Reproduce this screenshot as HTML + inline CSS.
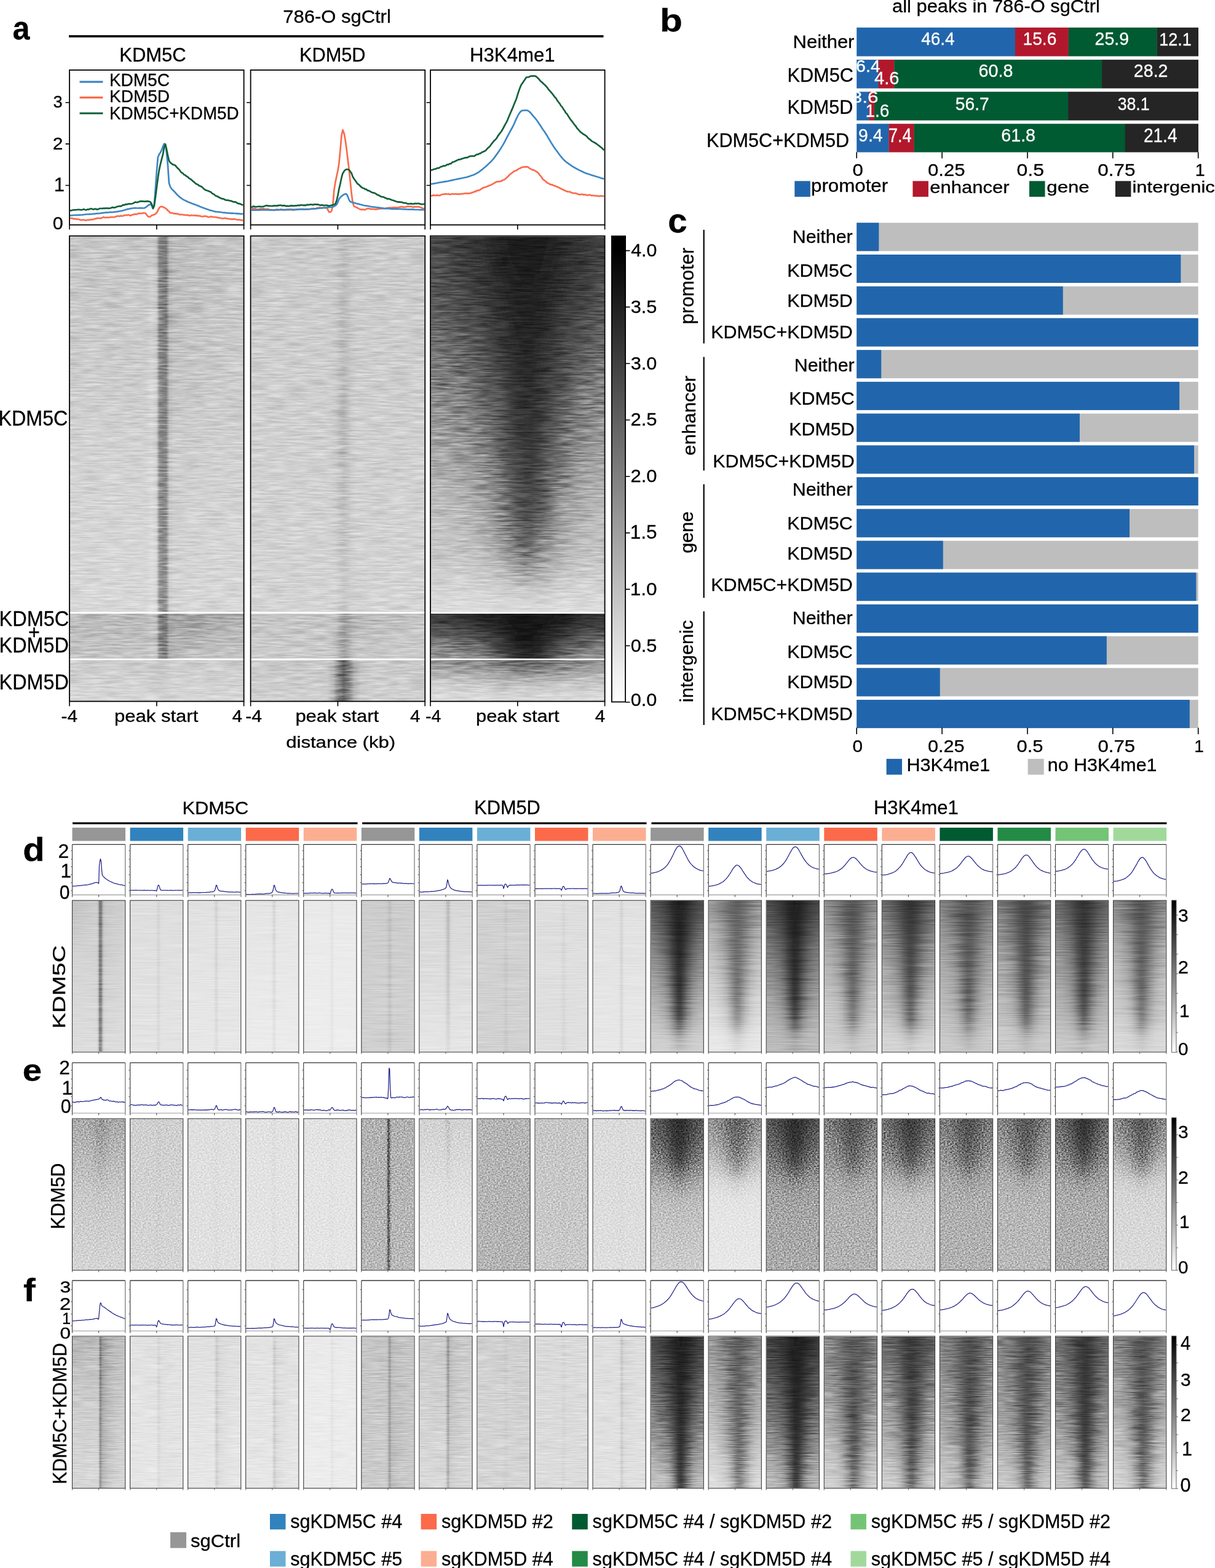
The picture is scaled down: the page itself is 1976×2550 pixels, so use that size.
<!DOCTYPE html>
<html><head><meta charset="utf-8"><style>
html,body{margin:0;padding:0;background:#fff;}
body{width:1976px;height:2550px;position:relative;overflow:hidden;font-family:"Liberation Sans",Arial,sans-serif;}
.hm{position:absolute;overflow:hidden;}
.hi{position:absolute;left:0;width:100%;}
.hi i{display:block;}
svg{position:absolute;left:0;top:0;}
text{stroke:#000;stroke-width:.3px}
</style></head><body>
<svg width="0" height="0" style="position:absolute"><defs>
<filter id="vb1" x="0" y="-5%" width="100%" height="110%"><feGaussianBlur stdDeviation="0 7"/></filter>
<filter id="vb2" x="0" y="-5%" width="100%" height="110%"><feGaussianBlur stdDeviation="0 6"/></filter>
</defs></svg>
<div class="hm" style="left:114.0px;top:384.7px;width:281.6px;height:610.4px;"><div class="hi" style="top:-12px;filter:url(#vb1);"><i style="height:12px;background:linear-gradient(90deg,#c6c6c6,#c6c6c6 12.5%,#c6c6c6 25.0%,#c6c6c6 37.5%,#c6c6c6 43.8%,#cdcdcd 47.2%,#c4c4c4 49.8%,#898989 51.6%,#808080 53.5%,#787878 55.4%,#aeaeae 57.2%,#b9b9b9 59.8%,#bcbcbc 64.8%,#bebebe 68.8%,#c2c2c2 81.2%,#c4c4c4 91.2%,#c4c4c4)"></i><i style="height:15.26px;background:linear-gradient(90deg,#c6c6c6,#c6c6c6 12.5%,#c6c6c6 25.0%,#c6c6c6 37.5%,#c6c6c6 43.8%,#cdcdcd 47.2%,#c4c4c4 49.8%,#898989 51.6%,#808080 53.5%,#787878 55.4%,#afafaf 57.2%,#b9b9b9 59.8%,#bcbcbc 64.8%,#bebebe 68.8%,#c2c2c2 81.2%,#c4c4c4 91.2%,#c5c5c5)"></i><i style="height:15.26px;background:linear-gradient(90deg,#c7c7c7,#c7c7c7 12.5%,#c7c7c7 25.0%,#c7c7c7 37.5%,#c7c7c7 43.8%,#cecece 47.2%,#c5c5c5 49.8%,#898989 51.6%,#808080 53.5%,#797979 55.4%,#b0b0b0 57.2%,#bababa 59.8%,#bdbdbd 64.8%,#bfbfbf 68.8%,#c3c3c3 81.2%,#c4c4c4 91.2%,#c5c5c5)"></i><i style="height:15.26px;background:linear-gradient(90deg,#c7c7c7,#c7c7c7 12.5%,#c7c7c7 25.0%,#c7c7c7 37.5%,#c7c7c7 43.8%,#cecece 47.2%,#c5c5c5 49.8%,#898989 51.6%,#808080 53.5%,#7a7a7a 55.4%,#b0b0b0 57.2%,#bbbbbb 59.8%,#bebebe 64.8%,#c0c0c0 68.8%,#c3c3c3 81.2%,#c5c5c5 91.2%,#c6c6c6)"></i><i style="height:15.26px;background:linear-gradient(90deg,#c7c7c7,#c7c7c7 12.5%,#c7c7c7 25.0%,#c7c7c7 37.5%,#c7c7c7 43.8%,#cecece 47.2%,#c6c6c6 49.8%,#898989 51.6%,#808080 53.5%,#7a7a7a 55.4%,#b1b1b1 57.2%,#bcbcbc 59.8%,#bebebe 64.8%,#c0c0c0 68.8%,#c4c4c4 81.2%,#c5c5c5 91.2%,#c6c6c6)"></i><i style="height:15.26px;background:linear-gradient(90deg,#c8c8c8,#c8c8c8 12.5%,#c8c8c8 25.0%,#c8c8c8 37.5%,#c8c8c8 43.8%,#cfcfcf 47.2%,#c6c6c6 49.8%,#8a8a8a 51.6%,#818181 53.5%,#7b7b7b 55.4%,#b2b2b2 57.2%,#bcbcbc 59.8%,#bfbfbf 64.8%,#c1c1c1 68.8%,#c4c4c4 81.2%,#c6c6c6 91.2%,#c7c7c7)"></i><i style="height:15.26px;background:linear-gradient(90deg,#c8c8c8,#c8c8c8 12.5%,#c8c8c8 25.0%,#c8c8c8 37.5%,#c8c8c8 43.8%,#cfcfcf 47.2%,#c7c7c7 49.8%,#8a8a8a 51.6%,#818181 53.5%,#7b7b7b 55.4%,#b3b3b3 57.2%,#bdbdbd 59.8%,#c0c0c0 64.8%,#c1c1c1 68.8%,#c5c5c5 81.2%,#c6c6c6 91.2%,#c7c7c7)"></i><i style="height:15.26px;background:linear-gradient(90deg,#c9c9c9,#c9c9c9 12.5%,#c9c9c9 25.0%,#c9c9c9 37.5%,#c9c9c9 43.8%,#d0d0d0 47.2%,#c7c7c7 49.8%,#8a8a8a 51.6%,#818181 53.5%,#7c7c7c 55.4%,#b4b4b4 57.2%,#bebebe 59.8%,#c0c0c0 64.8%,#c2c2c2 68.8%,#c5c5c5 81.2%,#c7c7c7 91.2%,#c7c7c7)"></i><i style="height:15.26px;background:linear-gradient(90deg,#c9c9c9,#c9c9c9 12.5%,#c9c9c9 25.0%,#c9c9c9 37.5%,#c9c9c9 43.8%,#d0d0d0 47.2%,#c8c8c8 49.8%,#8a8a8a 51.6%,#818181 53.5%,#7c7c7c 55.4%,#b4b4b4 57.2%,#bebebe 59.8%,#c1c1c1 64.8%,#c2c2c2 68.8%,#c6c6c6 81.2%,#c7c7c7 91.2%,#c8c8c8)"></i><i style="height:15.26px;background:linear-gradient(90deg,#cacaca,#cacaca 12.5%,#cacaca 25.0%,#cacaca 37.5%,#cacaca 43.8%,#d1d1d1 47.2%,#c8c8c8 49.8%,#8a8a8a 51.6%,#818181 53.5%,#7d7d7d 55.4%,#b5b5b5 57.2%,#bfbfbf 59.8%,#c2c2c2 64.8%,#c3c3c3 68.8%,#c6c6c6 81.2%,#c8c8c8 91.2%,#c8c8c8)"></i><i style="height:15.26px;background:linear-gradient(90deg,#cacaca,#cacaca 12.5%,#cacaca 25.0%,#cacaca 37.5%,#cacaca 43.8%,#d1d1d1 47.2%,#c8c8c8 49.8%,#8a8a8a 51.6%,#818181 53.5%,#7d7d7d 55.4%,#b6b6b6 57.2%,#c0c0c0 59.8%,#c2c2c2 64.8%,#c4c4c4 68.8%,#c7c7c7 81.2%,#c8c8c8 91.2%,#c9c9c9)"></i><i style="height:15.26px;background:linear-gradient(90deg,#cacaca,#cacaca 12.5%,#cacaca 25.0%,#cacaca 37.5%,#cacaca 43.8%,#d1d1d1 47.2%,#c9c9c9 49.8%,#8b8b8b 51.6%,#818181 53.5%,#7e7e7e 55.4%,#b7b7b7 57.2%,#c0c0c0 59.8%,#c3c3c3 64.8%,#c4c4c4 68.8%,#c7c7c7 81.2%,#c9c9c9 91.2%,#c9c9c9)"></i><i style="height:15.26px;background:linear-gradient(90deg,#cbcbcb,#cbcbcb 12.5%,#cbcbcb 25.0%,#cbcbcb 37.5%,#cbcbcb 43.8%,#d2d2d2 47.2%,#c9c9c9 49.8%,#8b8b8b 51.6%,#818181 53.5%,#7f7f7f 55.4%,#b7b7b7 57.2%,#c1c1c1 59.8%,#c3c3c3 64.8%,#c5c5c5 68.8%,#c8c8c8 81.2%,#c9c9c9 91.2%,#cacaca)"></i><i style="height:15.26px;background:linear-gradient(90deg,#cbcbcb,#cbcbcb 12.5%,#cbcbcb 25.0%,#cbcbcb 37.5%,#cbcbcb 43.8%,#d2d2d2 47.2%,#cacaca 49.8%,#8b8b8b 51.6%,#828282 53.5%,#7f7f7f 55.4%,#b8b8b8 57.2%,#c2c2c2 59.8%,#c4c4c4 64.8%,#c6c6c6 68.8%,#c8c8c8 81.2%,#cacaca 91.2%,#cacaca)"></i><i style="height:15.26px;background:linear-gradient(90deg,#cccccc,#cccccc 12.5%,#cccccc 25.0%,#cccccc 37.5%,#cccccc 43.8%,#d3d3d3 47.2%,#cbcbcb 49.8%,#8b8b8b 51.6%,#828282 53.5%,#808080 55.4%,#b9b9b9 57.2%,#c3c3c3 59.8%,#c5c5c5 64.8%,#c6c6c6 68.8%,#c9c9c9 81.2%,#cacaca 91.2%,#cbcbcb)"></i><i style="height:15.26px;background:linear-gradient(90deg,#cccccc,#cccccc 12.5%,#cccccc 25.0%,#cccccc 37.5%,#cccccc 43.8%,#d3d3d3 47.2%,#cbcbcb 49.8%,#8c8c8c 51.6%,#828282 53.5%,#818181 55.4%,#bababa 57.2%,#c4c4c4 59.8%,#c6c6c6 64.8%,#c7c7c7 68.8%,#cacaca 81.2%,#cbcbcb 91.2%,#cbcbcb)"></i><i style="height:15.26px;background:linear-gradient(90deg,#cdcdcd,#cdcdcd 12.5%,#cdcdcd 25.0%,#cdcdcd 37.5%,#cdcdcd 43.8%,#d4d4d4 47.2%,#cccccc 49.8%,#8c8c8c 51.6%,#828282 53.5%,#818181 55.4%,#bbbbbb 57.2%,#c5c5c5 59.8%,#c7c7c7 64.8%,#c8c8c8 68.8%,#cacaca 81.2%,#cbcbcb 91.2%,#cccccc)"></i><i style="height:15.26px;background:linear-gradient(90deg,#cecece,#cecece 12.5%,#cecece 25.0%,#cecece 37.5%,#cecece 43.8%,#d5d5d5 47.2%,#cccccc 49.8%,#8d8d8d 51.6%,#838383 53.5%,#828282 55.4%,#bcbcbc 57.2%,#c5c5c5 59.8%,#c7c7c7 64.8%,#c9c9c9 68.8%,#cbcbcb 81.2%,#cccccc 91.2%,#cdcdcd)"></i><i style="height:15.26px;background:linear-gradient(90deg,#cecece,#cecece 12.5%,#cecece 25.0%,#cecece 37.5%,#cecece 43.8%,#d5d5d5 47.2%,#cdcdcd 49.8%,#8d8d8d 51.6%,#838383 53.5%,#838383 55.4%,#bdbdbd 57.2%,#c6c6c6 59.8%,#c8c8c8 64.8%,#c9c9c9 68.8%,#cccccc 81.2%,#cdcdcd 91.2%,#cdcdcd)"></i><i style="height:15.26px;background:linear-gradient(90deg,#cfcfcf,#cfcfcf 12.5%,#cfcfcf 25.0%,#cfcfcf 37.5%,#cfcfcf 43.8%,#d6d6d6 47.2%,#cecece 49.8%,#8d8d8d 51.6%,#838383 53.5%,#838383 55.4%,#bebebe 57.2%,#c7c7c7 59.8%,#c9c9c9 64.8%,#cacaca 68.8%,#cccccc 81.2%,#cdcdcd 91.2%,#cecece)"></i><i style="height:15.26px;background:linear-gradient(90deg,#cfcfcf,#cfcfcf 12.5%,#cfcfcf 25.0%,#cfcfcf 37.5%,#cfcfcf 43.8%,#d6d6d6 47.2%,#cecece 49.8%,#8e8e8e 51.6%,#848484 53.5%,#848484 55.4%,#bfbfbf 57.2%,#c8c8c8 59.8%,#cacaca 64.8%,#cbcbcb 68.8%,#cdcdcd 81.2%,#cecece 91.2%,#cfcfcf)"></i><i style="height:15.26px;background:linear-gradient(90deg,#d0d0d0,#d0d0d0 12.5%,#d0d0d0 25.0%,#d0d0d0 37.5%,#d0d0d0 43.8%,#d7d7d7 47.2%,#cfcfcf 49.8%,#8e8e8e 51.6%,#848484 53.5%,#858585 55.4%,#c0c0c0 57.2%,#c9c9c9 59.8%,#cbcbcb 64.8%,#cccccc 68.8%,#cecece 81.2%,#cfcfcf 91.2%,#cfcfcf)"></i><i style="height:15.26px;background:linear-gradient(90deg,#d1d1d1,#d1d1d1 12.5%,#d1d1d1 25.0%,#d1d1d1 37.5%,#d1d1d1 43.8%,#d8d8d8 47.2%,#d0d0d0 49.8%,#8f8f8f 51.6%,#858585 53.5%,#868686 55.4%,#c1c1c1 57.2%,#cacaca 59.8%,#cbcbcb 64.8%,#cccccc 68.8%,#cecece 81.2%,#cfcfcf 91.2%,#d0d0d0)"></i><i style="height:15.26px;background:linear-gradient(90deg,#d1d1d1,#d1d1d1 12.5%,#d1d1d1 25.0%,#d1d1d1 37.5%,#d1d1d1 43.8%,#d8d8d8 47.2%,#d0d0d0 49.8%,#909090 51.6%,#858585 53.5%,#878787 55.4%,#c2c2c2 57.2%,#cacaca 59.8%,#cccccc 64.8%,#cdcdcd 68.8%,#cfcfcf 81.2%,#d0d0d0 91.2%,#d0d0d0)"></i><i style="height:15.26px;background:linear-gradient(90deg,#d2d2d2,#d2d2d2 12.5%,#d2d2d2 25.0%,#d2d2d2 37.5%,#d2d2d2 43.8%,#d9d9d9 47.2%,#d1d1d1 49.8%,#909090 51.6%,#868686 53.5%,#888888 55.4%,#c3c3c3 57.2%,#cbcbcb 59.8%,#cdcdcd 64.8%,#cecece 68.8%,#d0d0d0 81.2%,#d1d1d1 91.2%,#d1d1d1)"></i><i style="height:15.26px;background:linear-gradient(90deg,#d2d2d2,#d2d2d2 12.5%,#d2d2d2 25.0%,#d2d2d2 37.5%,#d2d2d2 43.8%,#d9d9d9 47.2%,#d2d2d2 49.8%,#919191 51.6%,#878787 53.5%,#898989 55.4%,#c3c3c3 57.2%,#cccccc 59.8%,#cdcdcd 64.8%,#cecece 68.8%,#d0d0d0 81.2%,#d1d1d1 91.2%,#d1d1d1)"></i><i style="height:15.26px;background:linear-gradient(90deg,#d3d3d3,#d3d3d3 12.5%,#d3d3d3 25.0%,#d3d3d3 37.5%,#d3d3d3 43.8%,#dadada 47.2%,#d2d2d2 49.8%,#919191 51.6%,#878787 53.5%,#8a8a8a 55.4%,#c4c4c4 57.2%,#cdcdcd 59.8%,#cecece 64.8%,#cfcfcf 68.8%,#d1d1d1 81.2%,#d1d1d1 91.2%,#d2d2d2)"></i><i style="height:15.26px;background:linear-gradient(90deg,#d3d3d3,#d3d3d3 12.5%,#d3d3d3 25.0%,#d3d3d3 37.5%,#d3d3d3 43.8%,#dadada 47.2%,#d2d2d2 49.8%,#929292 51.6%,#888888 53.5%,#8a8a8a 55.4%,#c5c5c5 57.2%,#cdcdcd 59.8%,#cfcfcf 64.8%,#cfcfcf 68.8%,#d1d1d1 81.2%,#d2d2d2 91.2%,#d2d2d2)"></i><i style="height:15.26px;background:linear-gradient(90deg,#d3d3d3,#d3d3d3 12.5%,#d3d3d3 25.0%,#d3d3d3 37.5%,#d3d3d3 43.8%,#dadada 47.2%,#d3d3d3 49.8%,#929292 51.6%,#888888 53.5%,#8b8b8b 55.4%,#c6c6c6 57.2%,#cecece 59.8%,#cfcfcf 64.8%,#d0d0d0 68.8%,#d2d2d2 81.2%,#d2d2d2 91.2%,#d3d3d3)"></i><i style="height:15.26px;background:linear-gradient(90deg,#d4d4d4,#d4d4d4 12.5%,#d4d4d4 25.0%,#d4d4d4 37.5%,#d4d4d4 43.8%,#dbdbdb 47.2%,#d3d3d3 49.8%,#939393 51.6%,#898989 53.5%,#8c8c8c 55.4%,#c6c6c6 57.2%,#cecece 59.8%,#d0d0d0 64.8%,#d0d0d0 68.8%,#d2d2d2 81.2%,#d3d3d3 91.2%,#d3d3d3)"></i><i style="height:15.26px;background:linear-gradient(90deg,#d4d4d4,#d4d4d4 12.5%,#d4d4d4 25.0%,#d4d4d4 37.5%,#d4d4d4 43.8%,#dbdbdb 47.2%,#d4d4d4 49.8%,#939393 51.6%,#898989 53.5%,#8d8d8d 55.4%,#c7c7c7 57.2%,#cfcfcf 59.8%,#d0d0d0 64.8%,#d1d1d1 68.8%,#d2d2d2 81.2%,#d3d3d3 91.2%,#d3d3d3)"></i><i style="height:15.26px;background:linear-gradient(90deg,#d4d4d4,#d4d4d4 12.5%,#d4d4d4 25.0%,#d4d4d4 37.5%,#d4d4d4 43.8%,#dbdbdb 47.2%,#d4d4d4 49.8%,#949494 51.6%,#898989 53.5%,#8e8e8e 55.4%,#c8c8c8 57.2%,#d0d0d0 59.8%,#d1d1d1 64.8%,#d1d1d1 68.8%,#d3d3d3 81.2%,#d4d4d4 91.2%,#d4d4d4)"></i><i style="height:15.26px;background:linear-gradient(90deg,#d5d5d5,#d5d5d5 12.5%,#d5d5d5 25.0%,#d5d5d5 37.5%,#d5d5d5 43.8%,#dcdcdc 47.2%,#d5d5d5 49.8%,#949494 51.6%,#8a8a8a 53.5%,#8e8e8e 55.4%,#c8c8c8 57.2%,#d0d0d0 59.8%,#d1d1d1 64.8%,#d2d2d2 68.8%,#d3d3d3 81.2%,#d4d4d4 91.2%,#d4d4d4)"></i><i style="height:15.26px;background:linear-gradient(90deg,#d5d5d5,#d5d5d5 12.5%,#d5d5d5 25.0%,#d5d5d5 37.5%,#d5d5d5 43.8%,#dcdcdc 47.2%,#d5d5d5 49.8%,#959595 51.6%,#8a8a8a 53.5%,#8f8f8f 55.4%,#c9c9c9 57.2%,#d1d1d1 59.8%,#d2d2d2 64.8%,#d2d2d2 68.8%,#d4d4d4 81.2%,#d4d4d4 91.2%,#d5d5d5)"></i><i style="height:15.26px;background:linear-gradient(90deg,#d6d6d6,#d6d6d6 12.5%,#d6d6d6 25.0%,#d6d6d6 37.5%,#d6d6d6 43.8%,#dddddd 47.2%,#d6d6d6 49.8%,#959595 51.6%,#8b8b8b 53.5%,#909090 55.4%,#cacaca 57.2%,#d1d1d1 59.8%,#d2d2d2 64.8%,#d3d3d3 68.8%,#d4d4d4 81.2%,#d5d5d5 91.2%,#d5d5d5)"></i><i style="height:15.26px;background:linear-gradient(90deg,#d6d6d6,#d6d6d6 12.5%,#d6d6d6 25.0%,#d6d6d6 37.5%,#d6d6d6 43.8%,#dddddd 47.2%,#d6d6d6 49.8%,#969696 51.6%,#8b8b8b 53.5%,#919191 55.4%,#cacaca 57.2%,#d2d2d2 59.8%,#d3d3d3 64.8%,#d3d3d3 68.8%,#d5d5d5 81.2%,#d5d5d5 91.2%,#d5d5d5)"></i><i style="height:15.26px;background:linear-gradient(90deg,#d6d6d6,#d6d6d6 12.5%,#d6d6d6 25.0%,#d6d6d6 37.5%,#d6d6d6 43.8%,#dddddd 47.2%,#d7d7d7 49.8%,#969696 51.6%,#8c8c8c 53.5%,#919191 55.4%,#cbcbcb 57.2%,#d2d2d2 59.8%,#d3d3d3 64.8%,#d4d4d4 68.8%,#d5d5d5 81.2%,#d6d6d6 91.2%,#d6d6d6)"></i><i style="height:15.26px;background:linear-gradient(90deg,#d7d7d7,#d7d7d7 12.5%,#d7d7d7 25.0%,#d7d7d7 37.5%,#d7d7d7 43.8%,#dedede 47.2%,#d7d7d7 49.8%,#979797 51.6%,#8c8c8c 53.5%,#929292 55.4%,#cccccc 57.2%,#d3d3d3 59.8%,#d4d4d4 64.8%,#d4d4d4 68.8%,#d6d6d6 81.2%,#d6d6d6 91.2%,#d6d6d6)"></i><i style="height:15.26px;background:linear-gradient(90deg,#d7d7d7,#d7d7d7 12.5%,#d7d7d7 25.0%,#d7d7d7 37.5%,#d7d7d7 43.8%,#dedede 47.2%,#d7d7d7 49.8%,#979797 51.6%,#8d8d8d 53.5%,#939393 55.4%,#cdcdcd 57.2%,#d4d4d4 59.8%,#d4d4d4 64.8%,#d5d5d5 68.8%,#d6d6d6 81.2%,#d6d6d6 91.2%,#d7d7d7)"></i><i style="height:15.26px;background:linear-gradient(90deg,#d7d7d7,#d7d7d7 12.5%,#d7d7d7 25.0%,#d7d7d7 37.5%,#d7d7d7 43.8%,#dedede 47.2%,#d8d8d8 49.8%,#989898 51.6%,#8d8d8d 53.5%,#949494 55.4%,#cdcdcd 57.2%,#d4d4d4 59.8%,#d5d5d5 64.8%,#d5d5d5 68.8%,#d6d6d6 81.2%,#d7d7d7 91.2%,#d7d7d7)"></i><i style="height:15.26px;background:linear-gradient(90deg,#d8d8d8,#d8d8d8 12.5%,#d8d8d8 25.0%,#d8d8d8 37.5%,#d8d8d8 43.8%,#dfdfdf 47.2%,#d8d8d8 49.8%,#989898 51.6%,#8e8e8e 53.5%,#949494 55.4%,#cecece 57.2%,#d5d5d5 59.8%,#d6d6d6 64.8%,#d6d6d6 68.8%,#d7d7d7 81.2%,#d7d7d7 91.2%,#d7d7d7)"></i><i style="height:12px;background:linear-gradient(90deg,#d8d8d8,#d8d8d8 12.5%,#d8d8d8 25.0%,#d8d8d8 37.5%,#d8d8d8 43.8%,#dfdfdf 47.2%,#d9d9d9 49.8%,#999999 51.6%,#8e8e8e 53.5%,#959595 55.4%,#cecece 57.2%,#d5d5d5 59.8%,#d6d6d6 64.8%,#d6d6d6 68.8%,#d7d7d7 81.2%,#d7d7d7 91.2%,#d8d8d8)"></i></div></div>
<div class="hm" style="left:114.0px;top:997.5px;width:281.6px;height:73.5px;"><div class="hi" style="top:-12px;filter:url(#vb1);"><i style="height:12px;background:linear-gradient(90deg,#b9b9b9,#b9b9b9 12.5%,#b9b9b9 25.0%,#b9b9b9 37.5%,#b9b9b9 43.8%,#c0c0c0 47.2%,#b8b8b8 49.8%,#818181 51.6%,#767676 53.5%,#777777 55.4%,#9e9e9e 57.2%,#a1a1a1 59.8%,#9f9f9f 64.8%,#9f9f9f 68.8%,#a0a0a0 81.2%,#a3a3a3 91.2%,#a9a9a9)"></i><i style="height:9.19px;background:linear-gradient(90deg,#bababa,#bababa 12.5%,#bababa 25.0%,#bababa 37.5%,#bababa 43.8%,#c1c1c1 47.2%,#b9b9b9 49.8%,#828282 51.6%,#777777 53.5%,#787878 55.4%,#9f9f9f 57.2%,#a2a2a2 59.8%,#a1a1a1 64.8%,#a1a1a1 68.8%,#a2a2a2 81.2%,#a6a6a6 91.2%,#adadad)"></i><i style="height:9.19px;background:linear-gradient(90deg,#bbbbbb,#bbbbbb 12.5%,#bbbbbb 25.0%,#bbbbbb 37.5%,#bbbbbb 43.8%,#c2c2c2 47.2%,#bababa 49.8%,#838383 51.6%,#787878 53.5%,#797979 55.4%,#a2a2a2 57.2%,#a5a5a5 59.8%,#a4a4a4 64.8%,#a4a4a4 68.8%,#a6a6a6 81.2%,#acacac 91.2%,#b4b4b4)"></i><i style="height:9.19px;background:linear-gradient(90deg,#bdbdbd,#bdbdbd 12.5%,#bdbdbd 25.0%,#bdbdbd 37.5%,#bdbdbd 43.8%,#c4c4c4 47.2%,#bcbcbc 49.8%,#848484 51.6%,#797979 53.5%,#7b7b7b 55.4%,#a5a5a5 57.2%,#a8a8a8 59.8%,#a7a7a7 64.8%,#a7a7a7 68.8%,#ababab 81.2%,#b3b3b3 91.2%,#b9b9b9)"></i><i style="height:9.19px;background:linear-gradient(90deg,#bebebe,#bebebe 12.5%,#bebebe 25.0%,#bebebe 37.5%,#bebebe 43.8%,#c5c5c5 47.2%,#bebebe 49.8%,#868686 51.6%,#7a7a7a 53.5%,#7d7d7d 55.4%,#a8a8a8 57.2%,#ababab 59.8%,#aaaaaa 64.8%,#ababab 68.8%,#b2b2b2 81.2%,#b9b9b9 91.2%,#bdbdbd)"></i><i style="height:9.19px;background:linear-gradient(90deg,#c0c0c0,#c0c0c0 12.5%,#c0c0c0 25.0%,#c0c0c0 37.5%,#c0c0c0 43.8%,#c7c7c7 47.2%,#c0c0c0 49.8%,#878787 51.6%,#7c7c7c 53.5%,#7f7f7f 55.4%,#ababab 57.2%,#aeaeae 59.8%,#aeaeae 64.8%,#b0b0b0 68.8%,#b8b8b8 81.2%,#bdbdbd 91.2%,#bfbfbf)"></i><i style="height:9.19px;background:linear-gradient(90deg,#c1c1c1,#c1c1c1 12.5%,#c1c1c1 25.0%,#c1c1c1 37.5%,#c1c1c1 43.8%,#c8c8c8 47.2%,#c2c2c2 49.8%,#888888 51.6%,#7d7d7d 53.5%,#818181 55.4%,#aeaeae 57.2%,#b2b2b2 59.8%,#b3b3b3 64.8%,#b5b5b5 68.8%,#bdbdbd 81.2%,#c0c0c0 91.2%,#c1c1c1)"></i><i style="height:9.19px;background:linear-gradient(90deg,#c3c3c3,#c3c3c3 12.5%,#c3c3c3 25.0%,#c3c3c3 37.5%,#c3c3c3 43.8%,#cacaca 47.2%,#c3c3c3 49.8%,#8a8a8a 51.6%,#7f7f7f 53.5%,#848484 55.4%,#b2b2b2 57.2%,#b7b7b7 59.8%,#b8b8b8 64.8%,#bbbbbb 68.8%,#c1c1c1 81.2%,#c2c2c2 91.2%,#c3c3c3)"></i><i style="height:9.19px;background:linear-gradient(90deg,#c4c4c4,#c4c4c4 12.5%,#c4c4c4 25.0%,#c4c4c4 37.5%,#c4c4c4 43.8%,#cbcbcb 47.2%,#c5c5c5 49.8%,#8b8b8b 51.6%,#808080 53.5%,#868686 55.4%,#b6b6b6 57.2%,#bcbcbc 59.8%,#bebebe 64.8%,#c0c0c0 68.8%,#c4c4c4 81.2%,#c4c4c4 91.2%,#c4c4c4)"></i><i style="height:12px;background:linear-gradient(90deg,#c5c5c5,#c5c5c5 12.5%,#c5c5c5 25.0%,#c5c5c5 37.5%,#c5c5c5 43.8%,#cccccc 47.2%,#c6c6c6 49.8%,#8c8c8c 51.6%,#818181 53.5%,#888888 55.4%,#b9b9b9 57.2%,#bebebe 59.8%,#c0c0c0 64.8%,#c2c2c2 68.8%,#c5c5c5 81.2%,#c5c5c5 91.2%,#c5c5c5)"></i></div></div>
<div class="hm" style="left:114.0px;top:1073.4px;width:281.6px;height:66.2px;"><div class="hi" style="top:-12px;filter:url(#vb1);"><i style="height:12px;background:linear-gradient(90deg,#cbcbcb,#cbcbcb 12.5%,#cbcbcb 25.0%,#cbcbcb 37.5%,#cbcbcb 43.8%,#cbcbcb 46.0%,#c9c9c9 49.0%,#c5c5c5 51.2%,#c3c3c3 53.5%,#c5c5c5 55.8%,#c9c9c9 58.0%,#cbcbcb 61.0%,#cbcbcb 66.0%,#cbcbcb 68.8%,#cbcbcb 81.2%,#cbcbcb 91.2%,#cbcbcb)"></i><i style="height:8.27px;background:linear-gradient(90deg,#cccccc,#cccccc 12.5%,#cccccc 25.0%,#cccccc 37.5%,#cccccc 43.8%,#cccccc 46.0%,#cacaca 49.0%,#c6c6c6 51.2%,#c4c4c4 53.5%,#c6c6c6 55.8%,#cacaca 58.0%,#cccccc 61.0%,#cccccc 66.0%,#cccccc 68.8%,#cccccc 81.2%,#cccccc 91.2%,#cccccc)"></i><i style="height:8.27px;background:linear-gradient(90deg,#cdcdcd,#cdcdcd 12.5%,#cdcdcd 25.0%,#cdcdcd 37.5%,#cdcdcd 43.8%,#cdcdcd 46.0%,#cbcbcb 49.0%,#c8c8c8 51.2%,#c6c6c6 53.5%,#c8c8c8 55.8%,#cbcbcb 58.0%,#cdcdcd 61.0%,#cdcdcd 66.0%,#cdcdcd 68.8%,#cdcdcd 81.2%,#cdcdcd 91.2%,#cdcdcd)"></i><i style="height:8.27px;background:linear-gradient(90deg,#cfcfcf,#cfcfcf 12.5%,#cfcfcf 25.0%,#cfcfcf 37.5%,#cfcfcf 43.8%,#cfcfcf 46.0%,#cdcdcd 49.0%,#cacaca 51.2%,#c8c8c8 53.5%,#cacaca 55.8%,#cdcdcd 58.0%,#cfcfcf 61.0%,#cfcfcf 66.0%,#cfcfcf 68.8%,#cfcfcf 81.2%,#cfcfcf 91.2%,#cfcfcf)"></i><i style="height:8.27px;background:linear-gradient(90deg,#d0d0d0,#d0d0d0 12.5%,#d0d0d0 25.0%,#d0d0d0 37.5%,#d0d0d0 43.8%,#d0d0d0 46.0%,#cfcfcf 49.0%,#cccccc 51.2%,#cacaca 53.5%,#cccccc 55.8%,#cfcfcf 58.0%,#d0d0d0 61.0%,#d0d0d0 66.0%,#d0d0d0 68.8%,#d0d0d0 81.2%,#d0d0d0 91.2%,#d0d0d0)"></i><i style="height:8.27px;background:linear-gradient(90deg,#d2d2d2,#d2d2d2 12.5%,#d2d2d2 25.0%,#d2d2d2 37.5%,#d2d2d2 43.8%,#d2d2d2 46.0%,#d0d0d0 49.0%,#cdcdcd 51.2%,#cbcbcb 53.5%,#cdcdcd 55.8%,#d0d0d0 58.0%,#d2d2d2 61.0%,#d2d2d2 66.0%,#d2d2d2 68.8%,#d2d2d2 81.2%,#d2d2d2 91.2%,#d2d2d2)"></i><i style="height:8.27px;background:linear-gradient(90deg,#d3d3d3,#d3d3d3 12.5%,#d3d3d3 25.0%,#d3d3d3 37.5%,#d3d3d3 43.8%,#d3d3d3 46.0%,#d2d2d2 49.0%,#cfcfcf 51.2%,#cdcdcd 53.5%,#cfcfcf 55.8%,#d2d2d2 58.0%,#d3d3d3 61.0%,#d3d3d3 66.0%,#d3d3d3 68.8%,#d3d3d3 81.2%,#d3d3d3 91.2%,#d3d3d3)"></i><i style="height:8.27px;background:linear-gradient(90deg,#d5d5d5,#d5d5d5 12.5%,#d5d5d5 25.0%,#d5d5d5 37.5%,#d5d5d5 43.8%,#d5d5d5 46.0%,#d3d3d3 49.0%,#d1d1d1 51.2%,#cfcfcf 53.5%,#d1d1d1 55.8%,#d3d3d3 58.0%,#d5d5d5 61.0%,#d5d5d5 66.0%,#d5d5d5 68.8%,#d5d5d5 81.2%,#d5d5d5 91.2%,#d5d5d5)"></i><i style="height:8.27px;background:linear-gradient(90deg,#d6d6d6,#d6d6d6 12.5%,#d6d6d6 25.0%,#d6d6d6 37.5%,#d6d6d6 43.8%,#d6d6d6 46.0%,#d5d5d5 49.0%,#d3d3d3 51.2%,#d1d1d1 53.5%,#d3d3d3 55.8%,#d5d5d5 58.0%,#d6d6d6 61.0%,#d6d6d6 66.0%,#d6d6d6 68.8%,#d6d6d6 81.2%,#d6d6d6 91.2%,#d6d6d6)"></i><i style="height:12px;background:linear-gradient(90deg,#d7d7d7,#d7d7d7 12.5%,#d7d7d7 25.0%,#d7d7d7 37.5%,#d7d7d7 43.8%,#d7d7d7 46.0%,#d6d6d6 49.0%,#d4d4d4 51.2%,#d2d2d2 53.5%,#d4d4d4 55.8%,#d6d6d6 58.0%,#d7d7d7 61.0%,#d7d7d7 66.0%,#d7d7d7 68.8%,#d7d7d7 81.2%,#d7d7d7 91.2%,#d7d7d7)"></i></div></div>
<div class="hm" style="left:408.6px;top:384.7px;width:281.6px;height:610.4px;"><div class="hi" style="top:-12px;filter:url(#vb1);"><i style="height:12px;background:linear-gradient(90deg,#cbcbcb,#cbcbcb 12.5%,#cbcbcb 25.0%,#cbcbcb 37.5%,#cbcbcb 43.8%,#cbcbcb 45.9%,#c7c7c7 48.9%,#c0c0c0 51.1%,#bbbbbb 53.4%,#c0c0c0 55.6%,#c7c7c7 57.9%,#cbcbcb 60.9%,#cbcbcb 65.9%,#cbcbcb 68.8%,#cbcbcb 81.2%,#cbcbcb 91.2%,#cbcbcb)"></i><i style="height:15.26px;background:linear-gradient(90deg,#cbcbcb,#cbcbcb 12.5%,#cbcbcb 25.0%,#cbcbcb 37.5%,#cbcbcb 43.8%,#cbcbcb 45.9%,#c7c7c7 48.9%,#c0c0c0 51.1%,#bbbbbb 53.4%,#c0c0c0 55.6%,#c7c7c7 57.9%,#cbcbcb 60.9%,#cbcbcb 65.9%,#cbcbcb 68.8%,#cbcbcb 81.2%,#cbcbcb 91.2%,#cbcbcb)"></i><i style="height:15.26px;background:linear-gradient(90deg,#cbcbcb,#cbcbcb 12.5%,#cbcbcb 25.0%,#cbcbcb 37.5%,#cbcbcb 43.8%,#cbcbcb 45.9%,#c7c7c7 48.9%,#c0c0c0 51.1%,#bbbbbb 53.4%,#c0c0c0 55.6%,#c7c7c7 57.9%,#cbcbcb 60.9%,#cbcbcb 65.9%,#cbcbcb 68.8%,#cbcbcb 81.2%,#cbcbcb 91.2%,#cbcbcb)"></i><i style="height:15.26px;background:linear-gradient(90deg,#cccccc,#cccccc 12.5%,#cccccc 25.0%,#cbcbcb 37.5%,#cbcbcb 43.8%,#cbcbcb 45.9%,#c8c8c8 48.9%,#c0c0c0 51.1%,#bbbbbb 53.4%,#c0c0c0 55.6%,#c8c8c8 57.9%,#cbcbcb 60.9%,#cbcbcb 65.9%,#cbcbcb 68.8%,#cccccc 81.2%,#cccccc 91.2%,#cccccc)"></i><i style="height:15.26px;background:linear-gradient(90deg,#cccccc,#cccccc 12.5%,#cccccc 25.0%,#cccccc 37.5%,#cccccc 43.8%,#cbcbcb 45.9%,#c8c8c8 48.9%,#c0c0c0 51.1%,#bbbbbb 53.4%,#c0c0c0 55.6%,#c8c8c8 57.9%,#cbcbcb 60.9%,#cccccc 65.9%,#cccccc 68.8%,#cccccc 81.2%,#cccccc 91.2%,#cccccc)"></i><i style="height:15.26px;background:linear-gradient(90deg,#cccccc,#cccccc 12.5%,#cccccc 25.0%,#cccccc 37.5%,#cccccc 43.8%,#cccccc 45.9%,#c8c8c8 48.9%,#c0c0c0 51.1%,#bbbbbb 53.4%,#c0c0c0 55.6%,#c8c8c8 57.9%,#cccccc 60.9%,#cccccc 65.9%,#cccccc 68.8%,#cccccc 81.2%,#cccccc 91.2%,#cccccc)"></i><i style="height:15.26px;background:linear-gradient(90deg,#cccccc,#cccccc 12.5%,#cccccc 25.0%,#cccccc 37.5%,#cccccc 43.8%,#cccccc 45.9%,#c8c8c8 48.9%,#c0c0c0 51.1%,#bababa 53.4%,#c0c0c0 55.6%,#c8c8c8 57.9%,#cccccc 60.9%,#cccccc 65.9%,#cccccc 68.8%,#cccccc 81.2%,#cccccc 91.2%,#cccccc)"></i><i style="height:15.26px;background:linear-gradient(90deg,#cccccc,#cccccc 12.5%,#cccccc 25.0%,#cccccc 37.5%,#cccccc 43.8%,#cccccc 45.9%,#c8c8c8 48.9%,#c0c0c0 51.1%,#bababa 53.4%,#c0c0c0 55.6%,#c8c8c8 57.9%,#cccccc 60.9%,#cccccc 65.9%,#cccccc 68.8%,#cccccc 81.2%,#cccccc 91.2%,#cccccc)"></i><i style="height:15.26px;background:linear-gradient(90deg,#cccccc,#cccccc 12.5%,#cccccc 25.0%,#cccccc 37.5%,#cccccc 43.8%,#cccccc 45.9%,#c8c8c8 48.9%,#c0c0c0 51.1%,#bababa 53.4%,#c0c0c0 55.6%,#c8c8c8 57.9%,#cccccc 60.9%,#cccccc 65.9%,#cccccc 68.8%,#cccccc 81.2%,#cccccc 91.2%,#cccccc)"></i><i style="height:15.26px;background:linear-gradient(90deg,#cdcdcd,#cdcdcd 12.5%,#cdcdcd 25.0%,#cdcdcd 37.5%,#cdcdcd 43.8%,#cccccc 45.9%,#c8c8c8 48.9%,#c0c0c0 51.1%,#bababa 53.4%,#c0c0c0 55.6%,#c8c8c8 57.9%,#cccccc 60.9%,#cdcdcd 65.9%,#cdcdcd 68.8%,#cdcdcd 81.2%,#cdcdcd 91.2%,#cdcdcd)"></i><i style="height:15.26px;background:linear-gradient(90deg,#cdcdcd,#cdcdcd 12.5%,#cdcdcd 25.0%,#cdcdcd 37.5%,#cdcdcd 43.8%,#cdcdcd 45.9%,#c8c8c8 48.9%,#c0c0c0 51.1%,#bababa 53.4%,#c0c0c0 55.6%,#c8c8c8 57.9%,#cdcdcd 60.9%,#cdcdcd 65.9%,#cdcdcd 68.8%,#cdcdcd 81.2%,#cdcdcd 91.2%,#cdcdcd)"></i><i style="height:15.26px;background:linear-gradient(90deg,#cdcdcd,#cdcdcd 12.5%,#cdcdcd 25.0%,#cdcdcd 37.5%,#cdcdcd 43.8%,#cdcdcd 45.9%,#c9c9c9 48.9%,#c0c0c0 51.1%,#bababa 53.4%,#c0c0c0 55.6%,#c9c9c9 57.9%,#cdcdcd 60.9%,#cdcdcd 65.9%,#cdcdcd 68.8%,#cdcdcd 81.2%,#cdcdcd 91.2%,#cdcdcd)"></i><i style="height:15.26px;background:linear-gradient(90deg,#cdcdcd,#cdcdcd 12.5%,#cdcdcd 25.0%,#cdcdcd 37.5%,#cdcdcd 43.8%,#cdcdcd 45.9%,#c9c9c9 48.9%,#c0c0c0 51.1%,#bababa 53.4%,#c0c0c0 55.6%,#c9c9c9 57.9%,#cdcdcd 60.9%,#cdcdcd 65.9%,#cdcdcd 68.8%,#cdcdcd 81.2%,#cdcdcd 91.2%,#cdcdcd)"></i><i style="height:15.26px;background:linear-gradient(90deg,#cecece,#cecece 12.5%,#cecece 25.0%,#cdcdcd 37.5%,#cdcdcd 43.8%,#cdcdcd 45.9%,#c9c9c9 48.9%,#c0c0c0 51.1%,#bababa 53.4%,#c0c0c0 55.6%,#c9c9c9 57.9%,#cdcdcd 60.9%,#cdcdcd 65.9%,#cdcdcd 68.8%,#cecece 81.2%,#cecece 91.2%,#cecece)"></i><i style="height:15.26px;background:linear-gradient(90deg,#cecece,#cecece 12.5%,#cecece 25.0%,#cecece 37.5%,#cecece 43.8%,#cdcdcd 45.9%,#c9c9c9 48.9%,#c0c0c0 51.1%,#bababa 53.4%,#c0c0c0 55.6%,#c9c9c9 57.9%,#cdcdcd 60.9%,#cecece 65.9%,#cecece 68.8%,#cecece 81.2%,#cecece 91.2%,#cecece)"></i><i style="height:15.26px;background:linear-gradient(90deg,#cecece,#cecece 12.5%,#cecece 25.0%,#cecece 37.5%,#cecece 43.8%,#cecece 45.9%,#c9c9c9 48.9%,#c0c0c0 51.1%,#bababa 53.4%,#c0c0c0 55.6%,#c9c9c9 57.9%,#cecece 60.9%,#cecece 65.9%,#cecece 68.8%,#cecece 81.2%,#cecece 91.2%,#cecece)"></i><i style="height:15.26px;background:linear-gradient(90deg,#cecece,#cecece 12.5%,#cecece 25.0%,#cecece 37.5%,#cecece 43.8%,#cecece 45.9%,#c9c9c9 48.9%,#c0c0c0 51.1%,#b9b9b9 53.4%,#c0c0c0 55.6%,#c9c9c9 57.9%,#cecece 60.9%,#cecece 65.9%,#cecece 68.8%,#cecece 81.2%,#cecece 91.2%,#cecece)"></i><i style="height:15.26px;background:linear-gradient(90deg,#cecece,#cecece 12.5%,#cecece 25.0%,#cecece 37.5%,#cecece 43.8%,#cecece 45.9%,#c9c9c9 48.9%,#c0c0c0 51.1%,#b9b9b9 53.4%,#c0c0c0 55.6%,#c9c9c9 57.9%,#cecece 60.9%,#cecece 65.9%,#cecece 68.8%,#cecece 81.2%,#cecece 91.2%,#cecece)"></i><i style="height:15.26px;background:linear-gradient(90deg,#cecece,#cecece 12.5%,#cecece 25.0%,#cecece 37.5%,#cecece 43.8%,#cecece 45.9%,#c9c9c9 48.9%,#c0c0c0 51.1%,#b9b9b9 53.4%,#c0c0c0 55.6%,#c9c9c9 57.9%,#cecece 60.9%,#cecece 65.9%,#cecece 68.8%,#cecece 81.2%,#cecece 91.2%,#cecece)"></i><i style="height:15.26px;background:linear-gradient(90deg,#cfcfcf,#cfcfcf 12.5%,#cfcfcf 25.0%,#cfcfcf 37.5%,#cfcfcf 43.8%,#cecece 45.9%,#cacaca 48.9%,#c0c0c0 51.1%,#b9b9b9 53.4%,#c0c0c0 55.6%,#cacaca 57.9%,#cecece 60.9%,#cfcfcf 65.9%,#cfcfcf 68.8%,#cfcfcf 81.2%,#cfcfcf 91.2%,#cfcfcf)"></i><i style="height:15.26px;background:linear-gradient(90deg,#cfcfcf,#cfcfcf 12.5%,#cfcfcf 25.0%,#cfcfcf 37.5%,#cfcfcf 43.8%,#cecece 45.9%,#cacaca 48.9%,#c0c0c0 51.1%,#b9b9b9 53.4%,#c0c0c0 55.6%,#cacaca 57.9%,#cecece 60.9%,#cfcfcf 65.9%,#cfcfcf 68.8%,#cfcfcf 81.2%,#cfcfcf 91.2%,#cfcfcf)"></i><i style="height:15.26px;background:linear-gradient(90deg,#cfcfcf,#cfcfcf 12.5%,#cfcfcf 25.0%,#cfcfcf 37.5%,#cfcfcf 43.8%,#cfcfcf 45.9%,#cacaca 48.9%,#c0c0c0 51.1%,#b9b9b9 53.4%,#c0c0c0 55.6%,#cacaca 57.9%,#cfcfcf 60.9%,#cfcfcf 65.9%,#cfcfcf 68.8%,#cfcfcf 81.2%,#cfcfcf 91.2%,#cfcfcf)"></i><i style="height:15.26px;background:linear-gradient(90deg,#cfcfcf,#cfcfcf 12.5%,#cfcfcf 25.0%,#cfcfcf 37.5%,#cfcfcf 43.8%,#cfcfcf 45.9%,#cacaca 48.9%,#c1c1c1 51.1%,#bababa 53.4%,#c1c1c1 55.6%,#cacaca 57.9%,#cfcfcf 60.9%,#cfcfcf 65.9%,#cfcfcf 68.8%,#cfcfcf 81.2%,#cfcfcf 91.2%,#cfcfcf)"></i><i style="height:15.26px;background:linear-gradient(90deg,#d0d0d0,#d0d0d0 12.5%,#d0d0d0 25.0%,#d0d0d0 37.5%,#d0d0d0 43.8%,#cfcfcf 45.9%,#cbcbcb 48.9%,#c1c1c1 51.1%,#bbbbbb 53.4%,#c1c1c1 55.6%,#cbcbcb 57.9%,#cfcfcf 60.9%,#d0d0d0 65.9%,#d0d0d0 68.8%,#d0d0d0 81.2%,#d0d0d0 91.2%,#d0d0d0)"></i><i style="height:15.26px;background:linear-gradient(90deg,#d0d0d0,#d0d0d0 12.5%,#d0d0d0 25.0%,#d0d0d0 37.5%,#d0d0d0 43.8%,#d0d0d0 45.9%,#cbcbcb 48.9%,#c2c2c2 51.1%,#bcbcbc 53.4%,#c2c2c2 55.6%,#cbcbcb 57.9%,#d0d0d0 60.9%,#d0d0d0 65.9%,#d0d0d0 68.8%,#d0d0d0 81.2%,#d0d0d0 91.2%,#d0d0d0)"></i><i style="height:15.26px;background:linear-gradient(90deg,#d0d0d0,#d0d0d0 12.5%,#d0d0d0 25.0%,#d0d0d0 37.5%,#d0d0d0 43.8%,#d0d0d0 45.9%,#cbcbcb 48.9%,#c2c2c2 51.1%,#bcbcbc 53.4%,#c2c2c2 55.6%,#cbcbcb 57.9%,#d0d0d0 60.9%,#d0d0d0 65.9%,#d0d0d0 68.8%,#d0d0d0 81.2%,#d0d0d0 91.2%,#d0d0d0)"></i><i style="height:15.26px;background:linear-gradient(90deg,#d0d0d0,#d0d0d0 12.5%,#d0d0d0 25.0%,#d0d0d0 37.5%,#d0d0d0 43.8%,#d0d0d0 45.9%,#cccccc 48.9%,#c3c3c3 51.1%,#bdbdbd 53.4%,#c3c3c3 55.6%,#cccccc 57.9%,#d0d0d0 60.9%,#d0d0d0 65.9%,#d0d0d0 68.8%,#d0d0d0 81.2%,#d0d0d0 91.2%,#d0d0d0)"></i><i style="height:15.26px;background:linear-gradient(90deg,#d1d1d1,#d1d1d1 12.5%,#d1d1d1 25.0%,#d1d1d1 37.5%,#d1d1d1 43.8%,#d0d0d0 45.9%,#cccccc 48.9%,#c4c4c4 51.1%,#bebebe 53.4%,#c4c4c4 55.6%,#cccccc 57.9%,#d0d0d0 60.9%,#d1d1d1 65.9%,#d1d1d1 68.8%,#d1d1d1 81.2%,#d1d1d1 91.2%,#d1d1d1)"></i><i style="height:15.26px;background:linear-gradient(90deg,#d1d1d1,#d1d1d1 12.5%,#d1d1d1 25.0%,#d1d1d1 37.5%,#d1d1d1 43.8%,#d1d1d1 45.9%,#cdcdcd 48.9%,#c4c4c4 51.1%,#bfbfbf 53.4%,#c4c4c4 55.6%,#cdcdcd 57.9%,#d1d1d1 60.9%,#d1d1d1 65.9%,#d1d1d1 68.8%,#d1d1d1 81.2%,#d1d1d1 91.2%,#d1d1d1)"></i><i style="height:15.26px;background:linear-gradient(90deg,#d1d1d1,#d1d1d1 12.5%,#d1d1d1 25.0%,#d1d1d1 37.5%,#d1d1d1 43.8%,#d1d1d1 45.9%,#cdcdcd 48.9%,#c5c5c5 51.1%,#bfbfbf 53.4%,#c5c5c5 55.6%,#cdcdcd 57.9%,#d1d1d1 60.9%,#d1d1d1 65.9%,#d1d1d1 68.8%,#d1d1d1 81.2%,#d1d1d1 91.2%,#d1d1d1)"></i><i style="height:15.26px;background:linear-gradient(90deg,#d1d1d1,#d1d1d1 12.5%,#d1d1d1 25.0%,#d1d1d1 37.5%,#d1d1d1 43.8%,#d1d1d1 45.9%,#cdcdcd 48.9%,#c5c5c5 51.1%,#c0c0c0 53.4%,#c5c5c5 55.6%,#cdcdcd 57.9%,#d1d1d1 60.9%,#d1d1d1 65.9%,#d1d1d1 68.8%,#d1d1d1 81.2%,#d1d1d1 91.2%,#d1d1d1)"></i><i style="height:15.26px;background:linear-gradient(90deg,#d2d2d2,#d2d2d2 12.5%,#d2d2d2 25.0%,#d2d2d2 37.5%,#d2d2d2 43.8%,#d1d1d1 45.9%,#cecece 48.9%,#c6c6c6 51.1%,#c1c1c1 53.4%,#c6c6c6 55.6%,#cecece 57.9%,#d1d1d1 60.9%,#d2d2d2 65.9%,#d2d2d2 68.8%,#d2d2d2 81.2%,#d2d2d2 91.2%,#d2d2d2)"></i><i style="height:15.26px;background:linear-gradient(90deg,#d2d2d2,#d2d2d2 12.5%,#d2d2d2 25.0%,#d2d2d2 37.5%,#d2d2d2 43.8%,#d2d2d2 45.9%,#cecece 48.9%,#c7c7c7 51.1%,#c2c2c2 53.4%,#c7c7c7 55.6%,#cecece 57.9%,#d2d2d2 60.9%,#d2d2d2 65.9%,#d2d2d2 68.8%,#d2d2d2 81.2%,#d2d2d2 91.2%,#d2d2d2)"></i><i style="height:15.26px;background:linear-gradient(90deg,#d2d2d2,#d2d2d2 12.5%,#d2d2d2 25.0%,#d2d2d2 37.5%,#d2d2d2 43.8%,#d2d2d2 45.9%,#cecece 48.9%,#c7c7c7 51.1%,#c2c2c2 53.4%,#c7c7c7 55.6%,#cecece 57.9%,#d2d2d2 60.9%,#d2d2d2 65.9%,#d2d2d2 68.8%,#d2d2d2 81.2%,#d2d2d2 91.2%,#d2d2d2)"></i><i style="height:15.26px;background:linear-gradient(90deg,#d2d2d2,#d2d2d2 12.5%,#d2d2d2 25.0%,#d2d2d2 37.5%,#d2d2d2 43.8%,#d2d2d2 45.9%,#cfcfcf 48.9%,#c8c8c8 51.1%,#c3c3c3 53.4%,#c8c8c8 55.6%,#cfcfcf 57.9%,#d2d2d2 60.9%,#d2d2d2 65.9%,#d2d2d2 68.8%,#d2d2d2 81.2%,#d2d2d2 91.2%,#d2d2d2)"></i><i style="height:15.26px;background:linear-gradient(90deg,#d3d3d3,#d3d3d3 12.5%,#d3d3d3 25.0%,#d3d3d3 37.5%,#d3d3d3 43.8%,#d2d2d2 45.9%,#cfcfcf 48.9%,#c8c8c8 51.1%,#c4c4c4 53.4%,#c8c8c8 55.6%,#cfcfcf 57.9%,#d2d2d2 60.9%,#d3d3d3 65.9%,#d3d3d3 68.8%,#d3d3d3 81.2%,#d3d3d3 91.2%,#d3d3d3)"></i><i style="height:15.26px;background:linear-gradient(90deg,#d3d3d3,#d3d3d3 12.5%,#d3d3d3 25.0%,#d3d3d3 37.5%,#d3d3d3 43.8%,#d3d3d3 45.9%,#cfcfcf 48.9%,#c9c9c9 51.1%,#c5c5c5 53.4%,#c9c9c9 55.6%,#cfcfcf 57.9%,#d3d3d3 60.9%,#d3d3d3 65.9%,#d3d3d3 68.8%,#d3d3d3 81.2%,#d3d3d3 91.2%,#d3d3d3)"></i><i style="height:15.26px;background:linear-gradient(90deg,#d3d3d3,#d3d3d3 12.5%,#d3d3d3 25.0%,#d3d3d3 37.5%,#d3d3d3 43.8%,#d3d3d3 45.9%,#d0d0d0 48.9%,#cacaca 51.1%,#c5c5c5 53.4%,#cacaca 55.6%,#d0d0d0 57.9%,#d3d3d3 60.9%,#d3d3d3 65.9%,#d3d3d3 68.8%,#d3d3d3 81.2%,#d3d3d3 91.2%,#d3d3d3)"></i><i style="height:15.26px;background:linear-gradient(90deg,#d3d3d3,#d3d3d3 12.5%,#d3d3d3 25.0%,#d3d3d3 37.5%,#d3d3d3 43.8%,#d3d3d3 45.9%,#d0d0d0 48.9%,#cacaca 51.1%,#c6c6c6 53.4%,#cacaca 55.6%,#d0d0d0 57.9%,#d3d3d3 60.9%,#d3d3d3 65.9%,#d3d3d3 68.8%,#d3d3d3 81.2%,#d3d3d3 91.2%,#d3d3d3)"></i><i style="height:15.26px;background:linear-gradient(90deg,#d4d4d4,#d4d4d4 12.5%,#d4d4d4 25.0%,#d4d4d4 37.5%,#d4d4d4 43.8%,#d3d3d3 45.9%,#d1d1d1 48.9%,#cbcbcb 51.1%,#c7c7c7 53.4%,#cbcbcb 55.6%,#d1d1d1 57.9%,#d3d3d3 60.9%,#d4d4d4 65.9%,#d4d4d4 68.8%,#d4d4d4 81.2%,#d4d4d4 91.2%,#d4d4d4)"></i><i style="height:15.26px;background:linear-gradient(90deg,#d4d4d4,#d4d4d4 12.5%,#d4d4d4 25.0%,#d4d4d4 37.5%,#d4d4d4 43.8%,#d4d4d4 45.9%,#d1d1d1 48.9%,#cbcbcb 51.1%,#c8c8c8 53.4%,#cbcbcb 55.6%,#d1d1d1 57.9%,#d4d4d4 60.9%,#d4d4d4 65.9%,#d4d4d4 68.8%,#d4d4d4 81.2%,#d4d4d4 91.2%,#d4d4d4)"></i><i style="height:12px;background:linear-gradient(90deg,#d4d4d4,#d4d4d4 12.5%,#d4d4d4 25.0%,#d4d4d4 37.5%,#d4d4d4 43.8%,#d4d4d4 45.9%,#d1d1d1 48.9%,#cccccc 51.1%,#c8c8c8 53.4%,#cccccc 55.6%,#d1d1d1 57.9%,#d4d4d4 60.9%,#d4d4d4 65.9%,#d4d4d4 68.8%,#d4d4d4 81.2%,#d4d4d4 91.2%,#d4d4d4)"></i></div></div>
<div class="hm" style="left:408.6px;top:997.5px;width:281.6px;height:73.5px;"><div class="hi" style="top:-12px;filter:url(#vb1);"><i style="height:12px;background:linear-gradient(90deg,#c5c5c5,#c5c5c5 12.5%,#c5c5c5 25.0%,#c5c5c5 37.5%,#c5c5c5 43.8%,#c4c4c4 45.8%,#bbbbbb 48.9%,#a8a8a8 51.3%,#9a9a9a 53.8%,#a2a2a2 56.1%,#b2b2b2 58.6%,#b9b9b9 61.7%,#bababa 66.8%,#bababa 68.8%,#bdbdbd 81.2%,#c0c0c0 91.2%,#c3c3c3)"></i><i style="height:9.19px;background:linear-gradient(90deg,#c5c5c5,#c5c5c5 12.5%,#c5c5c5 25.0%,#c5c5c5 37.5%,#c5c5c5 43.8%,#c5c5c5 45.8%,#bcbcbc 48.9%,#a9a9a9 51.3%,#9b9b9b 53.8%,#a3a3a3 56.1%,#b3b3b3 58.6%,#bababa 61.7%,#bbbbbb 66.8%,#bbbbbb 68.8%,#bebebe 81.2%,#c2c2c2 91.2%,#c4c4c4)"></i><i style="height:9.19px;background:linear-gradient(90deg,#c6c6c6,#c6c6c6 12.5%,#c6c6c6 25.0%,#c6c6c6 37.5%,#c6c6c6 43.8%,#c5c5c5 45.8%,#bdbdbd 48.9%,#aaaaaa 51.3%,#9c9c9c 53.8%,#a5a5a5 56.1%,#b4b4b4 58.6%,#bcbcbc 61.7%,#bdbdbd 66.8%,#bdbdbd 68.8%,#c0c0c0 81.2%,#c4c4c4 91.2%,#c5c5c5)"></i><i style="height:9.19px;background:linear-gradient(90deg,#c7c7c7,#c7c7c7 12.5%,#c7c7c7 25.0%,#c7c7c7 37.5%,#c7c7c7 43.8%,#c6c6c6 45.8%,#bebebe 48.9%,#ababab 51.3%,#9e9e9e 53.8%,#a7a7a7 56.1%,#b6b6b6 58.6%,#bebebe 61.7%,#bfbfbf 66.8%,#bfbfbf 68.8%,#c3c3c3 81.2%,#c5c5c5 91.2%,#c6c6c6)"></i><i style="height:9.19px;background:linear-gradient(90deg,#c8c8c8,#c8c8c8 12.5%,#c8c8c8 25.0%,#c8c8c8 37.5%,#c8c8c8 43.8%,#c7c7c7 45.8%,#bfbfbf 48.9%,#adadad 51.3%,#a0a0a0 53.8%,#a9a9a9 56.1%,#b8b8b8 58.6%,#bfbfbf 61.7%,#c1c1c1 66.8%,#c1c1c1 68.8%,#c5c5c5 81.2%,#c7c7c7 91.2%,#c7c7c7)"></i><i style="height:9.19px;background:linear-gradient(90deg,#c8c8c8,#c8c8c8 12.5%,#c8c8c8 25.0%,#c8c8c8 37.5%,#c8c8c8 43.8%,#c8c8c8 45.8%,#bfbfbf 48.9%,#aeaeae 51.3%,#a2a2a2 53.8%,#ababab 56.1%,#bababa 58.6%,#c1c1c1 61.7%,#c3c3c3 66.8%,#c3c3c3 68.8%,#c6c6c6 81.2%,#c8c8c8 91.2%,#c8c8c8)"></i><i style="height:9.19px;background:linear-gradient(90deg,#c9c9c9,#c9c9c9 12.5%,#c9c9c9 25.0%,#c9c9c9 37.5%,#c9c9c9 43.8%,#c8c8c8 45.8%,#c0c0c0 48.9%,#afafaf 51.3%,#a4a4a4 53.8%,#adadad 56.1%,#bcbcbc 58.6%,#c3c3c3 61.7%,#c5c5c5 66.8%,#c5c5c5 68.8%,#c8c8c8 81.2%,#c9c9c9 91.2%,#c9c9c9)"></i><i style="height:9.19px;background:linear-gradient(90deg,#cacaca,#cacaca 12.5%,#cacaca 25.0%,#cacaca 37.5%,#cacaca 43.8%,#c9c9c9 45.8%,#c1c1c1 48.9%,#b1b1b1 51.3%,#a5a5a5 53.8%,#afafaf 56.1%,#bebebe 58.6%,#c5c5c5 61.7%,#c7c7c7 66.8%,#c7c7c7 68.8%,#c9c9c9 81.2%,#cacaca 91.2%,#cacaca)"></i><i style="height:9.19px;background:linear-gradient(90deg,#cbcbcb,#cbcbcb 12.5%,#cbcbcb 25.0%,#cbcbcb 37.5%,#cbcbcb 43.8%,#cacaca 45.8%,#c2c2c2 48.9%,#b2b2b2 51.3%,#a7a7a7 53.8%,#b0b0b0 56.1%,#c0c0c0 58.6%,#c7c7c7 61.7%,#c8c8c8 66.8%,#c9c9c9 68.8%,#cacaca 81.2%,#cacaca 91.2%,#cbcbcb)"></i><i style="height:12px;background:linear-gradient(90deg,#cbcbcb,#cbcbcb 12.5%,#cbcbcb 25.0%,#cbcbcb 37.5%,#cbcbcb 43.8%,#cacaca 45.8%,#c3c3c3 48.9%,#b3b3b3 51.3%,#a8a8a8 53.8%,#b1b1b1 56.1%,#c0c0c0 58.6%,#c8c8c8 61.7%,#c9c9c9 66.8%,#cacaca 68.8%,#cbcbcb 81.2%,#cbcbcb 91.2%,#cbcbcb)"></i></div></div>
<div class="hm" style="left:408.6px;top:1073.4px;width:281.6px;height:66.2px;"><div class="hi" style="top:-12px;filter:url(#vb1);"><i style="height:12px;background:linear-gradient(90deg,#c8c8c8,#c8c8c8 12.5%,#c8c8c8 25.0%,#c8c8c8 37.5%,#c7c7c7 43.4%,#c6c6c6 43.8%,#b1b1b1 47.4%,#7d7d7d 50.4%,#585858 53.4%,#7d7d7d 56.4%,#b1b1b1 59.4%,#c7c7c7 63.4%,#c8c8c8 68.4%,#c8c8c8 68.8%,#c8c8c8 81.2%,#c8c8c8 91.2%,#c8c8c8)"></i><i style="height:8.27px;background:linear-gradient(90deg,#c9c9c9,#c9c9c9 12.5%,#c9c9c9 25.0%,#c9c9c9 37.5%,#c7c7c7 43.4%,#c7c7c7 43.8%,#b2b2b2 47.4%,#7e7e7e 50.4%,#595959 53.4%,#7e7e7e 56.4%,#b2b2b2 59.4%,#c7c7c7 63.4%,#c9c9c9 68.4%,#c9c9c9 68.8%,#c9c9c9 81.2%,#c9c9c9 91.2%,#c9c9c9)"></i><i style="height:8.27px;background:linear-gradient(90deg,#cacaca,#cacaca 12.5%,#cacaca 25.0%,#cacaca 37.5%,#c8c8c8 43.4%,#c8c8c8 43.8%,#b3b3b3 47.4%,#7f7f7f 50.4%,#5b5b5b 53.4%,#7f7f7f 56.4%,#b3b3b3 59.4%,#c8c8c8 63.4%,#cacaca 68.4%,#cacaca 68.8%,#cacaca 81.2%,#cacaca 91.2%,#cacaca)"></i><i style="height:8.27px;background:linear-gradient(90deg,#cbcbcb,#cbcbcb 12.5%,#cbcbcb 25.0%,#cbcbcb 37.5%,#c9c9c9 43.4%,#c9c9c9 43.8%,#b3b3b3 47.4%,#808080 50.4%,#5d5d5d 53.4%,#808080 56.4%,#b3b3b3 59.4%,#c9c9c9 63.4%,#cbcbcb 68.4%,#cbcbcb 68.8%,#cbcbcb 81.2%,#cbcbcb 91.2%,#cbcbcb)"></i><i style="height:8.27px;background:linear-gradient(90deg,#cccccc,#cccccc 12.5%,#cccccc 25.0%,#cccccc 37.5%,#cacaca 43.4%,#cacaca 43.8%,#b4b4b4 47.4%,#828282 50.4%,#5f5f5f 53.4%,#828282 56.4%,#b4b4b4 59.4%,#cacaca 63.4%,#cccccc 68.4%,#cccccc 68.8%,#cccccc 81.2%,#cccccc 91.2%,#cccccc)"></i><i style="height:8.27px;background:linear-gradient(90deg,#cdcdcd,#cdcdcd 12.5%,#cdcdcd 25.0%,#cdcdcd 37.5%,#cbcbcb 43.4%,#cbcbcb 43.8%,#b5b5b5 47.4%,#838383 50.4%,#626262 53.4%,#838383 56.4%,#b5b5b5 59.4%,#cbcbcb 63.4%,#cdcdcd 68.4%,#cdcdcd 68.8%,#cdcdcd 81.2%,#cdcdcd 91.2%,#cdcdcd)"></i><i style="height:8.27px;background:linear-gradient(90deg,#cecece,#cecece 12.5%,#cecece 25.0%,#cecece 37.5%,#cccccc 43.4%,#cccccc 43.8%,#b6b6b6 47.4%,#858585 50.4%,#646464 53.4%,#858585 56.4%,#b6b6b6 59.4%,#cccccc 63.4%,#cecece 68.4%,#cecece 68.8%,#cecece 81.2%,#cecece 91.2%,#cecece)"></i><i style="height:8.27px;background:linear-gradient(90deg,#cfcfcf,#cfcfcf 12.5%,#cfcfcf 25.0%,#cfcfcf 37.5%,#cecece 43.4%,#cdcdcd 43.8%,#b7b7b7 47.4%,#868686 50.4%,#666666 53.4%,#868686 56.4%,#b7b7b7 59.4%,#cecece 63.4%,#cfcfcf 68.4%,#cfcfcf 68.8%,#cfcfcf 81.2%,#cfcfcf 91.2%,#cfcfcf)"></i><i style="height:8.27px;background:linear-gradient(90deg,#d0d0d0,#d0d0d0 12.5%,#d0d0d0 25.0%,#d0d0d0 37.5%,#cfcfcf 43.4%,#cecece 43.8%,#b8b8b8 47.4%,#888888 50.4%,#686868 53.4%,#888888 56.4%,#b8b8b8 59.4%,#cfcfcf 63.4%,#d0d0d0 68.4%,#d0d0d0 68.8%,#d0d0d0 81.2%,#d0d0d0 91.2%,#d0d0d0)"></i><i style="height:12px;background:linear-gradient(90deg,#d1d1d1,#d1d1d1 12.5%,#d1d1d1 25.0%,#d1d1d1 37.5%,#cfcfcf 43.4%,#cecece 43.8%,#b8b8b8 47.4%,#888888 50.4%,#696969 53.4%,#888888 56.4%,#b8b8b8 59.4%,#cfcfcf 63.4%,#d1d1d1 68.4%,#d1d1d1 68.8%,#d1d1d1 81.2%,#d1d1d1 91.2%,#d1d1d1)"></i></div></div>
<div class="hm" style="left:701.0px;top:384.7px;width:281.6px;height:610.4px;"><div class="hi" style="top:-12px;filter:url(#vb1);"><i style="height:12px;background:linear-gradient(90deg,#484848,#454545 4.2%,#424242 8.3%,#3e3e3e 12.5%,#3b3b3b 16.7%,#363636 20.8%,#323232 25.0%,#2d2d2d 29.2%,#292929 33.3%,#242424 37.5%,#212121 41.7%,#1d1d1d 45.8%,#1b1b1b 50.0%,#1a1a1a 54.2%,#1a1a1a 58.3%,#1c1c1c 62.5%,#1e1e1e 66.7%,#222222 70.8%,#262626 75.0%,#2a2a2a 79.2%,#2f2f2f 83.3%,#333333 87.5%,#383838 91.7%,#3c3c3c 95.8%,#404040)"></i><i style="height:15.26px;background:linear-gradient(90deg,#494949,#464646 4.2%,#434343 8.3%,#3f3f3f 12.5%,#3c3c3c 16.7%,#373737 20.8%,#333333 25.0%,#2e2e2e 29.2%,#2a2a2a 33.3%,#252525 37.5%,#212121 41.7%,#1e1e1e 45.8%,#1c1c1c 50.0%,#1a1a1a 54.2%,#1b1b1b 58.3%,#1c1c1c 62.5%,#1f1f1f 66.7%,#222222 70.8%,#262626 75.0%,#2b2b2b 79.2%,#303030 83.3%,#343434 87.5%,#393939 91.7%,#3d3d3d 95.8%,#404040)"></i><i style="height:15.26px;background:linear-gradient(90deg,#4b4b4b,#484848 4.2%,#454545 8.3%,#414141 12.5%,#3d3d3d 16.7%,#393939 20.8%,#353535 25.0%,#303030 29.2%,#2b2b2b 33.3%,#272727 37.5%,#222222 41.7%,#1f1f1f 45.8%,#1d1d1d 50.0%,#1b1b1b 54.2%,#1c1c1c 58.3%,#1d1d1d 62.5%,#202020 66.7%,#242424 70.8%,#282828 75.0%,#2d2d2d 79.2%,#313131 83.3%,#363636 87.5%,#3b3b3b 91.7%,#3f3f3f 95.8%,#424242)"></i><i style="height:15.26px;background:linear-gradient(90deg,#4c4c4c,#4a4a4a 4.2%,#474747 8.3%,#434343 12.5%,#3f3f3f 16.7%,#3b3b3b 20.8%,#373737 25.0%,#323232 29.2%,#2d2d2d 33.3%,#282828 37.5%,#242424 41.7%,#202020 45.8%,#1d1d1d 50.0%,#1c1c1c 54.2%,#1c1c1c 58.3%,#1e1e1e 62.5%,#212121 66.7%,#252525 70.8%,#2a2a2a 75.0%,#2e2e2e 79.2%,#333333 83.3%,#383838 87.5%,#3d3d3d 91.7%,#414141 95.8%,#444444)"></i><i style="height:15.26px;background:linear-gradient(90deg,#4f4f4f,#4c4c4c 4.2%,#494949 8.3%,#464646 12.5%,#424242 16.7%,#3e3e3e 20.8%,#393939 25.0%,#343434 29.2%,#2f2f2f 33.3%,#2a2a2a 37.5%,#252525 41.7%,#212121 45.8%,#1f1f1f 50.0%,#1d1d1d 54.2%,#1e1e1e 58.3%,#1f1f1f 62.5%,#222222 66.7%,#272727 70.8%,#2b2b2b 75.0%,#313131 79.2%,#363636 83.3%,#3b3b3b 87.5%,#3f3f3f 91.7%,#434343 95.8%,#474747)"></i><i style="height:15.26px;background:linear-gradient(90deg,#525252,#4f4f4f 4.2%,#4c4c4c 8.3%,#494949 12.5%,#454545 16.7%,#404040 20.8%,#3c3c3c 25.0%,#363636 29.2%,#313131 33.3%,#2c2c2c 37.5%,#272727 41.7%,#232323 45.8%,#202020 50.0%,#1e1e1e 54.2%,#1f1f1f 58.3%,#212121 62.5%,#242424 66.7%,#282828 70.8%,#2d2d2d 75.0%,#333333 79.2%,#383838 83.3%,#3d3d3d 87.5%,#424242 91.7%,#464646 95.8%,#4a4a4a)"></i><i style="height:15.26px;background:linear-gradient(90deg,#555555,#525252 4.2%,#4f4f4f 8.3%,#4c4c4c 12.5%,#484848 16.7%,#434343 20.8%,#3e3e3e 25.0%,#393939 29.2%,#333333 33.3%,#2e2e2e 37.5%,#292929 41.7%,#242424 45.8%,#212121 50.0%,#202020 54.2%,#202020 58.3%,#222222 62.5%,#252525 66.7%,#2a2a2a 70.8%,#2f2f2f 75.0%,#353535 79.2%,#3b3b3b 83.3%,#404040 87.5%,#454545 91.7%,#494949 95.8%,#4d4d4d)"></i><i style="height:15.26px;background:linear-gradient(90deg,#585858,#555555 4.2%,#525252 8.3%,#4f4f4f 12.5%,#4b4b4b 16.7%,#464646 20.8%,#414141 25.0%,#3c3c3c 29.2%,#363636 33.3%,#303030 37.5%,#2a2a2a 41.7%,#262626 45.8%,#222222 50.0%,#212121 54.2%,#212121 58.3%,#232323 62.5%,#272727 66.7%,#2c2c2c 70.8%,#323232 75.0%,#383838 79.2%,#3d3d3d 83.3%,#434343 87.5%,#484848 91.7%,#4c4c4c 95.8%,#505050)"></i><i style="height:15.26px;background:linear-gradient(90deg,#5c5c5c,#5a5a5a 4.2%,#575757 8.3%,#535353 12.5%,#4f4f4f 16.7%,#4a4a4a 20.8%,#454545 25.0%,#3f3f3f 29.2%,#393939 33.3%,#333333 37.5%,#2d2d2d 41.7%,#272727 45.8%,#242424 50.0%,#222222 54.2%,#222222 58.3%,#242424 62.5%,#292929 66.7%,#2e2e2e 70.8%,#353535 75.0%,#3b3b3b 79.2%,#414141 83.3%,#474747 87.5%,#4c4c4c 91.7%,#505050 95.8%,#545454)"></i><i style="height:15.26px;background:linear-gradient(90deg,#606060,#5e5e5e 4.2%,#5b5b5b 8.3%,#575757 12.5%,#535353 16.7%,#4e4e4e 20.8%,#494949 25.0%,#434343 29.2%,#3c3c3c 33.3%,#353535 37.5%,#2f2f2f 41.7%,#292929 45.8%,#252525 50.0%,#232323 54.2%,#232323 58.3%,#262626 62.5%,#2b2b2b 66.7%,#313131 70.8%,#373737 75.0%,#3e3e3e 79.2%,#454545 83.3%,#4b4b4b 87.5%,#505050 91.7%,#555555 95.8%,#595959)"></i><i style="height:15.26px;background:linear-gradient(90deg,#656565,#626262 4.2%,#5f5f5f 8.3%,#5c5c5c 12.5%,#585858 16.7%,#535353 20.8%,#4d4d4d 25.0%,#474747 29.2%,#404040 33.3%,#383838 37.5%,#313131 41.7%,#2b2b2b 45.8%,#262626 50.0%,#242424 54.2%,#242424 58.3%,#272727 62.5%,#2d2d2d 66.7%,#333333 70.8%,#3b3b3b 75.0%,#424242 79.2%,#494949 83.3%,#4f4f4f 87.5%,#545454 91.7%,#595959 95.8%,#5d5d5d)"></i><i style="height:15.26px;background:linear-gradient(90deg,#6a6a6a,#676767 4.2%,#646464 8.3%,#616161 12.5%,#5c5c5c 16.7%,#575757 20.8%,#525252 25.0%,#4b4b4b 29.2%,#434343 33.3%,#3c3c3c 37.5%,#343434 41.7%,#2d2d2d 45.8%,#272727 50.0%,#252525 54.2%,#252525 58.3%,#292929 62.5%,#2f2f2f 66.7%,#363636 70.8%,#3e3e3e 75.0%,#464646 79.2%,#4d4d4d 83.3%,#535353 87.5%,#595959 91.7%,#5e5e5e 95.8%,#626262)"></i><i style="height:15.26px;background:linear-gradient(90deg,#6f6f6f,#6c6c6c 4.2%,#696969 8.3%,#666666 12.5%,#626262 16.7%,#5c5c5c 20.8%,#565656 25.0%,#4f4f4f 29.2%,#474747 33.3%,#3f3f3f 37.5%,#363636 41.7%,#2f2f2f 45.8%,#292929 50.0%,#262626 54.2%,#272727 58.3%,#2b2b2b 62.5%,#313131 66.7%,#393939 70.8%,#424242 75.0%,#4a4a4a 79.2%,#515151 83.3%,#585858 87.5%,#5e5e5e 91.7%,#636363 95.8%,#676767)"></i><i style="height:15.26px;background:linear-gradient(90deg,#747474,#727272 4.2%,#6f6f6f 8.3%,#6b6b6b 12.5%,#676767 16.7%,#626262 20.8%,#5b5b5b 25.0%,#545454 29.2%,#4c4c4c 33.3%,#434343 37.5%,#393939 41.7%,#313131 45.8%,#2b2b2b 50.0%,#282828 54.2%,#282828 58.3%,#2c2c2c 62.5%,#333333 66.7%,#3c3c3c 70.8%,#454545 75.0%,#4e4e4e 79.2%,#565656 83.3%,#5d5d5d 87.5%,#636363 91.7%,#686868 95.8%,#6c6c6c)"></i><i style="height:15.26px;background:linear-gradient(90deg,#797979,#777777 4.2%,#747474 8.3%,#717171 12.5%,#6c6c6c 16.7%,#676767 20.8%,#606060 25.0%,#595959 29.2%,#505050 33.3%,#464646 37.5%,#3c3c3c 41.7%,#333333 45.8%,#2c2c2c 50.0%,#292929 54.2%,#2a2a2a 58.3%,#2e2e2e 62.5%,#363636 66.7%,#3f3f3f 70.8%,#494949 75.0%,#535353 79.2%,#5b5b5b 83.3%,#626262 87.5%,#686868 91.7%,#6e6e6e 95.8%,#727272)"></i><i style="height:15.26px;background:linear-gradient(90deg,#7f7f7f,#7d7d7d 4.2%,#7a7a7a 8.3%,#767676 12.5%,#727272 16.7%,#6c6c6c 20.8%,#666666 25.0%,#5e5e5e 29.2%,#545454 33.3%,#4a4a4a 37.5%,#404040 41.7%,#363636 45.8%,#2e2e2e 50.0%,#2a2a2a 54.2%,#2b2b2b 58.3%,#303030 62.5%,#393939 66.7%,#434343 70.8%,#4d4d4d 75.0%,#575757 79.2%,#606060 83.3%,#686868 87.5%,#6e6e6e 91.7%,#737373 95.8%,#777777)"></i><i style="height:15.26px;background:linear-gradient(90deg,#848484,#828282 4.2%,#7f7f7f 8.3%,#7c7c7c 12.5%,#777777 16.7%,#727272 20.8%,#6b6b6b 25.0%,#636363 29.2%,#595959 33.3%,#4e4e4e 37.5%,#434343 41.7%,#383838 45.8%,#303030 50.0%,#2c2c2c 54.2%,#2c2c2c 58.3%,#323232 62.5%,#3b3b3b 66.7%,#474747 70.8%,#525252 75.0%,#5c5c5c 79.2%,#656565 83.3%,#6d6d6d 87.5%,#747474 91.7%,#797979 95.8%,#7d7d7d)"></i><i style="height:15.26px;background:linear-gradient(90deg,#898989,#878787 4.2%,#848484 8.3%,#818181 12.5%,#7c7c7c 16.7%,#777777 20.8%,#707070 25.0%,#686868 29.2%,#5e5e5e 33.3%,#535353 37.5%,#474747 41.7%,#3b3b3b 45.8%,#323232 50.0%,#2d2d2d 54.2%,#2e2e2e 58.3%,#343434 62.5%,#3e3e3e 66.7%,#4a4a4a 70.8%,#565656 75.0%,#616161 79.2%,#6a6a6a 83.3%,#727272 87.5%,#797979 91.7%,#7e7e7e 95.8%,#828282)"></i><i style="height:15.26px;background:linear-gradient(90deg,#8e8e8e,#8c8c8c 4.2%,#898989 8.3%,#868686 12.5%,#818181 16.7%,#7c7c7c 20.8%,#757575 25.0%,#6c6c6c 29.2%,#626262 33.3%,#575757 37.5%,#4a4a4a 41.7%,#3e3e3e 45.8%,#343434 50.0%,#2f2f2f 54.2%,#303030 58.3%,#363636 62.5%,#414141 66.7%,#4e4e4e 70.8%,#5a5a5a 75.0%,#666666 79.2%,#6f6f6f 83.3%,#777777 87.5%,#7e7e7e 91.7%,#838383 95.8%,#878787)"></i><i style="height:15.26px;background:linear-gradient(90deg,#929292,#909090 4.2%,#8e8e8e 8.3%,#8a8a8a 12.5%,#868686 16.7%,#818181 20.8%,#7a7a7a 25.0%,#717171 29.2%,#676767 33.3%,#5b5b5b 37.5%,#4d4d4d 41.7%,#404040 45.8%,#363636 50.0%,#303030 54.2%,#313131 58.3%,#393939 62.5%,#444444 66.7%,#515151 70.8%,#5e5e5e 75.0%,#6a6a6a 79.2%,#747474 83.3%,#7c7c7c 87.5%,#828282 91.7%,#888888 95.8%,#8b8b8b)"></i><i style="height:15.26px;background:linear-gradient(90deg,#979797,#959595 4.2%,#929292 8.3%,#8f8f8f 12.5%,#8b8b8b 16.7%,#868686 20.8%,#7f7f7f 25.0%,#767676 29.2%,#6b6b6b 33.3%,#5f5f5f 37.5%,#515151 41.7%,#434343 45.8%,#383838 50.0%,#323232 54.2%,#333333 58.3%,#3b3b3b 62.5%,#474747 66.7%,#555555 70.8%,#636363 75.0%,#6f6f6f 79.2%,#797979 83.3%,#818181 87.5%,#878787 91.7%,#8c8c8c 95.8%,#909090)"></i><i style="height:15.26px;background:linear-gradient(90deg,#9c9c9c,#9a9a9a 4.2%,#979797 8.3%,#949494 12.5%,#909090 16.7%,#8b8b8b 20.8%,#848484 25.0%,#7b7b7b 29.2%,#707070 33.3%,#636363 37.5%,#555555 41.7%,#464646 45.8%,#3a3a3a 50.0%,#343434 54.2%,#353535 58.3%,#3d3d3d 62.5%,#4b4b4b 66.7%,#595959 70.8%,#676767 75.0%,#747474 79.2%,#7e7e7e 83.3%,#868686 87.5%,#8c8c8c 91.7%,#919191 95.8%,#959595)"></i><i style="height:15.26px;background:linear-gradient(90deg,#a0a0a0,#9e9e9e 4.2%,#9c9c9c 8.3%,#999999 12.5%,#959595 16.7%,#909090 20.8%,#898989 25.0%,#808080 29.2%,#757575 33.3%,#686868 37.5%,#595959 41.7%,#494949 45.8%,#3c3c3c 50.0%,#353535 54.2%,#373737 58.3%,#404040 62.5%,#4e4e4e 66.7%,#5d5d5d 70.8%,#6c6c6c 75.0%,#797979 79.2%,#838383 83.3%,#8b8b8b 87.5%,#919191 91.7%,#969696 95.8%,#9a9a9a)"></i><i style="height:15.26px;background:linear-gradient(90deg,#a5a5a5,#a3a3a3 4.2%,#a1a1a1 8.3%,#9e9e9e 12.5%,#9a9a9a 16.7%,#959595 20.8%,#8e8e8e 25.0%,#858585 29.2%,#7a7a7a 33.3%,#6d6d6d 37.5%,#5d5d5d 41.7%,#4d4d4d 45.8%,#3f3f3f 50.0%,#373737 54.2%,#383838 58.3%,#424242 62.5%,#515151 66.7%,#626262 70.8%,#717171 75.0%,#7e7e7e 79.2%,#888888 83.3%,#909090 87.5%,#979797 91.7%,#9b9b9b 95.8%,#9f9f9f)"></i><i style="height:15.26px;background:linear-gradient(90deg,#a9a9a9,#a7a7a7 4.2%,#a5a5a5 8.3%,#a2a2a2 12.5%,#9f9f9f 16.7%,#9a9a9a 20.8%,#939393 25.0%,#8a8a8a 29.2%,#7f7f7f 33.3%,#727272 37.5%,#616161 41.7%,#515151 45.8%,#424242 50.0%,#3a3a3a 54.2%,#3b3b3b 58.3%,#464646 62.5%,#565656 66.7%,#676767 70.8%,#767676 75.0%,#838383 79.2%,#8d8d8d 83.3%,#959595 87.5%,#9b9b9b 91.7%,#a0a0a0 95.8%,#a3a3a3)"></i><i style="height:15.26px;background:linear-gradient(90deg,#adadad,#ababab 4.2%,#a9a9a9 8.3%,#a7a7a7 12.5%,#a3a3a3 16.7%,#9e9e9e 20.8%,#989898 25.0%,#909090 29.2%,#858585 33.3%,#777777 37.5%,#666666 41.7%,#555555 45.8%,#464646 50.0%,#3d3d3d 54.2%,#3f3f3f 58.3%,#4a4a4a 62.5%,#5a5a5a 66.7%,#6c6c6c 70.8%,#7b7b7b 75.0%,#888888 79.2%,#929292 83.3%,#9a9a9a 87.5%,#a0a0a0 91.7%,#a4a4a4 95.8%,#a7a7a7)"></i><i style="height:15.26px;background:linear-gradient(90deg,#b0b0b0,#afafaf 4.2%,#adadad 8.3%,#ababab 12.5%,#a8a8a8 16.7%,#a3a3a3 20.8%,#9d9d9d 25.0%,#959595 29.2%,#8a8a8a 33.3%,#7c7c7c 37.5%,#6b6b6b 41.7%,#595959 45.8%,#4a4a4a 50.0%,#414141 54.2%,#424242 58.3%,#4e4e4e 62.5%,#5f5f5f 66.7%,#717171 70.8%,#808080 75.0%,#8d8d8d 79.2%,#979797 83.3%,#9f9f9f 87.5%,#a4a4a4 91.7%,#a9a9a9 95.8%,#acacac)"></i><i style="height:15.26px;background:linear-gradient(90deg,#b4b4b4,#b3b3b3 4.2%,#b1b1b1 8.3%,#afafaf 12.5%,#acacac 16.7%,#a8a8a8 20.8%,#a2a2a2 25.0%,#9a9a9a 29.2%,#8f8f8f 33.3%,#818181 37.5%,#707070 41.7%,#5e5e5e 45.8%,#4e4e4e 50.0%,#444444 54.2%,#464646 58.3%,#525252 62.5%,#646464 66.7%,#767676 70.8%,#868686 75.0%,#929292 79.2%,#9c9c9c 83.3%,#a4a4a4 87.5%,#a9a9a9 91.7%,#adadad 95.8%,#b0b0b0)"></i><i style="height:15.26px;background:linear-gradient(90deg,#b8b8b8,#b7b7b7 4.2%,#b5b5b5 8.3%,#b3b3b3 12.5%,#b0b0b0 16.7%,#acacac 20.8%,#a7a7a7 25.0%,#9f9f9f 29.2%,#949494 33.3%,#878787 37.5%,#767676 41.7%,#636363 45.8%,#515151 50.0%,#484848 54.2%,#4a4a4a 58.3%,#565656 62.5%,#686868 66.7%,#7b7b7b 70.8%,#8b8b8b 75.0%,#989898 79.2%,#a1a1a1 83.3%,#a8a8a8 87.5%,#aeaeae 91.7%,#b1b1b1 95.8%,#b4b4b4)"></i><i style="height:15.26px;background:linear-gradient(90deg,#bcbcbc,#bbbbbb 4.2%,#b9b9b9 8.3%,#b7b7b7 12.5%,#b5b5b5 16.7%,#b1b1b1 20.8%,#ababab 25.0%,#a4a4a4 29.2%,#9a9a9a 33.3%,#8c8c8c 37.5%,#7b7b7b 41.7%,#676767 45.8%,#555555 50.0%,#4b4b4b 54.2%,#4d4d4d 58.3%,#5a5a5a 62.5%,#6d6d6d 66.7%,#808080 70.8%,#909090 75.0%,#9d9d9d 79.2%,#a6a6a6 83.3%,#adadad 87.5%,#b2b2b2 91.7%,#b6b6b6 95.8%,#b8b8b8)"></i><i style="height:15.26px;background:linear-gradient(90deg,#c0c0c0,#bfbfbf 4.2%,#bdbdbd 8.3%,#bcbcbc 12.5%,#b9b9b9 16.7%,#b5b5b5 20.8%,#b0b0b0 25.0%,#a9a9a9 29.2%,#9f9f9f 33.3%,#919191 37.5%,#808080 41.7%,#6c6c6c 45.8%,#5a5a5a 50.0%,#4f4f4f 54.2%,#515151 58.3%,#5f5f5f 62.5%,#727272 66.7%,#868686 70.8%,#969696 75.0%,#a2a2a2 79.2%,#ababab 83.3%,#b2b2b2 87.5%,#b7b7b7 91.7%,#bababa 95.8%,#bcbcbc)"></i><i style="height:15.26px;background:linear-gradient(90deg,#c2c2c2,#c1c1c1 4.2%,#c0c0c0 8.3%,#bebebe 12.5%,#bcbcbc 16.7%,#b9b9b9 20.8%,#b4b4b4 25.0%,#adadad 29.2%,#a4a4a4 33.3%,#989898 37.5%,#878787 41.7%,#747474 45.8%,#626262 50.0%,#575757 54.2%,#595959 58.3%,#676767 62.5%,#7a7a7a 66.7%,#8d8d8d 70.8%,#9c9c9c 75.0%,#a7a7a7 79.2%,#b0b0b0 83.3%,#b6b6b6 87.5%,#bababa 91.7%,#bdbdbd 95.8%,#bfbfbf)"></i><i style="height:15.26px;background:linear-gradient(90deg,#c3c3c3,#c3c3c3 4.2%,#c2c2c2 8.3%,#c0c0c0 12.5%,#bebebe 16.7%,#bcbcbc 20.8%,#b7b7b7 25.0%,#b2b2b2 29.2%,#a9a9a9 33.3%,#9e9e9e 37.5%,#8f8f8f 41.7%,#7c7c7c 45.8%,#6a6a6a 50.0%,#606060 54.2%,#626262 58.3%,#6f6f6f 62.5%,#828282 66.7%,#939393 70.8%,#a2a2a2 75.0%,#acacac 79.2%,#b4b4b4 83.3%,#b9b9b9 87.5%,#bdbdbd 91.7%,#bfbfbf 95.8%,#c1c1c1)"></i><i style="height:15.26px;background:linear-gradient(90deg,#c5c5c5,#c4c4c4 4.2%,#c4c4c4 8.3%,#c2c2c2 12.5%,#c1c1c1 16.7%,#bebebe 20.8%,#bbbbbb 25.0%,#b6b6b6 29.2%,#aeaeae 33.3%,#a4a4a4 37.5%,#969696 41.7%,#848484 45.8%,#737373 50.0%,#696969 54.2%,#6b6b6b 58.3%,#787878 62.5%,#8a8a8a 66.7%,#9a9a9a 70.8%,#a7a7a7 75.0%,#b1b1b1 79.2%,#b7b7b7 83.3%,#bcbcbc 87.5%,#bfbfbf 91.7%,#c1c1c1 95.8%,#c3c3c3)"></i><i style="height:15.26px;background:linear-gradient(90deg,#c7c7c7,#c6c6c6 4.2%,#c6c6c6 8.3%,#c5c5c5 12.5%,#c4c4c4 16.7%,#c2c2c2 20.8%,#bfbfbf 25.0%,#bababa 29.2%,#b4b4b4 33.3%,#ababab 37.5%,#9e9e9e 41.7%,#8f8f8f 45.8%,#7f7f7f 50.0%,#757575 54.2%,#777777 58.3%,#838383 62.5%,#949494 66.7%,#a2a2a2 70.8%,#aeaeae 75.0%,#b6b6b6 79.2%,#bcbcbc 83.3%,#c0c0c0 87.5%,#c2c2c2 91.7%,#c4c4c4 95.8%,#c5c5c5)"></i><i style="height:15.26px;background:linear-gradient(90deg,#cacaca,#cacaca 4.2%,#c9c9c9 8.3%,#c8c8c8 12.5%,#c7c7c7 16.7%,#c6c6c6 20.8%,#c4c4c4 25.0%,#c0c0c0 29.2%,#bcbcbc 33.3%,#b5b5b5 37.5%,#ababab 41.7%,#9f9f9f 45.8%,#929292 50.0%,#8a8a8a 54.2%,#8b8b8b 58.3%,#959595 62.5%,#a2a2a2 66.7%,#aeaeae 70.8%,#b7b7b7 75.0%,#bdbdbd 79.2%,#c2c2c2 83.3%,#c5c5c5 87.5%,#c6c6c6 91.7%,#c8c8c8 95.8%,#c9c9c9)"></i><i style="height:15.26px;background:linear-gradient(90deg,#cdcdcd,#cdcdcd 4.2%,#cccccc 8.3%,#cccccc 12.5%,#cbcbcb 16.7%,#cacaca 20.8%,#c9c9c9 25.0%,#c6c6c6 29.2%,#c3c3c3 33.3%,#bebebe 37.5%,#b7b7b7 41.7%,#aeaeae 45.8%,#a4a4a4 50.0%,#9e9e9e 54.2%,#a0a0a0 58.3%,#a7a7a7 62.5%,#b1b1b1 66.7%,#b9b9b9 70.8%,#c0c0c0 75.0%,#c4c4c4 79.2%,#c7c7c7 83.3%,#c9c9c9 87.5%,#cacaca 91.7%,#cbcbcb 95.8%,#cccccc)"></i><i style="height:15.26px;background:linear-gradient(90deg,#d0d0d0,#d0d0d0 4.2%,#d0d0d0 8.3%,#d0d0d0 12.5%,#cfcfcf 16.7%,#cfcfcf 20.8%,#cecece 25.0%,#cccccc 29.2%,#cacaca 33.3%,#c7c7c7 37.5%,#c2c2c2 41.7%,#bcbcbc 45.8%,#b5b5b5 50.0%,#b1b1b1 54.2%,#b2b2b2 58.3%,#b7b7b7 62.5%,#bebebe 66.7%,#c3c3c3 70.8%,#c8c8c8 75.0%,#cbcbcb 79.2%,#cdcdcd 83.3%,#cecece 87.5%,#cfcfcf 91.7%,#cfcfcf 95.8%,#d0d0d0)"></i><i style="height:15.26px;background:linear-gradient(90deg,#d4d4d4,#d4d4d4 4.2%,#d4d4d4 8.3%,#d4d4d4 12.5%,#d4d4d4 16.7%,#d3d3d3 20.8%,#d3d3d3 25.0%,#d2d2d2 29.2%,#d1d1d1 33.3%,#cfcfcf 37.5%,#cccccc 41.7%,#c9c9c9 45.8%,#c6c6c6 50.0%,#c4c4c4 54.2%,#c4c4c4 58.3%,#c7c7c7 62.5%,#cacaca 66.7%,#cdcdcd 70.8%,#d0d0d0 75.0%,#d1d1d1 79.2%,#d2d2d2 83.3%,#d3d3d3 87.5%,#d3d3d3 91.7%,#d4d4d4 95.8%,#d4d4d4)"></i><i style="height:15.26px;background:linear-gradient(90deg,#d8d8d8,#d8d8d8 4.2%,#d8d8d8 8.3%,#d8d8d8 12.5%,#d8d8d8 16.7%,#d8d8d8 20.8%,#d7d7d7 25.0%,#d7d7d7 29.2%,#d7d7d7 33.3%,#d6d6d6 37.5%,#d5d5d5 41.7%,#d3d3d3 45.8%,#d2d2d2 50.0%,#d1d1d1 54.2%,#d1d1d1 58.3%,#d2d2d2 62.5%,#d4d4d4 66.7%,#d5d5d5 70.8%,#d6d6d6 75.0%,#d7d7d7 79.2%,#d7d7d7 83.3%,#d7d7d7 87.5%,#d8d8d8 91.7%,#d8d8d8 95.8%,#d8d8d8)"></i><i style="height:15.26px;background:linear-gradient(90deg,#dcdcdc,#dcdcdc 4.2%,#dcdcdc 8.3%,#dcdcdc 12.5%,#dcdcdc 16.7%,#dcdcdc 20.8%,#dcdcdc 25.0%,#dbdbdb 29.2%,#dbdbdb 33.3%,#dbdbdb 37.5%,#dadada 41.7%,#dadada 45.8%,#d9d9d9 50.0%,#d8d8d8 54.2%,#d8d8d8 58.3%,#d9d9d9 62.5%,#dadada 66.7%,#dadada 70.8%,#dbdbdb 75.0%,#dbdbdb 79.2%,#dcdcdc 83.3%,#dcdcdc 87.5%,#dcdcdc 91.7%,#dcdcdc 95.8%,#dcdcdc)"></i><i style="height:12px;background:linear-gradient(90deg,#dedede,#dedede 4.2%,#dedede 8.3%,#dedede 12.5%,#dedede 16.7%,#dedede 20.8%,#dedede 25.0%,#dedede 29.2%,#dedede 33.3%,#dddddd 37.5%,#dddddd 41.7%,#dddddd 45.8%,#dcdcdc 50.0%,#dcdcdc 54.2%,#dcdcdc 58.3%,#dcdcdc 62.5%,#dddddd 66.7%,#dddddd 70.8%,#dddddd 75.0%,#dedede 79.2%,#dedede 83.3%,#dedede 87.5%,#dedede 91.7%,#dedede 95.8%,#dedede)"></i></div></div>
<div class="hm" style="left:701.0px;top:997.5px;width:281.6px;height:73.5px;"><div class="hi" style="top:-12px;filter:url(#vb1);"><i style="height:12px;background:linear-gradient(90deg,#343434,#323232 4.2%,#303030 8.3%,#2d2d2d 12.5%,#2a2a2a 16.7%,#272727 20.8%,#242424 25.0%,#202020 29.2%,#1d1d1d 33.3%,#1a1a1a 37.5%,#171717 41.7%,#141414 45.8%,#131313 50.0%,#121212 54.2%,#121212 58.3%,#131313 62.5%,#151515 66.7%,#181818 70.8%,#1b1b1b 75.0%,#1e1e1e 79.2%,#212121 83.3%,#252525 87.5%,#282828 91.7%,#2b2b2b 95.8%,#2e2e2e)"></i><i style="height:9.19px;background:linear-gradient(90deg,#393939,#373737 4.2%,#353535 8.3%,#323232 12.5%,#2f2f2f 16.7%,#2b2b2b 20.8%,#272727 25.0%,#232323 29.2%,#202020 33.3%,#1c1c1c 37.5%,#181818 41.7%,#151515 45.8%,#131313 50.0%,#121212 54.2%,#131313 58.3%,#141414 62.5%,#161616 66.7%,#191919 70.8%,#1d1d1d 75.0%,#212121 79.2%,#252525 83.3%,#292929 87.5%,#2c2c2c 91.7%,#303030 95.8%,#333333)"></i><i style="height:9.19px;background:linear-gradient(90deg,#454545,#424242 4.2%,#404040 8.3%,#3c3c3c 12.5%,#393939 16.7%,#353535 20.8%,#303030 25.0%,#2b2b2b 29.2%,#262626 33.3%,#212121 37.5%,#1c1c1c 41.7%,#181818 45.8%,#151515 50.0%,#131313 54.2%,#141414 58.3%,#161616 62.5%,#191919 66.7%,#1d1d1d 70.8%,#222222 75.0%,#272727 79.2%,#2c2c2c 83.3%,#313131 87.5%,#363636 91.7%,#3a3a3a 95.8%,#3d3d3d)"></i><i style="height:9.19px;background:linear-gradient(90deg,#515151,#4f4f4f 4.2%,#4c4c4c 8.3%,#494949 12.5%,#454545 16.7%,#404040 20.8%,#3b3b3b 25.0%,#353535 29.2%,#2e2e2e 33.3%,#272727 37.5%,#202020 41.7%,#1b1b1b 45.8%,#161616 50.0%,#141414 54.2%,#151515 58.3%,#181818 62.5%,#1c1c1c 66.7%,#222222 70.8%,#292929 75.0%,#303030 79.2%,#363636 83.3%,#3c3c3c 87.5%,#414141 91.7%,#464646 95.8%,#4a4a4a)"></i><i style="height:9.19px;background:linear-gradient(90deg,#606060,#5d5d5d 4.2%,#5a5a5a 8.3%,#575757 12.5%,#525252 16.7%,#4d4d4d 20.8%,#474747 25.0%,#404040 29.2%,#383838 33.3%,#2f2f2f 37.5%,#272727 41.7%,#1f1f1f 45.8%,#191919 50.0%,#161616 54.2%,#171717 58.3%,#1b1b1b 62.5%,#212121 66.7%,#292929 70.8%,#323232 75.0%,#3a3a3a 79.2%,#424242 83.3%,#494949 87.5%,#4f4f4f 91.7%,#545454 95.8%,#585858)"></i><i style="height:9.19px;background:linear-gradient(90deg,#6e6e6e,#6c6c6c 4.2%,#696969 8.3%,#666666 12.5%,#616161 16.7%,#5c5c5c 20.8%,#555555 25.0%,#4d4d4d 29.2%,#444444 33.3%,#393939 37.5%,#2e2e2e 41.7%,#242424 45.8%,#1c1c1c 50.0%,#181818 54.2%,#191919 58.3%,#1e1e1e 62.5%,#272727 66.7%,#323232 70.8%,#3c3c3c 75.0%,#474747 79.2%,#505050 83.3%,#575757 87.5%,#5e5e5e 91.7%,#636363 95.8%,#676767)"></i><i style="height:9.19px;background:linear-gradient(90deg,#7e7e7e,#7c7c7c 4.2%,#797979 8.3%,#767676 12.5%,#717171 16.7%,#6b6b6b 20.8%,#646464 25.0%,#5c5c5c 29.2%,#515151 33.3%,#454545 37.5%,#383838 41.7%,#2b2b2b 45.8%,#212121 50.0%,#1c1c1c 54.2%,#1d1d1d 58.3%,#242424 62.5%,#2f2f2f 66.7%,#3c3c3c 70.8%,#494949 75.0%,#555555 79.2%,#5f5f5f 83.3%,#676767 87.5%,#6d6d6d 91.7%,#737373 95.8%,#777777)"></i><i style="height:9.19px;background:linear-gradient(90deg,#8d8d8d,#8b8b8b 4.2%,#898989 8.3%,#868686 12.5%,#818181 16.7%,#7c7c7c 20.8%,#747474 25.0%,#6b6b6b 29.2%,#606060 33.3%,#525252 37.5%,#434343 41.7%,#343434 45.8%,#282828 50.0%,#212121 54.2%,#222222 58.3%,#2b2b2b 62.5%,#393939 66.7%,#484848 70.8%,#575757 75.0%,#646464 79.2%,#6e6e6e 83.3%,#777777 87.5%,#7d7d7d 91.7%,#838383 95.8%,#878787)"></i><i style="height:9.19px;background:linear-gradient(90deg,#9d9d9d,#9b9b9b 4.2%,#999999 8.3%,#969696 12.5%,#929292 16.7%,#8c8c8c 20.8%,#858585 25.0%,#7c7c7c 29.2%,#707070 33.3%,#616161 37.5%,#505050 41.7%,#3e3e3e 45.8%,#2f2f2f 50.0%,#262626 54.2%,#282828 58.3%,#333333 62.5%,#434343 66.7%,#555555 70.8%,#666666 75.0%,#747474 79.2%,#7f7f7f 83.3%,#888888 87.5%,#8e8e8e 91.7%,#939393 95.8%,#979797)"></i><i style="height:12px;background:linear-gradient(90deg,#a5a5a5,#a3a3a3 4.2%,#a1a1a1 8.3%,#9e9e9e 12.5%,#9a9a9a 16.7%,#959595 20.8%,#8e8e8e 25.0%,#858585 29.2%,#787878 33.3%,#696969 37.5%,#575757 41.7%,#434343 45.8%,#323232 50.0%,#292929 54.2%,#2a2a2a 58.3%,#373737 62.5%,#494949 66.7%,#5c5c5c 70.8%,#6e6e6e 75.0%,#7c7c7c 79.2%,#888888 83.3%,#909090 87.5%,#979797 91.7%,#9c9c9c 95.8%,#9f9f9f)"></i></div></div>
<div class="hm" style="left:701.0px;top:1073.4px;width:281.6px;height:66.2px;"><div class="hi" style="top:-12px;filter:url(#vb1);"><i style="height:12px;background:linear-gradient(90deg,#8c8c8c,#8a8a8a 4.2%,#888888 8.3%,#858585 12.5%,#828282 16.7%,#7e7e7e 20.8%,#7a7a7a 25.0%,#757575 29.2%,#6f6f6f 33.3%,#686868 37.5%,#626262 41.7%,#5c5c5c 45.8%,#575757 50.0%,#555555 54.2%,#565656 58.3%,#595959 62.5%,#5d5d5d 66.7%,#646464 70.8%,#6a6a6a 75.0%,#707070 79.2%,#767676 83.3%,#7b7b7b 87.5%,#808080 91.7%,#838383 95.8%,#868686)"></i><i style="height:8.27px;background:linear-gradient(90deg,#949494,#929292 4.2%,#909090 8.3%,#8e8e8e 12.5%,#8b8b8b 16.7%,#878787 20.8%,#838383 25.0%,#7e7e7e 29.2%,#797979 33.3%,#737373 37.5%,#6d6d6d 41.7%,#676767 45.8%,#636363 50.0%,#606060 54.2%,#616161 58.3%,#646464 62.5%,#696969 66.7%,#6e6e6e 70.8%,#757575 75.0%,#7b7b7b 79.2%,#808080 83.3%,#858585 87.5%,#898989 91.7%,#8c8c8c 95.8%,#8f8f8f)"></i><i style="height:8.27px;background:linear-gradient(90deg,#a3a3a3,#a2a2a2 4.2%,#a0a0a0 8.3%,#9e9e9e 12.5%,#9c9c9c 16.7%,#999999 20.8%,#969696 25.0%,#929292 29.2%,#8d8d8d 33.3%,#888888 37.5%,#828282 41.7%,#7d7d7d 45.8%,#797979 50.0%,#777777 54.2%,#777777 58.3%,#7a7a7a 62.5%,#7f7f7f 66.7%,#848484 70.8%,#898989 75.0%,#8f8f8f 79.2%,#939393 83.3%,#979797 87.5%,#9a9a9a 91.7%,#9d9d9d 95.8%,#9f9f9f)"></i><i style="height:8.27px;background:linear-gradient(90deg,#b0b0b0,#b0b0b0 4.2%,#afafaf 8.3%,#adadad 12.5%,#acacac 16.7%,#aaaaaa 20.8%,#a7a7a7 25.0%,#a4a4a4 29.2%,#a0a0a0 33.3%,#9c9c9c 37.5%,#979797 41.7%,#939393 45.8%,#909090 50.0%,#8e8e8e 54.2%,#8e8e8e 58.3%,#909090 62.5%,#949494 66.7%,#999999 70.8%,#9d9d9d 75.0%,#a1a1a1 79.2%,#a5a5a5 83.3%,#a8a8a8 87.5%,#aaaaaa 91.7%,#acacac 95.8%,#aeaeae)"></i><i style="height:8.27px;background:linear-gradient(90deg,#bdbdbd,#bdbdbd 4.2%,#bcbcbc 8.3%,#bbbbbb 12.5%,#bababa 16.7%,#b9b9b9 20.8%,#b7b7b7 25.0%,#b5b5b5 29.2%,#b2b2b2 33.3%,#afafaf 37.5%,#acacac 41.7%,#a9a9a9 45.8%,#a6a6a6 50.0%,#a5a5a5 54.2%,#a5a5a5 58.3%,#a7a7a7 62.5%,#aaaaaa 66.7%,#adadad 70.8%,#b0b0b0 75.0%,#b3b3b3 79.2%,#b6b6b6 83.3%,#b8b8b8 87.5%,#b9b9b9 91.7%,#bababa 95.8%,#bbbbbb)"></i><i style="height:8.27px;background:linear-gradient(90deg,#c9c9c9,#c9c9c9 4.2%,#c9c9c9 8.3%,#c8c8c8 12.5%,#c8c8c8 16.7%,#c7c7c7 20.8%,#c6c6c6 25.0%,#c5c5c5 29.2%,#c4c4c4 33.3%,#c2c2c2 37.5%,#c0c0c0 41.7%,#bfbfbf 45.8%,#bdbdbd 50.0%,#bcbcbc 54.2%,#bcbcbc 58.3%,#bdbdbd 62.5%,#bfbfbf 66.7%,#c1c1c1 70.8%,#c3c3c3 75.0%,#c4c4c4 79.2%,#c6c6c6 83.3%,#c7c7c7 87.5%,#c7c7c7 91.7%,#c8c8c8 95.8%,#c9c9c9)"></i><i style="height:8.27px;background:linear-gradient(90deg,#d1d1d1,#d1d1d1 4.2%,#d0d0d0 8.3%,#d0d0d0 12.5%,#d0d0d0 16.7%,#cfcfcf 20.8%,#cfcfcf 25.0%,#cecece 29.2%,#cdcdcd 33.3%,#cccccc 37.5%,#cbcbcb 41.7%,#cacaca 45.8%,#c9c9c9 50.0%,#c9c9c9 54.2%,#c9c9c9 58.3%,#c9c9c9 62.5%,#cacaca 66.7%,#cccccc 70.8%,#cdcdcd 75.0%,#cecece 79.2%,#cecece 83.3%,#cfcfcf 87.5%,#d0d0d0 91.7%,#d0d0d0 95.8%,#d0d0d0)"></i><i style="height:8.27px;background:linear-gradient(90deg,#d6d6d6,#d6d6d6 4.2%,#d6d6d6 8.3%,#d6d6d6 12.5%,#d5d5d5 16.7%,#d5d5d5 20.8%,#d5d5d5 25.0%,#d4d4d4 29.2%,#d4d4d4 33.3%,#d3d3d3 37.5%,#d2d2d2 41.7%,#d1d1d1 45.8%,#d1d1d1 50.0%,#d0d0d0 54.2%,#d0d0d0 58.3%,#d1d1d1 62.5%,#d2d2d2 66.7%,#d2d2d2 70.8%,#d3d3d3 75.0%,#d4d4d4 79.2%,#d4d4d4 83.3%,#d5d5d5 87.5%,#d5d5d5 91.7%,#d6d6d6 95.8%,#d6d6d6)"></i><i style="height:8.27px;background:linear-gradient(90deg,#dbdbdb,#dbdbdb 4.2%,#dbdbdb 8.3%,#dbdbdb 12.5%,#dbdbdb 16.7%,#dbdbdb 20.8%,#dbdbdb 25.0%,#dadada 29.2%,#dadada 33.3%,#dadada 37.5%,#d9d9d9 41.7%,#d9d9d9 45.8%,#d8d8d8 50.0%,#d8d8d8 54.2%,#d8d8d8 58.3%,#d8d8d8 62.5%,#d9d9d9 66.7%,#d9d9d9 70.8%,#dadada 75.0%,#dadada 79.2%,#dadada 83.3%,#dbdbdb 87.5%,#dbdbdb 91.7%,#dbdbdb 95.8%,#dbdbdb)"></i><i style="height:12px;background:linear-gradient(90deg,#dedede,#dedede 4.2%,#dedede 8.3%,#dedede 12.5%,#dedede 16.7%,#dedede 20.8%,#dedede 25.0%,#dddddd 29.2%,#dddddd 33.3%,#dddddd 37.5%,#dddddd 41.7%,#dcdcdc 45.8%,#dcdcdc 50.0%,#dcdcdc 54.2%,#dcdcdc 58.3%,#dcdcdc 62.5%,#dcdcdc 66.7%,#dddddd 70.8%,#dddddd 75.0%,#dddddd 79.2%,#dddddd 83.3%,#dedede 87.5%,#dedede 91.7%,#dedede 95.8%,#dedede)"></i></div></div>
<div class="hm" style="left:118.1px;top:1464.9px;width:85.0px;height:245.5px;"><div class="hi" style="top:-12px;filter:url(#vb2);"><i style="height:12px;background:linear-gradient(90deg,#c0c0c0,#c4c4c4 12%,#c7c7c7 25%,#cacaca 38%,#cccccc 44%,#cdcdcd 46%,#bebebe 49%,#878787 51%,#767676 53%,#7b7b7b 55%,#b4b4b4 58%,#c5c5c5 61%,#c8c8c8 66%,#c9c9c9 69%,#cccccc 81%,#cdcdcd 91%,#cdcdcd)"></i><i style="height:15.34px;background:linear-gradient(90deg,#c2c2c2,#c5c5c5 12%,#c8c8c8 25%,#cbcbcb 38%,#cdcdcd 44%,#cdcdcd 46%,#bebebe 49%,#878787 51%,#767676 53%,#7c7c7c 55%,#b5b5b5 58%,#c6c6c6 61%,#c9c9c9 66%,#cacaca 69%,#cccccc 81%,#cdcdcd 91%,#cecece)"></i><i style="height:15.34px;background:linear-gradient(90deg,#c5c5c5,#c8c8c8 12%,#cacaca 25%,#cdcdcd 38%,#cecece 44%,#cfcfcf 46%,#c0c0c0 49%,#888888 51%,#777777 53%,#7d7d7d 55%,#b6b6b6 58%,#c7c7c7 61%,#cacaca 66%,#cbcbcb 69%,#cdcdcd 81%,#cecece 91%,#cfcfcf)"></i><i style="height:15.34px;background:linear-gradient(90deg,#c9c9c9,#cbcbcb 12%,#cdcdcd 25%,#cfcfcf 38%,#d0d0d0 44%,#d0d0d0 46%,#c1c1c1 49%,#898989 51%,#787878 53%,#7e7e7e 55%,#b7b7b7 58%,#c9c9c9 61%,#cbcbcb 66%,#cccccc 69%,#cfcfcf 81%,#cfcfcf 91%,#d0d0d0)"></i><i style="height:15.34px;background:linear-gradient(90deg,#cccccc,#cecece 12%,#cfcfcf 25%,#d0d0d0 38%,#d1d1d1 44%,#d1d1d1 46%,#c2c2c2 49%,#8a8a8a 51%,#797979 53%,#7f7f7f 55%,#b9b9b9 58%,#cacaca 61%,#cccccc 66%,#cdcdcd 69%,#d0d0d0 81%,#d1d1d1 91%,#d1d1d1)"></i><i style="height:15.34px;background:linear-gradient(90deg,#d0d0d0,#d0d0d0 12%,#d1d1d1 25%,#d2d2d2 38%,#d2d2d2 44%,#d2d2d2 46%,#c3c3c3 49%,#8b8b8b 51%,#797979 53%,#818181 55%,#bababa 58%,#cbcbcb 61%,#cdcdcd 66%,#cecece 69%,#d1d1d1 81%,#d2d2d2 91%,#d2d2d2)"></i><i style="height:15.34px;background:linear-gradient(90deg,#d3d3d3,#d3d3d3 12%,#d3d3d3 25%,#d3d3d3 38%,#d3d3d3 44%,#d3d3d3 46%,#c4c4c4 49%,#8b8b8b 51%,#7a7a7a 53%,#828282 55%,#bbbbbb 58%,#cdcdcd 61%,#cfcfcf 66%,#d0d0d0 69%,#d2d2d2 81%,#d3d3d3 91%,#d3d3d3)"></i><i style="height:15.34px;background:linear-gradient(90deg,#d4d4d4,#d4d4d4 12%,#d4d4d4 25%,#d4d4d4 38%,#d4d4d4 44%,#d4d4d4 46%,#c5c5c5 49%,#8c8c8c 51%,#7b7b7b 53%,#838383 55%,#bdbdbd 58%,#cecece 61%,#d0d0d0 66%,#d1d1d1 69%,#d3d3d3 81%,#d4d4d4 91%,#d4d4d4)"></i><i style="height:15.34px;background:linear-gradient(90deg,#d6d6d6,#d6d6d6 12%,#d6d6d6 25%,#d6d6d6 38%,#d5d5d5 44%,#d5d5d5 46%,#c6c6c6 49%,#8d8d8d 51%,#7c7c7c 53%,#848484 55%,#bebebe 58%,#cfcfcf 61%,#d1d1d1 66%,#d2d2d2 69%,#d4d4d4 81%,#d5d5d5 91%,#d5d5d5)"></i><i style="height:15.34px;background:linear-gradient(90deg,#d6d6d6,#d6d6d6 12%,#d6d6d6 25%,#d6d6d6 38%,#d6d6d6 44%,#d6d6d6 46%,#c6c6c6 49%,#8e8e8e 51%,#7c7c7c 53%,#858585 55%,#bfbfbf 58%,#d1d1d1 61%,#d2d2d2 66%,#d3d3d3 69%,#d5d5d5 81%,#d6d6d6 91%,#d6d6d6)"></i><i style="height:15.34px;background:linear-gradient(90deg,#d8d8d8,#d8d8d8 12%,#d8d8d8 25%,#d8d8d8 38%,#d7d7d7 44%,#d7d7d7 46%,#c7c7c7 49%,#8f8f8f 51%,#7d7d7d 53%,#878787 55%,#c1c1c1 58%,#d2d2d2 61%,#d3d3d3 66%,#d4d4d4 69%,#d6d6d6 81%,#d7d7d7 91%,#d7d7d7)"></i><i style="height:15.34px;background:linear-gradient(90deg,#d8d8d8,#d8d8d8 12%,#d8d8d8 25%,#d8d8d8 38%,#d8d8d8 44%,#d8d8d8 46%,#c8c8c8 49%,#8f8f8f 51%,#7e7e7e 53%,#888888 55%,#c2c2c2 58%,#d3d3d3 61%,#d5d5d5 66%,#d5d5d5 69%,#d7d7d7 81%,#d8d8d8 91%,#d8d8d8)"></i><i style="height:15.34px;background:linear-gradient(90deg,#dadada,#dadada 12%,#dadada 25%,#dadada 38%,#d9d9d9 44%,#d9d9d9 46%,#c9c9c9 49%,#909090 51%,#7f7f7f 53%,#898989 55%,#c3c3c3 58%,#d4d4d4 61%,#d6d6d6 66%,#d7d7d7 69%,#d8d8d8 81%,#d9d9d9 91%,#d9d9d9)"></i><i style="height:15.34px;background:linear-gradient(90deg,#dadada,#dadada 12%,#dadada 25%,#dadada 38%,#dadada 44%,#dadada 46%,#cacaca 49%,#919191 51%,#7f7f7f 53%,#8a8a8a 55%,#c5c5c5 58%,#d6d6d6 61%,#d7d7d7 66%,#d8d8d8 69%,#d9d9d9 81%,#dadada 91%,#dadada)"></i><i style="height:15.34px;background:linear-gradient(90deg,#dcdcdc,#dcdcdc 12%,#dcdcdc 25%,#dcdcdc 38%,#dbdbdb 44%,#dbdbdb 46%,#cbcbcb 49%,#929292 51%,#808080 53%,#8c8c8c 55%,#c6c6c6 58%,#d7d7d7 61%,#d8d8d8 66%,#d9d9d9 69%,#dadada 81%,#dbdbdb 91%,#dbdbdb)"></i><i style="height:15.34px;background:linear-gradient(90deg,#dcdcdc,#dcdcdc 12%,#dcdcdc 25%,#dcdcdc 38%,#dcdcdc 44%,#dcdcdc 46%,#cccccc 49%,#939393 51%,#818181 53%,#8d8d8d 55%,#c7c7c7 58%,#d8d8d8 61%,#dadada 66%,#dadada 69%,#dbdbdb 81%,#dcdcdc 91%,#dcdcdc)"></i><i style="height:15.34px;background:linear-gradient(90deg,#dedede,#dedede 12%,#dedede 25%,#dedede 38%,#dddddd 44%,#dddddd 46%,#cdcdcd 49%,#939393 51%,#828282 53%,#8e8e8e 55%,#c9c9c9 58%,#dadada 61%,#dbdbdb 66%,#dbdbdb 69%,#dddddd 81%,#dddddd 91%,#dddddd)"></i><i style="height:12px;background:linear-gradient(90deg,#dedede,#dedede 12%,#dedede 25%,#dedede 38%,#dedede 44%,#dedede 46%,#cecece 49%,#949494 51%,#828282 53%,#8f8f8f 55%,#c9c9c9 58%,#dadada 61%,#dbdbdb 66%,#dcdcdc 69%,#dddddd 81%,#dedede 91%,#dedede)"></i></div></div>
<div class="hm" style="left:212.2px;top:1464.9px;width:85.0px;height:245.5px;"><div class="hi" style="top:-12px;filter:url(#vb2);"><i style="height:12px;background:linear-gradient(90deg,#dedede,#dedede 12%,#dedede 25%,#dedede 38%,#dedede 44%,#dedede 48%,#dcdcdc 50%,#d7d7d7 52%,#d4d4d4 54%,#d7d7d7 56%,#dcdcdc 57%,#dedede 60%,#dedede 65%,#dedede 69%,#dedede 81%,#dedede 91%,#dedede)"></i><i style="height:15.34px;background:linear-gradient(90deg,#dedede,#dedede 12%,#dedede 25%,#dedede 38%,#dedede 44%,#dedede 48%,#dcdcdc 50%,#d7d7d7 52%,#d4d4d4 54%,#d7d7d7 56%,#dcdcdc 57%,#dedede 60%,#dedede 65%,#dedede 69%,#dedede 81%,#dedede 91%,#dedede)"></i><i style="height:15.34px;background:linear-gradient(90deg,#dfdfdf,#dfdfdf 12%,#dfdfdf 25%,#dfdfdf 38%,#dfdfdf 44%,#dedede 48%,#dcdcdc 50%,#d8d8d8 52%,#d5d5d5 54%,#d8d8d8 56%,#dcdcdc 57%,#dedede 60%,#dfdfdf 65%,#dfdfdf 69%,#dfdfdf 81%,#dfdfdf 91%,#dfdfdf)"></i><i style="height:15.34px;background:linear-gradient(90deg,#dfdfdf,#dfdfdf 12%,#dfdfdf 25%,#dfdfdf 38%,#dfdfdf 44%,#dfdfdf 48%,#dddddd 50%,#d8d8d8 52%,#d5d5d5 54%,#d8d8d8 56%,#dddddd 57%,#dfdfdf 60%,#dfdfdf 65%,#dfdfdf 69%,#dfdfdf 81%,#dfdfdf 91%,#dfdfdf)"></i><i style="height:15.34px;background:linear-gradient(90deg,#dfdfdf,#dfdfdf 12%,#dfdfdf 25%,#dfdfdf 38%,#dfdfdf 44%,#dfdfdf 48%,#dddddd 50%,#d8d8d8 52%,#d5d5d5 54%,#d8d8d8 56%,#dddddd 57%,#dfdfdf 60%,#dfdfdf 65%,#dfdfdf 69%,#dfdfdf 81%,#dfdfdf 91%,#dfdfdf)"></i><i style="height:15.34px;background:linear-gradient(90deg,#e0e0e0,#e0e0e0 12%,#e0e0e0 25%,#e0e0e0 38%,#e0e0e0 44%,#e0e0e0 48%,#dddddd 50%,#d9d9d9 52%,#d6d6d6 54%,#d9d9d9 56%,#dddddd 57%,#e0e0e0 60%,#e0e0e0 65%,#e0e0e0 69%,#e0e0e0 81%,#e0e0e0 91%,#e0e0e0)"></i><i style="height:15.34px;background:linear-gradient(90deg,#e0e0e0,#e0e0e0 12%,#e0e0e0 25%,#e0e0e0 38%,#e0e0e0 44%,#e0e0e0 48%,#dedede 50%,#d9d9d9 52%,#d6d6d6 54%,#d9d9d9 56%,#dedede 57%,#e0e0e0 60%,#e0e0e0 65%,#e0e0e0 69%,#e0e0e0 81%,#e0e0e0 91%,#e0e0e0)"></i><i style="height:15.34px;background:linear-gradient(90deg,#e0e0e0,#e0e0e0 12%,#e0e0e0 25%,#e0e0e0 38%,#e0e0e0 44%,#e0e0e0 48%,#dedede 50%,#d9d9d9 52%,#d6d6d6 54%,#d9d9d9 56%,#dedede 57%,#e0e0e0 60%,#e0e0e0 65%,#e0e0e0 69%,#e0e0e0 81%,#e0e0e0 91%,#e0e0e0)"></i><i style="height:15.34px;background:linear-gradient(90deg,#e1e1e1,#e1e1e1 12%,#e1e1e1 25%,#e1e1e1 38%,#e1e1e1 44%,#e1e1e1 48%,#dedede 50%,#dadada 52%,#d7d7d7 54%,#dadada 56%,#dedede 57%,#e1e1e1 60%,#e1e1e1 65%,#e1e1e1 69%,#e1e1e1 81%,#e1e1e1 91%,#e1e1e1)"></i><i style="height:15.34px;background:linear-gradient(90deg,#e1e1e1,#e1e1e1 12%,#e1e1e1 25%,#e1e1e1 38%,#e1e1e1 44%,#e1e1e1 48%,#dfdfdf 50%,#dadada 52%,#d7d7d7 54%,#dadada 56%,#dfdfdf 57%,#e1e1e1 60%,#e1e1e1 65%,#e1e1e1 69%,#e1e1e1 81%,#e1e1e1 91%,#e1e1e1)"></i><i style="height:15.34px;background:linear-gradient(90deg,#e2e2e2,#e2e2e2 12%,#e2e2e2 25%,#e2e2e2 38%,#e2e2e2 44%,#e1e1e1 48%,#dfdfdf 50%,#dbdbdb 52%,#d8d8d8 54%,#dbdbdb 56%,#dfdfdf 57%,#e1e1e1 60%,#e2e2e2 65%,#e2e2e2 69%,#e2e2e2 81%,#e2e2e2 91%,#e2e2e2)"></i><i style="height:15.34px;background:linear-gradient(90deg,#e2e2e2,#e2e2e2 12%,#e2e2e2 25%,#e2e2e2 38%,#e2e2e2 44%,#e2e2e2 48%,#e0e0e0 50%,#dbdbdb 52%,#d8d8d8 54%,#dbdbdb 56%,#e0e0e0 57%,#e2e2e2 60%,#e2e2e2 65%,#e2e2e2 69%,#e2e2e2 81%,#e2e2e2 91%,#e2e2e2)"></i><i style="height:15.34px;background:linear-gradient(90deg,#e2e2e2,#e2e2e2 12%,#e2e2e2 25%,#e2e2e2 38%,#e2e2e2 44%,#e2e2e2 48%,#e0e0e0 50%,#dbdbdb 52%,#d8d8d8 54%,#dbdbdb 56%,#e0e0e0 57%,#e2e2e2 60%,#e2e2e2 65%,#e2e2e2 69%,#e2e2e2 81%,#e2e2e2 91%,#e2e2e2)"></i><i style="height:15.34px;background:linear-gradient(90deg,#e3e3e3,#e3e3e3 12%,#e3e3e3 25%,#e3e3e3 38%,#e3e3e3 44%,#e3e3e3 48%,#e0e0e0 50%,#dcdcdc 52%,#d9d9d9 54%,#dcdcdc 56%,#e0e0e0 57%,#e3e3e3 60%,#e3e3e3 65%,#e3e3e3 69%,#e3e3e3 81%,#e3e3e3 91%,#e3e3e3)"></i><i style="height:15.34px;background:linear-gradient(90deg,#e3e3e3,#e3e3e3 12%,#e3e3e3 25%,#e3e3e3 38%,#e3e3e3 44%,#e3e3e3 48%,#e1e1e1 50%,#dcdcdc 52%,#d9d9d9 54%,#dcdcdc 56%,#e1e1e1 57%,#e3e3e3 60%,#e3e3e3 65%,#e3e3e3 69%,#e3e3e3 81%,#e3e3e3 91%,#e3e3e3)"></i><i style="height:15.34px;background:linear-gradient(90deg,#e3e3e3,#e3e3e3 12%,#e3e3e3 25%,#e3e3e3 38%,#e3e3e3 44%,#e3e3e3 48%,#e1e1e1 50%,#dcdcdc 52%,#d9d9d9 54%,#dcdcdc 56%,#e1e1e1 57%,#e3e3e3 60%,#e3e3e3 65%,#e3e3e3 69%,#e3e3e3 81%,#e3e3e3 91%,#e3e3e3)"></i><i style="height:15.34px;background:linear-gradient(90deg,#e4e4e4,#e4e4e4 12%,#e4e4e4 25%,#e4e4e4 38%,#e4e4e4 44%,#e4e4e4 48%,#e1e1e1 50%,#dddddd 52%,#dadada 54%,#dddddd 56%,#e1e1e1 57%,#e4e4e4 60%,#e4e4e4 65%,#e4e4e4 69%,#e4e4e4 81%,#e4e4e4 91%,#e4e4e4)"></i><i style="height:12px;background:linear-gradient(90deg,#e4e4e4,#e4e4e4 12%,#e4e4e4 25%,#e4e4e4 38%,#e4e4e4 44%,#e4e4e4 48%,#e2e2e2 50%,#dddddd 52%,#dadada 54%,#dddddd 56%,#e2e2e2 57%,#e4e4e4 60%,#e4e4e4 65%,#e4e4e4 69%,#e4e4e4 81%,#e4e4e4 91%,#e4e4e4)"></i></div></div>
<div class="hm" style="left:306.2px;top:1464.9px;width:85.0px;height:245.5px;"><div class="hi" style="top:-12px;filter:url(#vb2);"><i style="height:12px;background:linear-gradient(90deg,#e1e1e1,#e1e1e1 12%,#e1e1e1 25%,#e1e1e1 38%,#e1e1e1 44%,#e1e1e1 48%,#dddddd 50%,#d6d6d6 52%,#d1d1d1 54%,#d6d6d6 56%,#dddddd 57%,#e1e1e1 60%,#e1e1e1 65%,#e1e1e1 69%,#e1e1e1 81%,#e1e1e1 91%,#e1e1e1)"></i><i style="height:15.34px;background:linear-gradient(90deg,#e1e1e1,#e1e1e1 12%,#e1e1e1 25%,#e1e1e1 38%,#e1e1e1 44%,#e1e1e1 48%,#dddddd 50%,#d6d6d6 52%,#d1d1d1 54%,#d6d6d6 56%,#dddddd 57%,#e1e1e1 60%,#e1e1e1 65%,#e1e1e1 69%,#e1e1e1 81%,#e1e1e1 91%,#e1e1e1)"></i><i style="height:15.34px;background:linear-gradient(90deg,#e2e2e2,#e2e2e2 12%,#e2e2e2 25%,#e2e2e2 38%,#e2e2e2 44%,#e1e1e1 48%,#dedede 50%,#d7d7d7 52%,#d2d2d2 54%,#d7d7d7 56%,#dedede 57%,#e1e1e1 60%,#e2e2e2 65%,#e2e2e2 69%,#e2e2e2 81%,#e2e2e2 91%,#e2e2e2)"></i><i style="height:15.34px;background:linear-gradient(90deg,#e2e2e2,#e2e2e2 12%,#e2e2e2 25%,#e2e2e2 38%,#e2e2e2 44%,#e2e2e2 48%,#dfdfdf 50%,#d8d8d8 52%,#d3d3d3 54%,#d8d8d8 56%,#dfdfdf 57%,#e2e2e2 60%,#e2e2e2 65%,#e2e2e2 69%,#e2e2e2 81%,#e2e2e2 91%,#e2e2e2)"></i><i style="height:15.34px;background:linear-gradient(90deg,#e3e3e3,#e3e3e3 12%,#e3e3e3 25%,#e3e3e3 38%,#e3e3e3 44%,#e2e2e2 48%,#dfdfdf 50%,#d8d8d8 52%,#d4d4d4 54%,#d8d8d8 56%,#dfdfdf 57%,#e2e2e2 60%,#e3e3e3 65%,#e3e3e3 69%,#e3e3e3 81%,#e3e3e3 91%,#e3e3e3)"></i><i style="height:15.34px;background:linear-gradient(90deg,#e3e3e3,#e3e3e3 12%,#e3e3e3 25%,#e3e3e3 38%,#e3e3e3 44%,#e3e3e3 48%,#e0e0e0 50%,#d9d9d9 52%,#d5d5d5 54%,#d9d9d9 56%,#e0e0e0 57%,#e3e3e3 60%,#e3e3e3 65%,#e3e3e3 69%,#e3e3e3 81%,#e3e3e3 91%,#e3e3e3)"></i><i style="height:15.34px;background:linear-gradient(90deg,#e3e3e3,#e3e3e3 12%,#e3e3e3 25%,#e3e3e3 38%,#e3e3e3 44%,#e3e3e3 48%,#e0e0e0 50%,#dadada 52%,#d5d5d5 54%,#dadada 56%,#e0e0e0 57%,#e3e3e3 60%,#e3e3e3 65%,#e3e3e3 69%,#e3e3e3 81%,#e3e3e3 91%,#e3e3e3)"></i><i style="height:15.34px;background:linear-gradient(90deg,#e4e4e4,#e4e4e4 12%,#e4e4e4 25%,#e4e4e4 38%,#e4e4e4 44%,#e4e4e4 48%,#e1e1e1 50%,#dadada 52%,#d6d6d6 54%,#dadada 56%,#e1e1e1 57%,#e4e4e4 60%,#e4e4e4 65%,#e4e4e4 69%,#e4e4e4 81%,#e4e4e4 91%,#e4e4e4)"></i><i style="height:15.34px;background:linear-gradient(90deg,#e4e4e4,#e4e4e4 12%,#e4e4e4 25%,#e4e4e4 38%,#e4e4e4 44%,#e4e4e4 48%,#e1e1e1 50%,#dbdbdb 52%,#d7d7d7 54%,#dbdbdb 56%,#e1e1e1 57%,#e4e4e4 60%,#e4e4e4 65%,#e4e4e4 69%,#e4e4e4 81%,#e4e4e4 91%,#e4e4e4)"></i><i style="height:15.34px;background:linear-gradient(90deg,#e5e5e5,#e5e5e5 12%,#e5e5e5 25%,#e5e5e5 38%,#e5e5e5 44%,#e4e4e4 48%,#e2e2e2 50%,#dcdcdc 52%,#d8d8d8 54%,#dcdcdc 56%,#e2e2e2 57%,#e4e4e4 60%,#e5e5e5 65%,#e5e5e5 69%,#e5e5e5 81%,#e5e5e5 91%,#e5e5e5)"></i><i style="height:15.34px;background:linear-gradient(90deg,#e5e5e5,#e5e5e5 12%,#e5e5e5 25%,#e5e5e5 38%,#e5e5e5 44%,#e5e5e5 48%,#e2e2e2 50%,#dcdcdc 52%,#d9d9d9 54%,#dcdcdc 56%,#e2e2e2 57%,#e5e5e5 60%,#e5e5e5 65%,#e5e5e5 69%,#e5e5e5 81%,#e5e5e5 91%,#e5e5e5)"></i><i style="height:15.34px;background:linear-gradient(90deg,#e6e6e6,#e6e6e6 12%,#e6e6e6 25%,#e6e6e6 38%,#e6e6e6 44%,#e5e5e5 48%,#e3e3e3 50%,#dddddd 52%,#dadada 54%,#dddddd 56%,#e3e3e3 57%,#e5e5e5 60%,#e6e6e6 65%,#e6e6e6 69%,#e6e6e6 81%,#e6e6e6 91%,#e6e6e6)"></i><i style="height:15.34px;background:linear-gradient(90deg,#e6e6e6,#e6e6e6 12%,#e6e6e6 25%,#e6e6e6 38%,#e6e6e6 44%,#e6e6e6 48%,#e3e3e3 50%,#dedede 52%,#dadada 54%,#dedede 56%,#e3e3e3 57%,#e6e6e6 60%,#e6e6e6 65%,#e6e6e6 69%,#e6e6e6 81%,#e6e6e6 91%,#e6e6e6)"></i><i style="height:15.34px;background:linear-gradient(90deg,#e6e6e6,#e6e6e6 12%,#e6e6e6 25%,#e6e6e6 38%,#e6e6e6 44%,#e6e6e6 48%,#e4e4e4 50%,#dfdfdf 52%,#dbdbdb 54%,#dfdfdf 56%,#e4e4e4 57%,#e6e6e6 60%,#e6e6e6 65%,#e6e6e6 69%,#e6e6e6 81%,#e6e6e6 91%,#e6e6e6)"></i><i style="height:15.34px;background:linear-gradient(90deg,#e7e7e7,#e7e7e7 12%,#e7e7e7 25%,#e7e7e7 38%,#e7e7e7 44%,#e7e7e7 48%,#e4e4e4 50%,#dfdfdf 52%,#dcdcdc 54%,#dfdfdf 56%,#e4e4e4 57%,#e7e7e7 60%,#e7e7e7 65%,#e7e7e7 69%,#e7e7e7 81%,#e7e7e7 91%,#e7e7e7)"></i><i style="height:15.34px;background:linear-gradient(90deg,#e7e7e7,#e7e7e7 12%,#e7e7e7 25%,#e7e7e7 38%,#e7e7e7 44%,#e7e7e7 48%,#e5e5e5 50%,#e0e0e0 52%,#dddddd 54%,#e0e0e0 56%,#e5e5e5 57%,#e7e7e7 60%,#e7e7e7 65%,#e7e7e7 69%,#e7e7e7 81%,#e7e7e7 91%,#e7e7e7)"></i><i style="height:15.34px;background:linear-gradient(90deg,#e8e8e8,#e8e8e8 12%,#e8e8e8 25%,#e8e8e8 38%,#e8e8e8 44%,#e8e8e8 48%,#e5e5e5 50%,#e1e1e1 52%,#dedede 54%,#e1e1e1 56%,#e5e5e5 57%,#e8e8e8 60%,#e8e8e8 65%,#e8e8e8 69%,#e8e8e8 81%,#e8e8e8 91%,#e8e8e8)"></i><i style="height:12px;background:linear-gradient(90deg,#e8e8e8,#e8e8e8 12%,#e8e8e8 25%,#e8e8e8 38%,#e8e8e8 44%,#e8e8e8 48%,#e6e6e6 50%,#e1e1e1 52%,#dedede 54%,#e1e1e1 56%,#e6e6e6 57%,#e8e8e8 60%,#e8e8e8 65%,#e8e8e8 69%,#e8e8e8 81%,#e8e8e8 91%,#e8e8e8)"></i></div></div>
<div class="hm" style="left:400.3px;top:1464.9px;width:85.0px;height:245.5px;"><div class="hi" style="top:-12px;filter:url(#vb2);"><i style="height:12px;background:linear-gradient(90deg,#e5e5e5,#e5e5e5 12%,#e5e5e5 25%,#e5e5e5 38%,#e5e5e5 44%,#e5e5e5 48%,#e1e1e1 50%,#dadada 52%,#d5d5d5 54%,#dadada 56%,#e1e1e1 57%,#e5e5e5 60%,#e5e5e5 65%,#e5e5e5 69%,#e5e5e5 81%,#e5e5e5 91%,#e5e5e5)"></i><i style="height:15.34px;background:linear-gradient(90deg,#e5e5e5,#e5e5e5 12%,#e5e5e5 25%,#e5e5e5 38%,#e5e5e5 44%,#e5e5e5 48%,#e1e1e1 50%,#dadada 52%,#d5d5d5 54%,#dadada 56%,#e1e1e1 57%,#e5e5e5 60%,#e5e5e5 65%,#e5e5e5 69%,#e5e5e5 81%,#e5e5e5 91%,#e5e5e5)"></i><i style="height:15.34px;background:linear-gradient(90deg,#e6e6e6,#e6e6e6 12%,#e6e6e6 25%,#e6e6e6 38%,#e6e6e6 44%,#e5e5e5 48%,#e2e2e2 50%,#dbdbdb 52%,#d6d6d6 54%,#dbdbdb 56%,#e2e2e2 57%,#e5e5e5 60%,#e6e6e6 65%,#e6e6e6 69%,#e6e6e6 81%,#e6e6e6 91%,#e6e6e6)"></i><i style="height:15.34px;background:linear-gradient(90deg,#e6e6e6,#e6e6e6 12%,#e6e6e6 25%,#e6e6e6 38%,#e6e6e6 44%,#e6e6e6 48%,#e3e3e3 50%,#dcdcdc 52%,#d7d7d7 54%,#dcdcdc 56%,#e3e3e3 57%,#e6e6e6 60%,#e6e6e6 65%,#e6e6e6 69%,#e6e6e6 81%,#e6e6e6 91%,#e6e6e6)"></i><i style="height:15.34px;background:linear-gradient(90deg,#e7e7e7,#e7e7e7 12%,#e7e7e7 25%,#e7e7e7 38%,#e7e7e7 44%,#e6e6e6 48%,#e3e3e3 50%,#dcdcdc 52%,#d8d8d8 54%,#dcdcdc 56%,#e3e3e3 57%,#e6e6e6 60%,#e7e7e7 65%,#e7e7e7 69%,#e7e7e7 81%,#e7e7e7 91%,#e7e7e7)"></i><i style="height:15.34px;background:linear-gradient(90deg,#e7e7e7,#e7e7e7 12%,#e7e7e7 25%,#e7e7e7 38%,#e7e7e7 44%,#e7e7e7 48%,#e4e4e4 50%,#dddddd 52%,#d9d9d9 54%,#dddddd 56%,#e4e4e4 57%,#e7e7e7 60%,#e7e7e7 65%,#e7e7e7 69%,#e7e7e7 81%,#e7e7e7 91%,#e7e7e7)"></i><i style="height:15.34px;background:linear-gradient(90deg,#e7e7e7,#e7e7e7 12%,#e7e7e7 25%,#e7e7e7 38%,#e7e7e7 44%,#e7e7e7 48%,#e4e4e4 50%,#dedede 52%,#d9d9d9 54%,#dedede 56%,#e4e4e4 57%,#e7e7e7 60%,#e7e7e7 65%,#e7e7e7 69%,#e7e7e7 81%,#e7e7e7 91%,#e7e7e7)"></i><i style="height:15.34px;background:linear-gradient(90deg,#e8e8e8,#e8e8e8 12%,#e8e8e8 25%,#e8e8e8 38%,#e8e8e8 44%,#e8e8e8 48%,#e5e5e5 50%,#dedede 52%,#dadada 54%,#dedede 56%,#e5e5e5 57%,#e8e8e8 60%,#e8e8e8 65%,#e8e8e8 69%,#e8e8e8 81%,#e8e8e8 91%,#e8e8e8)"></i><i style="height:15.34px;background:linear-gradient(90deg,#e8e8e8,#e8e8e8 12%,#e8e8e8 25%,#e8e8e8 38%,#e8e8e8 44%,#e8e8e8 48%,#e5e5e5 50%,#dfdfdf 52%,#dbdbdb 54%,#dfdfdf 56%,#e5e5e5 57%,#e8e8e8 60%,#e8e8e8 65%,#e8e8e8 69%,#e8e8e8 81%,#e8e8e8 91%,#e8e8e8)"></i><i style="height:15.34px;background:linear-gradient(90deg,#e9e9e9,#e9e9e9 12%,#e9e9e9 25%,#e9e9e9 38%,#e9e9e9 44%,#e8e8e8 48%,#e6e6e6 50%,#e0e0e0 52%,#dcdcdc 54%,#e0e0e0 56%,#e6e6e6 57%,#e8e8e8 60%,#e9e9e9 65%,#e9e9e9 69%,#e9e9e9 81%,#e9e9e9 91%,#e9e9e9)"></i><i style="height:15.34px;background:linear-gradient(90deg,#e9e9e9,#e9e9e9 12%,#e9e9e9 25%,#e9e9e9 38%,#e9e9e9 44%,#e9e9e9 48%,#e6e6e6 50%,#e0e0e0 52%,#dddddd 54%,#e0e0e0 56%,#e6e6e6 57%,#e9e9e9 60%,#e9e9e9 65%,#e9e9e9 69%,#e9e9e9 81%,#e9e9e9 91%,#e9e9e9)"></i><i style="height:15.34px;background:linear-gradient(90deg,#eaeaea,#eaeaea 12%,#eaeaea 25%,#eaeaea 38%,#eaeaea 44%,#e9e9e9 48%,#e7e7e7 50%,#e1e1e1 52%,#dedede 54%,#e1e1e1 56%,#e7e7e7 57%,#e9e9e9 60%,#eaeaea 65%,#eaeaea 69%,#eaeaea 81%,#eaeaea 91%,#eaeaea)"></i><i style="height:15.34px;background:linear-gradient(90deg,#eaeaea,#eaeaea 12%,#eaeaea 25%,#eaeaea 38%,#eaeaea 44%,#eaeaea 48%,#e7e7e7 50%,#e2e2e2 52%,#dedede 54%,#e2e2e2 56%,#e7e7e7 57%,#eaeaea 60%,#eaeaea 65%,#eaeaea 69%,#eaeaea 81%,#eaeaea 91%,#eaeaea)"></i><i style="height:15.34px;background:linear-gradient(90deg,#eaeaea,#eaeaea 12%,#eaeaea 25%,#eaeaea 38%,#eaeaea 44%,#eaeaea 48%,#e8e8e8 50%,#e3e3e3 52%,#dfdfdf 54%,#e3e3e3 56%,#e8e8e8 57%,#eaeaea 60%,#eaeaea 65%,#eaeaea 69%,#eaeaea 81%,#eaeaea 91%,#eaeaea)"></i><i style="height:15.34px;background:linear-gradient(90deg,#ebebeb,#ebebeb 12%,#ebebeb 25%,#ebebeb 38%,#ebebeb 44%,#ebebeb 48%,#e8e8e8 50%,#e3e3e3 52%,#e0e0e0 54%,#e3e3e3 56%,#e8e8e8 57%,#ebebeb 60%,#ebebeb 65%,#ebebeb 69%,#ebebeb 81%,#ebebeb 91%,#ebebeb)"></i><i style="height:15.34px;background:linear-gradient(90deg,#ebebeb,#ebebeb 12%,#ebebeb 25%,#ebebeb 38%,#ebebeb 44%,#ebebeb 48%,#e9e9e9 50%,#e4e4e4 52%,#e1e1e1 54%,#e4e4e4 56%,#e9e9e9 57%,#ebebeb 60%,#ebebeb 65%,#ebebeb 69%,#ebebeb 81%,#ebebeb 91%,#ebebeb)"></i><i style="height:15.34px;background:linear-gradient(90deg,#ececec,#ececec 12%,#ececec 25%,#ececec 38%,#ececec 44%,#ececec 48%,#e9e9e9 50%,#e5e5e5 52%,#e2e2e2 54%,#e5e5e5 56%,#e9e9e9 57%,#ececec 60%,#ececec 65%,#ececec 69%,#ececec 81%,#ececec 91%,#ececec)"></i><i style="height:12px;background:linear-gradient(90deg,#ececec,#ececec 12%,#ececec 25%,#ececec 38%,#ececec 44%,#ececec 48%,#eaeaea 50%,#e5e5e5 52%,#e2e2e2 54%,#e5e5e5 56%,#eaeaea 57%,#ececec 60%,#ececec 65%,#ececec 69%,#ececec 81%,#ececec 91%,#ececec)"></i></div></div>
<div class="hm" style="left:494.3px;top:1464.9px;width:85.0px;height:245.5px;"><div class="hi" style="top:-12px;filter:url(#vb2);"><i style="height:12px;background:linear-gradient(90deg,#eaeaea,#eaeaea 12%,#eaeaea 25%,#eaeaea 38%,#eaeaea 44%,#eaeaea 48%,#e8e8e8 50%,#e4e4e4 52%,#e2e2e2 54%,#e4e4e4 56%,#e8e8e8 57%,#eaeaea 60%,#eaeaea 65%,#eaeaea 69%,#eaeaea 81%,#eaeaea 91%,#eaeaea)"></i><i style="height:15.34px;background:linear-gradient(90deg,#eaeaea,#eaeaea 12%,#eaeaea 25%,#eaeaea 38%,#eaeaea 44%,#eaeaea 48%,#e8e8e8 50%,#e5e5e5 52%,#e2e2e2 54%,#e5e5e5 56%,#e8e8e8 57%,#eaeaea 60%,#eaeaea 65%,#eaeaea 69%,#eaeaea 81%,#eaeaea 91%,#eaeaea)"></i><i style="height:15.34px;background:linear-gradient(90deg,#eaeaea,#eaeaea 12%,#eaeaea 25%,#eaeaea 38%,#eaeaea 44%,#eaeaea 48%,#e8e8e8 50%,#e5e5e5 52%,#e2e2e2 54%,#e5e5e5 56%,#e8e8e8 57%,#eaeaea 60%,#eaeaea 65%,#eaeaea 69%,#eaeaea 81%,#eaeaea 91%,#eaeaea)"></i><i style="height:15.34px;background:linear-gradient(90deg,#ebebeb,#ebebeb 12%,#ebebeb 25%,#ebebeb 38%,#ebebeb 44%,#eaeaea 48%,#e9e9e9 50%,#e5e5e5 52%,#e3e3e3 54%,#e5e5e5 56%,#e9e9e9 57%,#eaeaea 60%,#ebebeb 65%,#ebebeb 69%,#ebebeb 81%,#ebebeb 91%,#ebebeb)"></i><i style="height:15.34px;background:linear-gradient(90deg,#ebebeb,#ebebeb 12%,#ebebeb 25%,#ebebeb 38%,#ebebeb 44%,#ebebeb 48%,#e9e9e9 50%,#e5e5e5 52%,#e3e3e3 54%,#e5e5e5 56%,#e9e9e9 57%,#ebebeb 60%,#ebebeb 65%,#ebebeb 69%,#ebebeb 81%,#ebebeb 91%,#ebebeb)"></i><i style="height:15.34px;background:linear-gradient(90deg,#ebebeb,#ebebeb 12%,#ebebeb 25%,#ebebeb 38%,#ebebeb 44%,#ebebeb 48%,#e9e9e9 50%,#e6e6e6 52%,#e3e3e3 54%,#e6e6e6 56%,#e9e9e9 57%,#ebebeb 60%,#ebebeb 65%,#ebebeb 69%,#ebebeb 81%,#ebebeb 91%,#ebebeb)"></i><i style="height:15.34px;background:linear-gradient(90deg,#ebebeb,#ebebeb 12%,#ebebeb 25%,#ebebeb 38%,#ebebeb 44%,#ebebeb 48%,#e9e9e9 50%,#e6e6e6 52%,#e3e3e3 54%,#e6e6e6 56%,#e9e9e9 57%,#ebebeb 60%,#ebebeb 65%,#ebebeb 69%,#ebebeb 81%,#ebebeb 91%,#ebebeb)"></i><i style="height:15.34px;background:linear-gradient(90deg,#ececec,#ececec 12%,#ececec 25%,#ececec 38%,#ececec 44%,#ebebeb 48%,#eaeaea 50%,#e6e6e6 52%,#e4e4e4 54%,#e6e6e6 56%,#eaeaea 57%,#ebebeb 60%,#ececec 65%,#ececec 69%,#ececec 81%,#ececec 91%,#ececec)"></i><i style="height:15.34px;background:linear-gradient(90deg,#ececec,#ececec 12%,#ececec 25%,#ececec 38%,#ececec 44%,#ececec 48%,#eaeaea 50%,#e6e6e6 52%,#e4e4e4 54%,#e6e6e6 56%,#eaeaea 57%,#ececec 60%,#ececec 65%,#ececec 69%,#ececec 81%,#ececec 91%,#ececec)"></i><i style="height:15.34px;background:linear-gradient(90deg,#ececec,#ececec 12%,#ececec 25%,#ececec 38%,#ececec 44%,#ececec 48%,#eaeaea 50%,#e7e7e7 52%,#e4e4e4 54%,#e7e7e7 56%,#eaeaea 57%,#ececec 60%,#ececec 65%,#ececec 69%,#ececec 81%,#ececec 91%,#ececec)"></i><i style="height:15.34px;background:linear-gradient(90deg,#ececec,#ececec 12%,#ececec 25%,#ececec 38%,#ececec 44%,#ececec 48%,#eaeaea 50%,#e7e7e7 52%,#e4e4e4 54%,#e7e7e7 56%,#eaeaea 57%,#ececec 60%,#ececec 65%,#ececec 69%,#ececec 81%,#ececec 91%,#ececec)"></i><i style="height:15.34px;background:linear-gradient(90deg,#ededed,#ededed 12%,#ededed 25%,#ededed 38%,#ededed 44%,#ececec 48%,#ebebeb 50%,#e7e7e7 52%,#e5e5e5 54%,#e7e7e7 56%,#ebebeb 57%,#ececec 60%,#ededed 65%,#ededed 69%,#ededed 81%,#ededed 91%,#ededed)"></i><i style="height:15.34px;background:linear-gradient(90deg,#ededed,#ededed 12%,#ededed 25%,#ededed 38%,#ededed 44%,#ededed 48%,#ebebeb 50%,#e7e7e7 52%,#e5e5e5 54%,#e7e7e7 56%,#ebebeb 57%,#ededed 60%,#ededed 65%,#ededed 69%,#ededed 81%,#ededed 91%,#ededed)"></i><i style="height:15.34px;background:linear-gradient(90deg,#ededed,#ededed 12%,#ededed 25%,#ededed 38%,#ededed 44%,#ededed 48%,#ebebeb 50%,#e8e8e8 52%,#e5e5e5 54%,#e8e8e8 56%,#ebebeb 57%,#ededed 60%,#ededed 65%,#ededed 69%,#ededed 81%,#ededed 91%,#ededed)"></i><i style="height:15.34px;background:linear-gradient(90deg,#ededed,#ededed 12%,#ededed 25%,#ededed 38%,#ededed 44%,#ededed 48%,#ebebeb 50%,#e8e8e8 52%,#e5e5e5 54%,#e8e8e8 56%,#ebebeb 57%,#ededed 60%,#ededed 65%,#ededed 69%,#ededed 81%,#ededed 91%,#ededed)"></i><i style="height:15.34px;background:linear-gradient(90deg,#eeeeee,#eeeeee 12%,#eeeeee 25%,#eeeeee 38%,#eeeeee 44%,#ededed 48%,#ececec 50%,#e8e8e8 52%,#e6e6e6 54%,#e8e8e8 56%,#ececec 57%,#ededed 60%,#eeeeee 65%,#eeeeee 69%,#eeeeee 81%,#eeeeee 91%,#eeeeee)"></i><i style="height:15.34px;background:linear-gradient(90deg,#eeeeee,#eeeeee 12%,#eeeeee 25%,#eeeeee 38%,#eeeeee 44%,#eeeeee 48%,#ececec 50%,#e8e8e8 52%,#e6e6e6 54%,#e8e8e8 56%,#ececec 57%,#eeeeee 60%,#eeeeee 65%,#eeeeee 69%,#eeeeee 81%,#eeeeee 91%,#eeeeee)"></i><i style="height:12px;background:linear-gradient(90deg,#eeeeee,#eeeeee 12%,#eeeeee 25%,#eeeeee 38%,#eeeeee 44%,#eeeeee 48%,#ececec 50%,#e8e8e8 52%,#e6e6e6 54%,#e8e8e8 56%,#ececec 57%,#eeeeee 60%,#eeeeee 65%,#eeeeee 69%,#eeeeee 81%,#eeeeee 91%,#eeeeee)"></i></div></div>
<div class="hm" style="left:588.4px;top:1464.9px;width:85.0px;height:245.5px;"><div class="hi" style="top:-12px;filter:url(#vb2);"><i style="height:12px;background:linear-gradient(90deg,#cdcdcd,#cdcdcd 12%,#cdcdcd 25%,#cdcdcd 38%,#cdcdcd 44%,#cdcdcd 46%,#cacaca 49%,#c3c3c3 52%,#bfbfbf 54%,#c3c3c3 56%,#cacaca 58%,#cdcdcd 61%,#cdcdcd 66%,#cdcdcd 69%,#cdcdcd 81%,#cdcdcd 91%,#cdcdcd)"></i><i style="height:15.34px;background:linear-gradient(90deg,#cdcdcd,#cdcdcd 12%,#cdcdcd 25%,#cdcdcd 38%,#cdcdcd 44%,#cdcdcd 46%,#cacaca 49%,#c3c3c3 52%,#bfbfbf 54%,#c3c3c3 56%,#cacaca 58%,#cdcdcd 61%,#cdcdcd 66%,#cdcdcd 69%,#cdcdcd 81%,#cdcdcd 91%,#cdcdcd)"></i><i style="height:15.34px;background:linear-gradient(90deg,#cdcdcd,#cdcdcd 12%,#cdcdcd 25%,#cdcdcd 38%,#cdcdcd 44%,#cdcdcd 46%,#cacaca 49%,#c4c4c4 52%,#bfbfbf 54%,#c4c4c4 56%,#cacaca 58%,#cdcdcd 61%,#cdcdcd 66%,#cdcdcd 69%,#cdcdcd 81%,#cdcdcd 91%,#cdcdcd)"></i><i style="height:15.34px;background:linear-gradient(90deg,#cecece,#cecece 12%,#cecece 25%,#cecece 38%,#cecece 44%,#cdcdcd 46%,#cacaca 49%,#c4c4c4 52%,#c0c0c0 54%,#c4c4c4 56%,#cacaca 58%,#cdcdcd 61%,#cecece 66%,#cecece 69%,#cecece 81%,#cecece 91%,#cecece)"></i><i style="height:15.34px;background:linear-gradient(90deg,#cecece,#cecece 12%,#cecece 25%,#cecece 38%,#cecece 44%,#cecece 46%,#cbcbcb 49%,#c4c4c4 52%,#c0c0c0 54%,#c4c4c4 56%,#cbcbcb 58%,#cecece 61%,#cecece 66%,#cecece 69%,#cecece 81%,#cecece 91%,#cecece)"></i><i style="height:15.34px;background:linear-gradient(90deg,#cecece,#cecece 12%,#cecece 25%,#cecece 38%,#cecece 44%,#cecece 46%,#cbcbcb 49%,#c4c4c4 52%,#c0c0c0 54%,#c4c4c4 56%,#cbcbcb 58%,#cecece 61%,#cecece 66%,#cecece 69%,#cecece 81%,#cecece 91%,#cecece)"></i><i style="height:15.34px;background:linear-gradient(90deg,#cecece,#cecece 12%,#cecece 25%,#cecece 38%,#cecece 44%,#cecece 46%,#cbcbcb 49%,#c5c5c5 52%,#c0c0c0 54%,#c5c5c5 56%,#cbcbcb 58%,#cecece 61%,#cecece 66%,#cecece 69%,#cecece 81%,#cecece 91%,#cecece)"></i><i style="height:15.34px;background:linear-gradient(90deg,#cfcfcf,#cfcfcf 12%,#cfcfcf 25%,#cfcfcf 38%,#cfcfcf 44%,#cecece 46%,#cbcbcb 49%,#c5c5c5 52%,#c1c1c1 54%,#c5c5c5 56%,#cbcbcb 58%,#cecece 61%,#cfcfcf 66%,#cfcfcf 69%,#cfcfcf 81%,#cfcfcf 91%,#cfcfcf)"></i><i style="height:15.34px;background:linear-gradient(90deg,#cfcfcf,#cfcfcf 12%,#cfcfcf 25%,#cfcfcf 38%,#cfcfcf 44%,#cfcfcf 46%,#cccccc 49%,#c5c5c5 52%,#c1c1c1 54%,#c5c5c5 56%,#cccccc 58%,#cfcfcf 61%,#cfcfcf 66%,#cfcfcf 69%,#cfcfcf 81%,#cfcfcf 91%,#cfcfcf)"></i><i style="height:15.34px;background:linear-gradient(90deg,#cfcfcf,#cfcfcf 12%,#cfcfcf 25%,#cfcfcf 38%,#cfcfcf 44%,#cfcfcf 46%,#cccccc 49%,#c5c5c5 52%,#c1c1c1 54%,#c5c5c5 56%,#cccccc 58%,#cfcfcf 61%,#cfcfcf 66%,#cfcfcf 69%,#cfcfcf 81%,#cfcfcf 91%,#cfcfcf)"></i><i style="height:15.34px;background:linear-gradient(90deg,#cfcfcf,#cfcfcf 12%,#cfcfcf 25%,#cfcfcf 38%,#cfcfcf 44%,#cfcfcf 46%,#cccccc 49%,#c6c6c6 52%,#c1c1c1 54%,#c6c6c6 56%,#cccccc 58%,#cfcfcf 61%,#cfcfcf 66%,#cfcfcf 69%,#cfcfcf 81%,#cfcfcf 91%,#cfcfcf)"></i><i style="height:15.34px;background:linear-gradient(90deg,#d0d0d0,#d0d0d0 12%,#d0d0d0 25%,#d0d0d0 38%,#d0d0d0 44%,#cfcfcf 46%,#cccccc 49%,#c6c6c6 52%,#c2c2c2 54%,#c6c6c6 56%,#cccccc 58%,#cfcfcf 61%,#d0d0d0 66%,#d0d0d0 69%,#d0d0d0 81%,#d0d0d0 91%,#d0d0d0)"></i><i style="height:15.34px;background:linear-gradient(90deg,#d0d0d0,#d0d0d0 12%,#d0d0d0 25%,#d0d0d0 38%,#d0d0d0 44%,#d0d0d0 46%,#cdcdcd 49%,#c6c6c6 52%,#c2c2c2 54%,#c6c6c6 56%,#cdcdcd 58%,#d0d0d0 61%,#d0d0d0 66%,#d0d0d0 69%,#d0d0d0 81%,#d0d0d0 91%,#d0d0d0)"></i><i style="height:15.34px;background:linear-gradient(90deg,#d0d0d0,#d0d0d0 12%,#d0d0d0 25%,#d0d0d0 38%,#d0d0d0 44%,#d0d0d0 46%,#cdcdcd 49%,#c6c6c6 52%,#c2c2c2 54%,#c6c6c6 56%,#cdcdcd 58%,#d0d0d0 61%,#d0d0d0 66%,#d0d0d0 69%,#d0d0d0 81%,#d0d0d0 91%,#d0d0d0)"></i><i style="height:15.34px;background:linear-gradient(90deg,#d0d0d0,#d0d0d0 12%,#d0d0d0 25%,#d0d0d0 38%,#d0d0d0 44%,#d0d0d0 46%,#cdcdcd 49%,#c7c7c7 52%,#c2c2c2 54%,#c7c7c7 56%,#cdcdcd 58%,#d0d0d0 61%,#d0d0d0 66%,#d0d0d0 69%,#d0d0d0 81%,#d0d0d0 91%,#d0d0d0)"></i><i style="height:15.34px;background:linear-gradient(90deg,#d1d1d1,#d1d1d1 12%,#d1d1d1 25%,#d1d1d1 38%,#d1d1d1 44%,#d0d0d0 46%,#cdcdcd 49%,#c7c7c7 52%,#c3c3c3 54%,#c7c7c7 56%,#cdcdcd 58%,#d0d0d0 61%,#d1d1d1 66%,#d1d1d1 69%,#d1d1d1 81%,#d1d1d1 91%,#d1d1d1)"></i><i style="height:15.34px;background:linear-gradient(90deg,#d1d1d1,#d1d1d1 12%,#d1d1d1 25%,#d1d1d1 38%,#d1d1d1 44%,#d1d1d1 46%,#cecece 49%,#c7c7c7 52%,#c3c3c3 54%,#c7c7c7 56%,#cecece 58%,#d1d1d1 61%,#d1d1d1 66%,#d1d1d1 69%,#d1d1d1 81%,#d1d1d1 91%,#d1d1d1)"></i><i style="height:12px;background:linear-gradient(90deg,#d1d1d1,#d1d1d1 12%,#d1d1d1 25%,#d1d1d1 38%,#d1d1d1 44%,#d1d1d1 46%,#cecece 49%,#c7c7c7 52%,#c3c3c3 54%,#c7c7c7 56%,#cecece 58%,#d1d1d1 61%,#d1d1d1 66%,#d1d1d1 69%,#d1d1d1 81%,#d1d1d1 91%,#d1d1d1)"></i></div></div>
<div class="hm" style="left:682.5px;top:1464.9px;width:85.0px;height:245.5px;"><div class="hi" style="top:-12px;filter:url(#vb2);"><i style="height:12px;background:linear-gradient(90deg,#d8d8d8,#d8d8d8 12%,#d8d8d8 25%,#d8d8d8 38%,#d8d8d8 44%,#d7d7d7 46%,#d0d0d0 49%,#c2c2c2 52%,#b8b8b8 54%,#c2c2c2 56%,#d0d0d0 58%,#d7d7d7 61%,#d8d8d8 66%,#d8d8d8 69%,#d8d8d8 81%,#d8d8d8 91%,#d8d8d8)"></i><i style="height:15.34px;background:linear-gradient(90deg,#d8d8d8,#d8d8d8 12%,#d8d8d8 25%,#d8d8d8 38%,#d8d8d8 44%,#d8d8d8 46%,#d1d1d1 49%,#c2c2c2 52%,#b9b9b9 54%,#c2c2c2 56%,#d1d1d1 58%,#d8d8d8 61%,#d8d8d8 66%,#d8d8d8 69%,#d8d8d8 81%,#d8d8d8 91%,#d8d8d8)"></i><i style="height:15.34px;background:linear-gradient(90deg,#d9d9d9,#d9d9d9 12%,#d9d9d9 25%,#d9d9d9 38%,#d9d9d9 44%,#d9d9d9 46%,#d2d2d2 49%,#c4c4c4 52%,#bababa 54%,#c4c4c4 56%,#d2d2d2 58%,#d9d9d9 61%,#d9d9d9 66%,#d9d9d9 69%,#d9d9d9 81%,#d9d9d9 91%,#d9d9d9)"></i><i style="height:15.34px;background:linear-gradient(90deg,#dadada,#dadada 12%,#dadada 25%,#dadada 38%,#dadada 44%,#d9d9d9 46%,#d3d3d3 49%,#c5c5c5 52%,#bcbcbc 54%,#c5c5c5 56%,#d3d3d3 58%,#d9d9d9 61%,#dadada 66%,#dadada 69%,#dadada 81%,#dadada 91%,#dadada)"></i><i style="height:15.34px;background:linear-gradient(90deg,#dbdbdb,#dbdbdb 12%,#dbdbdb 25%,#dbdbdb 38%,#dbdbdb 44%,#dadada 46%,#d4d4d4 49%,#c6c6c6 52%,#bebebe 54%,#c6c6c6 56%,#d4d4d4 58%,#dadada 61%,#dbdbdb 66%,#dbdbdb 69%,#dbdbdb 81%,#dbdbdb 91%,#dbdbdb)"></i><i style="height:15.34px;background:linear-gradient(90deg,#dbdbdb,#dbdbdb 12%,#dbdbdb 25%,#dbdbdb 38%,#dbdbdb 44%,#dbdbdb 46%,#d5d5d5 49%,#c8c8c8 52%,#bfbfbf 54%,#c8c8c8 56%,#d5d5d5 58%,#dbdbdb 61%,#dbdbdb 66%,#dbdbdb 69%,#dbdbdb 81%,#dbdbdb 91%,#dbdbdb)"></i><i style="height:15.34px;background:linear-gradient(90deg,#dcdcdc,#dcdcdc 12%,#dcdcdc 25%,#dcdcdc 38%,#dcdcdc 44%,#dcdcdc 46%,#d6d6d6 49%,#c9c9c9 52%,#c1c1c1 54%,#c9c9c9 56%,#d6d6d6 58%,#dcdcdc 61%,#dcdcdc 66%,#dcdcdc 69%,#dcdcdc 81%,#dcdcdc 91%,#dcdcdc)"></i><i style="height:15.34px;background:linear-gradient(90deg,#dddddd,#dddddd 12%,#dddddd 25%,#dddddd 38%,#dddddd 44%,#dcdcdc 46%,#d7d7d7 49%,#cbcbcb 52%,#c3c3c3 54%,#cbcbcb 56%,#d7d7d7 58%,#dcdcdc 61%,#dddddd 66%,#dddddd 69%,#dddddd 81%,#dddddd 91%,#dddddd)"></i><i style="height:15.34px;background:linear-gradient(90deg,#dedede,#dedede 12%,#dedede 25%,#dedede 38%,#dedede 44%,#dddddd 46%,#d8d8d8 49%,#cccccc 52%,#c4c4c4 54%,#cccccc 56%,#d8d8d8 58%,#dddddd 61%,#dedede 66%,#dedede 69%,#dedede 81%,#dedede 91%,#dedede)"></i><i style="height:15.34px;background:linear-gradient(90deg,#dedede,#dedede 12%,#dedede 25%,#dedede 38%,#dedede 44%,#dedede 46%,#d9d9d9 49%,#cdcdcd 52%,#c6c6c6 54%,#cdcdcd 56%,#d9d9d9 58%,#dedede 61%,#dedede 66%,#dedede 69%,#dedede 81%,#dedede 91%,#dedede)"></i><i style="height:15.34px;background:linear-gradient(90deg,#e0e0e0,#e0e0e0 12%,#e0e0e0 25%,#dfdfdf 38%,#dfdfdf 44%,#dfdfdf 46%,#dadada 49%,#cfcfcf 52%,#c8c8c8 54%,#cfcfcf 56%,#dadada 58%,#dfdfdf 61%,#dfdfdf 66%,#dfdfdf 69%,#e0e0e0 81%,#e0e0e0 91%,#e0e0e0)"></i><i style="height:15.34px;background:linear-gradient(90deg,#e0e0e0,#e0e0e0 12%,#e0e0e0 25%,#e0e0e0 38%,#e0e0e0 44%,#e0e0e0 46%,#dbdbdb 49%,#d1d1d1 52%,#cacaca 54%,#d1d1d1 56%,#dbdbdb 58%,#e0e0e0 61%,#e0e0e0 66%,#e0e0e0 69%,#e0e0e0 81%,#e0e0e0 91%,#e0e0e0)"></i><i style="height:15.34px;background:linear-gradient(90deg,#e2e2e2,#e2e2e2 12%,#e2e2e2 25%,#e1e1e1 38%,#e1e1e1 44%,#e1e1e1 46%,#dcdcdc 49%,#d3d3d3 52%,#cccccc 54%,#d3d3d3 56%,#dcdcdc 58%,#e1e1e1 61%,#e1e1e1 66%,#e1e1e1 69%,#e2e2e2 81%,#e2e2e2 91%,#e2e2e2)"></i><i style="height:15.34px;background:linear-gradient(90deg,#e2e2e2,#e2e2e2 12%,#e2e2e2 25%,#e2e2e2 38%,#e2e2e2 44%,#e2e2e2 46%,#dedede 49%,#d5d5d5 52%,#d0d0d0 54%,#d5d5d5 56%,#dedede 58%,#e2e2e2 61%,#e2e2e2 66%,#e2e2e2 69%,#e2e2e2 81%,#e2e2e2 91%,#e2e2e2)"></i><i style="height:15.34px;background:linear-gradient(90deg,#e4e4e4,#e4e4e4 12%,#e4e4e4 25%,#e3e3e3 38%,#e3e3e3 44%,#e3e3e3 46%,#e0e0e0 49%,#d8d8d8 52%,#d3d3d3 54%,#d8d8d8 56%,#e0e0e0 58%,#e3e3e3 61%,#e3e3e3 66%,#e3e3e3 69%,#e4e4e4 81%,#e4e4e4 91%,#e4e4e4)"></i><i style="height:15.34px;background:linear-gradient(90deg,#e4e4e4,#e4e4e4 12%,#e4e4e4 25%,#e4e4e4 38%,#e4e4e4 44%,#e4e4e4 46%,#e1e1e1 49%,#dbdbdb 52%,#d7d7d7 54%,#dbdbdb 56%,#e1e1e1 58%,#e4e4e4 61%,#e4e4e4 66%,#e4e4e4 69%,#e4e4e4 81%,#e4e4e4 91%,#e4e4e4)"></i><i style="height:15.34px;background:linear-gradient(90deg,#e6e6e6,#e6e6e6 12%,#e6e6e6 25%,#e5e5e5 38%,#e5e5e5 44%,#e5e5e5 46%,#e3e3e3 49%,#dedede 52%,#dadada 54%,#dedede 56%,#e3e3e3 58%,#e5e5e5 61%,#e5e5e5 66%,#e5e5e5 69%,#e6e6e6 81%,#e6e6e6 91%,#e6e6e6)"></i><i style="height:12px;background:linear-gradient(90deg,#e6e6e6,#e6e6e6 12%,#e6e6e6 25%,#e6e6e6 38%,#e6e6e6 44%,#e6e6e6 46%,#e4e4e4 49%,#dfdfdf 52%,#dcdcdc 54%,#dfdfdf 56%,#e4e4e4 58%,#e6e6e6 61%,#e6e6e6 66%,#e6e6e6 69%,#e6e6e6 81%,#e6e6e6 91%,#e6e6e6)"></i></div></div>
<div class="hm" style="left:776.5px;top:1464.9px;width:85.0px;height:245.5px;"><div class="hi" style="top:-12px;filter:url(#vb2);"><i style="height:12px;background:linear-gradient(90deg,#d0d0d0,#d0d0d0 12%,#d0d0d0 25%,#d0d0d0 38%,#d0d0d0 44%,#d0d0d0 46%,#cecece 49%,#cacaca 52%,#c8c8c8 54%,#cacaca 56%,#cecece 58%,#d0d0d0 61%,#d0d0d0 66%,#d0d0d0 69%,#d0d0d0 81%,#d0d0d0 91%,#d0d0d0)"></i><i style="height:15.34px;background:linear-gradient(90deg,#d0d0d0,#d0d0d0 12%,#d0d0d0 25%,#d0d0d0 38%,#d0d0d0 44%,#d0d0d0 46%,#cecece 49%,#cacaca 52%,#c8c8c8 54%,#cacaca 56%,#cecece 58%,#d0d0d0 61%,#d0d0d0 66%,#d0d0d0 69%,#d0d0d0 81%,#d0d0d0 91%,#d0d0d0)"></i><i style="height:15.34px;background:linear-gradient(90deg,#d0d0d0,#d0d0d0 12%,#d0d0d0 25%,#d0d0d0 38%,#d0d0d0 44%,#d0d0d0 46%,#cecece 49%,#cbcbcb 52%,#c8c8c8 54%,#cbcbcb 56%,#cecece 58%,#d0d0d0 61%,#d0d0d0 66%,#d0d0d0 69%,#d0d0d0 81%,#d0d0d0 91%,#d0d0d0)"></i><i style="height:15.34px;background:linear-gradient(90deg,#d0d0d0,#d0d0d0 12%,#d0d0d0 25%,#d0d0d0 38%,#d0d0d0 44%,#d0d0d0 46%,#cecece 49%,#cbcbcb 52%,#c8c8c8 54%,#cbcbcb 56%,#cecece 58%,#d0d0d0 61%,#d0d0d0 66%,#d0d0d0 69%,#d0d0d0 81%,#d0d0d0 91%,#d0d0d0)"></i><i style="height:15.34px;background:linear-gradient(90deg,#d0d0d0,#d0d0d0 12%,#d0d0d0 25%,#d0d0d0 38%,#d0d0d0 44%,#d0d0d0 46%,#cfcfcf 49%,#cbcbcb 52%,#c8c8c8 54%,#cbcbcb 56%,#cfcfcf 58%,#d0d0d0 61%,#d0d0d0 66%,#d0d0d0 69%,#d0d0d0 81%,#d0d0d0 91%,#d0d0d0)"></i><i style="height:15.34px;background:linear-gradient(90deg,#d1d1d1,#d1d1d1 12%,#d1d1d1 25%,#d1d1d1 38%,#d1d1d1 44%,#d0d0d0 46%,#cfcfcf 49%,#cbcbcb 52%,#c9c9c9 54%,#cbcbcb 56%,#cfcfcf 58%,#d0d0d0 61%,#d1d1d1 66%,#d1d1d1 69%,#d1d1d1 81%,#d1d1d1 91%,#d1d1d1)"></i><i style="height:15.34px;background:linear-gradient(90deg,#d1d1d1,#d1d1d1 12%,#d1d1d1 25%,#d1d1d1 38%,#d1d1d1 44%,#d1d1d1 46%,#cfcfcf 49%,#cbcbcb 52%,#c9c9c9 54%,#cbcbcb 56%,#cfcfcf 58%,#d1d1d1 61%,#d1d1d1 66%,#d1d1d1 69%,#d1d1d1 81%,#d1d1d1 91%,#d1d1d1)"></i><i style="height:15.34px;background:linear-gradient(90deg,#d1d1d1,#d1d1d1 12%,#d1d1d1 25%,#d1d1d1 38%,#d1d1d1 44%,#d1d1d1 46%,#cfcfcf 49%,#cbcbcb 52%,#c9c9c9 54%,#cbcbcb 56%,#cfcfcf 58%,#d1d1d1 61%,#d1d1d1 66%,#d1d1d1 69%,#d1d1d1 81%,#d1d1d1 91%,#d1d1d1)"></i><i style="height:15.34px;background:linear-gradient(90deg,#d1d1d1,#d1d1d1 12%,#d1d1d1 25%,#d1d1d1 38%,#d1d1d1 44%,#d1d1d1 46%,#cfcfcf 49%,#cbcbcb 52%,#c9c9c9 54%,#cbcbcb 56%,#cfcfcf 58%,#d1d1d1 61%,#d1d1d1 66%,#d1d1d1 69%,#d1d1d1 81%,#d1d1d1 91%,#d1d1d1)"></i><i style="height:15.34px;background:linear-gradient(90deg,#d1d1d1,#d1d1d1 12%,#d1d1d1 25%,#d1d1d1 38%,#d1d1d1 44%,#d1d1d1 46%,#cfcfcf 49%,#cbcbcb 52%,#c9c9c9 54%,#cbcbcb 56%,#cfcfcf 58%,#d1d1d1 61%,#d1d1d1 66%,#d1d1d1 69%,#d1d1d1 81%,#d1d1d1 91%,#d1d1d1)"></i><i style="height:15.34px;background:linear-gradient(90deg,#d1d1d1,#d1d1d1 12%,#d1d1d1 25%,#d1d1d1 38%,#d1d1d1 44%,#d1d1d1 46%,#cfcfcf 49%,#cccccc 52%,#c9c9c9 54%,#cccccc 56%,#cfcfcf 58%,#d1d1d1 61%,#d1d1d1 66%,#d1d1d1 69%,#d1d1d1 81%,#d1d1d1 91%,#d1d1d1)"></i><i style="height:15.34px;background:linear-gradient(90deg,#d1d1d1,#d1d1d1 12%,#d1d1d1 25%,#d1d1d1 38%,#d1d1d1 44%,#d1d1d1 46%,#cfcfcf 49%,#cccccc 52%,#c9c9c9 54%,#cccccc 56%,#cfcfcf 58%,#d1d1d1 61%,#d1d1d1 66%,#d1d1d1 69%,#d1d1d1 81%,#d1d1d1 91%,#d1d1d1)"></i><i style="height:15.34px;background:linear-gradient(90deg,#d1d1d1,#d1d1d1 12%,#d1d1d1 25%,#d1d1d1 38%,#d1d1d1 44%,#d1d1d1 46%,#d0d0d0 49%,#cccccc 52%,#c9c9c9 54%,#cccccc 56%,#d0d0d0 58%,#d1d1d1 61%,#d1d1d1 66%,#d1d1d1 69%,#d1d1d1 81%,#d1d1d1 91%,#d1d1d1)"></i><i style="height:15.34px;background:linear-gradient(90deg,#d2d2d2,#d2d2d2 12%,#d2d2d2 25%,#d2d2d2 38%,#d2d2d2 44%,#d1d1d1 46%,#d0d0d0 49%,#cccccc 52%,#cacaca 54%,#cccccc 56%,#d0d0d0 58%,#d1d1d1 61%,#d2d2d2 66%,#d2d2d2 69%,#d2d2d2 81%,#d2d2d2 91%,#d2d2d2)"></i><i style="height:15.34px;background:linear-gradient(90deg,#d2d2d2,#d2d2d2 12%,#d2d2d2 25%,#d2d2d2 38%,#d2d2d2 44%,#d2d2d2 46%,#d0d0d0 49%,#cccccc 52%,#cacaca 54%,#cccccc 56%,#d0d0d0 58%,#d2d2d2 61%,#d2d2d2 66%,#d2d2d2 69%,#d2d2d2 81%,#d2d2d2 91%,#d2d2d2)"></i><i style="height:15.34px;background:linear-gradient(90deg,#d2d2d2,#d2d2d2 12%,#d2d2d2 25%,#d2d2d2 38%,#d2d2d2 44%,#d2d2d2 46%,#d0d0d0 49%,#cccccc 52%,#cacaca 54%,#cccccc 56%,#d0d0d0 58%,#d2d2d2 61%,#d2d2d2 66%,#d2d2d2 69%,#d2d2d2 81%,#d2d2d2 91%,#d2d2d2)"></i><i style="height:15.34px;background:linear-gradient(90deg,#d2d2d2,#d2d2d2 12%,#d2d2d2 25%,#d2d2d2 38%,#d2d2d2 44%,#d2d2d2 46%,#d0d0d0 49%,#cccccc 52%,#cacaca 54%,#cccccc 56%,#d0d0d0 58%,#d2d2d2 61%,#d2d2d2 66%,#d2d2d2 69%,#d2d2d2 81%,#d2d2d2 91%,#d2d2d2)"></i><i style="height:12px;background:linear-gradient(90deg,#d2d2d2,#d2d2d2 12%,#d2d2d2 25%,#d2d2d2 38%,#d2d2d2 44%,#d2d2d2 46%,#d0d0d0 49%,#cccccc 52%,#cacaca 54%,#cccccc 56%,#d0d0d0 58%,#d2d2d2 61%,#d2d2d2 66%,#d2d2d2 69%,#d2d2d2 81%,#d2d2d2 91%,#d2d2d2)"></i></div></div>
<div class="hm" style="left:870.6px;top:1464.9px;width:85.0px;height:245.5px;"><div class="hi" style="top:-12px;filter:url(#vb2);"><i style="height:12px;background:linear-gradient(90deg,#dedede,#dedede 12%,#dedede 25%,#dedede 38%,#dedede 44%,#dedede 46%,#dcdcdc 49%,#d8d8d8 52%,#d6d6d6 54%,#d8d8d8 56%,#dcdcdc 58%,#dedede 61%,#dedede 66%,#dedede 69%,#dedede 81%,#dedede 91%,#dedede)"></i><i style="height:15.34px;background:linear-gradient(90deg,#dedede,#dedede 12%,#dedede 25%,#dedede 38%,#dedede 44%,#dedede 46%,#dcdcdc 49%,#d8d8d8 52%,#d6d6d6 54%,#d8d8d8 56%,#dcdcdc 58%,#dedede 61%,#dedede 66%,#dedede 69%,#dedede 81%,#dedede 91%,#dedede)"></i><i style="height:15.34px;background:linear-gradient(90deg,#dedede,#dedede 12%,#dedede 25%,#dedede 38%,#dedede 44%,#dedede 46%,#dcdcdc 49%,#d9d9d9 52%,#d6d6d6 54%,#d9d9d9 56%,#dcdcdc 58%,#dedede 61%,#dedede 66%,#dedede 69%,#dedede 81%,#dedede 91%,#dedede)"></i><i style="height:15.34px;background:linear-gradient(90deg,#dedede,#dedede 12%,#dedede 25%,#dedede 38%,#dedede 44%,#dedede 46%,#dcdcdc 49%,#d9d9d9 52%,#d6d6d6 54%,#d9d9d9 56%,#dcdcdc 58%,#dedede 61%,#dedede 66%,#dedede 69%,#dedede 81%,#dedede 91%,#dedede)"></i><i style="height:15.34px;background:linear-gradient(90deg,#dedede,#dedede 12%,#dedede 25%,#dedede 38%,#dedede 44%,#dedede 46%,#dddddd 49%,#d9d9d9 52%,#d6d6d6 54%,#d9d9d9 56%,#dddddd 58%,#dedede 61%,#dedede 66%,#dedede 69%,#dedede 81%,#dedede 91%,#dedede)"></i><i style="height:15.34px;background:linear-gradient(90deg,#dfdfdf,#dfdfdf 12%,#dfdfdf 25%,#dfdfdf 38%,#dfdfdf 44%,#dedede 46%,#dddddd 49%,#d9d9d9 52%,#d7d7d7 54%,#d9d9d9 56%,#dddddd 58%,#dedede 61%,#dfdfdf 66%,#dfdfdf 69%,#dfdfdf 81%,#dfdfdf 91%,#dfdfdf)"></i><i style="height:15.34px;background:linear-gradient(90deg,#dfdfdf,#dfdfdf 12%,#dfdfdf 25%,#dfdfdf 38%,#dfdfdf 44%,#dfdfdf 46%,#dddddd 49%,#d9d9d9 52%,#d7d7d7 54%,#d9d9d9 56%,#dddddd 58%,#dfdfdf 61%,#dfdfdf 66%,#dfdfdf 69%,#dfdfdf 81%,#dfdfdf 91%,#dfdfdf)"></i><i style="height:15.34px;background:linear-gradient(90deg,#dfdfdf,#dfdfdf 12%,#dfdfdf 25%,#dfdfdf 38%,#dfdfdf 44%,#dfdfdf 46%,#dddddd 49%,#d9d9d9 52%,#d7d7d7 54%,#d9d9d9 56%,#dddddd 58%,#dfdfdf 61%,#dfdfdf 66%,#dfdfdf 69%,#dfdfdf 81%,#dfdfdf 91%,#dfdfdf)"></i><i style="height:15.34px;background:linear-gradient(90deg,#dfdfdf,#dfdfdf 12%,#dfdfdf 25%,#dfdfdf 38%,#dfdfdf 44%,#dfdfdf 46%,#dddddd 49%,#d9d9d9 52%,#d7d7d7 54%,#d9d9d9 56%,#dddddd 58%,#dfdfdf 61%,#dfdfdf 66%,#dfdfdf 69%,#dfdfdf 81%,#dfdfdf 91%,#dfdfdf)"></i><i style="height:15.34px;background:linear-gradient(90deg,#dfdfdf,#dfdfdf 12%,#dfdfdf 25%,#dfdfdf 38%,#dfdfdf 44%,#dfdfdf 46%,#dddddd 49%,#d9d9d9 52%,#d7d7d7 54%,#d9d9d9 56%,#dddddd 58%,#dfdfdf 61%,#dfdfdf 66%,#dfdfdf 69%,#dfdfdf 81%,#dfdfdf 91%,#dfdfdf)"></i><i style="height:15.34px;background:linear-gradient(90deg,#dfdfdf,#dfdfdf 12%,#dfdfdf 25%,#dfdfdf 38%,#dfdfdf 44%,#dfdfdf 46%,#dddddd 49%,#dadada 52%,#d7d7d7 54%,#dadada 56%,#dddddd 58%,#dfdfdf 61%,#dfdfdf 66%,#dfdfdf 69%,#dfdfdf 81%,#dfdfdf 91%,#dfdfdf)"></i><i style="height:15.34px;background:linear-gradient(90deg,#dfdfdf,#dfdfdf 12%,#dfdfdf 25%,#dfdfdf 38%,#dfdfdf 44%,#dfdfdf 46%,#dddddd 49%,#dadada 52%,#d7d7d7 54%,#dadada 56%,#dddddd 58%,#dfdfdf 61%,#dfdfdf 66%,#dfdfdf 69%,#dfdfdf 81%,#dfdfdf 91%,#dfdfdf)"></i><i style="height:15.34px;background:linear-gradient(90deg,#dfdfdf,#dfdfdf 12%,#dfdfdf 25%,#dfdfdf 38%,#dfdfdf 44%,#dfdfdf 46%,#dedede 49%,#dadada 52%,#d7d7d7 54%,#dadada 56%,#dedede 58%,#dfdfdf 61%,#dfdfdf 66%,#dfdfdf 69%,#dfdfdf 81%,#dfdfdf 91%,#dfdfdf)"></i><i style="height:15.34px;background:linear-gradient(90deg,#e0e0e0,#e0e0e0 12%,#e0e0e0 25%,#e0e0e0 38%,#e0e0e0 44%,#dfdfdf 46%,#dedede 49%,#dadada 52%,#d8d8d8 54%,#dadada 56%,#dedede 58%,#dfdfdf 61%,#e0e0e0 66%,#e0e0e0 69%,#e0e0e0 81%,#e0e0e0 91%,#e0e0e0)"></i><i style="height:15.34px;background:linear-gradient(90deg,#e0e0e0,#e0e0e0 12%,#e0e0e0 25%,#e0e0e0 38%,#e0e0e0 44%,#e0e0e0 46%,#dedede 49%,#dadada 52%,#d8d8d8 54%,#dadada 56%,#dedede 58%,#e0e0e0 61%,#e0e0e0 66%,#e0e0e0 69%,#e0e0e0 81%,#e0e0e0 91%,#e0e0e0)"></i><i style="height:15.34px;background:linear-gradient(90deg,#e0e0e0,#e0e0e0 12%,#e0e0e0 25%,#e0e0e0 38%,#e0e0e0 44%,#e0e0e0 46%,#dedede 49%,#dadada 52%,#d8d8d8 54%,#dadada 56%,#dedede 58%,#e0e0e0 61%,#e0e0e0 66%,#e0e0e0 69%,#e0e0e0 81%,#e0e0e0 91%,#e0e0e0)"></i><i style="height:15.34px;background:linear-gradient(90deg,#e0e0e0,#e0e0e0 12%,#e0e0e0 25%,#e0e0e0 38%,#e0e0e0 44%,#e0e0e0 46%,#dedede 49%,#dadada 52%,#d8d8d8 54%,#dadada 56%,#dedede 58%,#e0e0e0 61%,#e0e0e0 66%,#e0e0e0 69%,#e0e0e0 81%,#e0e0e0 91%,#e0e0e0)"></i><i style="height:12px;background:linear-gradient(90deg,#e0e0e0,#e0e0e0 12%,#e0e0e0 25%,#e0e0e0 38%,#e0e0e0 44%,#e0e0e0 46%,#dedede 49%,#dadada 52%,#d8d8d8 54%,#dadada 56%,#dedede 58%,#e0e0e0 61%,#e0e0e0 66%,#e0e0e0 69%,#e0e0e0 81%,#e0e0e0 91%,#e0e0e0)"></i></div></div>
<div class="hm" style="left:964.6px;top:1464.9px;width:85.0px;height:245.5px;"><div class="hi" style="top:-12px;filter:url(#vb2);"><i style="height:12px;background:linear-gradient(90deg,#e1e1e1,#e1e1e1 12%,#e1e1e1 25%,#e1e1e1 38%,#e1e1e1 44%,#e1e1e1 48%,#dedede 50%,#d7d7d7 52%,#d3d3d3 54%,#d7d7d7 56%,#dedede 57%,#e1e1e1 60%,#e1e1e1 65%,#e1e1e1 69%,#e1e1e1 81%,#e1e1e1 91%,#e1e1e1)"></i><i style="height:15.34px;background:linear-gradient(90deg,#e1e1e1,#e1e1e1 12%,#e1e1e1 25%,#e1e1e1 38%,#e1e1e1 44%,#e1e1e1 48%,#dedede 50%,#d7d7d7 52%,#d3d3d3 54%,#d7d7d7 56%,#dedede 57%,#e1e1e1 60%,#e1e1e1 65%,#e1e1e1 69%,#e1e1e1 81%,#e1e1e1 91%,#e1e1e1)"></i><i style="height:15.34px;background:linear-gradient(90deg,#e2e2e2,#e2e2e2 12%,#e2e2e2 25%,#e2e2e2 38%,#e2e2e2 44%,#e1e1e1 48%,#dedede 50%,#d8d8d8 52%,#d4d4d4 54%,#d8d8d8 56%,#dedede 57%,#e1e1e1 60%,#e2e2e2 65%,#e2e2e2 69%,#e2e2e2 81%,#e2e2e2 91%,#e2e2e2)"></i><i style="height:15.34px;background:linear-gradient(90deg,#e2e2e2,#e2e2e2 12%,#e2e2e2 25%,#e2e2e2 38%,#e2e2e2 44%,#e2e2e2 48%,#dfdfdf 50%,#d8d8d8 52%,#d4d4d4 54%,#d8d8d8 56%,#dfdfdf 57%,#e2e2e2 60%,#e2e2e2 65%,#e2e2e2 69%,#e2e2e2 81%,#e2e2e2 91%,#e2e2e2)"></i><i style="height:15.34px;background:linear-gradient(90deg,#e3e3e3,#e3e3e3 12%,#e3e3e3 25%,#e3e3e3 38%,#e3e3e3 44%,#e2e2e2 48%,#dfdfdf 50%,#d9d9d9 52%,#d5d5d5 54%,#d9d9d9 56%,#dfdfdf 57%,#e2e2e2 60%,#e3e3e3 65%,#e3e3e3 69%,#e3e3e3 81%,#e3e3e3 91%,#e3e3e3)"></i><i style="height:15.34px;background:linear-gradient(90deg,#e3e3e3,#e3e3e3 12%,#e3e3e3 25%,#e3e3e3 38%,#e3e3e3 44%,#e3e3e3 48%,#e0e0e0 50%,#d9d9d9 52%,#d5d5d5 54%,#d9d9d9 56%,#e0e0e0 57%,#e3e3e3 60%,#e3e3e3 65%,#e3e3e3 69%,#e3e3e3 81%,#e3e3e3 91%,#e3e3e3)"></i><i style="height:15.34px;background:linear-gradient(90deg,#e3e3e3,#e3e3e3 12%,#e3e3e3 25%,#e3e3e3 38%,#e3e3e3 44%,#e3e3e3 48%,#e0e0e0 50%,#dadada 52%,#d5d5d5 54%,#dadada 56%,#e0e0e0 57%,#e3e3e3 60%,#e3e3e3 65%,#e3e3e3 69%,#e3e3e3 81%,#e3e3e3 91%,#e3e3e3)"></i><i style="height:15.34px;background:linear-gradient(90deg,#e4e4e4,#e4e4e4 12%,#e4e4e4 25%,#e4e4e4 38%,#e4e4e4 44%,#e4e4e4 48%,#e1e1e1 50%,#dadada 52%,#d6d6d6 54%,#dadada 56%,#e1e1e1 57%,#e4e4e4 60%,#e4e4e4 65%,#e4e4e4 69%,#e4e4e4 81%,#e4e4e4 91%,#e4e4e4)"></i><i style="height:15.34px;background:linear-gradient(90deg,#e4e4e4,#e4e4e4 12%,#e4e4e4 25%,#e4e4e4 38%,#e4e4e4 44%,#e4e4e4 48%,#e1e1e1 50%,#dbdbdb 52%,#d6d6d6 54%,#dbdbdb 56%,#e1e1e1 57%,#e4e4e4 60%,#e4e4e4 65%,#e4e4e4 69%,#e4e4e4 81%,#e4e4e4 91%,#e4e4e4)"></i><i style="height:15.34px;background:linear-gradient(90deg,#e5e5e5,#e5e5e5 12%,#e5e5e5 25%,#e5e5e5 38%,#e5e5e5 44%,#e4e4e4 48%,#e1e1e1 50%,#dbdbdb 52%,#d7d7d7 54%,#dbdbdb 56%,#e1e1e1 57%,#e4e4e4 60%,#e5e5e5 65%,#e5e5e5 69%,#e5e5e5 81%,#e5e5e5 91%,#e5e5e5)"></i><i style="height:15.34px;background:linear-gradient(90deg,#e5e5e5,#e5e5e5 12%,#e5e5e5 25%,#e5e5e5 38%,#e5e5e5 44%,#e5e5e5 48%,#e2e2e2 50%,#dbdbdb 52%,#d7d7d7 54%,#dbdbdb 56%,#e2e2e2 57%,#e5e5e5 60%,#e5e5e5 65%,#e5e5e5 69%,#e5e5e5 81%,#e5e5e5 91%,#e5e5e5)"></i><i style="height:15.34px;background:linear-gradient(90deg,#e6e6e6,#e6e6e6 12%,#e6e6e6 25%,#e6e6e6 38%,#e6e6e6 44%,#e5e5e5 48%,#e2e2e2 50%,#dcdcdc 52%,#d8d8d8 54%,#dcdcdc 56%,#e2e2e2 57%,#e5e5e5 60%,#e6e6e6 65%,#e6e6e6 69%,#e6e6e6 81%,#e6e6e6 91%,#e6e6e6)"></i><i style="height:15.34px;background:linear-gradient(90deg,#e6e6e6,#e6e6e6 12%,#e6e6e6 25%,#e6e6e6 38%,#e6e6e6 44%,#e6e6e6 48%,#e3e3e3 50%,#dcdcdc 52%,#d8d8d8 54%,#dcdcdc 56%,#e3e3e3 57%,#e6e6e6 60%,#e6e6e6 65%,#e6e6e6 69%,#e6e6e6 81%,#e6e6e6 91%,#e6e6e6)"></i><i style="height:15.34px;background:linear-gradient(90deg,#e6e6e6,#e6e6e6 12%,#e6e6e6 25%,#e6e6e6 38%,#e6e6e6 44%,#e6e6e6 48%,#e3e3e3 50%,#dddddd 52%,#d8d8d8 54%,#dddddd 56%,#e3e3e3 57%,#e6e6e6 60%,#e6e6e6 65%,#e6e6e6 69%,#e6e6e6 81%,#e6e6e6 91%,#e6e6e6)"></i><i style="height:15.34px;background:linear-gradient(90deg,#e7e7e7,#e7e7e7 12%,#e7e7e7 25%,#e7e7e7 38%,#e7e7e7 44%,#e7e7e7 48%,#e4e4e4 50%,#dddddd 52%,#d9d9d9 54%,#dddddd 56%,#e4e4e4 57%,#e7e7e7 60%,#e7e7e7 65%,#e7e7e7 69%,#e7e7e7 81%,#e7e7e7 91%,#e7e7e7)"></i><i style="height:15.34px;background:linear-gradient(90deg,#e7e7e7,#e7e7e7 12%,#e7e7e7 25%,#e7e7e7 38%,#e7e7e7 44%,#e7e7e7 48%,#e4e4e4 50%,#dedede 52%,#d9d9d9 54%,#dedede 56%,#e4e4e4 57%,#e7e7e7 60%,#e7e7e7 65%,#e7e7e7 69%,#e7e7e7 81%,#e7e7e7 91%,#e7e7e7)"></i><i style="height:15.34px;background:linear-gradient(90deg,#e8e8e8,#e8e8e8 12%,#e8e8e8 25%,#e8e8e8 38%,#e8e8e8 44%,#e8e8e8 48%,#e4e4e4 50%,#dedede 52%,#dadada 54%,#dedede 56%,#e4e4e4 57%,#e8e8e8 60%,#e8e8e8 65%,#e8e8e8 69%,#e8e8e8 81%,#e8e8e8 91%,#e8e8e8)"></i><i style="height:12px;background:linear-gradient(90deg,#e8e8e8,#e8e8e8 12%,#e8e8e8 25%,#e8e8e8 38%,#e8e8e8 44%,#e8e8e8 48%,#e5e5e5 50%,#dedede 52%,#dadada 54%,#dedede 56%,#e5e5e5 57%,#e8e8e8 60%,#e8e8e8 65%,#e8e8e8 69%,#e8e8e8 81%,#e8e8e8 91%,#e8e8e8)"></i></div></div>
<div class="hm" style="left:1058.7px;top:1464.9px;width:85.0px;height:245.5px;"><div class="hi" style="top:-12px;filter:url(#vb2);"><i style="height:12px;background:linear-gradient(90deg,#525252,#494949 12%,#3b3b3b 25%,#2f2f2f 34%,#262626 41%,#202020 48%,#1e1e1e 52%,#1f1f1f 57%,#222222 62%,#2a2a2a 70%,#373737 80%,#434343 90%,#4c4c4c)"></i><i style="height:15.34px;background:linear-gradient(90deg,#575757,#4d4d4d 12%,#3f3f3f 25%,#323232 34%,#282828 41%,#222222 48%,#1f1f1f 52%,#202020 57%,#232323 62%,#2c2c2c 70%,#3a3a3a 80%,#474747 90%,#515151)"></i><i style="height:15.34px;background:linear-gradient(90deg,#616161,#575757 12%,#474747 25%,#393939 34%,#2c2c2c 41%,#242424 48%,#212121 52%,#222222 57%,#262626 62%,#313131 70%,#424242 80%,#505050 90%,#5b5b5b)"></i><i style="height:15.34px;background:linear-gradient(90deg,#6b6b6b,#616161 12%,#505050 25%,#404040 34%,#313131 41%,#272727 48%,#232323 52%,#242424 57%,#292929 62%,#373737 70%,#4a4a4a 80%,#5a5a5a 90%,#656565)"></i><i style="height:15.34px;background:linear-gradient(90deg,#767676,#6c6c6c 12%,#5a5a5a 25%,#484848 34%,#363636 41%,#2a2a2a 48%,#262626 52%,#272727 57%,#2d2d2d 62%,#3d3d3d 70%,#545454 80%,#656565 90%,#707070)"></i><i style="height:15.34px;background:linear-gradient(90deg,#818181,#777777 12%,#656565 25%,#515151 34%,#3c3c3c 41%,#2e2e2e 48%,#282828 52%,#292929 57%,#313131 62%,#444444 70%,#5e5e5e 80%,#707070 90%,#7b7b7b)"></i><i style="height:15.34px;background:linear-gradient(90deg,#8a8a8a,#818181 12%,#6e6e6e 25%,#595959 34%,#424242 41%,#313131 48%,#2a2a2a 52%,#2c2c2c 57%,#353535 62%,#4c4c4c 70%,#676767 80%,#7a7a7a 90%,#858585)"></i><i style="height:15.34px;background:linear-gradient(90deg,#929292,#8a8a8a 12%,#787878 25%,#616161 34%,#484848 41%,#353535 48%,#2c2c2c 52%,#2e2e2e 57%,#393939 62%,#535353 70%,#707070 80%,#838383 90%,#8d8d8d)"></i><i style="height:15.34px;background:linear-gradient(90deg,#9b9b9b,#939393 12%,#818181 25%,#6a6a6a 34%,#4f4f4f 41%,#383838 48%,#2e2e2e 52%,#313131 57%,#3e3e3e 62%,#5b5b5b 70%,#7a7a7a 80%,#8d8d8d 90%,#969696)"></i><i style="height:15.34px;background:linear-gradient(90deg,#a3a3a3,#9c9c9c 12%,#8c8c8c 25%,#747474 34%,#575757 41%,#3d3d3d 48%,#313131 52%,#333333 57%,#434343 62%,#636363 70%,#848484 80%,#969696 90%,#9f9f9f)"></i><i style="height:15.34px;background:linear-gradient(90deg,#ababab,#a5a5a5 12%,#969696 25%,#7f7f7f 34%,#5f5f5f 41%,#414141 48%,#333333 52%,#363636 57%,#494949 62%,#6d6d6d 70%,#8f8f8f 80%,#a0a0a0 90%,#a8a8a8)"></i><i style="height:15.34px;background:linear-gradient(90deg,#b2b2b2,#adadad 12%,#a0a0a0 25%,#8a8a8a 34%,#6b6b6b 41%,#4b4b4b 48%,#3c3c3c 52%,#3f3f3f 57%,#545454 62%,#797979 70%,#9a9a9a 80%,#a9a9a9 90%,#b0b0b0)"></i><i style="height:15.34px;background:linear-gradient(90deg,#b9b9b9,#b5b5b5 12%,#aaaaaa 25%,#969696 34%,#777777 41%,#565656 48%,#454545 52%,#494949 57%,#5f5f5f 62%,#858585 70%,#a4a4a4 80%,#b1b1b1 90%,#b7b7b7)"></i><i style="height:15.34px;background:linear-gradient(90deg,#bfbfbf,#bcbcbc 12%,#b3b3b3 25%,#a1a1a1 34%,#848484 41%,#626262 48%,#4f4f4f 52%,#535353 57%,#6b6b6b 62%,#929292 70%,#aeaeae 80%,#b9b9b9 90%,#bebebe)"></i><i style="height:15.34px;background:linear-gradient(90deg,#c7c7c7,#c5c5c5 12%,#bfbfbf 25%,#b3b3b3 34%,#9e9e9e 41%,#868686 48%,#787878 52%,#7c7c7c 57%,#8d8d8d 62%,#a8a8a8 70%,#bbbbbb 80%,#c3c3c3 90%,#c6c6c6)"></i><i style="height:15.34px;background:linear-gradient(90deg,#cecece,#cdcdcd 12%,#cbcbcb 25%,#c6c6c6 34%,#bdbdbd 41%,#b2b2b2 48%,#acacac 52%,#aeaeae 57%,#b5b5b5 62%,#c1c1c1 70%,#c9c9c9 80%,#cdcdcd 90%,#cecece)"></i><i style="height:15.34px;background:linear-gradient(90deg,#d0d0d0,#d0d0d0 12%,#cecece 25%,#cccccc 34%,#c7c7c7 41%,#c2c2c2 48%,#bfbfbf 52%,#c0c0c0 57%,#c3c3c3 62%,#c9c9c9 70%,#cecece 80%,#cfcfcf 90%,#d0d0d0)"></i><i style="height:12px;background:linear-gradient(90deg,#d1d1d1,#d1d1d1 12%,#d0d0d0 25%,#cfcfcf 34%,#cccccc 41%,#cacaca 48%,#c8c8c8 52%,#c8c8c8 57%,#cacaca 62%,#cecece 70%,#d0d0d0 80%,#d1d1d1 90%,#d1d1d1)"></i></div></div>
<div class="hm" style="left:1152.8px;top:1464.9px;width:85.0px;height:245.5px;"><div class="hi" style="top:-12px;filter:url(#vb2);"><i style="height:12px;background:linear-gradient(90deg,#989898,#8e8e8e 12%,#7f7f7f 25%,#727272 34%,#686868 41%,#626262 48%,#5f5f5f 52%,#606060 57%,#636363 62%,#6c6c6c 70%,#7a7a7a 80%,#878787 90%,#929292)"></i><i style="height:15.34px;background:linear-gradient(90deg,#9c9c9c,#929292 12%,#828282 25%,#757575 34%,#6a6a6a 41%,#636363 48%,#616161 52%,#616161 57%,#656565 62%,#6e6e6e 70%,#7e7e7e 80%,#8b8b8b 90%,#969696)"></i><i style="height:15.34px;background:linear-gradient(90deg,#a4a4a4,#9a9a9a 12%,#8a8a8a 25%,#7b7b7b 34%,#6f6f6f 41%,#676767 48%,#646464 52%,#656565 57%,#696969 62%,#747474 70%,#858585 80%,#939393 90%,#9e9e9e)"></i><i style="height:15.34px;background:linear-gradient(90deg,#adadad,#a3a3a3 12%,#929292 25%,#828282 34%,#747474 41%,#6b6b6b 48%,#676767 52%,#686868 57%,#6d6d6d 62%,#7a7a7a 70%,#8d8d8d 80%,#9c9c9c 90%,#a7a7a7)"></i><i style="height:15.34px;background:linear-gradient(90deg,#b5b5b5,#acacac 12%,#9b9b9b 25%,#8a8a8a 34%,#7a7a7a 41%,#6f6f6f 48%,#6a6a6a 52%,#6b6b6b 57%,#717171 62%,#808080 70%,#959595 80%,#a5a5a5 90%,#afafaf)"></i><i style="height:15.34px;background:linear-gradient(90deg,#bdbdbd,#b5b5b5 12%,#a4a4a4 25%,#929292 34%,#808080 41%,#737373 48%,#6d6d6d 52%,#6f6f6f 57%,#767676 62%,#878787 70%,#9e9e9e 80%,#aeaeae 90%,#b8b8b8)"></i><i style="height:15.34px;background:linear-gradient(90deg,#c3c3c3,#bbbbbb 12%,#ababab 25%,#999999 34%,#858585 41%,#767676 48%,#707070 52%,#717171 57%,#7a7a7a 62%,#8d8d8d 70%,#a5a5a5 80%,#b5b5b5 90%,#bfbfbf)"></i><i style="height:15.34px;background:linear-gradient(90deg,#c7c7c7,#c0c0c0 12%,#b1b1b1 25%,#9f9f9f 34%,#8a8a8a 41%,#797979 48%,#727272 52%,#747474 57%,#7d7d7d 62%,#929292 70%,#ababab 80%,#bbbbbb 90%,#c3c3c3)"></i><i style="height:15.34px;background:linear-gradient(90deg,#cccccc,#c5c5c5 12%,#b7b7b7 25%,#a5a5a5 34%,#8f8f8f 41%,#7c7c7c 48%,#747474 52%,#767676 57%,#818181 62%,#989898 70%,#b1b1b1 80%,#c0c0c0 90%,#c8c8c8)"></i><i style="height:15.34px;background:linear-gradient(90deg,#d0d0d0,#cacaca 12%,#bdbdbd 25%,#ababab 34%,#949494 41%,#808080 48%,#767676 52%,#787878 57%,#858585 62%,#9e9e9e 70%,#b8b8b8 80%,#c6c6c6 90%,#cdcdcd)"></i><i style="height:15.34px;background:linear-gradient(90deg,#d4d4d4,#cfcfcf 12%,#c4c4c4 25%,#b2b2b2 34%,#9a9a9a 41%,#838383 48%,#797979 52%,#7b7b7b 57%,#898989 62%,#a5a5a5 70%,#bebebe 80%,#cbcbcb 90%,#d1d1d1)"></i><i style="height:15.34px;background:linear-gradient(90deg,#d7d7d7,#d4d4d4 12%,#cacaca 25%,#bbbbbb 34%,#a4a4a4 41%,#8d8d8d 48%,#818181 52%,#848484 57%,#939393 62%,#aeaeae 70%,#c6c6c6 80%,#d1d1d1 90%,#d5d5d5)"></i><i style="height:15.34px;background:linear-gradient(90deg,#dbdbdb,#d8d8d8 12%,#d0d0d0 25%,#c3c3c3 34%,#adadad 41%,#979797 48%,#8b8b8b 52%,#8e8e8e 57%,#9d9d9d 62%,#b7b7b7 70%,#cccccc 80%,#d6d6d6 90%,#d9d9d9)"></i><i style="height:15.34px;background:linear-gradient(90deg,#dedede,#dcdcdc 12%,#d6d6d6 25%,#cbcbcb 34%,#b7b7b7 41%,#a1a1a1 48%,#949494 52%,#979797 57%,#a7a7a7 62%,#c0c0c0 70%,#d3d3d3 80%,#dadada 90%,#dddddd)"></i><i style="height:15.34px;background:linear-gradient(90deg,#e2e2e2,#e1e1e1 12%,#dddddd 25%,#d6d6d6 34%,#c9c9c9 41%,#bababa 48%,#b1b1b1 52%,#b3b3b3 57%,#bebebe 62%,#cfcfcf 70%,#dbdbdb 80%,#e0e0e0 90%,#e2e2e2)"></i><i style="height:15.34px;background:linear-gradient(90deg,#e7e7e7,#e7e7e7 12%,#e5e5e5 25%,#e2e2e2 34%,#dddddd 41%,#d7d7d7 48%,#d3d3d3 52%,#d4d4d4 57%,#d8d8d8 62%,#dfdfdf 70%,#e4e4e4 80%,#e6e6e6 90%,#e7e7e7)"></i><i style="height:15.34px;background:linear-gradient(90deg,#e8e8e8,#e7e7e7 12%,#e7e7e7 25%,#e5e5e5 34%,#e2e2e2 41%,#dedede 48%,#dcdcdc 52%,#dddddd 57%,#dfdfdf 62%,#e3e3e3 70%,#e6e6e6 80%,#e7e7e7 90%,#e8e8e8)"></i><i style="height:12px;background:linear-gradient(90deg,#e8e8e8,#e8e8e8 12%,#e7e7e7 25%,#e6e6e6 34%,#e4e4e4 41%,#e2e2e2 48%,#e1e1e1 52%,#e1e1e1 57%,#e3e3e3 62%,#e5e5e5 70%,#e7e7e7 80%,#e8e8e8 90%,#e8e8e8)"></i></div></div>
<div class="hm" style="left:1246.8px;top:1464.9px;width:85.0px;height:245.5px;"><div class="hi" style="top:-12px;filter:url(#vb2);"><i style="height:12px;background:linear-gradient(90deg,#484848,#404040 12%,#353535 25%,#2c2c2c 34%,#242424 41%,#202020 48%,#1e1e1e 52%,#1e1e1e 57%,#212121 62%,#272727 70%,#323232 80%,#3c3c3c 90%,#434343)"></i><i style="height:15.34px;background:linear-gradient(90deg,#4d4d4d,#454545 12%,#393939 25%,#2f2f2f 34%,#262626 41%,#212121 48%,#1f1f1f 52%,#202020 57%,#222222 62%,#2a2a2a 70%,#353535 80%,#404040 90%,#484848)"></i><i style="height:15.34px;background:linear-gradient(90deg,#575757,#4e4e4e 12%,#414141 25%,#353535 34%,#2a2a2a 41%,#242424 48%,#212121 52%,#222222 57%,#252525 62%,#2e2e2e 70%,#3d3d3d 80%,#494949 90%,#525252)"></i><i style="height:15.34px;background:linear-gradient(90deg,#616161,#585858 12%,#4a4a4a 25%,#3c3c3c 34%,#2f2f2f 41%,#272727 48%,#232323 52%,#242424 57%,#292929 62%,#343434 70%,#454545 80%,#525252 90%,#5c5c5c)"></i><i style="height:15.34px;background:linear-gradient(90deg,#6c6c6c,#636363 12%,#535353 25%,#434343 34%,#343434 41%,#2a2a2a 48%,#262626 52%,#262626 57%,#2c2c2c 62%,#3a3a3a 70%,#4e4e4e 80%,#5d5d5d 90%,#676767)"></i><i style="height:15.34px;background:linear-gradient(90deg,#777777,#6e6e6e 12%,#5e5e5e 25%,#4c4c4c 34%,#3a3a3a 41%,#2d2d2d 48%,#282828 52%,#292929 57%,#303030 62%,#414141 70%,#585858 80%,#686868 90%,#727272)"></i><i style="height:15.34px;background:linear-gradient(90deg,#7f7f7f,#777777 12%,#676767 25%,#545454 34%,#3f3f3f 41%,#303030 48%,#2a2a2a 52%,#2b2b2b 57%,#343434 62%,#484848 70%,#606060 80%,#717171 90%,#7a7a7a)"></i><i style="height:15.34px;background:linear-gradient(90deg,#868686,#7f7f7f 12%,#6f6f6f 25%,#5b5b5b 34%,#454545 41%,#343434 48%,#2c2c2c 52%,#2e2e2e 57%,#383838 62%,#4e4e4e 70%,#696969 80%,#797979 90%,#828282)"></i><i style="height:15.34px;background:linear-gradient(90deg,#8e8e8e,#878787 12%,#787878 25%,#636363 34%,#4b4b4b 41%,#373737 48%,#2e2e2e 52%,#303030 57%,#3c3c3c 62%,#555555 70%,#717171 80%,#818181 90%,#8a8a8a)"></i><i style="height:15.34px;background:linear-gradient(90deg,#959595,#8f8f8f 12%,#808080 25%,#6c6c6c 34%,#525252 41%,#3b3b3b 48%,#303030 52%,#333333 57%,#414141 62%,#5d5d5d 70%,#7a7a7a 80%,#8a8a8a 90%,#929292)"></i><i style="height:15.34px;background:linear-gradient(90deg,#9c9c9c,#979797 12%,#8a8a8a 25%,#757575 34%,#595959 41%,#3f3f3f 48%,#333333 52%,#363636 57%,#464646 62%,#666666 70%,#848484 80%,#939393 90%,#9a9a9a)"></i><i style="height:15.34px;background:linear-gradient(90deg,#a3a3a3,#9f9f9f 12%,#939393 25%,#808080 34%,#656565 41%,#494949 48%,#3b3b3b 52%,#3f3f3f 57%,#515151 62%,#717171 70%,#8e8e8e 80%,#9b9b9b 90%,#a1a1a1)"></i><i style="height:15.34px;background:linear-gradient(90deg,#aaaaaa,#a6a6a6 12%,#9d9d9d 25%,#8b8b8b 34%,#717171 41%,#545454 48%,#454545 52%,#484848 57%,#5c5c5c 62%,#7d7d7d 70%,#989898 80%,#a3a3a3 90%,#a8a8a8)"></i><i style="height:15.34px;background:linear-gradient(90deg,#b0b0b0,#aeaeae 12%,#a6a6a6 25%,#969696 34%,#7d7d7d 41%,#5f5f5f 48%,#4e4e4e 52%,#525252 57%,#676767 62%,#898989 70%,#a1a1a1 80%,#ababab 90%,#afafaf)"></i><i style="height:15.34px;background:linear-gradient(90deg,#b6b6b6,#b4b4b4 12%,#afafaf 25%,#a5a5a5 34%,#949494 41%,#7f7f7f 48%,#747474 52%,#777777 57%,#858585 62%,#9c9c9c 70%,#acacac 80%,#b2b2b2 90%,#b5b5b5)"></i><i style="height:15.34px;background:linear-gradient(90deg,#bababa,#bababa 12%,#b8b8b8 25%,#b4b4b4 34%,#aeaeae 41%,#a6a6a6 48%,#a2a2a2 52%,#a3a3a3 57%,#a8a8a8 62%,#b1b1b1 70%,#b7b7b7 80%,#b9b9b9 90%,#bababa)"></i><i style="height:15.34px;background:linear-gradient(90deg,#bcbcbc,#bcbcbc 12%,#bbbbbb 25%,#b8b8b8 34%,#b5b5b5 41%,#b0b0b0 48%,#aeaeae 52%,#afafaf 57%,#b2b2b2 62%,#b7b7b7 70%,#bababa 80%,#bbbbbb 90%,#bcbcbc)"></i><i style="height:12px;background:linear-gradient(90deg,#bdbdbd,#bdbdbd 12%,#bcbcbc 25%,#bbbbbb 34%,#b8b8b8 41%,#b6b6b6 48%,#b4b4b4 52%,#b4b4b4 57%,#b6b6b6 62%,#bababa 70%,#bcbcbc 80%,#bdbdbd 90%,#bdbdbd)"></i></div></div>
<div class="hm" style="left:1340.9px;top:1464.9px;width:85.0px;height:245.5px;"><div class="hi" style="top:-12px;filter:url(#vb2);"><i style="height:12px;background:linear-gradient(90deg,#8e8e8e,#848484 12%,#757575 25%,#686868 34%,#5e5e5e 41%,#585858 48%,#555555 52%,#565656 57%,#595959 62%,#626262 70%,#707070 80%,#7d7d7d 90%,#888888)"></i><i style="height:15.34px;background:linear-gradient(90deg,#919191,#878787 12%,#787878 25%,#6a6a6a 34%,#5f5f5f 41%,#595959 48%,#565656 52%,#575757 57%,#5a5a5a 62%,#646464 70%,#737373 80%,#818181 90%,#8b8b8b)"></i><i style="height:15.34px;background:linear-gradient(90deg,#979797,#8d8d8d 12%,#7e7e7e 25%,#6f6f6f 34%,#636363 41%,#5b5b5b 48%,#585858 52%,#595959 57%,#5d5d5d 62%,#686868 70%,#797979 80%,#878787 90%,#919191)"></i><i style="height:15.34px;background:linear-gradient(90deg,#9d9d9d,#949494 12%,#848484 25%,#757575 34%,#676767 41%,#5e5e5e 48%,#5a5a5a 52%,#5b5b5b 57%,#606060 62%,#6c6c6c 70%,#7f7f7f 80%,#8e8e8e 90%,#989898)"></i><i style="height:15.34px;background:linear-gradient(90deg,#a4a4a4,#9b9b9b 12%,#8b8b8b 25%,#7b7b7b 34%,#6b6b6b 41%,#616161 48%,#5d5d5d 52%,#5d5d5d 57%,#636363 62%,#717171 70%,#858585 80%,#959595 90%,#9f9f9f)"></i><i style="height:15.34px;background:linear-gradient(90deg,#aaaaaa,#a2a2a2 12%,#929292 25%,#818181 34%,#707070 41%,#646464 48%,#5f5f5f 52%,#606060 57%,#676767 62%,#777777 70%,#8d8d8d 80%,#9c9c9c 90%,#a5a5a5)"></i><i style="height:15.34px;background:linear-gradient(90deg,#afafaf,#a8a8a8 12%,#999999 25%,#878787 34%,#757575 41%,#676767 48%,#616161 52%,#626262 57%,#6a6a6a 62%,#7c7c7c 70%,#939393 80%,#a2a2a2 90%,#ababab)"></i><i style="height:15.34px;background:linear-gradient(90deg,#b3b3b3,#adadad 12%,#9e9e9e 25%,#8d8d8d 34%,#797979 41%,#6a6a6a 48%,#636363 52%,#646464 57%,#6d6d6d 62%,#818181 70%,#999999 80%,#a7a7a7 90%,#b0b0b0)"></i><i style="height:15.34px;background:linear-gradient(90deg,#b8b8b8,#b2b2b2 12%,#a4a4a4 25%,#939393 34%,#7e7e7e 41%,#6d6d6d 48%,#656565 52%,#676767 57%,#717171 62%,#878787 70%,#9f9f9f 80%,#adadad 90%,#b4b4b4)"></i><i style="height:15.34px;background:linear-gradient(90deg,#bcbcbc,#b7b7b7 12%,#aaaaaa 25%,#999999 34%,#838383 41%,#707070 48%,#676767 52%,#696969 57%,#757575 62%,#8d8d8d 70%,#a5a5a5 80%,#b2b2b2 90%,#b9b9b9)"></i><i style="height:15.34px;background:linear-gradient(90deg,#c0c0c0,#bbbbbb 12%,#b1b1b1 25%,#a0a0a0 34%,#898989 41%,#747474 48%,#6a6a6a 52%,#6c6c6c 57%,#797979 62%,#939393 70%,#acacac 80%,#b8b8b8 90%,#bdbdbd)"></i><i style="height:15.34px;background:linear-gradient(90deg,#c3c3c3,#c0c0c0 12%,#b7b7b7 25%,#a8a8a8 34%,#929292 41%,#7c7c7c 48%,#717171 52%,#737373 57%,#828282 62%,#9c9c9c 70%,#b2b2b2 80%,#bdbdbd 90%,#c1c1c1)"></i><i style="height:15.34px;background:linear-gradient(90deg,#c7c7c7,#c4c4c4 12%,#bdbdbd 25%,#afafaf 34%,#9b9b9b 41%,#848484 48%,#797979 52%,#7b7b7b 57%,#8a8a8a 62%,#a4a4a4 70%,#b9b9b9 80%,#c2c2c2 90%,#c5c5c5)"></i><i style="height:15.34px;background:linear-gradient(90deg,#cacaca,#c8c8c8 12%,#c2c2c2 25%,#b7b7b7 34%,#a3a3a3 41%,#8d8d8d 48%,#818181 52%,#848484 57%,#939393 62%,#acacac 70%,#bfbfbf 80%,#c6c6c6 90%,#c9c9c9)"></i><i style="height:15.34px;background:linear-gradient(90deg,#cccccc,#cbcbcb 12%,#c7c7c7 25%,#c0c0c0 34%,#b3b3b3 41%,#a3a3a3 48%,#9b9b9b 52%,#9d9d9d 57%,#a8a8a8 62%,#b9b9b9 70%,#c5c5c5 80%,#cacaca 90%,#cccccc)"></i><i style="height:15.34px;background:linear-gradient(90deg,#cecece,#cecece 12%,#cccccc 25%,#c9c9c9 34%,#c4c4c4 41%,#bebebe 48%,#bababa 52%,#bbbbbb 57%,#bfbfbf 62%,#c6c6c6 70%,#cbcbcb 80%,#cdcdcd 90%,#cecece)"></i><i style="height:15.34px;background:linear-gradient(90deg,#d0d0d0,#d0d0d0 12%,#cfcfcf 25%,#cdcdcd 34%,#cacaca 41%,#c6c6c6 48%,#c3c3c3 52%,#c4c4c4 57%,#c7c7c7 62%,#cbcbcb 70%,#cecece 80%,#cfcfcf 90%,#d0d0d0)"></i><i style="height:12px;background:linear-gradient(90deg,#d1d1d1,#d1d1d1 12%,#d0d0d0 25%,#cfcfcf 34%,#cccccc 41%,#cacaca 48%,#c8c8c8 52%,#c8c8c8 57%,#cacaca 62%,#cecece 70%,#d0d0d0 80%,#d1d1d1 90%,#d1d1d1)"></i></div></div>
<div class="hm" style="left:1434.9px;top:1464.9px;width:85.0px;height:245.5px;"><div class="hi" style="top:-12px;filter:url(#vb2);"><i style="height:12px;background:linear-gradient(90deg,#666666,#5d5d5d 12%,#4f4f4f 25%,#434343 34%,#3a3a3a 41%,#343434 48%,#323232 52%,#333333 57%,#363636 62%,#3e3e3e 70%,#4b4b4b 80%,#575757 90%,#606060)"></i><i style="height:15.34px;background:linear-gradient(90deg,#6b6b6b,#626262 12%,#535353 25%,#474747 34%,#3d3d3d 41%,#373737 48%,#343434 52%,#353535 57%,#383838 62%,#414141 70%,#4f4f4f 80%,#5c5c5c 90%,#656565)"></i><i style="height:15.34px;background:linear-gradient(90deg,#757575,#6c6c6c 12%,#5c5c5c 25%,#4f4f4f 34%,#434343 41%,#3b3b3b 48%,#383838 52%,#393939 57%,#3d3d3d 62%,#474747 70%,#585858 80%,#656565 90%,#6f6f6f)"></i><i style="height:15.34px;background:linear-gradient(90deg,#7f7f7f,#767676 12%,#666666 25%,#575757 34%,#494949 41%,#404040 48%,#3d3d3d 52%,#3d3d3d 57%,#424242 62%,#4f4f4f 70%,#616161 80%,#707070 90%,#7a7a7a)"></i><i style="height:15.34px;background:linear-gradient(90deg,#8a8a8a,#818181 12%,#717171 25%,#606060 34%,#505050 41%,#454545 48%,#414141 52%,#424242 57%,#484848 62%,#565656 70%,#6b6b6b 80%,#7a7a7a 90%,#858585)"></i><i style="height:15.34px;background:linear-gradient(90deg,#959595,#8c8c8c 12%,#7c7c7c 25%,#6a6a6a 34%,#575757 41%,#4a4a4a 48%,#454545 52%,#464646 57%,#4e4e4e 62%,#5f5f5f 70%,#767676 80%,#868686 90%,#909090)"></i><i style="height:15.34px;background:linear-gradient(90deg,#9c9c9c,#959595 12%,#848484 25%,#727272 34%,#5e5e5e 41%,#4f4f4f 48%,#494949 52%,#4a4a4a 57%,#535353 62%,#666666 70%,#7e7e7e 80%,#8e8e8e 90%,#989898)"></i><i style="height:15.34px;background:linear-gradient(90deg,#a3a3a3,#9c9c9c 12%,#8c8c8c 25%,#797979 34%,#646464 41%,#535353 48%,#4c4c4c 52%,#4d4d4d 57%,#575757 62%,#6d6d6d 70%,#868686 80%,#969696 90%,#9f9f9f)"></i><i style="height:15.34px;background:linear-gradient(90deg,#a9a9a9,#a3a3a3 12%,#949494 25%,#818181 34%,#6a6a6a 41%,#575757 48%,#4f4f4f 52%,#515151 57%,#5c5c5c 62%,#747474 70%,#8e8e8e 80%,#9d9d9d 90%,#a6a6a6)"></i><i style="height:15.34px;background:linear-gradient(90deg,#afafaf,#aaaaaa 12%,#9c9c9c 25%,#898989 34%,#717171 41%,#5c5c5c 48%,#525252 52%,#545454 57%,#616161 62%,#7c7c7c 70%,#969696 80%,#a5a5a5 90%,#acacac)"></i><i style="height:15.34px;background:linear-gradient(90deg,#b5b5b5,#b1b1b1 12%,#a5a5a5 25%,#929292 34%,#797979 41%,#616161 48%,#565656 52%,#585858 57%,#676767 62%,#848484 70%,#9f9f9f 80%,#adadad 90%,#b3b3b3)"></i><i style="height:15.34px;background:linear-gradient(90deg,#bbbbbb,#b7b7b7 12%,#acacac 25%,#9b9b9b 34%,#828282 41%,#696969 48%,#5d5d5d 52%,#606060 57%,#707070 62%,#8e8e8e 70%,#a7a7a7 80%,#b3b3b3 90%,#b9b9b9)"></i><i style="height:15.34px;background:linear-gradient(90deg,#c0c0c0,#bdbdbd 12%,#b4b4b4 25%,#a4a4a4 34%,#8c8c8c 41%,#727272 48%,#656565 52%,#686868 57%,#7a7a7a 62%,#979797 70%,#afafaf 80%,#bababa 90%,#bebebe)"></i><i style="height:15.34px;background:linear-gradient(90deg,#c5c5c5,#c2c2c2 12%,#bbbbbb 25%,#adadad 34%,#969696 41%,#7c7c7c 48%,#6d6d6d 52%,#707070 57%,#838383 62%,#a1a1a1 70%,#b7b7b7 80%,#c0c0c0 90%,#c3c3c3)"></i><i style="height:15.34px;background:linear-gradient(90deg,#cccccc,#cacaca 12%,#c6c6c6 25%,#bdbdbd 34%,#aeaeae 41%,#9c9c9c 48%,#929292 52%,#949494 57%,#a1a1a1 62%,#b5b5b5 70%,#c3c3c3 80%,#c9c9c9 90%,#cbcbcb)"></i><i style="height:15.34px;background:linear-gradient(90deg,#d3d3d3,#d3d3d3 12%,#d1d1d1 25%,#cecece 34%,#c9c9c9 41%,#c3c3c3 48%,#bfbfbf 52%,#c0c0c0 57%,#c5c5c5 62%,#cbcbcb 70%,#d0d0d0 80%,#d2d2d2 90%,#d3d3d3)"></i><i style="height:15.34px;background:linear-gradient(90deg,#d6d6d6,#d6d6d6 12%,#d5d5d5 25%,#d3d3d3 34%,#d0d0d0 41%,#cdcdcd 48%,#cbcbcb 52%,#cbcbcb 57%,#cecece 62%,#d2d2d2 70%,#d5d5d5 80%,#d6d6d6 90%,#d6d6d6)"></i><i style="height:12px;background:linear-gradient(90deg,#d8d8d8,#d8d8d8 12%,#d7d7d7 25%,#d6d6d6 34%,#d4d4d4 41%,#d1d1d1 48%,#d0d0d0 52%,#d0d0d0 57%,#d2d2d2 62%,#d5d5d5 70%,#d7d7d7 80%,#d8d8d8 90%,#d8d8d8)"></i></div></div>
<div class="hm" style="left:1529.0px;top:1464.9px;width:85.0px;height:245.5px;"><div class="hi" style="top:-12px;filter:url(#vb2);"><i style="height:12px;background:linear-gradient(90deg,#7f7f7f,#777777 12%,#6a6a6a 25%,#606060 34%,#575757 41%,#525252 48%,#505050 52%,#515151 57%,#535353 62%,#5a5a5a 70%,#666666 80%,#717171 90%,#7a7a7a)"></i><i style="height:15.34px;background:linear-gradient(90deg,#828282,#7a7a7a 12%,#6d6d6d 25%,#626262 34%,#595959 41%,#535353 48%,#515151 52%,#525252 57%,#555555 62%,#5c5c5c 70%,#696969 80%,#757575 90%,#7d7d7d)"></i><i style="height:15.34px;background:linear-gradient(90deg,#8a8a8a,#818181 12%,#737373 25%,#676767 34%,#5d5d5d 41%,#565656 48%,#535353 52%,#545454 57%,#575757 62%,#616161 70%,#6f6f6f 80%,#7b7b7b 90%,#848484)"></i><i style="height:15.34px;background:linear-gradient(90deg,#919191,#888888 12%,#7a7a7a 25%,#6d6d6d 34%,#616161 41%,#595959 48%,#555555 52%,#565656 57%,#5a5a5a 62%,#656565 70%,#767676 80%,#838383 90%,#8c8c8c)"></i><i style="height:15.34px;background:linear-gradient(90deg,#989898,#909090 12%,#828282 25%,#737373 34%,#656565 41%,#5b5b5b 48%,#585858 52%,#585858 57%,#5e5e5e 62%,#6a6a6a 70%,#7d7d7d 80%,#8a8a8a 90%,#939393)"></i><i style="height:15.34px;background:linear-gradient(90deg,#a0a0a0,#989898 12%,#8a8a8a 25%,#7a7a7a 34%,#6a6a6a 41%,#5e5e5e 48%,#5a5a5a 52%,#5b5b5b 57%,#616161 62%,#707070 70%,#848484 80%,#939393 90%,#9b9b9b)"></i><i style="height:15.34px;background:linear-gradient(90deg,#a5a5a5,#9e9e9e 12%,#909090 25%,#7f7f7f 34%,#6e6e6e 41%,#616161 48%,#5b5b5b 52%,#5c5c5c 57%,#646464 62%,#757575 70%,#8a8a8a 80%,#999999 90%,#a1a1a1)"></i><i style="height:15.34px;background:linear-gradient(90deg,#a9a9a9,#a3a3a3 12%,#959595 25%,#848484 34%,#717171 41%,#636363 48%,#5c5c5c 52%,#5e5e5e 57%,#666666 62%,#797979 70%,#909090 80%,#9e9e9e 90%,#a6a6a6)"></i><i style="height:15.34px;background:linear-gradient(90deg,#adadad,#a8a8a8 12%,#9b9b9b 25%,#8a8a8a 34%,#757575 41%,#656565 48%,#5d5d5d 52%,#5f5f5f 57%,#696969 62%,#7e7e7e 70%,#959595 80%,#a3a3a3 90%,#aaaaaa)"></i><i style="height:15.34px;background:linear-gradient(90deg,#b2b2b2,#adadad 12%,#a1a1a1 25%,#909090 34%,#7a7a7a 41%,#676767 48%,#5e5e5e 52%,#606060 57%,#6c6c6c 62%,#838383 70%,#9b9b9b 80%,#a8a8a8 90%,#afafaf)"></i><i style="height:15.34px;background:linear-gradient(90deg,#b6b6b6,#b1b1b1 12%,#a7a7a7 25%,#969696 34%,#7f7f7f 41%,#6a6a6a 48%,#606060 52%,#626262 57%,#707070 62%,#898989 70%,#a2a2a2 80%,#aeaeae 90%,#b3b3b3)"></i><i style="height:15.34px;background:linear-gradient(90deg,#b9b9b9,#b6b6b6 12%,#adadad 25%,#9e9e9e 34%,#888888 41%,#727272 48%,#676767 52%,#696969 57%,#787878 62%,#929292 70%,#a8a8a8 80%,#b3b3b3 90%,#b7b7b7)"></i><i style="height:15.34px;background:linear-gradient(90deg,#bdbdbd,#bababa 12%,#b3b3b3 25%,#a5a5a5 34%,#919191 41%,#7a7a7a 48%,#6f6f6f 52%,#717171 57%,#808080 62%,#9a9a9a 70%,#afafaf 80%,#b8b8b8 90%,#bbbbbb)"></i><i style="height:15.34px;background:linear-gradient(90deg,#c0c0c0,#bebebe 12%,#b8b8b8 25%,#adadad 34%,#999999 41%,#838383 48%,#777777 52%,#7a7a7a 57%,#898989 62%,#a2a2a2 70%,#b5b5b5 80%,#bcbcbc 90%,#bfbfbf)"></i><i style="height:15.34px;background:linear-gradient(90deg,#c4c4c4,#c3c3c3 12%,#bfbfbf 25%,#b8b8b8 34%,#ababab 41%,#9c9c9c 48%,#939393 52%,#959595 57%,#a0a0a0 62%,#b1b1b1 70%,#bdbdbd 80%,#c2c2c2 90%,#c4c4c4)"></i><i style="height:15.34px;background:linear-gradient(90deg,#c9c9c9,#c9c9c9 12%,#c7c7c7 25%,#c4c4c4 34%,#bfbfbf 41%,#b9b9b9 48%,#b5b5b5 52%,#b6b6b6 57%,#bababa 62%,#c1c1c1 70%,#c6c6c6 80%,#c8c8c8 90%,#c9c9c9)"></i><i style="height:15.34px;background:linear-gradient(90deg,#cbcbcb,#cbcbcb 12%,#cacaca 25%,#c8c8c8 34%,#c5c5c5 41%,#c1c1c1 48%,#bebebe 52%,#bfbfbf 57%,#c2c2c2 62%,#c6c6c6 70%,#c9c9c9 80%,#cacaca 90%,#cbcbcb)"></i><i style="height:12px;background:linear-gradient(90deg,#cccccc,#cccccc 12%,#cbcbcb 25%,#cacaca 34%,#c7c7c7 41%,#c5c5c5 48%,#c3c3c3 52%,#c3c3c3 57%,#c5c5c5 62%,#c9c9c9 70%,#cbcbcb 80%,#cccccc 90%,#cccccc)"></i></div></div>
<div class="hm" style="left:1623.1px;top:1464.9px;width:85.0px;height:245.5px;"><div class="hi" style="top:-12px;filter:url(#vb2);"><i style="height:12px;background:linear-gradient(90deg,#757575,#6d6d6d 12%,#606060 25%,#565656 34%,#4d4d4d 41%,#484848 48%,#464646 52%,#474747 57%,#494949 62%,#505050 70%,#5c5c5c 80%,#676767 90%,#707070)"></i><i style="height:15.34px;background:linear-gradient(90deg,#797979,#707070 12%,#636363 25%,#585858 34%,#4f4f4f 41%,#494949 48%,#474747 52%,#484848 57%,#4b4b4b 62%,#535353 70%,#5f5f5f 80%,#6b6b6b 90%,#747474)"></i><i style="height:15.34px;background:linear-gradient(90deg,#818181,#787878 12%,#6a6a6a 25%,#5e5e5e 34%,#535353 41%,#4c4c4c 48%,#494949 52%,#4a4a4a 57%,#4e4e4e 62%,#575757 70%,#666666 80%,#727272 90%,#7c7c7c)"></i><i style="height:15.34px;background:linear-gradient(90deg,#898989,#808080 12%,#727272 25%,#646464 34%,#575757 41%,#4f4f4f 48%,#4b4b4b 52%,#4c4c4c 57%,#515151 62%,#5c5c5c 70%,#6d6d6d 80%,#7b7b7b 90%,#848484)"></i><i style="height:15.34px;background:linear-gradient(90deg,#929292,#898989 12%,#7a7a7a 25%,#6a6a6a 34%,#5c5c5c 41%,#525252 48%,#4e4e4e 52%,#4e4e4e 57%,#545454 62%,#626262 70%,#757575 80%,#838383 90%,#8d8d8d)"></i><i style="height:15.34px;background:linear-gradient(90deg,#9a9a9a,#929292 12%,#838383 25%,#727272 34%,#616161 41%,#555555 48%,#505050 52%,#515151 57%,#585858 62%,#686868 70%,#7d7d7d 80%,#8c8c8c 90%,#969696)"></i><i style="height:15.34px;background:linear-gradient(90deg,#a0a0a0,#999999 12%,#8a8a8a 25%,#787878 34%,#656565 41%,#575757 48%,#515151 52%,#525252 57%,#5b5b5b 62%,#6d6d6d 70%,#848484 80%,#939393 90%,#9c9c9c)"></i><i style="height:15.34px;background:linear-gradient(90deg,#a5a5a5,#9e9e9e 12%,#909090 25%,#7e7e7e 34%,#696969 41%,#595959 48%,#525252 52%,#545454 57%,#5d5d5d 62%,#727272 70%,#8a8a8a 80%,#999999 90%,#a1a1a1)"></i><i style="height:15.34px;background:linear-gradient(90deg,#aaaaaa,#a4a4a4 12%,#969696 25%,#848484 34%,#6e6e6e 41%,#5b5b5b 48%,#535353 52%,#555555 57%,#606060 62%,#777777 70%,#909090 80%,#9f9f9f 90%,#a7a7a7)"></i><i style="height:15.34px;background:linear-gradient(90deg,#afafaf,#aaaaaa 12%,#9c9c9c 25%,#8a8a8a 34%,#737373 41%,#5e5e5e 48%,#555555 52%,#575757 57%,#636363 62%,#7d7d7d 70%,#979797 80%,#a5a5a5 90%,#acacac)"></i><i style="height:15.34px;background:linear-gradient(90deg,#b4b4b4,#afafaf 12%,#a3a3a3 25%,#919191 34%,#787878 41%,#616161 48%,#565656 52%,#585858 57%,#676767 62%,#838383 70%,#9e9e9e 80%,#ababab 90%,#b1b1b1)"></i><i style="height:15.34px;background:linear-gradient(90deg,#b8b8b8,#b4b4b4 12%,#aaaaaa 25%,#999999 34%,#818181 41%,#696969 48%,#5d5d5d 52%,#606060 57%,#707070 62%,#8c8c8c 70%,#a5a5a5 80%,#b1b1b1 90%,#b6b6b6)"></i><i style="height:15.34px;background:linear-gradient(90deg,#bcbcbc,#b9b9b9 12%,#b1b1b1 25%,#a2a2a2 34%,#8b8b8b 41%,#727272 48%,#656565 52%,#686868 57%,#797979 62%,#959595 70%,#acacac 80%,#b6b6b6 90%,#bababa)"></i><i style="height:15.34px;background:linear-gradient(90deg,#c0c0c0,#bebebe 12%,#b7b7b7 25%,#aaaaaa 34%,#949494 41%,#7b7b7b 48%,#6d6d6d 52%,#707070 57%,#828282 62%,#9e9e9e 70%,#b3b3b3 80%,#bcbcbc 90%,#bfbfbf)"></i><i style="height:15.34px;background:linear-gradient(90deg,#c4c4c4,#c3c3c3 12%,#bfbfbf 25%,#b7b7b7 34%,#a8a8a8 41%,#979797 48%,#8d8d8d 52%,#909090 57%,#9c9c9c 62%,#afafaf 70%,#bdbdbd 80%,#c2c2c2 90%,#c4c4c4)"></i><i style="height:15.34px;background:linear-gradient(90deg,#c9c9c9,#c9c9c9 12%,#c7c7c7 25%,#c4c4c4 34%,#bfbfbf 41%,#b9b9b9 48%,#b5b5b5 52%,#b6b6b6 57%,#bababa 62%,#c1c1c1 70%,#c6c6c6 80%,#c8c8c8 90%,#c9c9c9)"></i><i style="height:15.34px;background:linear-gradient(90deg,#cbcbcb,#cbcbcb 12%,#cacaca 25%,#c8c8c8 34%,#c5c5c5 41%,#c1c1c1 48%,#bebebe 52%,#bfbfbf 57%,#c2c2c2 62%,#c6c6c6 70%,#c9c9c9 80%,#cacaca 90%,#cbcbcb)"></i><i style="height:12px;background:linear-gradient(90deg,#cccccc,#cccccc 12%,#cbcbcb 25%,#cacaca 34%,#c7c7c7 41%,#c5c5c5 48%,#c3c3c3 52%,#c3c3c3 57%,#c5c5c5 62%,#c9c9c9 70%,#cbcbcb 80%,#cccccc 90%,#cccccc)"></i></div></div>
<div class="hm" style="left:1717.1px;top:1464.9px;width:85.0px;height:245.5px;"><div class="hi" style="top:-12px;filter:url(#vb2);"><i style="height:12px;background:linear-gradient(90deg,#666666,#5d5d5d 12%,#4f4f4f 25%,#434343 34%,#3a3a3a 41%,#343434 48%,#323232 52%,#333333 57%,#363636 62%,#3e3e3e 70%,#4b4b4b 80%,#575757 90%,#606060)"></i><i style="height:15.34px;background:linear-gradient(90deg,#6a6a6a,#616161 12%,#535353 25%,#464646 34%,#3c3c3c 41%,#363636 48%,#333333 52%,#343434 57%,#373737 62%,#404040 70%,#4e4e4e 80%,#5b5b5b 90%,#656565)"></i><i style="height:15.34px;background:linear-gradient(90deg,#737373,#6a6a6a 12%,#5a5a5a 25%,#4c4c4c 34%,#404040 41%,#383838 48%,#353535 52%,#363636 57%,#3a3a3a 62%,#454545 70%,#555555 80%,#636363 90%,#6d6d6d)"></i><i style="height:15.34px;background:linear-gradient(90deg,#7d7d7d,#737373 12%,#626262 25%,#535353 34%,#444444 41%,#3b3b3b 48%,#373737 52%,#383838 57%,#3d3d3d 62%,#4a4a4a 70%,#5d5d5d 80%,#6c6c6c 90%,#777777)"></i><i style="height:15.34px;background:linear-gradient(90deg,#868686,#7d7d7d 12%,#6c6c6c 25%,#5a5a5a 34%,#494949 41%,#3e3e3e 48%,#3a3a3a 52%,#3b3b3b 57%,#414141 62%,#505050 70%,#666666 80%,#767676 90%,#818181)"></i><i style="height:15.34px;background:linear-gradient(90deg,#909090,#878787 12%,#767676 25%,#636363 34%,#4f4f4f 41%,#414141 48%,#3c3c3c 52%,#3d3d3d 57%,#454545 62%,#575757 70%,#6f6f6f 80%,#808080 90%,#8b8b8b)"></i><i style="height:15.34px;background:linear-gradient(90deg,#979797,#8e8e8e 12%,#7d7d7d 25%,#6a6a6a 34%,#545454 41%,#454545 48%,#3e3e3e 52%,#3f3f3f 57%,#484848 62%,#5d5d5d 70%,#777777 80%,#888888 90%,#929292)"></i><i style="height:15.34px;background:linear-gradient(90deg,#9c9c9c,#949494 12%,#848484 25%,#707070 34%,#595959 41%,#484848 48%,#404040 52%,#424242 57%,#4c4c4c 62%,#636363 70%,#7e7e7e 80%,#8e8e8e 90%,#989898)"></i><i style="height:15.34px;background:linear-gradient(90deg,#a1a1a1,#9b9b9b 12%,#8b8b8b 25%,#777777 34%,#5f5f5f 41%,#4b4b4b 48%,#424242 52%,#444444 57%,#505050 62%,#696969 70%,#858585 80%,#959595 90%,#9e9e9e)"></i><i style="height:15.34px;background:linear-gradient(90deg,#a6a6a6,#a1a1a1 12%,#929292 25%,#7e7e7e 34%,#656565 41%,#4f4f4f 48%,#444444 52%,#474747 57%,#545454 62%,#707070 70%,#8c8c8c 80%,#9c9c9c 90%,#a3a3a3)"></i><i style="height:15.34px;background:linear-gradient(90deg,#acacac,#a7a7a7 12%,#9a9a9a 25%,#868686 34%,#6c6c6c 41%,#535353 48%,#474747 52%,#494949 57%,#595959 62%,#777777 70%,#949494 80%,#a2a2a2 90%,#a9a9a9)"></i><i style="height:15.34px;background:linear-gradient(90deg,#b1b1b1,#adadad 12%,#a2a2a2 25%,#909090 34%,#757575 41%,#5b5b5b 48%,#4e4e4e 52%,#515151 57%,#626262 62%,#818181 70%,#9c9c9c 80%,#a9a9a9 90%,#afafaf)"></i><i style="height:15.34px;background:linear-gradient(90deg,#b6b6b6,#b3b3b3 12%,#a9a9a9 25%,#999999 34%,#7f7f7f 41%,#646464 48%,#565656 52%,#595959 57%,#6c6c6c 62%,#8b8b8b 70%,#a5a5a5 80%,#b0b0b0 90%,#b4b4b4)"></i><i style="height:15.34px;background:linear-gradient(90deg,#bbbbbb,#b8b8b8 12%,#b1b1b1 25%,#a2a2a2 34%,#8a8a8a 41%,#6e6e6e 48%,#5e5e5e 52%,#626262 57%,#757575 62%,#959595 70%,#acacac 80%,#b6b6b6 90%,#b9b9b9)"></i><i style="height:15.34px;background:linear-gradient(90deg,#c0c0c0,#bfbfbf 12%,#bababa 25%,#b1b1b1 34%,#a1a1a1 41%,#8e8e8e 48%,#838383 52%,#858585 57%,#939393 62%,#a8a8a8 70%,#b8b8b8 80%,#bdbdbd 90%,#c0c0c0)"></i><i style="height:15.34px;background:linear-gradient(90deg,#c6c6c6,#c6c6c6 12%,#c4c4c4 25%,#c1c1c1 34%,#bbbbbb 41%,#b4b4b4 48%,#b0b0b0 52%,#b1b1b1 57%,#b6b6b6 62%,#bebebe 70%,#c3c3c3 80%,#c5c5c5 90%,#c6c6c6)"></i><i style="height:15.34px;background:linear-gradient(90deg,#c9c9c9,#c8c8c8 12%,#c7c7c7 25%,#c5c5c5 34%,#c2c2c2 41%,#bebebe 48%,#bcbcbc 52%,#bcbcbc 57%,#bfbfbf 62%,#c4c4c4 70%,#c7c7c7 80%,#c8c8c8 90%,#c9c9c9)"></i><i style="height:12px;background:linear-gradient(90deg,#cacaca,#cacaca 12%,#c9c9c9 25%,#c8c8c8 34%,#c5c5c5 41%,#c3c3c3 48%,#c1c1c1 52%,#c1c1c1 57%,#c3c3c3 62%,#c7c7c7 70%,#c9c9c9 80%,#cacaca 90%,#cacaca)"></i></div></div>
<div class="hm" style="left:1811.2px;top:1464.9px;width:85.0px;height:245.5px;"><div class="hi" style="top:-12px;filter:url(#vb2);"><i style="height:12px;background:linear-gradient(90deg,#898989,#808080 12%,#727272 25%,#666666 34%,#5d5d5d 41%,#575757 48%,#555555 52%,#565656 57%,#595959 62%,#616161 70%,#6e6e6e 80%,#7a7a7a 90%,#838383)"></i><i style="height:15.34px;background:linear-gradient(90deg,#8d8d8d,#838383 12%,#757575 25%,#696969 34%,#5f5f5f 41%,#595959 48%,#565656 52%,#575757 57%,#5a5a5a 62%,#636363 70%,#717171 80%,#7e7e7e 90%,#878787)"></i><i style="height:15.34px;background:linear-gradient(90deg,#959595,#8b8b8b 12%,#7c7c7c 25%,#6f6f6f 34%,#636363 41%,#5b5b5b 48%,#585858 52%,#595959 57%,#5d5d5d 62%,#676767 70%,#777777 80%,#858585 90%,#8f8f8f)"></i><i style="height:15.34px;background:linear-gradient(90deg,#9d9d9d,#949494 12%,#848484 25%,#757575 34%,#676767 41%,#5e5e5e 48%,#5a5a5a 52%,#5b5b5b 57%,#606060 62%,#6c6c6c 70%,#7f7f7f 80%,#8d8d8d 90%,#989898)"></i><i style="height:15.34px;background:linear-gradient(90deg,#a6a6a6,#9d9d9d 12%,#8c8c8c 25%,#7c7c7c 34%,#6c6c6c 41%,#616161 48%,#5d5d5d 52%,#5e5e5e 57%,#636363 62%,#727272 70%,#878787 80%,#969696 90%,#a0a0a0)"></i><i style="height:15.34px;background:linear-gradient(90deg,#aeaeae,#a6a6a6 12%,#959595 25%,#838383 34%,#717171 41%,#646464 48%,#5f5f5f 52%,#606060 57%,#676767 62%,#787878 70%,#8f8f8f 80%,#9f9f9f 90%,#a9a9a9)"></i><i style="height:15.34px;background:linear-gradient(90deg,#b4b4b4,#acacac 12%,#9c9c9c 25%,#8a8a8a 34%,#767676 41%,#676767 48%,#616161 52%,#626262 57%,#6b6b6b 62%,#7e7e7e 70%,#969696 80%,#a6a6a6 90%,#b0b0b0)"></i><i style="height:15.34px;background:linear-gradient(90deg,#b8b8b8,#b1b1b1 12%,#a2a2a2 25%,#909090 34%,#7b7b7b 41%,#6a6a6a 48%,#636363 52%,#656565 57%,#6e6e6e 62%,#838383 70%,#9c9c9c 80%,#acacac 90%,#b4b4b4)"></i><i style="height:15.34px;background:linear-gradient(90deg,#bdbdbd,#b6b6b6 12%,#a8a8a8 25%,#969696 34%,#808080 41%,#6d6d6d 48%,#656565 52%,#676767 57%,#727272 62%,#898989 70%,#a2a2a2 80%,#b1b1b1 90%,#b9b9b9)"></i><i style="height:15.34px;background:linear-gradient(90deg,#c1c1c1,#bbbbbb 12%,#aeaeae 25%,#9c9c9c 34%,#858585 41%,#717171 48%,#676767 52%,#696969 57%,#767676 62%,#8f8f8f 70%,#a9a9a9 80%,#b7b7b7 90%,#bebebe)"></i><i style="height:15.34px;background:linear-gradient(90deg,#c5c5c5,#c0c0c0 12%,#b5b5b5 25%,#a3a3a3 34%,#8b8b8b 41%,#747474 48%,#6a6a6a 52%,#6c6c6c 57%,#7a7a7a 62%,#969696 70%,#afafaf 80%,#bcbcbc 90%,#c2c2c2)"></i><i style="height:15.34px;background:linear-gradient(90deg,#c8c8c8,#c5c5c5 12%,#bbbbbb 25%,#ababab 34%,#949494 41%,#7d7d7d 48%,#717171 52%,#747474 57%,#838383 62%,#9e9e9e 70%,#b6b6b6 80%,#c1c1c1 90%,#c6c6c6)"></i><i style="height:15.34px;background:linear-gradient(90deg,#cccccc,#c9c9c9 12%,#c1c1c1 25%,#b3b3b3 34%,#9d9d9d 41%,#858585 48%,#797979 52%,#7c7c7c 57%,#8c8c8c 62%,#a7a7a7 70%,#bdbdbd 80%,#c6c6c6 90%,#cacaca)"></i><i style="height:15.34px;background:linear-gradient(90deg,#cfcfcf,#cdcdcd 12%,#c7c7c7 25%,#bababa 34%,#a6a6a6 41%,#8e8e8e 48%,#818181 52%,#848484 57%,#959595 62%,#afafaf 70%,#c3c3c3 80%,#cbcbcb 90%,#cecece)"></i><i style="height:15.34px;background:linear-gradient(90deg,#d4d4d4,#d2d2d2 12%,#cecece 25%,#c6c6c6 34%,#b9b9b9 41%,#a8a8a8 48%,#9f9f9f 52%,#a1a1a1 57%,#adadad 62%,#bfbfbf 70%,#cccccc 80%,#d1d1d1 90%,#d3d3d3)"></i><i style="height:15.34px;background:linear-gradient(90deg,#d8d8d8,#d8d8d8 12%,#d6d6d6 25%,#d3d3d3 34%,#cecece 41%,#c8c8c8 48%,#c4c4c4 52%,#c5c5c5 57%,#c9c9c9 62%,#d0d0d0 70%,#d5d5d5 80%,#d7d7d7 90%,#d8d8d8)"></i><i style="height:15.34px;background:linear-gradient(90deg,#dadada,#dadada 12%,#d9d9d9 25%,#d7d7d7 34%,#d4d4d4 41%,#d0d0d0 48%,#cdcdcd 52%,#cecece 57%,#d1d1d1 62%,#d5d5d5 70%,#d8d8d8 80%,#d9d9d9 90%,#dadada)"></i><i style="height:12px;background:linear-gradient(90deg,#dbdbdb,#dbdbdb 12%,#dadada 25%,#d9d9d9 34%,#d6d6d6 41%,#d4d4d4 48%,#d2d2d2 52%,#d2d2d2 57%,#d4d4d4 62%,#d8d8d8 70%,#dadada 80%,#dbdbdb 90%,#dbdbdb)"></i></div></div>
<div class="hm" style="left:118.1px;top:1819.8px;width:85.0px;height:245.4px;"><div class="hi" style="top:-12px;filter:url(#vb2);"><i style="height:12px;background:linear-gradient(90deg,#a9a9a9,#a9a9a9 12%,#a9a9a9 25%,#a9a9a9 29%,#a4a4a4 38%,#a3a3a3 39%,#9c9c9c 44%,#989898 46%,#909090 54%,#989898 61%,#a3a3a3 69%,#a9a9a9 79%,#a9a9a9 81%,#a9a9a9 84%,#a9a9a9 91%,#a9a9a9)"></i><i style="height:15.34px;background:linear-gradient(90deg,#ababab,#ababab 12%,#ababab 25%,#ababab 29%,#a7a7a7 38%,#a5a5a5 39%,#9f9f9f 44%,#9b9b9b 46%,#939393 54%,#9b9b9b 61%,#a5a5a5 69%,#ababab 79%,#ababab 81%,#ababab 84%,#ababab 91%,#ababab)"></i><i style="height:15.34px;background:linear-gradient(90deg,#afafaf,#afafaf 12%,#afafaf 25%,#afafaf 29%,#ababab 38%,#aaaaaa 39%,#a4a4a4 44%,#a0a0a0 46%,#9a9a9a 54%,#a0a0a0 61%,#aaaaaa 69%,#afafaf 79%,#afafaf 81%,#afafaf 84%,#afafaf 91%,#afafaf)"></i><i style="height:15.34px;background:linear-gradient(90deg,#b3b3b3,#b3b3b3 12%,#b3b3b3 25%,#b3b3b3 29%,#b0b0b0 38%,#afafaf 39%,#a9a9a9 44%,#a6a6a6 46%,#a1a1a1 54%,#a6a6a6 61%,#afafaf 69%,#b3b3b3 79%,#b3b3b3 81%,#b3b3b3 84%,#b3b3b3 91%,#b3b3b3)"></i><i style="height:15.34px;background:linear-gradient(90deg,#b7b7b7,#b7b7b7 12%,#b7b7b7 25%,#b7b7b7 29%,#b4b4b4 38%,#b3b3b3 39%,#afafaf 44%,#acacac 46%,#a8a8a8 54%,#acacac 61%,#b3b3b3 69%,#b7b7b7 79%,#b7b7b7 81%,#b7b7b7 84%,#b7b7b7 91%,#b7b7b7)"></i><i style="height:15.34px;background:linear-gradient(90deg,#bbbbbb,#bbbbbb 12%,#bbbbbb 25%,#bbbbbb 29%,#b9b9b9 38%,#b8b8b8 39%,#b4b4b4 44%,#b2b2b2 46%,#aeaeae 54%,#b2b2b2 61%,#b8b8b8 69%,#bbbbbb 79%,#bbbbbb 81%,#bbbbbb 84%,#bbbbbb 91%,#bbbbbb)"></i><i style="height:15.34px;background:linear-gradient(90deg,#bfbfbf,#bfbfbf 12%,#bfbfbf 25%,#bfbfbf 29%,#bdbdbd 38%,#bdbdbd 39%,#bababa 44%,#b8b8b8 46%,#b5b5b5 54%,#b8b8b8 61%,#bdbdbd 69%,#bfbfbf 79%,#bfbfbf 81%,#bfbfbf 84%,#bfbfbf 91%,#bfbfbf)"></i><i style="height:15.34px;background:linear-gradient(90deg,#c3c3c3,#c3c3c3 12%,#c3c3c3 25%,#c3c3c3 29%,#c2c2c2 38%,#c1c1c1 39%,#bfbfbf 44%,#bebebe 46%,#bcbcbc 54%,#bebebe 61%,#c1c1c1 69%,#c3c3c3 79%,#c3c3c3 81%,#c3c3c3 84%,#c3c3c3 91%,#c3c3c3)"></i><i style="height:15.34px;background:linear-gradient(90deg,#c7c7c7,#c7c7c7 12%,#c7c7c7 25%,#c7c7c7 29%,#c6c6c6 38%,#c6c6c6 39%,#c5c5c5 44%,#c4c4c4 46%,#c3c3c3 54%,#c4c4c4 61%,#c6c6c6 69%,#c7c7c7 79%,#c7c7c7 81%,#c7c7c7 84%,#c7c7c7 91%,#c7c7c7)"></i><i style="height:15.34px;background:linear-gradient(90deg,#cacaca,#cacaca 12%,#cacaca 25%,#cacaca 29%,#c9c9c9 38%,#c9c9c9 39%,#c8c8c8 44%,#c8c8c8 46%,#c7c7c7 54%,#c8c8c8 61%,#c9c9c9 69%,#cacaca 79%,#cacaca 81%,#cacaca 84%,#cacaca 91%,#cacaca)"></i><i style="height:15.34px;background:linear-gradient(90deg,#cbcbcb,#cbcbcb 12%,#cbcbcb 25%,#cbcbcb 29%,#cbcbcb 38%,#cbcbcb 39%,#cacaca 44%,#cacaca 46%,#c9c9c9 54%,#cacaca 61%,#cbcbcb 69%,#cbcbcb 79%,#cbcbcb 81%,#cbcbcb 84%,#cbcbcb 91%,#cbcbcb)"></i><i style="height:15.34px;background:linear-gradient(90deg,#cdcdcd,#cdcdcd 12%,#cdcdcd 25%,#cdcdcd 29%,#cccccc 38%,#cccccc 39%,#cccccc 44%,#cbcbcb 46%,#cbcbcb 54%,#cbcbcb 61%,#cccccc 69%,#cdcdcd 79%,#cdcdcd 81%,#cdcdcd 84%,#cdcdcd 91%,#cdcdcd)"></i><i style="height:15.34px;background:linear-gradient(90deg,#cecece,#cecece 12%,#cecece 25%,#cecece 29%,#cecece 38%,#cecece 39%,#cdcdcd 44%,#cdcdcd 46%,#cdcdcd 54%,#cdcdcd 61%,#cecece 69%,#cecece 79%,#cecece 81%,#cecece 84%,#cecece 91%,#cecece)"></i><i style="height:15.34px;background:linear-gradient(90deg,#d0d0d0,#d0d0d0 12%,#d0d0d0 25%,#d0d0d0 29%,#d0d0d0 38%,#cfcfcf 39%,#cfcfcf 44%,#cfcfcf 46%,#cecece 54%,#cfcfcf 61%,#cfcfcf 69%,#d0d0d0 79%,#d0d0d0 81%,#d0d0d0 84%,#d0d0d0 91%,#d0d0d0)"></i><i style="height:15.34px;background:linear-gradient(90deg,#d1d1d1,#d1d1d1 12%,#d1d1d1 25%,#d1d1d1 29%,#d1d1d1 38%,#d1d1d1 39%,#d1d1d1 44%,#d1d1d1 46%,#d0d0d0 54%,#d1d1d1 61%,#d1d1d1 69%,#d1d1d1 79%,#d1d1d1 81%,#d1d1d1 84%,#d1d1d1 91%,#d1d1d1)"></i><i style="height:15.34px;background:linear-gradient(90deg,#d3d3d3,#d3d3d3 12%,#d3d3d3 25%,#d3d3d3 29%,#d3d3d3 38%,#d3d3d3 39%,#d2d2d2 44%,#d2d2d2 46%,#d2d2d2 54%,#d2d2d2 61%,#d3d3d3 69%,#d3d3d3 79%,#d3d3d3 81%,#d3d3d3 84%,#d3d3d3 91%,#d3d3d3)"></i><i style="height:15.34px;background:linear-gradient(90deg,#d4d4d4,#d4d4d4 12%,#d4d4d4 25%,#d4d4d4 29%,#d4d4d4 38%,#d4d4d4 39%,#d4d4d4 44%,#d4d4d4 46%,#d4d4d4 54%,#d4d4d4 61%,#d4d4d4 69%,#d4d4d4 79%,#d4d4d4 81%,#d4d4d4 84%,#d4d4d4 91%,#d4d4d4)"></i><i style="height:12px;background:linear-gradient(90deg,#d5d5d5,#d5d5d5 12%,#d5d5d5 25%,#d5d5d5 29%,#d5d5d5 38%,#d5d5d5 39%,#d5d5d5 44%,#d5d5d5 46%,#d5d5d5 54%,#d5d5d5 61%,#d5d5d5 69%,#d5d5d5 79%,#d5d5d5 81%,#d5d5d5 84%,#d5d5d5 91%,#d5d5d5)"></i></div></div>
<div class="hm" style="left:212.2px;top:1819.8px;width:85.0px;height:245.4px;"><div class="hi" style="top:-12px;filter:url(#vb2);"><i style="height:12px;background:linear-gradient(90deg,#cfcfcf,#cfcfcf 12%,#cfcfcf 25%,#cfcfcf 38%,#cfcfcf 44%,#cfcfcf 46%,#cecece 49%,#cccccc 52%,#cbcbcb 54%,#cccccc 56%,#cecece 58%,#cfcfcf 61%,#cfcfcf 66%,#cfcfcf 69%,#cfcfcf 81%,#cfcfcf 91%,#cfcfcf)"></i><i style="height:15.34px;background:linear-gradient(90deg,#cfcfcf,#cfcfcf 12%,#cfcfcf 25%,#cfcfcf 38%,#cfcfcf 44%,#cfcfcf 46%,#cecece 49%,#cccccc 52%,#cbcbcb 54%,#cccccc 56%,#cecece 58%,#cfcfcf 61%,#cfcfcf 66%,#cfcfcf 69%,#cfcfcf 81%,#cfcfcf 91%,#cfcfcf)"></i><i style="height:15.34px;background:linear-gradient(90deg,#d0d0d0,#d0d0d0 12%,#d0d0d0 25%,#d0d0d0 38%,#d0d0d0 44%,#cfcfcf 46%,#cfcfcf 49%,#cdcdcd 52%,#cccccc 54%,#cdcdcd 56%,#cfcfcf 58%,#cfcfcf 61%,#d0d0d0 66%,#d0d0d0 69%,#d0d0d0 81%,#d0d0d0 91%,#d0d0d0)"></i><i style="height:15.34px;background:linear-gradient(90deg,#d0d0d0,#d0d0d0 12%,#d0d0d0 25%,#d0d0d0 38%,#d0d0d0 44%,#d0d0d0 46%,#cfcfcf 49%,#cdcdcd 52%,#cccccc 54%,#cdcdcd 56%,#cfcfcf 58%,#d0d0d0 61%,#d0d0d0 66%,#d0d0d0 69%,#d0d0d0 81%,#d0d0d0 91%,#d0d0d0)"></i><i style="height:15.34px;background:linear-gradient(90deg,#d0d0d0,#d0d0d0 12%,#d0d0d0 25%,#d0d0d0 38%,#d0d0d0 44%,#d0d0d0 46%,#cfcfcf 49%,#cecece 52%,#cccccc 54%,#cecece 56%,#cfcfcf 58%,#d0d0d0 61%,#d0d0d0 66%,#d0d0d0 69%,#d0d0d0 81%,#d0d0d0 91%,#d0d0d0)"></i><i style="height:15.34px;background:linear-gradient(90deg,#d1d1d1,#d1d1d1 12%,#d1d1d1 25%,#d1d1d1 38%,#d1d1d1 44%,#d1d1d1 46%,#d0d0d0 49%,#cecece 52%,#cdcdcd 54%,#cecece 56%,#d0d0d0 58%,#d1d1d1 61%,#d1d1d1 66%,#d1d1d1 69%,#d1d1d1 81%,#d1d1d1 91%,#d1d1d1)"></i><i style="height:15.34px;background:linear-gradient(90deg,#d1d1d1,#d1d1d1 12%,#d1d1d1 25%,#d1d1d1 38%,#d1d1d1 44%,#d1d1d1 46%,#d0d0d0 49%,#cecece 52%,#cdcdcd 54%,#cecece 56%,#d0d0d0 58%,#d1d1d1 61%,#d1d1d1 66%,#d1d1d1 69%,#d1d1d1 81%,#d1d1d1 91%,#d1d1d1)"></i><i style="height:15.34px;background:linear-gradient(90deg,#d1d1d1,#d1d1d1 12%,#d1d1d1 25%,#d1d1d1 38%,#d1d1d1 44%,#d1d1d1 46%,#d0d0d0 49%,#cfcfcf 52%,#cdcdcd 54%,#cfcfcf 56%,#d0d0d0 58%,#d1d1d1 61%,#d1d1d1 66%,#d1d1d1 69%,#d1d1d1 81%,#d1d1d1 91%,#d1d1d1)"></i><i style="height:15.34px;background:linear-gradient(90deg,#d2d2d2,#d2d2d2 12%,#d2d2d2 25%,#d2d2d2 38%,#d2d2d2 44%,#d2d2d2 46%,#d1d1d1 49%,#cfcfcf 52%,#cecece 54%,#cfcfcf 56%,#d1d1d1 58%,#d2d2d2 61%,#d2d2d2 66%,#d2d2d2 69%,#d2d2d2 81%,#d2d2d2 91%,#d2d2d2)"></i><i style="height:15.34px;background:linear-gradient(90deg,#d2d2d2,#d2d2d2 12%,#d2d2d2 25%,#d2d2d2 38%,#d2d2d2 44%,#d2d2d2 46%,#d1d1d1 49%,#cfcfcf 52%,#cecece 54%,#cfcfcf 56%,#d1d1d1 58%,#d2d2d2 61%,#d2d2d2 66%,#d2d2d2 69%,#d2d2d2 81%,#d2d2d2 91%,#d2d2d2)"></i><i style="height:15.34px;background:linear-gradient(90deg,#d3d3d3,#d3d3d3 12%,#d3d3d3 25%,#d3d3d3 38%,#d3d3d3 44%,#d2d2d2 46%,#d2d2d2 49%,#d0d0d0 52%,#cfcfcf 54%,#d0d0d0 56%,#d2d2d2 58%,#d2d2d2 61%,#d3d3d3 66%,#d3d3d3 69%,#d3d3d3 81%,#d3d3d3 91%,#d3d3d3)"></i><i style="height:15.34px;background:linear-gradient(90deg,#d3d3d3,#d3d3d3 12%,#d3d3d3 25%,#d3d3d3 38%,#d3d3d3 44%,#d3d3d3 46%,#d2d2d2 49%,#d0d0d0 52%,#cfcfcf 54%,#d0d0d0 56%,#d2d2d2 58%,#d3d3d3 61%,#d3d3d3 66%,#d3d3d3 69%,#d3d3d3 81%,#d3d3d3 91%,#d3d3d3)"></i><i style="height:15.34px;background:linear-gradient(90deg,#d3d3d3,#d3d3d3 12%,#d3d3d3 25%,#d3d3d3 38%,#d3d3d3 44%,#d3d3d3 46%,#d2d2d2 49%,#d1d1d1 52%,#cfcfcf 54%,#d1d1d1 56%,#d2d2d2 58%,#d3d3d3 61%,#d3d3d3 66%,#d3d3d3 69%,#d3d3d3 81%,#d3d3d3 91%,#d3d3d3)"></i><i style="height:15.34px;background:linear-gradient(90deg,#d4d4d4,#d4d4d4 12%,#d4d4d4 25%,#d4d4d4 38%,#d4d4d4 44%,#d4d4d4 46%,#d3d3d3 49%,#d1d1d1 52%,#d0d0d0 54%,#d1d1d1 56%,#d3d3d3 58%,#d4d4d4 61%,#d4d4d4 66%,#d4d4d4 69%,#d4d4d4 81%,#d4d4d4 91%,#d4d4d4)"></i><i style="height:15.34px;background:linear-gradient(90deg,#d4d4d4,#d4d4d4 12%,#d4d4d4 25%,#d4d4d4 38%,#d4d4d4 44%,#d4d4d4 46%,#d3d3d3 49%,#d1d1d1 52%,#d0d0d0 54%,#d1d1d1 56%,#d3d3d3 58%,#d4d4d4 61%,#d4d4d4 66%,#d4d4d4 69%,#d4d4d4 81%,#d4d4d4 91%,#d4d4d4)"></i><i style="height:15.34px;background:linear-gradient(90deg,#d4d4d4,#d4d4d4 12%,#d4d4d4 25%,#d4d4d4 38%,#d4d4d4 44%,#d4d4d4 46%,#d3d3d3 49%,#d2d2d2 52%,#d0d0d0 54%,#d2d2d2 56%,#d3d3d3 58%,#d4d4d4 61%,#d4d4d4 66%,#d4d4d4 69%,#d4d4d4 81%,#d4d4d4 91%,#d4d4d4)"></i><i style="height:15.34px;background:linear-gradient(90deg,#d5d5d5,#d5d5d5 12%,#d5d5d5 25%,#d5d5d5 38%,#d5d5d5 44%,#d5d5d5 46%,#d4d4d4 49%,#d2d2d2 52%,#d1d1d1 54%,#d2d2d2 56%,#d4d4d4 58%,#d5d5d5 61%,#d5d5d5 66%,#d5d5d5 69%,#d5d5d5 81%,#d5d5d5 91%,#d5d5d5)"></i><i style="height:12px;background:linear-gradient(90deg,#d5d5d5,#d5d5d5 12%,#d5d5d5 25%,#d5d5d5 38%,#d5d5d5 44%,#d5d5d5 46%,#d4d4d4 49%,#d2d2d2 52%,#d1d1d1 54%,#d2d2d2 56%,#d4d4d4 58%,#d5d5d5 61%,#d5d5d5 66%,#d5d5d5 69%,#d5d5d5 81%,#d5d5d5 91%,#d5d5d5)"></i></div></div>
<div class="hm" style="left:306.2px;top:1819.8px;width:85.0px;height:245.4px;"><div class="hi" style="top:-12px;filter:url(#vb2);"><i style="height:12px;background:linear-gradient(90deg,#dfdfdf,#dfdfdf 12%,#dfdfdf 25%,#dfdfdf 38%,#dfdfdf 44%,#dfdfdf 46%,#dedede 49%,#dcdcdc 52%,#dbdbdb 54%,#dcdcdc 56%,#dedede 58%,#dfdfdf 61%,#dfdfdf 66%,#dfdfdf 69%,#dfdfdf 81%,#dfdfdf 91%,#dfdfdf)"></i><i style="height:15.34px;background:linear-gradient(90deg,#dfdfdf,#dfdfdf 12%,#dfdfdf 25%,#dfdfdf 38%,#dfdfdf 44%,#dfdfdf 46%,#dedede 49%,#dcdcdc 52%,#dbdbdb 54%,#dcdcdc 56%,#dedede 58%,#dfdfdf 61%,#dfdfdf 66%,#dfdfdf 69%,#dfdfdf 81%,#dfdfdf 91%,#dfdfdf)"></i><i style="height:15.34px;background:linear-gradient(90deg,#dfdfdf,#dfdfdf 12%,#dfdfdf 25%,#dfdfdf 38%,#dfdfdf 44%,#dfdfdf 46%,#dedede 49%,#dcdcdc 52%,#dbdbdb 54%,#dcdcdc 56%,#dedede 58%,#dfdfdf 61%,#dfdfdf 66%,#dfdfdf 69%,#dfdfdf 81%,#dfdfdf 91%,#dfdfdf)"></i><i style="height:15.34px;background:linear-gradient(90deg,#dfdfdf,#dfdfdf 12%,#dfdfdf 25%,#dfdfdf 38%,#dfdfdf 44%,#dfdfdf 46%,#dedede 49%,#dddddd 52%,#dbdbdb 54%,#dddddd 56%,#dedede 58%,#dfdfdf 61%,#dfdfdf 66%,#dfdfdf 69%,#dfdfdf 81%,#dfdfdf 91%,#dfdfdf)"></i><i style="height:15.34px;background:linear-gradient(90deg,#dfdfdf,#dfdfdf 12%,#dfdfdf 25%,#dfdfdf 38%,#dfdfdf 44%,#dfdfdf 46%,#dedede 49%,#dddddd 52%,#dbdbdb 54%,#dddddd 56%,#dedede 58%,#dfdfdf 61%,#dfdfdf 66%,#dfdfdf 69%,#dfdfdf 81%,#dfdfdf 91%,#dfdfdf)"></i><i style="height:15.34px;background:linear-gradient(90deg,#e0e0e0,#e0e0e0 12%,#e0e0e0 25%,#e0e0e0 38%,#e0e0e0 44%,#dfdfdf 46%,#dfdfdf 49%,#dddddd 52%,#dcdcdc 54%,#dddddd 56%,#dfdfdf 58%,#dfdfdf 61%,#e0e0e0 66%,#e0e0e0 69%,#e0e0e0 81%,#e0e0e0 91%,#e0e0e0)"></i><i style="height:15.34px;background:linear-gradient(90deg,#e0e0e0,#e0e0e0 12%,#e0e0e0 25%,#e0e0e0 38%,#e0e0e0 44%,#e0e0e0 46%,#dfdfdf 49%,#dddddd 52%,#dcdcdc 54%,#dddddd 56%,#dfdfdf 58%,#e0e0e0 61%,#e0e0e0 66%,#e0e0e0 69%,#e0e0e0 81%,#e0e0e0 91%,#e0e0e0)"></i><i style="height:15.34px;background:linear-gradient(90deg,#e0e0e0,#e0e0e0 12%,#e0e0e0 25%,#e0e0e0 38%,#e0e0e0 44%,#e0e0e0 46%,#dfdfdf 49%,#dddddd 52%,#dcdcdc 54%,#dddddd 56%,#dfdfdf 58%,#e0e0e0 61%,#e0e0e0 66%,#e0e0e0 69%,#e0e0e0 81%,#e0e0e0 91%,#e0e0e0)"></i><i style="height:15.34px;background:linear-gradient(90deg,#e0e0e0,#e0e0e0 12%,#e0e0e0 25%,#e0e0e0 38%,#e0e0e0 44%,#e0e0e0 46%,#dfdfdf 49%,#dddddd 52%,#dcdcdc 54%,#dddddd 56%,#dfdfdf 58%,#e0e0e0 61%,#e0e0e0 66%,#e0e0e0 69%,#e0e0e0 81%,#e0e0e0 91%,#e0e0e0)"></i><i style="height:15.34px;background:linear-gradient(90deg,#e0e0e0,#e0e0e0 12%,#e0e0e0 25%,#e0e0e0 38%,#e0e0e0 44%,#e0e0e0 46%,#dfdfdf 49%,#dddddd 52%,#dcdcdc 54%,#dddddd 56%,#dfdfdf 58%,#e0e0e0 61%,#e0e0e0 66%,#e0e0e0 69%,#e0e0e0 81%,#e0e0e0 91%,#e0e0e0)"></i><i style="height:15.34px;background:linear-gradient(90deg,#e0e0e0,#e0e0e0 12%,#e0e0e0 25%,#e0e0e0 38%,#e0e0e0 44%,#e0e0e0 46%,#dfdfdf 49%,#dddddd 52%,#dcdcdc 54%,#dddddd 56%,#dfdfdf 58%,#e0e0e0 61%,#e0e0e0 66%,#e0e0e0 69%,#e0e0e0 81%,#e0e0e0 91%,#e0e0e0)"></i><i style="height:15.34px;background:linear-gradient(90deg,#e0e0e0,#e0e0e0 12%,#e0e0e0 25%,#e0e0e0 38%,#e0e0e0 44%,#e0e0e0 46%,#dfdfdf 49%,#dedede 52%,#dcdcdc 54%,#dedede 56%,#dfdfdf 58%,#e0e0e0 61%,#e0e0e0 66%,#e0e0e0 69%,#e0e0e0 81%,#e0e0e0 91%,#e0e0e0)"></i><i style="height:15.34px;background:linear-gradient(90deg,#e0e0e0,#e0e0e0 12%,#e0e0e0 25%,#e0e0e0 38%,#e0e0e0 44%,#e0e0e0 46%,#dfdfdf 49%,#dedede 52%,#dcdcdc 54%,#dedede 56%,#dfdfdf 58%,#e0e0e0 61%,#e0e0e0 66%,#e0e0e0 69%,#e0e0e0 81%,#e0e0e0 91%,#e0e0e0)"></i><i style="height:15.34px;background:linear-gradient(90deg,#e1e1e1,#e1e1e1 12%,#e1e1e1 25%,#e1e1e1 38%,#e1e1e1 44%,#e0e0e0 46%,#e0e0e0 49%,#dedede 52%,#dddddd 54%,#dedede 56%,#e0e0e0 58%,#e0e0e0 61%,#e1e1e1 66%,#e1e1e1 69%,#e1e1e1 81%,#e1e1e1 91%,#e1e1e1)"></i><i style="height:15.34px;background:linear-gradient(90deg,#e1e1e1,#e1e1e1 12%,#e1e1e1 25%,#e1e1e1 38%,#e1e1e1 44%,#e1e1e1 46%,#e0e0e0 49%,#dedede 52%,#dddddd 54%,#dedede 56%,#e0e0e0 58%,#e1e1e1 61%,#e1e1e1 66%,#e1e1e1 69%,#e1e1e1 81%,#e1e1e1 91%,#e1e1e1)"></i><i style="height:15.34px;background:linear-gradient(90deg,#e1e1e1,#e1e1e1 12%,#e1e1e1 25%,#e1e1e1 38%,#e1e1e1 44%,#e1e1e1 46%,#e0e0e0 49%,#dedede 52%,#dddddd 54%,#dedede 56%,#e0e0e0 58%,#e1e1e1 61%,#e1e1e1 66%,#e1e1e1 69%,#e1e1e1 81%,#e1e1e1 91%,#e1e1e1)"></i><i style="height:15.34px;background:linear-gradient(90deg,#e1e1e1,#e1e1e1 12%,#e1e1e1 25%,#e1e1e1 38%,#e1e1e1 44%,#e1e1e1 46%,#e0e0e0 49%,#dedede 52%,#dddddd 54%,#dedede 56%,#e0e0e0 58%,#e1e1e1 61%,#e1e1e1 66%,#e1e1e1 69%,#e1e1e1 81%,#e1e1e1 91%,#e1e1e1)"></i><i style="height:12px;background:linear-gradient(90deg,#e1e1e1,#e1e1e1 12%,#e1e1e1 25%,#e1e1e1 38%,#e1e1e1 44%,#e1e1e1 46%,#e0e0e0 49%,#dedede 52%,#dddddd 54%,#dedede 56%,#e0e0e0 58%,#e1e1e1 61%,#e1e1e1 66%,#e1e1e1 69%,#e1e1e1 81%,#e1e1e1 91%,#e1e1e1)"></i></div></div>
<div class="hm" style="left:400.3px;top:1819.8px;width:85.0px;height:245.4px;"><div class="hi" style="top:-12px;filter:url(#vb2);"><i style="height:12px;background:linear-gradient(90deg,#e2e2e2,#e2e2e2 12%,#e2e2e2 25%,#e2e2e2 38%,#e2e2e2 44%,#e2e2e2 46%,#e1e1e1 49%,#dfdfdf 52%,#dddddd 54%,#dfdfdf 56%,#e1e1e1 58%,#e2e2e2 61%,#e2e2e2 66%,#e2e2e2 69%,#e2e2e2 81%,#e2e2e2 91%,#e2e2e2)"></i><i style="height:15.34px;background:linear-gradient(90deg,#e2e2e2,#e2e2e2 12%,#e2e2e2 25%,#e2e2e2 38%,#e2e2e2 44%,#e2e2e2 46%,#e1e1e1 49%,#dfdfdf 52%,#dddddd 54%,#dfdfdf 56%,#e1e1e1 58%,#e2e2e2 61%,#e2e2e2 66%,#e2e2e2 69%,#e2e2e2 81%,#e2e2e2 91%,#e2e2e2)"></i><i style="height:15.34px;background:linear-gradient(90deg,#e2e2e2,#e2e2e2 12%,#e2e2e2 25%,#e2e2e2 38%,#e2e2e2 44%,#e2e2e2 46%,#e1e1e1 49%,#dfdfdf 52%,#dddddd 54%,#dfdfdf 56%,#e1e1e1 58%,#e2e2e2 61%,#e2e2e2 66%,#e2e2e2 69%,#e2e2e2 81%,#e2e2e2 91%,#e2e2e2)"></i><i style="height:15.34px;background:linear-gradient(90deg,#e2e2e2,#e2e2e2 12%,#e2e2e2 25%,#e2e2e2 38%,#e2e2e2 44%,#e2e2e2 46%,#e1e1e1 49%,#dfdfdf 52%,#dddddd 54%,#dfdfdf 56%,#e1e1e1 58%,#e2e2e2 61%,#e2e2e2 66%,#e2e2e2 69%,#e2e2e2 81%,#e2e2e2 91%,#e2e2e2)"></i><i style="height:15.34px;background:linear-gradient(90deg,#e2e2e2,#e2e2e2 12%,#e2e2e2 25%,#e2e2e2 38%,#e2e2e2 44%,#e2e2e2 46%,#e1e1e1 49%,#dfdfdf 52%,#dddddd 54%,#dfdfdf 56%,#e1e1e1 58%,#e2e2e2 61%,#e2e2e2 66%,#e2e2e2 69%,#e2e2e2 81%,#e2e2e2 91%,#e2e2e2)"></i><i style="height:15.34px;background:linear-gradient(90deg,#e3e3e3,#e3e3e3 12%,#e3e3e3 25%,#e3e3e3 38%,#e3e3e3 44%,#e2e2e2 46%,#e1e1e1 49%,#dfdfdf 52%,#dedede 54%,#dfdfdf 56%,#e1e1e1 58%,#e2e2e2 61%,#e3e3e3 66%,#e3e3e3 69%,#e3e3e3 81%,#e3e3e3 91%,#e3e3e3)"></i><i style="height:15.34px;background:linear-gradient(90deg,#e3e3e3,#e3e3e3 12%,#e3e3e3 25%,#e3e3e3 38%,#e3e3e3 44%,#e3e3e3 46%,#e2e2e2 49%,#dfdfdf 52%,#dedede 54%,#dfdfdf 56%,#e2e2e2 58%,#e3e3e3 61%,#e3e3e3 66%,#e3e3e3 69%,#e3e3e3 81%,#e3e3e3 91%,#e3e3e3)"></i><i style="height:15.34px;background:linear-gradient(90deg,#e3e3e3,#e3e3e3 12%,#e3e3e3 25%,#e3e3e3 38%,#e3e3e3 44%,#e3e3e3 46%,#e2e2e2 49%,#dfdfdf 52%,#dedede 54%,#dfdfdf 56%,#e2e2e2 58%,#e3e3e3 61%,#e3e3e3 66%,#e3e3e3 69%,#e3e3e3 81%,#e3e3e3 91%,#e3e3e3)"></i><i style="height:15.34px;background:linear-gradient(90deg,#e3e3e3,#e3e3e3 12%,#e3e3e3 25%,#e3e3e3 38%,#e3e3e3 44%,#e3e3e3 46%,#e2e2e2 49%,#dfdfdf 52%,#dedede 54%,#dfdfdf 56%,#e2e2e2 58%,#e3e3e3 61%,#e3e3e3 66%,#e3e3e3 69%,#e3e3e3 81%,#e3e3e3 91%,#e3e3e3)"></i><i style="height:15.34px;background:linear-gradient(90deg,#e3e3e3,#e3e3e3 12%,#e3e3e3 25%,#e3e3e3 38%,#e3e3e3 44%,#e3e3e3 46%,#e2e2e2 49%,#e0e0e0 52%,#dedede 54%,#e0e0e0 56%,#e2e2e2 58%,#e3e3e3 61%,#e3e3e3 66%,#e3e3e3 69%,#e3e3e3 81%,#e3e3e3 91%,#e3e3e3)"></i><i style="height:15.34px;background:linear-gradient(90deg,#e3e3e3,#e3e3e3 12%,#e3e3e3 25%,#e3e3e3 38%,#e3e3e3 44%,#e3e3e3 46%,#e2e2e2 49%,#e0e0e0 52%,#dedede 54%,#e0e0e0 56%,#e2e2e2 58%,#e3e3e3 61%,#e3e3e3 66%,#e3e3e3 69%,#e3e3e3 81%,#e3e3e3 91%,#e3e3e3)"></i><i style="height:15.34px;background:linear-gradient(90deg,#e3e3e3,#e3e3e3 12%,#e3e3e3 25%,#e3e3e3 38%,#e3e3e3 44%,#e3e3e3 46%,#e2e2e2 49%,#e0e0e0 52%,#dedede 54%,#e0e0e0 56%,#e2e2e2 58%,#e3e3e3 61%,#e3e3e3 66%,#e3e3e3 69%,#e3e3e3 81%,#e3e3e3 91%,#e3e3e3)"></i><i style="height:15.34px;background:linear-gradient(90deg,#e3e3e3,#e3e3e3 12%,#e3e3e3 25%,#e3e3e3 38%,#e3e3e3 44%,#e3e3e3 46%,#e2e2e2 49%,#e0e0e0 52%,#dedede 54%,#e0e0e0 56%,#e2e2e2 58%,#e3e3e3 61%,#e3e3e3 66%,#e3e3e3 69%,#e3e3e3 81%,#e3e3e3 91%,#e3e3e3)"></i><i style="height:15.34px;background:linear-gradient(90deg,#e4e4e4,#e4e4e4 12%,#e4e4e4 25%,#e4e4e4 38%,#e4e4e4 44%,#e3e3e3 46%,#e2e2e2 49%,#e0e0e0 52%,#dfdfdf 54%,#e0e0e0 56%,#e2e2e2 58%,#e3e3e3 61%,#e4e4e4 66%,#e4e4e4 69%,#e4e4e4 81%,#e4e4e4 91%,#e4e4e4)"></i><i style="height:15.34px;background:linear-gradient(90deg,#e4e4e4,#e4e4e4 12%,#e4e4e4 25%,#e4e4e4 38%,#e4e4e4 44%,#e4e4e4 46%,#e3e3e3 49%,#e0e0e0 52%,#dfdfdf 54%,#e0e0e0 56%,#e3e3e3 58%,#e4e4e4 61%,#e4e4e4 66%,#e4e4e4 69%,#e4e4e4 81%,#e4e4e4 91%,#e4e4e4)"></i><i style="height:15.34px;background:linear-gradient(90deg,#e4e4e4,#e4e4e4 12%,#e4e4e4 25%,#e4e4e4 38%,#e4e4e4 44%,#e4e4e4 46%,#e3e3e3 49%,#e0e0e0 52%,#dfdfdf 54%,#e0e0e0 56%,#e3e3e3 58%,#e4e4e4 61%,#e4e4e4 66%,#e4e4e4 69%,#e4e4e4 81%,#e4e4e4 91%,#e4e4e4)"></i><i style="height:15.34px;background:linear-gradient(90deg,#e4e4e4,#e4e4e4 12%,#e4e4e4 25%,#e4e4e4 38%,#e4e4e4 44%,#e4e4e4 46%,#e3e3e3 49%,#e0e0e0 52%,#dfdfdf 54%,#e0e0e0 56%,#e3e3e3 58%,#e4e4e4 61%,#e4e4e4 66%,#e4e4e4 69%,#e4e4e4 81%,#e4e4e4 91%,#e4e4e4)"></i><i style="height:12px;background:linear-gradient(90deg,#e4e4e4,#e4e4e4 12%,#e4e4e4 25%,#e4e4e4 38%,#e4e4e4 44%,#e4e4e4 46%,#e3e3e3 49%,#e1e1e1 52%,#dfdfdf 54%,#e1e1e1 56%,#e3e3e3 58%,#e4e4e4 61%,#e4e4e4 66%,#e4e4e4 69%,#e4e4e4 81%,#e4e4e4 91%,#e4e4e4)"></i></div></div>
<div class="hm" style="left:494.3px;top:1819.8px;width:85.0px;height:245.4px;"><div class="hi" style="top:-12px;filter:url(#vb2);"><i style="height:12px;background:linear-gradient(90deg,#e3e3e3,#e3e3e3 12%,#e3e3e3 25%,#e3e3e3 38%,#e3e3e3 44%,#e3e3e3 46%,#e2e2e2 49%,#e1e1e1 52%,#e0e0e0 54%,#e1e1e1 56%,#e2e2e2 58%,#e3e3e3 61%,#e3e3e3 66%,#e3e3e3 69%,#e3e3e3 81%,#e3e3e3 91%,#e3e3e3)"></i><i style="height:15.34px;background:linear-gradient(90deg,#e3e3e3,#e3e3e3 12%,#e3e3e3 25%,#e3e3e3 38%,#e3e3e3 44%,#e3e3e3 46%,#e2e2e2 49%,#e1e1e1 52%,#e0e0e0 54%,#e1e1e1 56%,#e2e2e2 58%,#e3e3e3 61%,#e3e3e3 66%,#e3e3e3 69%,#e3e3e3 81%,#e3e3e3 91%,#e3e3e3)"></i><i style="height:15.34px;background:linear-gradient(90deg,#e3e3e3,#e3e3e3 12%,#e3e3e3 25%,#e3e3e3 38%,#e3e3e3 44%,#e3e3e3 46%,#e2e2e2 49%,#e1e1e1 52%,#e0e0e0 54%,#e1e1e1 56%,#e2e2e2 58%,#e3e3e3 61%,#e3e3e3 66%,#e3e3e3 69%,#e3e3e3 81%,#e3e3e3 91%,#e3e3e3)"></i><i style="height:15.34px;background:linear-gradient(90deg,#e3e3e3,#e3e3e3 12%,#e3e3e3 25%,#e3e3e3 38%,#e3e3e3 44%,#e3e3e3 46%,#e3e3e3 49%,#e1e1e1 52%,#e0e0e0 54%,#e1e1e1 56%,#e3e3e3 58%,#e3e3e3 61%,#e3e3e3 66%,#e3e3e3 69%,#e3e3e3 81%,#e3e3e3 91%,#e3e3e3)"></i><i style="height:15.34px;background:linear-gradient(90deg,#e3e3e3,#e3e3e3 12%,#e3e3e3 25%,#e3e3e3 38%,#e3e3e3 44%,#e3e3e3 46%,#e3e3e3 49%,#e1e1e1 52%,#e0e0e0 54%,#e1e1e1 56%,#e3e3e3 58%,#e3e3e3 61%,#e3e3e3 66%,#e3e3e3 69%,#e3e3e3 81%,#e3e3e3 91%,#e3e3e3)"></i><i style="height:15.34px;background:linear-gradient(90deg,#e4e4e4,#e4e4e4 12%,#e4e4e4 25%,#e4e4e4 38%,#e4e4e4 44%,#e4e4e4 46%,#e3e3e3 49%,#e1e1e1 52%,#e1e1e1 54%,#e1e1e1 56%,#e3e3e3 58%,#e4e4e4 61%,#e4e4e4 66%,#e4e4e4 69%,#e4e4e4 81%,#e4e4e4 91%,#e4e4e4)"></i><i style="height:15.34px;background:linear-gradient(90deg,#e4e4e4,#e4e4e4 12%,#e4e4e4 25%,#e4e4e4 38%,#e4e4e4 44%,#e4e4e4 46%,#e3e3e3 49%,#e2e2e2 52%,#e1e1e1 54%,#e2e2e2 56%,#e3e3e3 58%,#e4e4e4 61%,#e4e4e4 66%,#e4e4e4 69%,#e4e4e4 81%,#e4e4e4 91%,#e4e4e4)"></i><i style="height:15.34px;background:linear-gradient(90deg,#e4e4e4,#e4e4e4 12%,#e4e4e4 25%,#e4e4e4 38%,#e4e4e4 44%,#e4e4e4 46%,#e3e3e3 49%,#e2e2e2 52%,#e1e1e1 54%,#e2e2e2 56%,#e3e3e3 58%,#e4e4e4 61%,#e4e4e4 66%,#e4e4e4 69%,#e4e4e4 81%,#e4e4e4 91%,#e4e4e4)"></i><i style="height:15.34px;background:linear-gradient(90deg,#e4e4e4,#e4e4e4 12%,#e4e4e4 25%,#e4e4e4 38%,#e4e4e4 44%,#e4e4e4 46%,#e3e3e3 49%,#e2e2e2 52%,#e1e1e1 54%,#e2e2e2 56%,#e3e3e3 58%,#e4e4e4 61%,#e4e4e4 66%,#e4e4e4 69%,#e4e4e4 81%,#e4e4e4 91%,#e4e4e4)"></i><i style="height:15.34px;background:linear-gradient(90deg,#e4e4e4,#e4e4e4 12%,#e4e4e4 25%,#e4e4e4 38%,#e4e4e4 44%,#e4e4e4 46%,#e3e3e3 49%,#e2e2e2 52%,#e1e1e1 54%,#e2e2e2 56%,#e3e3e3 58%,#e4e4e4 61%,#e4e4e4 66%,#e4e4e4 69%,#e4e4e4 81%,#e4e4e4 91%,#e4e4e4)"></i><i style="height:15.34px;background:linear-gradient(90deg,#e4e4e4,#e4e4e4 12%,#e4e4e4 25%,#e4e4e4 38%,#e4e4e4 44%,#e4e4e4 46%,#e3e3e3 49%,#e2e2e2 52%,#e1e1e1 54%,#e2e2e2 56%,#e3e3e3 58%,#e4e4e4 61%,#e4e4e4 66%,#e4e4e4 69%,#e4e4e4 81%,#e4e4e4 91%,#e4e4e4)"></i><i style="height:15.34px;background:linear-gradient(90deg,#e4e4e4,#e4e4e4 12%,#e4e4e4 25%,#e4e4e4 38%,#e4e4e4 44%,#e4e4e4 46%,#e4e4e4 49%,#e2e2e2 52%,#e1e1e1 54%,#e2e2e2 56%,#e4e4e4 58%,#e4e4e4 61%,#e4e4e4 66%,#e4e4e4 69%,#e4e4e4 81%,#e4e4e4 91%,#e4e4e4)"></i><i style="height:15.34px;background:linear-gradient(90deg,#e4e4e4,#e4e4e4 12%,#e4e4e4 25%,#e4e4e4 38%,#e4e4e4 44%,#e4e4e4 46%,#e4e4e4 49%,#e2e2e2 52%,#e1e1e1 54%,#e2e2e2 56%,#e4e4e4 58%,#e4e4e4 61%,#e4e4e4 66%,#e4e4e4 69%,#e4e4e4 81%,#e4e4e4 91%,#e4e4e4)"></i><i style="height:15.34px;background:linear-gradient(90deg,#e5e5e5,#e5e5e5 12%,#e5e5e5 25%,#e5e5e5 38%,#e5e5e5 44%,#e5e5e5 46%,#e4e4e4 49%,#e2e2e2 52%,#e2e2e2 54%,#e2e2e2 56%,#e4e4e4 58%,#e5e5e5 61%,#e5e5e5 66%,#e5e5e5 69%,#e5e5e5 81%,#e5e5e5 91%,#e5e5e5)"></i><i style="height:15.34px;background:linear-gradient(90deg,#e5e5e5,#e5e5e5 12%,#e5e5e5 25%,#e5e5e5 38%,#e5e5e5 44%,#e5e5e5 46%,#e4e4e4 49%,#e3e3e3 52%,#e2e2e2 54%,#e3e3e3 56%,#e4e4e4 58%,#e5e5e5 61%,#e5e5e5 66%,#e5e5e5 69%,#e5e5e5 81%,#e5e5e5 91%,#e5e5e5)"></i><i style="height:15.34px;background:linear-gradient(90deg,#e5e5e5,#e5e5e5 12%,#e5e5e5 25%,#e5e5e5 38%,#e5e5e5 44%,#e5e5e5 46%,#e4e4e4 49%,#e3e3e3 52%,#e2e2e2 54%,#e3e3e3 56%,#e4e4e4 58%,#e5e5e5 61%,#e5e5e5 66%,#e5e5e5 69%,#e5e5e5 81%,#e5e5e5 91%,#e5e5e5)"></i><i style="height:15.34px;background:linear-gradient(90deg,#e5e5e5,#e5e5e5 12%,#e5e5e5 25%,#e5e5e5 38%,#e5e5e5 44%,#e5e5e5 46%,#e4e4e4 49%,#e3e3e3 52%,#e2e2e2 54%,#e3e3e3 56%,#e4e4e4 58%,#e5e5e5 61%,#e5e5e5 66%,#e5e5e5 69%,#e5e5e5 81%,#e5e5e5 91%,#e5e5e5)"></i><i style="height:12px;background:linear-gradient(90deg,#e5e5e5,#e5e5e5 12%,#e5e5e5 25%,#e5e5e5 38%,#e5e5e5 44%,#e5e5e5 46%,#e4e4e4 49%,#e3e3e3 52%,#e2e2e2 54%,#e3e3e3 56%,#e4e4e4 58%,#e5e5e5 61%,#e5e5e5 66%,#e5e5e5 69%,#e5e5e5 81%,#e5e5e5 91%,#e5e5e5)"></i></div></div>
<div class="hm" style="left:588.4px;top:1819.8px;width:85.0px;height:245.4px;"><div class="hi" style="top:-12px;filter:url(#vb2);"><i style="height:12px;background:linear-gradient(90deg,#b1b1b1,#b1b1b1 12%,#b1b1b1 25%,#b1b1b1 38%,#b1b1b1 44%,#afafaf 47%,#989898 49%,#686868 50%,#484848 52%,#686868 53%,#989898 55%,#afafaf 57%,#b1b1b1 62%,#b1b1b1 69%,#b1b1b1 81%,#b1b1b1 91%,#b1b1b1)"></i><i style="height:15.34px;background:linear-gradient(90deg,#b1b1b1,#b1b1b1 12%,#b1b1b1 25%,#b1b1b1 38%,#b1b1b1 44%,#afafaf 47%,#989898 49%,#686868 50%,#484848 52%,#686868 53%,#989898 55%,#afafaf 57%,#b1b1b1 62%,#b1b1b1 69%,#b1b1b1 81%,#b1b1b1 91%,#b1b1b1)"></i><i style="height:15.34px;background:linear-gradient(90deg,#b2b2b2,#b2b2b2 12%,#b2b2b2 25%,#b2b2b2 38%,#b2b2b2 44%,#b0b0b0 47%,#999999 49%,#696969 50%,#494949 52%,#696969 53%,#999999 55%,#b0b0b0 57%,#b2b2b2 62%,#b2b2b2 69%,#b2b2b2 81%,#b2b2b2 91%,#b2b2b2)"></i><i style="height:15.34px;background:linear-gradient(90deg,#b2b2b2,#b2b2b2 12%,#b2b2b2 25%,#b2b2b2 38%,#b2b2b2 44%,#b0b0b0 47%,#9a9a9a 49%,#6a6a6a 50%,#4a4a4a 52%,#6a6a6a 53%,#9a9a9a 55%,#b0b0b0 57%,#b2b2b2 62%,#b2b2b2 69%,#b2b2b2 81%,#b2b2b2 91%,#b2b2b2)"></i><i style="height:15.34px;background:linear-gradient(90deg,#b3b3b3,#b3b3b3 12%,#b3b3b3 25%,#b3b3b3 38%,#b3b3b3 44%,#b1b1b1 47%,#9a9a9a 49%,#6a6a6a 50%,#4b4b4b 52%,#6a6a6a 53%,#9a9a9a 55%,#b1b1b1 57%,#b3b3b3 62%,#b3b3b3 69%,#b3b3b3 81%,#b3b3b3 91%,#b3b3b3)"></i><i style="height:15.34px;background:linear-gradient(90deg,#b3b3b3,#b3b3b3 12%,#b3b3b3 25%,#b3b3b3 38%,#b3b3b3 44%,#b1b1b1 47%,#9b9b9b 49%,#6b6b6b 50%,#4c4c4c 52%,#6b6b6b 53%,#9b9b9b 55%,#b1b1b1 57%,#b3b3b3 62%,#b3b3b3 69%,#b3b3b3 81%,#b3b3b3 91%,#b3b3b3)"></i><i style="height:15.34px;background:linear-gradient(90deg,#b4b4b4,#b4b4b4 12%,#b4b4b4 25%,#b4b4b4 38%,#b4b4b4 44%,#b2b2b2 47%,#9b9b9b 49%,#6c6c6c 50%,#4c4c4c 52%,#6c6c6c 53%,#9b9b9b 55%,#b2b2b2 57%,#b4b4b4 62%,#b4b4b4 69%,#b4b4b4 81%,#b4b4b4 91%,#b4b4b4)"></i><i style="height:15.34px;background:linear-gradient(90deg,#b4b4b4,#b4b4b4 12%,#b4b4b4 25%,#b4b4b4 38%,#b4b4b4 44%,#b2b2b2 47%,#9c9c9c 49%,#6c6c6c 50%,#4d4d4d 52%,#6c6c6c 53%,#9c9c9c 55%,#b2b2b2 57%,#b4b4b4 62%,#b4b4b4 69%,#b4b4b4 81%,#b4b4b4 91%,#b4b4b4)"></i><i style="height:15.34px;background:linear-gradient(90deg,#b5b5b5,#b5b5b5 12%,#b5b5b5 25%,#b5b5b5 38%,#b5b5b5 44%,#b3b3b3 47%,#9c9c9c 49%,#6d6d6d 50%,#4e4e4e 52%,#6d6d6d 53%,#9c9c9c 55%,#b3b3b3 57%,#b5b5b5 62%,#b5b5b5 69%,#b5b5b5 81%,#b5b5b5 91%,#b5b5b5)"></i><i style="height:15.34px;background:linear-gradient(90deg,#b5b5b5,#b5b5b5 12%,#b5b5b5 25%,#b5b5b5 38%,#b5b5b5 44%,#b3b3b3 47%,#9d9d9d 49%,#6e6e6e 50%,#4f4f4f 52%,#6e6e6e 53%,#9d9d9d 55%,#b3b3b3 57%,#b5b5b5 62%,#b5b5b5 69%,#b5b5b5 81%,#b5b5b5 91%,#b5b5b5)"></i><i style="height:15.34px;background:linear-gradient(90deg,#b6b6b6,#b6b6b6 12%,#b6b6b6 25%,#b6b6b6 38%,#b6b6b6 44%,#b4b4b4 47%,#9e9e9e 49%,#6f6f6f 50%,#505050 52%,#6f6f6f 53%,#9e9e9e 55%,#b4b4b4 57%,#b6b6b6 62%,#b6b6b6 69%,#b6b6b6 81%,#b6b6b6 91%,#b6b6b6)"></i><i style="height:15.34px;background:linear-gradient(90deg,#b6b6b6,#b6b6b6 12%,#b6b6b6 25%,#b6b6b6 38%,#b6b6b6 44%,#b4b4b4 47%,#9e9e9e 49%,#6f6f6f 50%,#515151 52%,#6f6f6f 53%,#9e9e9e 55%,#b4b4b4 57%,#b6b6b6 62%,#b6b6b6 69%,#b6b6b6 81%,#b6b6b6 91%,#b6b6b6)"></i><i style="height:15.34px;background:linear-gradient(90deg,#b7b7b7,#b7b7b7 12%,#b7b7b7 25%,#b7b7b7 38%,#b7b7b7 44%,#b5b5b5 47%,#9f9f9f 49%,#707070 50%,#515151 52%,#707070 53%,#9f9f9f 55%,#b5b5b5 57%,#b7b7b7 62%,#b7b7b7 69%,#b7b7b7 81%,#b7b7b7 91%,#b7b7b7)"></i><i style="height:15.34px;background:linear-gradient(90deg,#b7b7b7,#b7b7b7 12%,#b7b7b7 25%,#b7b7b7 38%,#b7b7b7 44%,#b5b5b5 47%,#9f9f9f 49%,#717171 50%,#525252 52%,#717171 53%,#9f9f9f 55%,#b5b5b5 57%,#b7b7b7 62%,#b7b7b7 69%,#b7b7b7 81%,#b7b7b7 91%,#b7b7b7)"></i><i style="height:15.34px;background:linear-gradient(90deg,#b8b8b8,#b8b8b8 12%,#b8b8b8 25%,#b8b8b8 38%,#b8b8b8 44%,#b6b6b6 47%,#a0a0a0 49%,#717171 50%,#535353 52%,#717171 53%,#a0a0a0 55%,#b6b6b6 57%,#b8b8b8 62%,#b8b8b8 69%,#b8b8b8 81%,#b8b8b8 91%,#b8b8b8)"></i><i style="height:15.34px;background:linear-gradient(90deg,#b8b8b8,#b8b8b8 12%,#b8b8b8 25%,#b8b8b8 38%,#b8b8b8 44%,#b6b6b6 47%,#a0a0a0 49%,#727272 50%,#545454 52%,#727272 53%,#a0a0a0 55%,#b6b6b6 57%,#b8b8b8 62%,#b8b8b8 69%,#b8b8b8 81%,#b8b8b8 91%,#b8b8b8)"></i><i style="height:15.34px;background:linear-gradient(90deg,#b9b9b9,#b9b9b9 12%,#b9b9b9 25%,#b9b9b9 38%,#b9b9b9 44%,#b7b7b7 47%,#a1a1a1 49%,#737373 50%,#555555 52%,#737373 53%,#a1a1a1 55%,#b7b7b7 57%,#b9b9b9 62%,#b9b9b9 69%,#b9b9b9 81%,#b9b9b9 91%,#b9b9b9)"></i><i style="height:12px;background:linear-gradient(90deg,#b9b9b9,#b9b9b9 12%,#b9b9b9 25%,#b9b9b9 38%,#b9b9b9 44%,#b7b7b7 47%,#a1a1a1 49%,#737373 50%,#555555 52%,#737373 53%,#a1a1a1 55%,#b7b7b7 57%,#b9b9b9 62%,#b9b9b9 69%,#b9b9b9 81%,#b9b9b9 91%,#b9b9b9)"></i></div></div>
<div class="hm" style="left:682.5px;top:1819.8px;width:85.0px;height:245.4px;"><div class="hi" style="top:-12px;filter:url(#vb2);"><i style="height:12px;background:linear-gradient(90deg,#d1d1d1,#d1d1d1 12%,#d1d1d1 25%,#d1d1d1 38%,#d1d1d1 44%,#d1d1d1 46%,#cccccc 49%,#c2c2c2 52%,#bbbbbb 54%,#c2c2c2 56%,#cccccc 58%,#d1d1d1 61%,#d1d1d1 66%,#d1d1d1 69%,#d1d1d1 81%,#d1d1d1 91%,#d1d1d1)"></i><i style="height:15.34px;background:linear-gradient(90deg,#d2d2d2,#d2d2d2 12%,#d2d2d2 25%,#d2d2d2 38%,#d2d2d2 44%,#d2d2d2 46%,#cdcdcd 49%,#c3c3c3 52%,#bdbdbd 54%,#c3c3c3 56%,#cdcdcd 58%,#d2d2d2 61%,#d2d2d2 66%,#d2d2d2 69%,#d2d2d2 81%,#d2d2d2 91%,#d2d2d2)"></i><i style="height:15.34px;background:linear-gradient(90deg,#d4d4d4,#d4d4d4 12%,#d4d4d4 25%,#d4d4d4 38%,#d4d4d4 44%,#d3d3d3 46%,#cfcfcf 49%,#c7c7c7 52%,#c2c2c2 54%,#c7c7c7 56%,#cfcfcf 58%,#d3d3d3 61%,#d4d4d4 66%,#d4d4d4 69%,#d4d4d4 81%,#d4d4d4 91%,#d4d4d4)"></i><i style="height:15.34px;background:linear-gradient(90deg,#d6d6d6,#d6d6d6 12%,#d6d6d6 25%,#d6d6d6 38%,#d6d6d6 44%,#d5d5d5 46%,#d2d2d2 49%,#cbcbcb 52%,#c6c6c6 54%,#cbcbcb 56%,#d2d2d2 58%,#d5d5d5 61%,#d6d6d6 66%,#d6d6d6 69%,#d6d6d6 81%,#d6d6d6 91%,#d6d6d6)"></i><i style="height:15.34px;background:linear-gradient(90deg,#d8d8d8,#d8d8d8 12%,#d8d8d8 25%,#d8d8d8 38%,#d8d8d8 44%,#d7d7d7 46%,#d4d4d4 49%,#cecece 52%,#cacaca 54%,#cecece 56%,#d4d4d4 58%,#d7d7d7 61%,#d8d8d8 66%,#d8d8d8 69%,#d8d8d8 81%,#d8d8d8 91%,#d8d8d8)"></i><i style="height:15.34px;background:linear-gradient(90deg,#d9d9d9,#d9d9d9 12%,#d9d9d9 25%,#d9d9d9 38%,#d9d9d9 44%,#d9d9d9 46%,#d7d7d7 49%,#d2d2d2 52%,#cfcfcf 54%,#d2d2d2 56%,#d7d7d7 58%,#d9d9d9 61%,#d9d9d9 66%,#d9d9d9 69%,#d9d9d9 81%,#d9d9d9 91%,#d9d9d9)"></i><i style="height:15.34px;background:linear-gradient(90deg,#dbdbdb,#dbdbdb 12%,#dbdbdb 25%,#dbdbdb 38%,#dbdbdb 44%,#dbdbdb 46%,#d9d9d9 49%,#d6d6d6 52%,#d3d3d3 54%,#d6d6d6 56%,#d9d9d9 58%,#dbdbdb 61%,#dbdbdb 66%,#dbdbdb 69%,#dbdbdb 81%,#dbdbdb 91%,#dbdbdb)"></i><i style="height:15.34px;background:linear-gradient(90deg,#dddddd,#dddddd 12%,#dddddd 25%,#dddddd 38%,#dddddd 44%,#dddddd 46%,#dcdcdc 49%,#d9d9d9 52%,#d7d7d7 54%,#d9d9d9 56%,#dcdcdc 58%,#dddddd 61%,#dddddd 66%,#dddddd 69%,#dddddd 81%,#dddddd 91%,#dddddd)"></i><i style="height:15.34px;background:linear-gradient(90deg,#dfdfdf,#dfdfdf 12%,#dfdfdf 25%,#dfdfdf 38%,#dfdfdf 44%,#dfdfdf 46%,#dedede 49%,#dddddd 52%,#dcdcdc 54%,#dddddd 56%,#dedede 58%,#dfdfdf 61%,#dfdfdf 66%,#dfdfdf 69%,#dfdfdf 81%,#dfdfdf 91%,#dfdfdf)"></i><i style="height:15.34px;background:linear-gradient(90deg,#e0e0e0,#e0e0e0 12%,#e0e0e0 25%,#e0e0e0 38%,#e0e0e0 44%,#e0e0e0 46%,#e0e0e0 49%,#dfdfdf 52%,#dedede 54%,#dfdfdf 56%,#e0e0e0 58%,#e0e0e0 61%,#e0e0e0 66%,#e0e0e0 69%,#e0e0e0 81%,#e0e0e0 91%,#e0e0e0)"></i><i style="height:15.34px;background:linear-gradient(90deg,#e1e1e1,#e1e1e1 12%,#e1e1e1 25%,#e1e1e1 38%,#e1e1e1 44%,#e1e1e1 46%,#e1e1e1 49%,#e0e0e0 52%,#dfdfdf 54%,#e0e0e0 56%,#e1e1e1 58%,#e1e1e1 61%,#e1e1e1 66%,#e1e1e1 69%,#e1e1e1 81%,#e1e1e1 91%,#e1e1e1)"></i><i style="height:15.34px;background:linear-gradient(90deg,#e2e2e2,#e2e2e2 12%,#e2e2e2 25%,#e2e2e2 38%,#e2e2e2 44%,#e2e2e2 46%,#e1e1e1 49%,#e1e1e1 52%,#e0e0e0 54%,#e1e1e1 56%,#e1e1e1 58%,#e2e2e2 61%,#e2e2e2 66%,#e2e2e2 69%,#e2e2e2 81%,#e2e2e2 91%,#e2e2e2)"></i><i style="height:15.34px;background:linear-gradient(90deg,#e2e2e2,#e2e2e2 12%,#e2e2e2 25%,#e2e2e2 38%,#e2e2e2 44%,#e2e2e2 46%,#e2e2e2 49%,#e1e1e1 52%,#e1e1e1 54%,#e1e1e1 56%,#e2e2e2 58%,#e2e2e2 61%,#e2e2e2 66%,#e2e2e2 69%,#e2e2e2 81%,#e2e2e2 91%,#e2e2e2)"></i><i style="height:15.34px;background:linear-gradient(90deg,#e3e3e3,#e3e3e3 12%,#e3e3e3 25%,#e3e3e3 38%,#e3e3e3 44%,#e3e3e3 46%,#e3e3e3 49%,#e2e2e2 52%,#e2e2e2 54%,#e2e2e2 56%,#e3e3e3 58%,#e3e3e3 61%,#e3e3e3 66%,#e3e3e3 69%,#e3e3e3 81%,#e3e3e3 91%,#e3e3e3)"></i><i style="height:15.34px;background:linear-gradient(90deg,#e3e3e3,#e3e3e3 12%,#e3e3e3 25%,#e3e3e3 38%,#e3e3e3 44%,#e3e3e3 46%,#e3e3e3 49%,#e3e3e3 52%,#e3e3e3 54%,#e3e3e3 56%,#e3e3e3 58%,#e3e3e3 61%,#e3e3e3 66%,#e3e3e3 69%,#e3e3e3 81%,#e3e3e3 91%,#e3e3e3)"></i><i style="height:15.34px;background:linear-gradient(90deg,#e4e4e4,#e4e4e4 12%,#e4e4e4 25%,#e4e4e4 38%,#e4e4e4 44%,#e4e4e4 46%,#e4e4e4 49%,#e4e4e4 52%,#e4e4e4 54%,#e4e4e4 56%,#e4e4e4 58%,#e4e4e4 61%,#e4e4e4 66%,#e4e4e4 69%,#e4e4e4 81%,#e4e4e4 91%,#e4e4e4)"></i><i style="height:15.34px;background:linear-gradient(90deg,#e5e5e5,#e5e5e5 12%,#e5e5e5 25%,#e5e5e5 38%,#e5e5e5 44%,#e5e5e5 46%,#e5e5e5 49%,#e5e5e5 52%,#e5e5e5 54%,#e5e5e5 56%,#e5e5e5 58%,#e5e5e5 61%,#e5e5e5 66%,#e5e5e5 69%,#e5e5e5 81%,#e5e5e5 91%,#e5e5e5)"></i><i style="height:12px;background:linear-gradient(90deg,#e5e5e5,#e5e5e5 12%,#e5e5e5 25%,#e5e5e5 38%,#e5e5e5 44%,#e5e5e5 46%,#e5e5e5 49%,#e5e5e5 52%,#e5e5e5 54%,#e5e5e5 56%,#e5e5e5 58%,#e5e5e5 61%,#e5e5e5 66%,#e5e5e5 69%,#e5e5e5 81%,#e5e5e5 91%,#e5e5e5)"></i></div></div>
<div class="hm" style="left:776.5px;top:1819.8px;width:85.0px;height:245.4px;"><div class="hi" style="top:-12px;filter:url(#vb2);"><i style="height:12px;background:linear-gradient(90deg,#b5b5b5,#b5b5b5 12%,#b5b5b5 25%,#b5b5b5 38%,#b5b5b5 44%,#b5b5b5 46%,#b4b4b4 49%,#b3b3b3 52%,#b2b2b2 54%,#b3b3b3 56%,#b4b4b4 58%,#b5b5b5 61%,#b5b5b5 66%,#b5b5b5 69%,#b5b5b5 81%,#b5b5b5 91%,#b5b5b5)"></i><i style="height:15.34px;background:linear-gradient(90deg,#b5b5b5,#b5b5b5 12%,#b5b5b5 25%,#b5b5b5 38%,#b5b5b5 44%,#b5b5b5 46%,#b4b4b4 49%,#b3b3b3 52%,#b2b2b2 54%,#b3b3b3 56%,#b4b4b4 58%,#b5b5b5 61%,#b5b5b5 66%,#b5b5b5 69%,#b5b5b5 81%,#b5b5b5 91%,#b5b5b5)"></i><i style="height:15.34px;background:linear-gradient(90deg,#b5b5b5,#b5b5b5 12%,#b5b5b5 25%,#b5b5b5 38%,#b5b5b5 44%,#b5b5b5 46%,#b4b4b4 49%,#b3b3b3 52%,#b2b2b2 54%,#b3b3b3 56%,#b4b4b4 58%,#b5b5b5 61%,#b5b5b5 66%,#b5b5b5 69%,#b5b5b5 81%,#b5b5b5 91%,#b5b5b5)"></i><i style="height:15.34px;background:linear-gradient(90deg,#b5b5b5,#b5b5b5 12%,#b5b5b5 25%,#b5b5b5 38%,#b5b5b5 44%,#b5b5b5 46%,#b4b4b4 49%,#b3b3b3 52%,#b2b2b2 54%,#b3b3b3 56%,#b4b4b4 58%,#b5b5b5 61%,#b5b5b5 66%,#b5b5b5 69%,#b5b5b5 81%,#b5b5b5 91%,#b5b5b5)"></i><i style="height:15.34px;background:linear-gradient(90deg,#b5b5b5,#b5b5b5 12%,#b5b5b5 25%,#b5b5b5 38%,#b5b5b5 44%,#b5b5b5 46%,#b4b4b4 49%,#b3b3b3 52%,#b2b2b2 54%,#b3b3b3 56%,#b4b4b4 58%,#b5b5b5 61%,#b5b5b5 66%,#b5b5b5 69%,#b5b5b5 81%,#b5b5b5 91%,#b5b5b5)"></i><i style="height:15.34px;background:linear-gradient(90deg,#b5b5b5,#b5b5b5 12%,#b5b5b5 25%,#b5b5b5 38%,#b5b5b5 44%,#b5b5b5 46%,#b4b4b4 49%,#b3b3b3 52%,#b2b2b2 54%,#b3b3b3 56%,#b4b4b4 58%,#b5b5b5 61%,#b5b5b5 66%,#b5b5b5 69%,#b5b5b5 81%,#b5b5b5 91%,#b5b5b5)"></i><i style="height:15.34px;background:linear-gradient(90deg,#b5b5b5,#b5b5b5 12%,#b5b5b5 25%,#b5b5b5 38%,#b5b5b5 44%,#b5b5b5 46%,#b4b4b4 49%,#b3b3b3 52%,#b2b2b2 54%,#b3b3b3 56%,#b4b4b4 58%,#b5b5b5 61%,#b5b5b5 66%,#b5b5b5 69%,#b5b5b5 81%,#b5b5b5 91%,#b5b5b5)"></i><i style="height:15.34px;background:linear-gradient(90deg,#b5b5b5,#b5b5b5 12%,#b5b5b5 25%,#b5b5b5 38%,#b5b5b5 44%,#b5b5b5 46%,#b4b4b4 49%,#b3b3b3 52%,#b2b2b2 54%,#b3b3b3 56%,#b4b4b4 58%,#b5b5b5 61%,#b5b5b5 66%,#b5b5b5 69%,#b5b5b5 81%,#b5b5b5 91%,#b5b5b5)"></i><i style="height:15.34px;background:linear-gradient(90deg,#b5b5b5,#b5b5b5 12%,#b5b5b5 25%,#b5b5b5 38%,#b5b5b5 44%,#b5b5b5 46%,#b4b4b4 49%,#b3b3b3 52%,#b2b2b2 54%,#b3b3b3 56%,#b4b4b4 58%,#b5b5b5 61%,#b5b5b5 66%,#b5b5b5 69%,#b5b5b5 81%,#b5b5b5 91%,#b5b5b5)"></i><i style="height:15.34px;background:linear-gradient(90deg,#b5b5b5,#b5b5b5 12%,#b5b5b5 25%,#b5b5b5 38%,#b5b5b5 44%,#b5b5b5 46%,#b4b4b4 49%,#b3b3b3 52%,#b2b2b2 54%,#b3b3b3 56%,#b4b4b4 58%,#b5b5b5 61%,#b5b5b5 66%,#b5b5b5 69%,#b5b5b5 81%,#b5b5b5 91%,#b5b5b5)"></i><i style="height:15.34px;background:linear-gradient(90deg,#b5b5b5,#b5b5b5 12%,#b5b5b5 25%,#b5b5b5 38%,#b5b5b5 44%,#b5b5b5 46%,#b4b4b4 49%,#b3b3b3 52%,#b2b2b2 54%,#b3b3b3 56%,#b4b4b4 58%,#b5b5b5 61%,#b5b5b5 66%,#b5b5b5 69%,#b5b5b5 81%,#b5b5b5 91%,#b5b5b5)"></i><i style="height:15.34px;background:linear-gradient(90deg,#b5b5b5,#b5b5b5 12%,#b5b5b5 25%,#b5b5b5 38%,#b5b5b5 44%,#b5b5b5 46%,#b4b4b4 49%,#b3b3b3 52%,#b2b2b2 54%,#b3b3b3 56%,#b4b4b4 58%,#b5b5b5 61%,#b5b5b5 66%,#b5b5b5 69%,#b5b5b5 81%,#b5b5b5 91%,#b5b5b5)"></i><i style="height:15.34px;background:linear-gradient(90deg,#b5b5b5,#b5b5b5 12%,#b5b5b5 25%,#b5b5b5 38%,#b5b5b5 44%,#b5b5b5 46%,#b4b4b4 49%,#b3b3b3 52%,#b2b2b2 54%,#b3b3b3 56%,#b4b4b4 58%,#b5b5b5 61%,#b5b5b5 66%,#b5b5b5 69%,#b5b5b5 81%,#b5b5b5 91%,#b5b5b5)"></i><i style="height:15.34px;background:linear-gradient(90deg,#b5b5b5,#b5b5b5 12%,#b5b5b5 25%,#b5b5b5 38%,#b5b5b5 44%,#b5b5b5 46%,#b4b4b4 49%,#b3b3b3 52%,#b2b2b2 54%,#b3b3b3 56%,#b4b4b4 58%,#b5b5b5 61%,#b5b5b5 66%,#b5b5b5 69%,#b5b5b5 81%,#b5b5b5 91%,#b5b5b5)"></i><i style="height:15.34px;background:linear-gradient(90deg,#b5b5b5,#b5b5b5 12%,#b5b5b5 25%,#b5b5b5 38%,#b5b5b5 44%,#b5b5b5 46%,#b4b4b4 49%,#b3b3b3 52%,#b2b2b2 54%,#b3b3b3 56%,#b4b4b4 58%,#b5b5b5 61%,#b5b5b5 66%,#b5b5b5 69%,#b5b5b5 81%,#b5b5b5 91%,#b5b5b5)"></i><i style="height:15.34px;background:linear-gradient(90deg,#b5b5b5,#b5b5b5 12%,#b5b5b5 25%,#b5b5b5 38%,#b5b5b5 44%,#b5b5b5 46%,#b4b4b4 49%,#b3b3b3 52%,#b2b2b2 54%,#b3b3b3 56%,#b4b4b4 58%,#b5b5b5 61%,#b5b5b5 66%,#b5b5b5 69%,#b5b5b5 81%,#b5b5b5 91%,#b5b5b5)"></i><i style="height:15.34px;background:linear-gradient(90deg,#b5b5b5,#b5b5b5 12%,#b5b5b5 25%,#b5b5b5 38%,#b5b5b5 44%,#b5b5b5 46%,#b4b4b4 49%,#b3b3b3 52%,#b2b2b2 54%,#b3b3b3 56%,#b4b4b4 58%,#b5b5b5 61%,#b5b5b5 66%,#b5b5b5 69%,#b5b5b5 81%,#b5b5b5 91%,#b5b5b5)"></i><i style="height:12px;background:linear-gradient(90deg,#b5b5b5,#b5b5b5 12%,#b5b5b5 25%,#b5b5b5 38%,#b5b5b5 44%,#b5b5b5 46%,#b4b4b4 49%,#b3b3b3 52%,#b2b2b2 54%,#b3b3b3 56%,#b4b4b4 58%,#b5b5b5 61%,#b5b5b5 66%,#b5b5b5 69%,#b5b5b5 81%,#b5b5b5 91%,#b5b5b5)"></i></div></div>
<div class="hm" style="left:870.6px;top:1819.8px;width:85.0px;height:245.4px;"><div class="hi" style="top:-12px;filter:url(#vb2);"><i style="height:12px;background:linear-gradient(90deg,#c7c7c7,#c7c7c7 12%,#c7c7c7 25%,#c7c7c7 38%,#c7c7c7 44%,#c7c7c7 46%,#c6c6c6 49%,#c5c5c5 52%,#c4c4c4 54%,#c5c5c5 56%,#c6c6c6 58%,#c7c7c7 61%,#c7c7c7 66%,#c7c7c7 69%,#c7c7c7 81%,#c7c7c7 91%,#c7c7c7)"></i><i style="height:15.34px;background:linear-gradient(90deg,#c7c7c7,#c7c7c7 12%,#c7c7c7 25%,#c7c7c7 38%,#c7c7c7 44%,#c7c7c7 46%,#c6c6c6 49%,#c5c5c5 52%,#c4c4c4 54%,#c5c5c5 56%,#c6c6c6 58%,#c7c7c7 61%,#c7c7c7 66%,#c7c7c7 69%,#c7c7c7 81%,#c7c7c7 91%,#c7c7c7)"></i><i style="height:15.34px;background:linear-gradient(90deg,#c7c7c7,#c7c7c7 12%,#c7c7c7 25%,#c7c7c7 38%,#c7c7c7 44%,#c7c7c7 46%,#c6c6c6 49%,#c5c5c5 52%,#c4c4c4 54%,#c5c5c5 56%,#c6c6c6 58%,#c7c7c7 61%,#c7c7c7 66%,#c7c7c7 69%,#c7c7c7 81%,#c7c7c7 91%,#c7c7c7)"></i><i style="height:15.34px;background:linear-gradient(90deg,#c7c7c7,#c7c7c7 12%,#c7c7c7 25%,#c7c7c7 38%,#c7c7c7 44%,#c7c7c7 46%,#c7c7c7 49%,#c5c5c5 52%,#c4c4c4 54%,#c5c5c5 56%,#c7c7c7 58%,#c7c7c7 61%,#c7c7c7 66%,#c7c7c7 69%,#c7c7c7 81%,#c7c7c7 91%,#c7c7c7)"></i><i style="height:15.34px;background:linear-gradient(90deg,#c7c7c7,#c7c7c7 12%,#c7c7c7 25%,#c7c7c7 38%,#c7c7c7 44%,#c7c7c7 46%,#c7c7c7 49%,#c5c5c5 52%,#c4c4c4 54%,#c5c5c5 56%,#c7c7c7 58%,#c7c7c7 61%,#c7c7c7 66%,#c7c7c7 69%,#c7c7c7 81%,#c7c7c7 91%,#c7c7c7)"></i><i style="height:15.34px;background:linear-gradient(90deg,#c8c8c8,#c8c8c8 12%,#c8c8c8 25%,#c8c8c8 38%,#c8c8c8 44%,#c8c8c8 46%,#c7c7c7 49%,#c5c5c5 52%,#c5c5c5 54%,#c5c5c5 56%,#c7c7c7 58%,#c8c8c8 61%,#c8c8c8 66%,#c8c8c8 69%,#c8c8c8 81%,#c8c8c8 91%,#c8c8c8)"></i><i style="height:15.34px;background:linear-gradient(90deg,#c8c8c8,#c8c8c8 12%,#c8c8c8 25%,#c8c8c8 38%,#c8c8c8 44%,#c8c8c8 46%,#c7c7c7 49%,#c6c6c6 52%,#c5c5c5 54%,#c6c6c6 56%,#c7c7c7 58%,#c8c8c8 61%,#c8c8c8 66%,#c8c8c8 69%,#c8c8c8 81%,#c8c8c8 91%,#c8c8c8)"></i><i style="height:15.34px;background:linear-gradient(90deg,#c8c8c8,#c8c8c8 12%,#c8c8c8 25%,#c8c8c8 38%,#c8c8c8 44%,#c8c8c8 46%,#c7c7c7 49%,#c6c6c6 52%,#c5c5c5 54%,#c6c6c6 56%,#c7c7c7 58%,#c8c8c8 61%,#c8c8c8 66%,#c8c8c8 69%,#c8c8c8 81%,#c8c8c8 91%,#c8c8c8)"></i><i style="height:15.34px;background:linear-gradient(90deg,#c8c8c8,#c8c8c8 12%,#c8c8c8 25%,#c8c8c8 38%,#c8c8c8 44%,#c8c8c8 46%,#c7c7c7 49%,#c6c6c6 52%,#c5c5c5 54%,#c6c6c6 56%,#c7c7c7 58%,#c8c8c8 61%,#c8c8c8 66%,#c8c8c8 69%,#c8c8c8 81%,#c8c8c8 91%,#c8c8c8)"></i><i style="height:15.34px;background:linear-gradient(90deg,#c8c8c8,#c8c8c8 12%,#c8c8c8 25%,#c8c8c8 38%,#c8c8c8 44%,#c8c8c8 46%,#c7c7c7 49%,#c6c6c6 52%,#c5c5c5 54%,#c6c6c6 56%,#c7c7c7 58%,#c8c8c8 61%,#c8c8c8 66%,#c8c8c8 69%,#c8c8c8 81%,#c8c8c8 91%,#c8c8c8)"></i><i style="height:15.34px;background:linear-gradient(90deg,#c8c8c8,#c8c8c8 12%,#c8c8c8 25%,#c8c8c8 38%,#c8c8c8 44%,#c8c8c8 46%,#c7c7c7 49%,#c6c6c6 52%,#c5c5c5 54%,#c6c6c6 56%,#c7c7c7 58%,#c8c8c8 61%,#c8c8c8 66%,#c8c8c8 69%,#c8c8c8 81%,#c8c8c8 91%,#c8c8c8)"></i><i style="height:15.34px;background:linear-gradient(90deg,#c8c8c8,#c8c8c8 12%,#c8c8c8 25%,#c8c8c8 38%,#c8c8c8 44%,#c8c8c8 46%,#c8c8c8 49%,#c6c6c6 52%,#c5c5c5 54%,#c6c6c6 56%,#c8c8c8 58%,#c8c8c8 61%,#c8c8c8 66%,#c8c8c8 69%,#c8c8c8 81%,#c8c8c8 91%,#c8c8c8)"></i><i style="height:15.34px;background:linear-gradient(90deg,#c8c8c8,#c8c8c8 12%,#c8c8c8 25%,#c8c8c8 38%,#c8c8c8 44%,#c8c8c8 46%,#c8c8c8 49%,#c6c6c6 52%,#c5c5c5 54%,#c6c6c6 56%,#c8c8c8 58%,#c8c8c8 61%,#c8c8c8 66%,#c8c8c8 69%,#c8c8c8 81%,#c8c8c8 91%,#c8c8c8)"></i><i style="height:15.34px;background:linear-gradient(90deg,#c9c9c9,#c9c9c9 12%,#c9c9c9 25%,#c9c9c9 38%,#c9c9c9 44%,#c9c9c9 46%,#c8c8c8 49%,#c6c6c6 52%,#c6c6c6 54%,#c6c6c6 56%,#c8c8c8 58%,#c9c9c9 61%,#c9c9c9 66%,#c9c9c9 69%,#c9c9c9 81%,#c9c9c9 91%,#c9c9c9)"></i><i style="height:15.34px;background:linear-gradient(90deg,#c9c9c9,#c9c9c9 12%,#c9c9c9 25%,#c9c9c9 38%,#c9c9c9 44%,#c9c9c9 46%,#c8c8c8 49%,#c7c7c7 52%,#c6c6c6 54%,#c7c7c7 56%,#c8c8c8 58%,#c9c9c9 61%,#c9c9c9 66%,#c9c9c9 69%,#c9c9c9 81%,#c9c9c9 91%,#c9c9c9)"></i><i style="height:15.34px;background:linear-gradient(90deg,#c9c9c9,#c9c9c9 12%,#c9c9c9 25%,#c9c9c9 38%,#c9c9c9 44%,#c9c9c9 46%,#c8c8c8 49%,#c7c7c7 52%,#c6c6c6 54%,#c7c7c7 56%,#c8c8c8 58%,#c9c9c9 61%,#c9c9c9 66%,#c9c9c9 69%,#c9c9c9 81%,#c9c9c9 91%,#c9c9c9)"></i><i style="height:15.34px;background:linear-gradient(90deg,#c9c9c9,#c9c9c9 12%,#c9c9c9 25%,#c9c9c9 38%,#c9c9c9 44%,#c9c9c9 46%,#c8c8c8 49%,#c7c7c7 52%,#c6c6c6 54%,#c7c7c7 56%,#c8c8c8 58%,#c9c9c9 61%,#c9c9c9 66%,#c9c9c9 69%,#c9c9c9 81%,#c9c9c9 91%,#c9c9c9)"></i><i style="height:12px;background:linear-gradient(90deg,#c9c9c9,#c9c9c9 12%,#c9c9c9 25%,#c9c9c9 38%,#c9c9c9 44%,#c9c9c9 46%,#c8c8c8 49%,#c7c7c7 52%,#c6c6c6 54%,#c7c7c7 56%,#c8c8c8 58%,#c9c9c9 61%,#c9c9c9 66%,#c9c9c9 69%,#c9c9c9 81%,#c9c9c9 91%,#c9c9c9)"></i></div></div>
<div class="hm" style="left:964.6px;top:1819.8px;width:85.0px;height:245.4px;"><div class="hi" style="top:-12px;filter:url(#vb2);"><i style="height:12px;background:linear-gradient(90deg,#dbdbdb,#dbdbdb 12%,#dbdbdb 25%,#dbdbdb 38%,#dbdbdb 44%,#dbdbdb 46%,#dadada 49%,#d9d9d9 52%,#d8d8d8 54%,#d9d9d9 56%,#dadada 58%,#dbdbdb 61%,#dbdbdb 66%,#dbdbdb 69%,#dbdbdb 81%,#dbdbdb 91%,#dbdbdb)"></i><i style="height:15.34px;background:linear-gradient(90deg,#dbdbdb,#dbdbdb 12%,#dbdbdb 25%,#dbdbdb 38%,#dbdbdb 44%,#dbdbdb 46%,#dadada 49%,#d9d9d9 52%,#d8d8d8 54%,#d9d9d9 56%,#dadada 58%,#dbdbdb 61%,#dbdbdb 66%,#dbdbdb 69%,#dbdbdb 81%,#dbdbdb 91%,#dbdbdb)"></i><i style="height:15.34px;background:linear-gradient(90deg,#dbdbdb,#dbdbdb 12%,#dbdbdb 25%,#dbdbdb 38%,#dbdbdb 44%,#dbdbdb 46%,#dbdbdb 49%,#d9d9d9 52%,#d8d8d8 54%,#d9d9d9 56%,#dbdbdb 58%,#dbdbdb 61%,#dbdbdb 66%,#dbdbdb 69%,#dbdbdb 81%,#dbdbdb 91%,#dbdbdb)"></i><i style="height:15.34px;background:linear-gradient(90deg,#dcdcdc,#dcdcdc 12%,#dcdcdc 25%,#dcdcdc 38%,#dcdcdc 44%,#dcdcdc 46%,#dbdbdb 49%,#dadada 52%,#d9d9d9 54%,#dadada 56%,#dbdbdb 58%,#dcdcdc 61%,#dcdcdc 66%,#dcdcdc 69%,#dcdcdc 81%,#dcdcdc 91%,#dcdcdc)"></i><i style="height:15.34px;background:linear-gradient(90deg,#dcdcdc,#dcdcdc 12%,#dcdcdc 25%,#dcdcdc 38%,#dcdcdc 44%,#dcdcdc 46%,#dbdbdb 49%,#dadada 52%,#d9d9d9 54%,#dadada 56%,#dbdbdb 58%,#dcdcdc 61%,#dcdcdc 66%,#dcdcdc 69%,#dcdcdc 81%,#dcdcdc 91%,#dcdcdc)"></i><i style="height:15.34px;background:linear-gradient(90deg,#dcdcdc,#dcdcdc 12%,#dcdcdc 25%,#dcdcdc 38%,#dcdcdc 44%,#dcdcdc 46%,#dbdbdb 49%,#dadada 52%,#d9d9d9 54%,#dadada 56%,#dbdbdb 58%,#dcdcdc 61%,#dcdcdc 66%,#dcdcdc 69%,#dcdcdc 81%,#dcdcdc 91%,#dcdcdc)"></i><i style="height:15.34px;background:linear-gradient(90deg,#dcdcdc,#dcdcdc 12%,#dcdcdc 25%,#dcdcdc 38%,#dcdcdc 44%,#dcdcdc 46%,#dcdcdc 49%,#dadada 52%,#d9d9d9 54%,#dadada 56%,#dcdcdc 58%,#dcdcdc 61%,#dcdcdc 66%,#dcdcdc 69%,#dcdcdc 81%,#dcdcdc 91%,#dcdcdc)"></i><i style="height:15.34px;background:linear-gradient(90deg,#dddddd,#dddddd 12%,#dddddd 25%,#dddddd 38%,#dddddd 44%,#dddddd 46%,#dcdcdc 49%,#dbdbdb 52%,#dadada 54%,#dbdbdb 56%,#dcdcdc 58%,#dddddd 61%,#dddddd 66%,#dddddd 69%,#dddddd 81%,#dddddd 91%,#dddddd)"></i><i style="height:15.34px;background:linear-gradient(90deg,#dddddd,#dddddd 12%,#dddddd 25%,#dddddd 38%,#dddddd 44%,#dddddd 46%,#dcdcdc 49%,#dbdbdb 52%,#dadada 54%,#dbdbdb 56%,#dcdcdc 58%,#dddddd 61%,#dddddd 66%,#dddddd 69%,#dddddd 81%,#dddddd 91%,#dddddd)"></i><i style="height:15.34px;background:linear-gradient(90deg,#dddddd,#dddddd 12%,#dddddd 25%,#dddddd 38%,#dddddd 44%,#dddddd 46%,#dcdcdc 49%,#dbdbdb 52%,#dadada 54%,#dbdbdb 56%,#dcdcdc 58%,#dddddd 61%,#dddddd 66%,#dddddd 69%,#dddddd 81%,#dddddd 91%,#dddddd)"></i><i style="height:15.34px;background:linear-gradient(90deg,#dddddd,#dddddd 12%,#dddddd 25%,#dddddd 38%,#dddddd 44%,#dddddd 46%,#dddddd 49%,#dbdbdb 52%,#dadada 54%,#dbdbdb 56%,#dddddd 58%,#dddddd 61%,#dddddd 66%,#dddddd 69%,#dddddd 81%,#dddddd 91%,#dddddd)"></i><i style="height:15.34px;background:linear-gradient(90deg,#dedede,#dedede 12%,#dedede 25%,#dedede 38%,#dedede 44%,#dedede 46%,#dddddd 49%,#dcdcdc 52%,#dbdbdb 54%,#dcdcdc 56%,#dddddd 58%,#dedede 61%,#dedede 66%,#dedede 69%,#dedede 81%,#dedede 91%,#dedede)"></i><i style="height:15.34px;background:linear-gradient(90deg,#dedede,#dedede 12%,#dedede 25%,#dedede 38%,#dedede 44%,#dedede 46%,#dddddd 49%,#dcdcdc 52%,#dbdbdb 54%,#dcdcdc 56%,#dddddd 58%,#dedede 61%,#dedede 66%,#dedede 69%,#dedede 81%,#dedede 91%,#dedede)"></i><i style="height:15.34px;background:linear-gradient(90deg,#dedede,#dedede 12%,#dedede 25%,#dedede 38%,#dedede 44%,#dedede 46%,#dddddd 49%,#dcdcdc 52%,#dbdbdb 54%,#dcdcdc 56%,#dddddd 58%,#dedede 61%,#dedede 66%,#dedede 69%,#dedede 81%,#dedede 91%,#dedede)"></i><i style="height:15.34px;background:linear-gradient(90deg,#dedede,#dedede 12%,#dedede 25%,#dedede 38%,#dedede 44%,#dedede 46%,#dedede 49%,#dcdcdc 52%,#dbdbdb 54%,#dcdcdc 56%,#dedede 58%,#dedede 61%,#dedede 66%,#dedede 69%,#dedede 81%,#dedede 91%,#dedede)"></i><i style="height:15.34px;background:linear-gradient(90deg,#dfdfdf,#dfdfdf 12%,#dfdfdf 25%,#dfdfdf 38%,#dfdfdf 44%,#dfdfdf 46%,#dedede 49%,#dddddd 52%,#dcdcdc 54%,#dddddd 56%,#dedede 58%,#dfdfdf 61%,#dfdfdf 66%,#dfdfdf 69%,#dfdfdf 81%,#dfdfdf 91%,#dfdfdf)"></i><i style="height:15.34px;background:linear-gradient(90deg,#dfdfdf,#dfdfdf 12%,#dfdfdf 25%,#dfdfdf 38%,#dfdfdf 44%,#dfdfdf 46%,#dedede 49%,#dddddd 52%,#dcdcdc 54%,#dddddd 56%,#dedede 58%,#dfdfdf 61%,#dfdfdf 66%,#dfdfdf 69%,#dfdfdf 81%,#dfdfdf 91%,#dfdfdf)"></i><i style="height:12px;background:linear-gradient(90deg,#dfdfdf,#dfdfdf 12%,#dfdfdf 25%,#dfdfdf 38%,#dfdfdf 44%,#dfdfdf 46%,#dedede 49%,#dddddd 52%,#dcdcdc 54%,#dddddd 56%,#dedede 58%,#dfdfdf 61%,#dfdfdf 66%,#dfdfdf 69%,#dfdfdf 81%,#dfdfdf 91%,#dfdfdf)"></i></div></div>
<div class="hm" style="left:1058.7px;top:1819.8px;width:85.0px;height:245.4px;"><div class="hi" style="top:-12px;filter:url(#vb2);"><i style="height:12px;background:linear-gradient(90deg,#5f5f5f,#565656 12%,#494949 25%,#3d3d3d 34%,#343434 41%,#2f2f2f 48%,#2d2d2d 52%,#2e2e2e 57%,#313131 62%,#393939 70%,#454545 80%,#515151 90%,#5a5a5a)"></i><i style="height:15.34px;background:linear-gradient(90deg,#626262,#595959 12%,#4c4c4c 25%,#404040 34%,#363636 41%,#303030 48%,#2e2e2e 52%,#2f2f2f 57%,#323232 62%,#3b3b3b 70%,#494949 80%,#545454 90%,#5d5d5d)"></i><i style="height:15.34px;background:linear-gradient(90deg,#686868,#606060 12%,#535353 25%,#464646 34%,#3a3a3a 41%,#333333 48%,#303030 52%,#313131 57%,#353535 62%,#404040 70%,#4f4f4f 80%,#5c5c5c 90%,#646464)"></i><i style="height:15.34px;background:linear-gradient(90deg,#6f6f6f,#686868 12%,#5b5b5b 25%,#4d4d4d 34%,#404040 41%,#373737 48%,#333333 52%,#343434 57%,#3a3a3a 62%,#474747 70%,#585858 80%,#646464 90%,#6c6c6c)"></i><i style="height:15.34px;background:linear-gradient(90deg,#7c7c7c,#767676 12%,#696969 25%,#5b5b5b 34%,#4c4c4c 41%,#424242 48%,#3e3e3e 52%,#3f3f3f 57%,#464646 62%,#545454 70%,#666666 80%,#727272 90%,#797979)"></i><i style="height:15.34px;background:linear-gradient(90deg,#888888,#838383 12%,#787878 25%,#696969 34%,#595959 41%,#4d4d4d 48%,#484848 52%,#4a4a4a 57%,#525252 62%,#626262 70%,#747474 80%,#7f7f7f 90%,#868686)"></i><i style="height:15.34px;background:linear-gradient(90deg,#979797,#949494 12%,#8c8c8c 25%,#828282 34%,#757575 41%,#6b6b6b 48%,#676767 52%,#686868 57%,#6f6f6f 62%,#7c7c7c 70%,#8a8a8a 80%,#929292 90%,#969696)"></i><i style="height:15.34px;background:linear-gradient(90deg,#a7a7a7,#a5a5a5 12%,#a2a2a2 25%,#9d9d9d 34%,#969696 41%,#909090 48%,#8e8e8e 52%,#8e8e8e 57%,#939393 62%,#9a9a9a 70%,#a1a1a1 80%,#a4a4a4 90%,#a6a6a6)"></i><i style="height:15.34px;background:linear-gradient(90deg,#b2b2b2,#b1b1b1 12%,#afafaf 25%,#adadad 34%,#a9a9a9 41%,#a6a6a6 48%,#a4a4a4 52%,#a5a5a5 57%,#a7a7a7 62%,#ababab 70%,#afafaf 80%,#b0b0b0 90%,#b1b1b1)"></i><i style="height:15.34px;background:linear-gradient(90deg,#bbbbbb,#bbbbbb 12%,#bababa 25%,#b9b9b9 34%,#b8b8b8 41%,#b7b7b7 48%,#b7b7b7 52%,#b7b7b7 57%,#b7b7b7 62%,#b9b9b9 70%,#bababa 80%,#bbbbbb 90%,#bbbbbb)"></i><i style="height:15.34px;background:linear-gradient(90deg,#bfbfbf,#bfbfbf 12%,#bfbfbf 25%,#bfbfbf 34%,#bebebe 41%,#bebebe 48%,#bebebe 52%,#bebebe 57%,#bebebe 62%,#bfbfbf 70%,#bfbfbf 80%,#bfbfbf 90%,#bfbfbf)"></i><i style="height:15.34px;background:linear-gradient(90deg,#c2c2c2,#c1c1c1 12%,#c1c1c1 25%,#c1c1c1 34%,#c1c1c1 41%,#c0c0c0 48%,#c0c0c0 52%,#c0c0c0 57%,#c0c0c0 62%,#c1c1c1 70%,#c1c1c1 80%,#c1c1c1 90%,#c2c2c2)"></i><i style="height:15.34px;background:linear-gradient(90deg,#c4c4c4,#c4c4c4 12%,#c3c3c3 25%,#c3c3c3 34%,#c3c3c3 41%,#c3c3c3 48%,#c2c2c2 52%,#c2c2c2 57%,#c3c3c3 62%,#c3c3c3 70%,#c3c3c3 80%,#c4c4c4 90%,#c4c4c4)"></i><i style="height:15.34px;background:linear-gradient(90deg,#c6c6c6,#c6c6c6 12%,#c6c6c6 25%,#c5c5c5 34%,#c5c5c5 41%,#c5c5c5 48%,#c5c5c5 52%,#c5c5c5 57%,#c5c5c5 62%,#c5c5c5 70%,#c5c5c5 80%,#c6c6c6 90%,#c6c6c6)"></i><i style="height:15.34px;background:linear-gradient(90deg,#c8c8c8,#c8c8c8 12%,#c8c8c8 25%,#c8c8c8 34%,#c7c7c7 41%,#c7c7c7 48%,#c7c7c7 52%,#c7c7c7 57%,#c7c7c7 62%,#c7c7c7 70%,#c8c8c8 80%,#c8c8c8 90%,#c8c8c8)"></i><i style="height:15.34px;background:linear-gradient(90deg,#cacaca,#cacaca 12%,#cacaca 25%,#cacaca 34%,#cacaca 41%,#cacaca 48%,#c9c9c9 52%,#c9c9c9 57%,#cacaca 62%,#cacaca 70%,#cacaca 80%,#cacaca 90%,#cacaca)"></i><i style="height:15.34px;background:linear-gradient(90deg,#cccccc,#cccccc 12%,#cccccc 25%,#cccccc 34%,#cccccc 41%,#cccccc 48%,#cccccc 52%,#cccccc 57%,#cccccc 62%,#cccccc 70%,#cccccc 80%,#cccccc 90%,#cccccc)"></i><i style="height:12px;background:linear-gradient(90deg,#cdcdcd,#cdcdcd 12%,#cdcdcd 25%,#cdcdcd 34%,#cdcdcd 41%,#cdcdcd 48%,#cdcdcd 52%,#cdcdcd 57%,#cdcdcd 62%,#cdcdcd 70%,#cdcdcd 80%,#cdcdcd 90%,#cdcdcd)"></i></div></div>
<div class="hm" style="left:1152.8px;top:1819.8px;width:85.0px;height:245.4px;"><div class="hi" style="top:-12px;filter:url(#vb2);"><i style="height:12px;background:linear-gradient(90deg,#969696,#8c8c8c 12%,#7d7d7d 25%,#717171 34%,#676767 41%,#616161 48%,#5f5f5f 52%,#606060 57%,#636363 62%,#6c6c6c 70%,#7a7a7a 80%,#878787 90%,#909090)"></i><i style="height:15.34px;background:linear-gradient(90deg,#9a9a9a,#919191 12%,#828282 25%,#757575 34%,#6b6b6b 41%,#656565 48%,#626262 52%,#636363 57%,#676767 62%,#707070 70%,#7f7f7f 80%,#8c8c8c 90%,#959595)"></i><i style="height:15.34px;background:linear-gradient(90deg,#a3a3a3,#9a9a9a 12%,#8c8c8c 25%,#7f7f7f 34%,#737373 41%,#6b6b6b 48%,#686868 52%,#696969 57%,#6e6e6e 62%,#797979 70%,#898989 80%,#959595 90%,#9e9e9e)"></i><i style="height:15.34px;background:linear-gradient(90deg,#ababab,#a4a4a4 12%,#979797 25%,#8a8a8a 34%,#7c7c7c 41%,#737373 48%,#6f6f6f 52%,#717171 57%,#767676 62%,#838383 70%,#949494 80%,#a0a0a0 90%,#a8a8a8)"></i><i style="height:15.34px;background:linear-gradient(90deg,#b8b8b8,#b2b2b2 12%,#a6a6a6 25%,#989898 34%,#8a8a8a 41%,#808080 48%,#7c7c7c 52%,#7d7d7d 57%,#848484 62%,#919191 70%,#a3a3a3 80%,#aeaeae 90%,#b5b5b5)"></i><i style="height:15.34px;background:linear-gradient(90deg,#c4c4c4,#bfbfbf 12%,#b5b5b5 25%,#a8a8a8 34%,#999999 41%,#8d8d8d 48%,#888888 52%,#8a8a8a 57%,#919191 62%,#a0a0a0 70%,#b2b2b2 80%,#bcbcbc 90%,#c2c2c2)"></i><i style="height:15.34px;background:linear-gradient(90deg,#d0d0d0,#cdcdcd 12%,#c6c6c6 25%,#bdbdbd 34%,#b3b3b3 41%,#aaaaaa 48%,#a6a6a6 52%,#a7a7a7 57%,#adadad 62%,#b8b8b8 70%,#c4c4c4 80%,#cbcbcb 90%,#cecece)"></i><i style="height:15.34px;background:linear-gradient(90deg,#dadada,#d9d9d9 12%,#d7d7d7 25%,#d4d4d4 34%,#d0d0d0 41%,#cccccc 48%,#cacaca 52%,#cbcbcb 57%,#cdcdcd 62%,#d2d2d2 70%,#d6d6d6 80%,#d8d8d8 90%,#d9d9d9)"></i><i style="height:15.34px;background:linear-gradient(90deg,#dfdfdf,#dfdfdf 12%,#dedede 25%,#dddddd 34%,#dbdbdb 41%,#d9d9d9 48%,#d9d9d9 52%,#d9d9d9 57%,#dadada 62%,#dcdcdc 70%,#dedede 80%,#dedede 90%,#dfdfdf)"></i><i style="height:15.34px;background:linear-gradient(90deg,#e3e3e3,#e3e3e3 12%,#e3e3e3 25%,#e2e2e2 34%,#e2e2e2 41%,#e2e2e2 48%,#e1e1e1 52%,#e1e1e1 57%,#e2e2e2 62%,#e2e2e2 70%,#e3e3e3 80%,#e3e3e3 90%,#e3e3e3)"></i><i style="height:15.34px;background:linear-gradient(90deg,#e4e4e4,#e4e4e4 12%,#e4e4e4 25%,#e4e4e4 34%,#e4e4e4 41%,#e4e4e4 48%,#e4e4e4 52%,#e4e4e4 57%,#e4e4e4 62%,#e4e4e4 70%,#e4e4e4 80%,#e4e4e4 90%,#e4e4e4)"></i><i style="height:15.34px;background:linear-gradient(90deg,#e5e5e5,#e5e5e5 12%,#e5e5e5 25%,#e5e5e5 34%,#e5e5e5 41%,#e5e5e5 48%,#e5e5e5 52%,#e5e5e5 57%,#e5e5e5 62%,#e5e5e5 70%,#e5e5e5 80%,#e5e5e5 90%,#e5e5e5)"></i><i style="height:15.34px;background:linear-gradient(90deg,#e6e6e6,#e6e6e6 12%,#e6e6e6 25%,#e6e6e6 34%,#e6e6e6 41%,#e6e6e6 48%,#e6e6e6 52%,#e6e6e6 57%,#e6e6e6 62%,#e6e6e6 70%,#e6e6e6 80%,#e6e6e6 90%,#e6e6e6)"></i><i style="height:15.34px;background:linear-gradient(90deg,#e6e6e6,#e6e6e6 12%,#e6e6e6 25%,#e6e6e6 34%,#e6e6e6 41%,#e6e6e6 48%,#e6e6e6 52%,#e6e6e6 57%,#e6e6e6 62%,#e6e6e6 70%,#e6e6e6 80%,#e6e6e6 90%,#e6e6e6)"></i><i style="height:15.34px;background:linear-gradient(90deg,#e7e7e7,#e7e7e7 12%,#e7e7e7 25%,#e7e7e7 34%,#e7e7e7 41%,#e7e7e7 48%,#e7e7e7 52%,#e7e7e7 57%,#e7e7e7 62%,#e7e7e7 70%,#e7e7e7 80%,#e7e7e7 90%,#e7e7e7)"></i><i style="height:15.34px;background:linear-gradient(90deg,#e7e7e7,#e7e7e7 12%,#e7e7e7 25%,#e7e7e7 34%,#e7e7e7 41%,#e7e7e7 48%,#e7e7e7 52%,#e7e7e7 57%,#e7e7e7 62%,#e7e7e7 70%,#e7e7e7 80%,#e7e7e7 90%,#e7e7e7)"></i><i style="height:15.34px;background:linear-gradient(90deg,#e8e8e8,#e8e8e8 12%,#e8e8e8 25%,#e8e8e8 34%,#e8e8e8 41%,#e8e8e8 48%,#e8e8e8 52%,#e8e8e8 57%,#e8e8e8 62%,#e8e8e8 70%,#e8e8e8 80%,#e8e8e8 90%,#e8e8e8)"></i><i style="height:12px;background:linear-gradient(90deg,#e8e8e8,#e8e8e8 12%,#e8e8e8 25%,#e8e8e8 34%,#e8e8e8 41%,#e8e8e8 48%,#e8e8e8 52%,#e8e8e8 57%,#e8e8e8 62%,#e8e8e8 70%,#e8e8e8 80%,#e8e8e8 90%,#e8e8e8)"></i></div></div>
<div class="hm" style="left:1246.8px;top:1819.8px;width:85.0px;height:245.4px;"><div class="hi" style="top:-12px;filter:url(#vb2);"><i style="height:12px;background:linear-gradient(90deg,#555555,#4e4e4e 12%,#434343 25%,#3a3a3a 34%,#333333 41%,#2f2f2f 48%,#2d2d2d 52%,#2e2e2e 57%,#303030 62%,#363636 70%,#414141 80%,#4a4a4a 90%,#515151)"></i><i style="height:15.34px;background:linear-gradient(90deg,#595959,#525252 12%,#474747 25%,#3d3d3d 34%,#353535 41%,#303030 48%,#2e2e2e 52%,#2f2f2f 57%,#323232 62%,#393939 70%,#444444 80%,#4e4e4e 90%,#555555)"></i><i style="height:15.34px;background:linear-gradient(90deg,#616161,#5a5a5a 12%,#4e4e4e 25%,#434343 34%,#393939 41%,#333333 48%,#303030 52%,#313131 57%,#353535 62%,#3e3e3e 70%,#4b4b4b 80%,#565656 90%,#5e5e5e)"></i><i style="height:15.34px;background:linear-gradient(90deg,#6a6a6a,#646464 12%,#585858 25%,#4b4b4b 34%,#3f3f3f 41%,#363636 48%,#333333 52%,#343434 57%,#393939 62%,#454545 70%,#545454 80%,#606060 90%,#676767)"></i><i style="height:15.34px;background:linear-gradient(90deg,#757575,#6f6f6f 12%,#646464 25%,#585858 34%,#4b4b4b 41%,#414141 48%,#3e3e3e 52%,#3f3f3f 57%,#454545 62%,#515151 70%,#616161 80%,#6c6c6c 90%,#727272)"></i><i style="height:15.34px;background:linear-gradient(90deg,#7f7f7f,#7a7a7a 12%,#717171 25%,#656565 34%,#575757 41%,#4c4c4c 48%,#484848 52%,#4a4a4a 57%,#505050 62%,#5e5e5e 70%,#6e6e6e 80%,#777777 90%,#7d7d7d)"></i><i style="height:15.34px;background:linear-gradient(90deg,#8b8b8b,#898989 12%,#828282 25%,#7a7a7a 34%,#6f6f6f 41%,#676767 48%,#636363 52%,#646464 57%,#6a6a6a 62%,#757575 70%,#808080 80%,#878787 90%,#8a8a8a)"></i><i style="height:15.34px;background:linear-gradient(90deg,#989898,#979797 12%,#959595 25%,#919191 34%,#8b8b8b 41%,#878787 48%,#858585 52%,#858585 57%,#898989 62%,#8e8e8e 70%,#949494 80%,#969696 90%,#989898)"></i><i style="height:15.34px;background:linear-gradient(90deg,#9f9f9f,#9e9e9e 12%,#9d9d9d 25%,#9b9b9b 34%,#989898 41%,#969696 48%,#959595 52%,#959595 57%,#979797 62%,#9a9a9a 70%,#9d9d9d 80%,#9e9e9e 90%,#9f9f9f)"></i><i style="height:15.34px;background:linear-gradient(90deg,#a4a4a4,#a3a3a3 12%,#a3a3a3 25%,#a2a2a2 34%,#a1a1a1 41%,#a0a0a0 48%,#a0a0a0 52%,#a0a0a0 57%,#a0a0a0 62%,#a2a2a2 70%,#a3a3a3 80%,#a3a3a3 90%,#a3a3a3)"></i><i style="height:15.34px;background:linear-gradient(90deg,#a5a5a5,#a5a5a5 12%,#a5a5a5 25%,#a5a5a5 34%,#a4a4a4 41%,#a4a4a4 48%,#a4a4a4 52%,#a4a4a4 57%,#a4a4a4 62%,#a5a5a5 70%,#a5a5a5 80%,#a5a5a5 90%,#a5a5a5)"></i><i style="height:15.34px;background:linear-gradient(90deg,#a6a6a6,#a6a6a6 12%,#a6a6a6 25%,#a6a6a6 34%,#a5a5a5 41%,#a5a5a5 48%,#a5a5a5 52%,#a5a5a5 57%,#a5a5a5 62%,#a5a5a5 70%,#a6a6a6 80%,#a6a6a6 90%,#a6a6a6)"></i><i style="height:15.34px;background:linear-gradient(90deg,#a7a7a7,#a7a7a7 12%,#a7a7a7 25%,#a6a6a6 34%,#a6a6a6 41%,#a6a6a6 48%,#a6a6a6 52%,#a6a6a6 57%,#a6a6a6 62%,#a6a6a6 70%,#a7a7a7 80%,#a7a7a7 90%,#a7a7a7)"></i><i style="height:15.34px;background:linear-gradient(90deg,#a8a8a8,#a8a8a8 12%,#a7a7a7 25%,#a7a7a7 34%,#a7a7a7 41%,#a7a7a7 48%,#a7a7a7 52%,#a7a7a7 57%,#a7a7a7 62%,#a7a7a7 70%,#a7a7a7 80%,#a7a7a7 90%,#a8a8a8)"></i><i style="height:15.34px;background:linear-gradient(90deg,#a8a8a8,#a8a8a8 12%,#a8a8a8 25%,#a8a8a8 34%,#a8a8a8 41%,#a8a8a8 48%,#a8a8a8 52%,#a8a8a8 57%,#a8a8a8 62%,#a8a8a8 70%,#a8a8a8 80%,#a8a8a8 90%,#a8a8a8)"></i><i style="height:15.34px;background:linear-gradient(90deg,#a9a9a9,#a9a9a9 12%,#a9a9a9 25%,#a9a9a9 34%,#a9a9a9 41%,#a9a9a9 48%,#a9a9a9 52%,#a9a9a9 57%,#a9a9a9 62%,#a9a9a9 70%,#a9a9a9 80%,#a9a9a9 90%,#a9a9a9)"></i><i style="height:15.34px;background:linear-gradient(90deg,#aaaaaa,#aaaaaa 12%,#aaaaaa 25%,#aaaaaa 34%,#aaaaaa 41%,#aaaaaa 48%,#aaaaaa 52%,#aaaaaa 57%,#aaaaaa 62%,#aaaaaa 70%,#aaaaaa 80%,#aaaaaa 90%,#aaaaaa)"></i><i style="height:12px;background:linear-gradient(90deg,#aaaaaa,#aaaaaa 12%,#aaaaaa 25%,#aaaaaa 34%,#aaaaaa 41%,#aaaaaa 48%,#aaaaaa 52%,#aaaaaa 57%,#aaaaaa 62%,#aaaaaa 70%,#aaaaaa 80%,#aaaaaa 90%,#aaaaaa)"></i></div></div>
<div class="hm" style="left:1340.9px;top:1819.8px;width:85.0px;height:245.4px;"><div class="hi" style="top:-12px;filter:url(#vb2);"><i style="height:12px;background:linear-gradient(90deg,#7d7d7d,#757575 12%,#696969 25%,#5f5f5f 34%,#575757 41%,#525252 48%,#505050 52%,#515151 57%,#535353 62%,#5a5a5a 70%,#666666 80%,#707070 90%,#787878)"></i><i style="height:15.34px;background:linear-gradient(90deg,#808080,#787878 12%,#6c6c6c 25%,#626262 34%,#595959 41%,#545454 48%,#525252 52%,#535353 57%,#565656 62%,#5d5d5d 70%,#6a6a6a 80%,#747474 90%,#7c7c7c)"></i><i style="height:15.34px;background:linear-gradient(90deg,#878787,#808080 12%,#747474 25%,#696969 34%,#5f5f5f 41%,#595959 48%,#565656 52%,#575757 57%,#5b5b5b 62%,#646464 70%,#717171 80%,#7c7c7c 90%,#838383)"></i><i style="height:15.34px;background:linear-gradient(90deg,#8d8d8d,#878787 12%,#7c7c7c 25%,#717171 34%,#656565 41%,#5e5e5e 48%,#5b5b5b 52%,#5c5c5c 57%,#616161 62%,#6b6b6b 70%,#797979 80%,#838383 90%,#8a8a8a)"></i><i style="height:15.34px;background:linear-gradient(90deg,#939393,#8e8e8e 12%,#858585 25%,#7a7a7a 34%,#6f6f6f 41%,#676767 48%,#636363 52%,#646464 57%,#696969 62%,#747474 70%,#828282 80%,#8b8b8b 90%,#919191)"></i><i style="height:15.34px;background:linear-gradient(90deg,#999999,#959595 12%,#8d8d8d 25%,#838383 34%,#787878 41%,#6f6f6f 48%,#6c6c6c 52%,#6d6d6d 57%,#727272 62%,#7e7e7e 70%,#8b8b8b 80%,#939393 90%,#979797)"></i><i style="height:15.34px;background:linear-gradient(90deg,#a1a1a1,#9f9f9f 12%,#9a9a9a 25%,#939393 34%,#8a8a8a 41%,#838383 48%,#808080 52%,#818181 57%,#868686 62%,#8f8f8f 70%,#989898 80%,#9d9d9d 90%,#a0a0a0)"></i><i style="height:15.34px;background:linear-gradient(90deg,#a8a8a8,#a8a8a8 12%,#a6a6a6 25%,#a3a3a3 34%,#9f9f9f 41%,#9c9c9c 48%,#9a9a9a 52%,#9b9b9b 57%,#9d9d9d 62%,#a1a1a1 70%,#a5a5a5 80%,#a7a7a7 90%,#a8a8a8)"></i><i style="height:15.34px;background:linear-gradient(90deg,#acacac,#acacac 12%,#ababab 25%,#aaaaaa 34%,#a8a8a8 41%,#a6a6a6 48%,#a6a6a6 52%,#a6a6a6 57%,#a7a7a7 62%,#a9a9a9 70%,#aaaaaa 80%,#ababab 90%,#acacac)"></i><i style="height:15.34px;background:linear-gradient(90deg,#aeaeae,#aeaeae 12%,#aeaeae 25%,#aeaeae 34%,#adadad 41%,#adadad 48%,#adadad 52%,#adadad 57%,#adadad 62%,#aeaeae 70%,#aeaeae 80%,#aeaeae 90%,#aeaeae)"></i><i style="height:15.34px;background:linear-gradient(90deg,#afafaf,#afafaf 12%,#afafaf 25%,#afafaf 34%,#afafaf 41%,#afafaf 48%,#afafaf 52%,#afafaf 57%,#afafaf 62%,#afafaf 70%,#afafaf 80%,#afafaf 90%,#afafaf)"></i><i style="height:15.34px;background:linear-gradient(90deg,#b0b0b0,#b0b0b0 12%,#b0b0b0 25%,#b0b0b0 34%,#b0b0b0 41%,#b0b0b0 48%,#b0b0b0 52%,#b0b0b0 57%,#b0b0b0 62%,#b0b0b0 70%,#b0b0b0 80%,#b0b0b0 90%,#b0b0b0)"></i><i style="height:15.34px;background:linear-gradient(90deg,#b0b0b0,#b0b0b0 12%,#b0b0b0 25%,#b0b0b0 34%,#b0b0b0 41%,#b0b0b0 48%,#b0b0b0 52%,#b0b0b0 57%,#b0b0b0 62%,#b0b0b0 70%,#b0b0b0 80%,#b0b0b0 90%,#b0b0b0)"></i><i style="height:15.34px;background:linear-gradient(90deg,#b1b1b1,#b1b1b1 12%,#b1b1b1 25%,#b1b1b1 34%,#b1b1b1 41%,#b1b1b1 48%,#b1b1b1 52%,#b1b1b1 57%,#b1b1b1 62%,#b1b1b1 70%,#b1b1b1 80%,#b1b1b1 90%,#b1b1b1)"></i><i style="height:15.34px;background:linear-gradient(90deg,#b1b1b1,#b1b1b1 12%,#b1b1b1 25%,#b1b1b1 34%,#b1b1b1 41%,#b1b1b1 48%,#b1b1b1 52%,#b1b1b1 57%,#b1b1b1 62%,#b1b1b1 70%,#b1b1b1 80%,#b1b1b1 90%,#b1b1b1)"></i><i style="height:15.34px;background:linear-gradient(90deg,#b1b1b1,#b1b1b1 12%,#b1b1b1 25%,#b1b1b1 34%,#b1b1b1 41%,#b1b1b1 48%,#b1b1b1 52%,#b1b1b1 57%,#b1b1b1 62%,#b1b1b1 70%,#b1b1b1 80%,#b1b1b1 90%,#b1b1b1)"></i><i style="height:15.34px;background:linear-gradient(90deg,#b2b2b2,#b2b2b2 12%,#b2b2b2 25%,#b2b2b2 34%,#b2b2b2 41%,#b2b2b2 48%,#b2b2b2 52%,#b2b2b2 57%,#b2b2b2 62%,#b2b2b2 70%,#b2b2b2 80%,#b2b2b2 90%,#b2b2b2)"></i><i style="height:12px;background:linear-gradient(90deg,#b2b2b2,#b2b2b2 12%,#b2b2b2 25%,#b2b2b2 34%,#b2b2b2 41%,#b2b2b2 48%,#b2b2b2 52%,#b2b2b2 57%,#b2b2b2 62%,#b2b2b2 70%,#b2b2b2 80%,#b2b2b2 90%,#b2b2b2)"></i></div></div>
<div class="hm" style="left:1434.9px;top:1819.8px;width:85.0px;height:245.4px;"><div class="hi" style="top:-12px;filter:url(#vb2);"><i style="height:12px;background:linear-gradient(90deg,#6e6e6e,#656565 12%,#585858 25%,#4c4c4c 34%,#434343 41%,#3e3e3e 48%,#3c3c3c 52%,#3d3d3d 57%,#404040 62%,#484848 70%,#545454 80%,#606060 90%,#696969)"></i><i style="height:15.34px;background:linear-gradient(90deg,#717171,#696969 12%,#5b5b5b 25%,#505050 34%,#464646 41%,#404040 48%,#3e3e3e 52%,#3f3f3f 57%,#424242 62%,#4b4b4b 70%,#585858 80%,#646464 90%,#6c6c6c)"></i><i style="height:15.34px;background:linear-gradient(90deg,#787878,#707070 12%,#636363 25%,#575757 34%,#4c4c4c 41%,#454545 48%,#424242 52%,#434343 57%,#474747 62%,#515151 70%,#606060 80%,#6b6b6b 90%,#737373)"></i><i style="height:15.34px;background:linear-gradient(90deg,#7e7e7e,#787878 12%,#6c6c6c 25%,#5f5f5f 34%,#535353 41%,#4a4a4a 48%,#474747 52%,#484848 57%,#4d4d4d 62%,#595959 70%,#686868 80%,#747474 90%,#7b7b7b)"></i><i style="height:15.34px;background:linear-gradient(90deg,#898989,#838383 12%,#787878 25%,#6c6c6c 34%,#5f5f5f 41%,#555555 48%,#525252 52%,#535353 57%,#595959 62%,#656565 70%,#757575 80%,#808080 90%,#868686)"></i><i style="height:15.34px;background:linear-gradient(90deg,#939393,#8e8e8e 12%,#858585 25%,#797979 34%,#6b6b6b 41%,#606060 48%,#5c5c5c 52%,#5e5e5e 57%,#646464 62%,#727272 70%,#828282 80%,#8b8b8b 90%,#919191)"></i><i style="height:15.34px;background:linear-gradient(90deg,#a1a1a1,#9f9f9f 12%,#989898 25%,#909090 34%,#858585 41%,#7c7c7c 48%,#797979 52%,#7a7a7a 57%,#808080 62%,#8b8b8b 70%,#969696 80%,#9d9d9d 90%,#a0a0a0)"></i><i style="height:15.34px;background:linear-gradient(90deg,#b1b1b1,#b0b0b0 12%,#adadad 25%,#a9a9a9 34%,#a4a4a4 41%,#9f9f9f 48%,#9d9d9d 52%,#9e9e9e 57%,#a1a1a1 62%,#a7a7a7 70%,#acacac 80%,#afafaf 90%,#b0b0b0)"></i><i style="height:15.34px;background:linear-gradient(90deg,#bababa,#b9b9b9 12%,#b8b8b8 25%,#b6b6b6 34%,#b4b4b4 41%,#b1b1b1 48%,#b0b0b0 52%,#b1b1b1 57%,#b2b2b2 62%,#b5b5b5 70%,#b8b8b8 80%,#b9b9b9 90%,#b9b9b9)"></i><i style="height:15.34px;background:linear-gradient(90deg,#c1c1c1,#c1c1c1 12%,#c0c0c0 25%,#c0c0c0 34%,#bfbfbf 41%,#bfbfbf 48%,#bfbfbf 52%,#bfbfbf 57%,#bfbfbf 62%,#c0c0c0 70%,#c0c0c0 80%,#c1c1c1 90%,#c1c1c1)"></i><i style="height:15.34px;background:linear-gradient(90deg,#c3c3c3,#c3c3c3 12%,#c3c3c3 25%,#c3c3c3 34%,#c3c3c3 41%,#c3c3c3 48%,#c3c3c3 52%,#c3c3c3 57%,#c3c3c3 62%,#c3c3c3 70%,#c3c3c3 80%,#c3c3c3 90%,#c3c3c3)"></i><i style="height:15.34px;background:linear-gradient(90deg,#c4c4c4,#c4c4c4 12%,#c4c4c4 25%,#c4c4c4 34%,#c4c4c4 41%,#c4c4c4 48%,#c4c4c4 52%,#c4c4c4 57%,#c4c4c4 62%,#c4c4c4 70%,#c4c4c4 80%,#c4c4c4 90%,#c4c4c4)"></i><i style="height:15.34px;background:linear-gradient(90deg,#c5c5c5,#c5c5c5 12%,#c5c5c5 25%,#c5c5c5 34%,#c5c5c5 41%,#c5c5c5 48%,#c5c5c5 52%,#c5c5c5 57%,#c5c5c5 62%,#c5c5c5 70%,#c5c5c5 80%,#c5c5c5 90%,#c5c5c5)"></i><i style="height:15.34px;background:linear-gradient(90deg,#c6c6c6,#c6c6c6 12%,#c6c6c6 25%,#c6c6c6 34%,#c6c6c6 41%,#c6c6c6 48%,#c6c6c6 52%,#c6c6c6 57%,#c6c6c6 62%,#c6c6c6 70%,#c6c6c6 80%,#c6c6c6 90%,#c6c6c6)"></i><i style="height:15.34px;background:linear-gradient(90deg,#c6c6c6,#c6c6c6 12%,#c6c6c6 25%,#c6c6c6 34%,#c6c6c6 41%,#c6c6c6 48%,#c6c6c6 52%,#c6c6c6 57%,#c6c6c6 62%,#c6c6c6 70%,#c6c6c6 80%,#c6c6c6 90%,#c6c6c6)"></i><i style="height:15.34px;background:linear-gradient(90deg,#c7c7c7,#c7c7c7 12%,#c7c7c7 25%,#c7c7c7 34%,#c7c7c7 41%,#c7c7c7 48%,#c7c7c7 52%,#c7c7c7 57%,#c7c7c7 62%,#c7c7c7 70%,#c7c7c7 80%,#c7c7c7 90%,#c7c7c7)"></i><i style="height:15.34px;background:linear-gradient(90deg,#c8c8c8,#c8c8c8 12%,#c8c8c8 25%,#c8c8c8 34%,#c8c8c8 41%,#c8c8c8 48%,#c8c8c8 52%,#c8c8c8 57%,#c8c8c8 62%,#c8c8c8 70%,#c8c8c8 80%,#c8c8c8 90%,#c8c8c8)"></i><i style="height:12px;background:linear-gradient(90deg,#c8c8c8,#c8c8c8 12%,#c8c8c8 25%,#c8c8c8 34%,#c8c8c8 41%,#c8c8c8 48%,#c8c8c8 52%,#c8c8c8 57%,#c8c8c8 62%,#c8c8c8 70%,#c8c8c8 80%,#c8c8c8 90%,#c8c8c8)"></i></div></div>
<div class="hm" style="left:1529.0px;top:1819.8px;width:85.0px;height:245.4px;"><div class="hi" style="top:-12px;filter:url(#vb2);"><i style="height:12px;background:linear-gradient(90deg,#7d7d7d,#757575 12%,#696969 25%,#5f5f5f 34%,#575757 41%,#525252 48%,#505050 52%,#515151 57%,#535353 62%,#5a5a5a 70%,#666666 80%,#707070 90%,#787878)"></i><i style="height:15.34px;background:linear-gradient(90deg,#808080,#787878 12%,#6c6c6c 25%,#626262 34%,#595959 41%,#545454 48%,#525252 52%,#535353 57%,#565656 62%,#5d5d5d 70%,#6a6a6a 80%,#747474 90%,#7c7c7c)"></i><i style="height:15.34px;background:linear-gradient(90deg,#878787,#808080 12%,#747474 25%,#696969 34%,#5f5f5f 41%,#595959 48%,#565656 52%,#575757 57%,#5b5b5b 62%,#646464 70%,#717171 80%,#7c7c7c 90%,#838383)"></i><i style="height:15.34px;background:linear-gradient(90deg,#8d8d8d,#878787 12%,#7c7c7c 25%,#717171 34%,#656565 41%,#5e5e5e 48%,#5b5b5b 52%,#5c5c5c 57%,#616161 62%,#6b6b6b 70%,#797979 80%,#838383 90%,#8a8a8a)"></i><i style="height:15.34px;background:linear-gradient(90deg,#939393,#8e8e8e 12%,#858585 25%,#7a7a7a 34%,#6f6f6f 41%,#676767 48%,#636363 52%,#646464 57%,#696969 62%,#747474 70%,#828282 80%,#8b8b8b 90%,#919191)"></i><i style="height:15.34px;background:linear-gradient(90deg,#999999,#959595 12%,#8d8d8d 25%,#838383 34%,#787878 41%,#6f6f6f 48%,#6c6c6c 52%,#6d6d6d 57%,#727272 62%,#7e7e7e 70%,#8b8b8b 80%,#939393 90%,#979797)"></i><i style="height:15.34px;background:linear-gradient(90deg,#a1a1a1,#9f9f9f 12%,#9a9a9a 25%,#939393 34%,#8a8a8a 41%,#838383 48%,#808080 52%,#818181 57%,#868686 62%,#8f8f8f 70%,#989898 80%,#9d9d9d 90%,#a0a0a0)"></i><i style="height:15.34px;background:linear-gradient(90deg,#a8a8a8,#a8a8a8 12%,#a6a6a6 25%,#a3a3a3 34%,#9f9f9f 41%,#9c9c9c 48%,#9a9a9a 52%,#9b9b9b 57%,#9d9d9d 62%,#a1a1a1 70%,#a5a5a5 80%,#a7a7a7 90%,#a8a8a8)"></i><i style="height:15.34px;background:linear-gradient(90deg,#acacac,#acacac 12%,#ababab 25%,#aaaaaa 34%,#a8a8a8 41%,#a6a6a6 48%,#a6a6a6 52%,#a6a6a6 57%,#a7a7a7 62%,#a9a9a9 70%,#aaaaaa 80%,#ababab 90%,#acacac)"></i><i style="height:15.34px;background:linear-gradient(90deg,#aeaeae,#aeaeae 12%,#aeaeae 25%,#aeaeae 34%,#adadad 41%,#adadad 48%,#adadad 52%,#adadad 57%,#adadad 62%,#aeaeae 70%,#aeaeae 80%,#aeaeae 90%,#aeaeae)"></i><i style="height:15.34px;background:linear-gradient(90deg,#afafaf,#afafaf 12%,#afafaf 25%,#afafaf 34%,#afafaf 41%,#afafaf 48%,#afafaf 52%,#afafaf 57%,#afafaf 62%,#afafaf 70%,#afafaf 80%,#afafaf 90%,#afafaf)"></i><i style="height:15.34px;background:linear-gradient(90deg,#b0b0b0,#b0b0b0 12%,#b0b0b0 25%,#b0b0b0 34%,#b0b0b0 41%,#b0b0b0 48%,#b0b0b0 52%,#b0b0b0 57%,#b0b0b0 62%,#b0b0b0 70%,#b0b0b0 80%,#b0b0b0 90%,#b0b0b0)"></i><i style="height:15.34px;background:linear-gradient(90deg,#b0b0b0,#b0b0b0 12%,#b0b0b0 25%,#b0b0b0 34%,#b0b0b0 41%,#b0b0b0 48%,#b0b0b0 52%,#b0b0b0 57%,#b0b0b0 62%,#b0b0b0 70%,#b0b0b0 80%,#b0b0b0 90%,#b0b0b0)"></i><i style="height:15.34px;background:linear-gradient(90deg,#b1b1b1,#b1b1b1 12%,#b1b1b1 25%,#b1b1b1 34%,#b1b1b1 41%,#b1b1b1 48%,#b1b1b1 52%,#b1b1b1 57%,#b1b1b1 62%,#b1b1b1 70%,#b1b1b1 80%,#b1b1b1 90%,#b1b1b1)"></i><i style="height:15.34px;background:linear-gradient(90deg,#b1b1b1,#b1b1b1 12%,#b1b1b1 25%,#b1b1b1 34%,#b1b1b1 41%,#b1b1b1 48%,#b1b1b1 52%,#b1b1b1 57%,#b1b1b1 62%,#b1b1b1 70%,#b1b1b1 80%,#b1b1b1 90%,#b1b1b1)"></i><i style="height:15.34px;background:linear-gradient(90deg,#b1b1b1,#b1b1b1 12%,#b1b1b1 25%,#b1b1b1 34%,#b1b1b1 41%,#b1b1b1 48%,#b1b1b1 52%,#b1b1b1 57%,#b1b1b1 62%,#b1b1b1 70%,#b1b1b1 80%,#b1b1b1 90%,#b1b1b1)"></i><i style="height:15.34px;background:linear-gradient(90deg,#b2b2b2,#b2b2b2 12%,#b2b2b2 25%,#b2b2b2 34%,#b2b2b2 41%,#b2b2b2 48%,#b2b2b2 52%,#b2b2b2 57%,#b2b2b2 62%,#b2b2b2 70%,#b2b2b2 80%,#b2b2b2 90%,#b2b2b2)"></i><i style="height:12px;background:linear-gradient(90deg,#b2b2b2,#b2b2b2 12%,#b2b2b2 25%,#b2b2b2 34%,#b2b2b2 41%,#b2b2b2 48%,#b2b2b2 52%,#b2b2b2 57%,#b2b2b2 62%,#b2b2b2 70%,#b2b2b2 80%,#b2b2b2 90%,#b2b2b2)"></i></div></div>
<div class="hm" style="left:1623.1px;top:1819.8px;width:85.0px;height:245.4px;"><div class="hi" style="top:-12px;filter:url(#vb2);"><i style="height:12px;background:linear-gradient(90deg,#878787,#7e7e7e 12%,#717171 25%,#656565 34%,#5c5c5c 41%,#575757 48%,#555555 52%,#565656 57%,#595959 62%,#616161 70%,#6d6d6d 80%,#797979 90%,#828282)"></i><i style="height:15.34px;background:linear-gradient(90deg,#8a8a8a,#828282 12%,#747474 25%,#696969 34%,#5f5f5f 41%,#595959 48%,#575757 52%,#585858 57%,#5b5b5b 62%,#646464 70%,#717171 80%,#7d7d7d 90%,#858585)"></i><i style="height:15.34px;background:linear-gradient(90deg,#919191,#898989 12%,#7c7c7c 25%,#707070 34%,#656565 41%,#5e5e5e 48%,#5b5b5b 52%,#5c5c5c 57%,#606060 62%,#6a6a6a 70%,#797979 80%,#848484 90%,#8c8c8c)"></i><i style="height:15.34px;background:linear-gradient(90deg,#979797,#909090 12%,#848484 25%,#787878 34%,#6c6c6c 41%,#636363 48%,#606060 52%,#616161 57%,#666666 62%,#727272 70%,#818181 80%,#8c8c8c 90%,#939393)"></i><i style="height:15.34px;background:linear-gradient(90deg,#9d9d9d,#989898 12%,#8d8d8d 25%,#818181 34%,#757575 41%,#6c6c6c 48%,#686868 52%,#6a6a6a 57%,#6f6f6f 62%,#7b7b7b 70%,#8a8a8a 80%,#949494 90%,#9a9a9a)"></i><i style="height:15.34px;background:linear-gradient(90deg,#a3a3a3,#9f9f9f 12%,#969696 25%,#8b8b8b 34%,#7e7e7e 41%,#757575 48%,#717171 52%,#727272 57%,#787878 62%,#858585 70%,#939393 80%,#9c9c9c 90%,#a1a1a1)"></i><i style="height:15.34px;background:linear-gradient(90deg,#aaaaaa,#a8a8a8 12%,#a2a2a2 25%,#9b9b9b 34%,#919191 41%,#8a8a8a 48%,#868686 52%,#888888 57%,#8d8d8d 62%,#969696 70%,#a0a0a0 80%,#a6a6a6 90%,#a9a9a9)"></i><i style="height:15.34px;background:linear-gradient(90deg,#b1b1b1,#b0b0b0 12%,#aeaeae 25%,#ababab 34%,#a7a7a7 41%,#a4a4a4 48%,#a2a2a2 52%,#a3a3a3 57%,#a5a5a5 62%,#a9a9a9 70%,#adadad 80%,#afafaf 90%,#b0b0b0)"></i><i style="height:15.34px;background:linear-gradient(90deg,#b4b4b4,#b3b3b3 12%,#b2b2b2 25%,#b1b1b1 34%,#b0b0b0 41%,#aeaeae 48%,#adadad 52%,#aeaeae 57%,#afafaf 62%,#b0b0b0 70%,#b2b2b2 80%,#b3b3b3 90%,#b3b3b3)"></i><i style="height:15.34px;background:linear-gradient(90deg,#b5b5b5,#b5b5b5 12%,#b5b5b5 25%,#b5b5b5 34%,#b5b5b5 41%,#b4b4b4 48%,#b4b4b4 52%,#b4b4b4 57%,#b4b4b4 62%,#b5b5b5 70%,#b5b5b5 80%,#b5b5b5 90%,#b5b5b5)"></i><i style="height:15.34px;background:linear-gradient(90deg,#b6b6b6,#b6b6b6 12%,#b6b6b6 25%,#b6b6b6 34%,#b6b6b6 41%,#b6b6b6 48%,#b6b6b6 52%,#b6b6b6 57%,#b6b6b6 62%,#b6b6b6 70%,#b6b6b6 80%,#b6b6b6 90%,#b6b6b6)"></i><i style="height:15.34px;background:linear-gradient(90deg,#b7b7b7,#b7b7b7 12%,#b7b7b7 25%,#b7b7b7 34%,#b7b7b7 41%,#b7b7b7 48%,#b7b7b7 52%,#b7b7b7 57%,#b7b7b7 62%,#b7b7b7 70%,#b7b7b7 80%,#b7b7b7 90%,#b7b7b7)"></i><i style="height:15.34px;background:linear-gradient(90deg,#b7b7b7,#b7b7b7 12%,#b7b7b7 25%,#b7b7b7 34%,#b7b7b7 41%,#b7b7b7 48%,#b7b7b7 52%,#b7b7b7 57%,#b7b7b7 62%,#b7b7b7 70%,#b7b7b7 80%,#b7b7b7 90%,#b7b7b7)"></i><i style="height:15.34px;background:linear-gradient(90deg,#b8b8b8,#b8b8b8 12%,#b8b8b8 25%,#b8b8b8 34%,#b8b8b8 41%,#b8b8b8 48%,#b8b8b8 52%,#b8b8b8 57%,#b8b8b8 62%,#b8b8b8 70%,#b8b8b8 80%,#b8b8b8 90%,#b8b8b8)"></i><i style="height:15.34px;background:linear-gradient(90deg,#b8b8b8,#b8b8b8 12%,#b8b8b8 25%,#b8b8b8 34%,#b8b8b8 41%,#b8b8b8 48%,#b8b8b8 52%,#b8b8b8 57%,#b8b8b8 62%,#b8b8b8 70%,#b8b8b8 80%,#b8b8b8 90%,#b8b8b8)"></i><i style="height:15.34px;background:linear-gradient(90deg,#b8b8b8,#b8b8b8 12%,#b8b8b8 25%,#b8b8b8 34%,#b8b8b8 41%,#b8b8b8 48%,#b8b8b8 52%,#b8b8b8 57%,#b8b8b8 62%,#b8b8b8 70%,#b8b8b8 80%,#b8b8b8 90%,#b8b8b8)"></i><i style="height:15.34px;background:linear-gradient(90deg,#b9b9b9,#b9b9b9 12%,#b9b9b9 25%,#b9b9b9 34%,#b9b9b9 41%,#b9b9b9 48%,#b9b9b9 52%,#b9b9b9 57%,#b9b9b9 62%,#b9b9b9 70%,#b9b9b9 80%,#b9b9b9 90%,#b9b9b9)"></i><i style="height:12px;background:linear-gradient(90deg,#b9b9b9,#b9b9b9 12%,#b9b9b9 25%,#b9b9b9 34%,#b9b9b9 41%,#b9b9b9 48%,#b9b9b9 52%,#b9b9b9 57%,#b9b9b9 62%,#b9b9b9 70%,#b9b9b9 80%,#b9b9b9 90%,#b9b9b9)"></i></div></div>
<div class="hm" style="left:1717.1px;top:1819.8px;width:85.0px;height:245.4px;"><div class="hi" style="top:-12px;filter:url(#vb2);"><i style="height:12px;background:linear-gradient(90deg,#6e6e6e,#636363 12%,#535353 25%,#464646 34%,#3b3b3b 41%,#343434 48%,#323232 52%,#333333 57%,#373737 62%,#404040 70%,#4f4f4f 80%,#5d5d5d 90%,#686868)"></i><i style="height:15.34px;background:linear-gradient(90deg,#717171,#676767 12%,#575757 25%,#494949 34%,#3e3e3e 41%,#373737 48%,#343434 52%,#353535 57%,#393939 62%,#434343 70%,#535353 80%,#616161 90%,#6c6c6c)"></i><i style="height:15.34px;background:linear-gradient(90deg,#787878,#6e6e6e 12%,#5f5f5f 25%,#515151 34%,#444444 41%,#3b3b3b 48%,#383838 52%,#393939 57%,#3e3e3e 62%,#4a4a4a 70%,#5b5b5b 80%,#696969 90%,#737373)"></i><i style="height:15.34px;background:linear-gradient(90deg,#7e7e7e,#767676 12%,#686868 25%,#5a5a5a 34%,#4b4b4b 41%,#414141 48%,#3d3d3d 52%,#3f3f3f 57%,#454545 62%,#525252 70%,#646464 80%,#727272 90%,#7a7a7a)"></i><i style="height:15.34px;background:linear-gradient(90deg,#878787,#808080 12%,#747474 25%,#676767 34%,#585858 41%,#4e4e4e 48%,#4a4a4a 52%,#4b4b4b 57%,#525252 62%,#606060 70%,#717171 80%,#7d7d7d 90%,#838383)"></i><i style="height:15.34px;background:linear-gradient(90deg,#8f8f8f,#8a8a8a 12%,#808080 25%,#747474 34%,#666666 41%,#5b5b5b 48%,#565656 52%,#585858 57%,#5f5f5f 62%,#6d6d6d 70%,#7d7d7d 80%,#878787 90%,#8c8c8c)"></i><i style="height:15.34px;background:linear-gradient(90deg,#999999,#969696 12%,#909090 25%,#888888 34%,#7e7e7e 41%,#757575 48%,#727272 52%,#737373 57%,#787878 62%,#838383 70%,#8e8e8e 80%,#949494 90%,#979797)"></i><i style="height:15.34px;background:linear-gradient(90deg,#a3a3a3,#a2a2a2 12%,#a0a0a0 25%,#9d9d9d 34%,#999999 41%,#959595 48%,#949494 52%,#949494 57%,#979797 62%,#9b9b9b 70%,#9f9f9f 80%,#a1a1a1 90%,#a2a2a2)"></i><i style="height:15.34px;background:linear-gradient(90deg,#a8a8a8,#a7a7a7 12%,#a7a7a7 25%,#a5a5a5 34%,#a4a4a4 41%,#a2a2a2 48%,#a1a1a1 52%,#a2a2a2 57%,#a3a3a3 62%,#a5a5a5 70%,#a6a6a6 80%,#a7a7a7 90%,#a7a7a7)"></i><i style="height:15.34px;background:linear-gradient(90deg,#ababab,#ababab 12%,#ababab 25%,#aaaaaa 34%,#aaaaaa 41%,#aaaaaa 48%,#aaaaaa 52%,#aaaaaa 57%,#aaaaaa 62%,#aaaaaa 70%,#ababab 80%,#ababab 90%,#ababab)"></i><i style="height:15.34px;background:linear-gradient(90deg,#acacac,#acacac 12%,#acacac 25%,#acacac 34%,#acacac 41%,#acacac 48%,#acacac 52%,#acacac 57%,#acacac 62%,#acacac 70%,#acacac 80%,#acacac 90%,#acacac)"></i><i style="height:15.34px;background:linear-gradient(90deg,#adadad,#adadad 12%,#adadad 25%,#adadad 34%,#adadad 41%,#adadad 48%,#adadad 52%,#adadad 57%,#adadad 62%,#adadad 70%,#adadad 80%,#adadad 90%,#adadad)"></i><i style="height:15.34px;background:linear-gradient(90deg,#adadad,#adadad 12%,#adadad 25%,#adadad 34%,#adadad 41%,#adadad 48%,#adadad 52%,#adadad 57%,#adadad 62%,#adadad 70%,#adadad 80%,#adadad 90%,#adadad)"></i><i style="height:15.34px;background:linear-gradient(90deg,#aeaeae,#aeaeae 12%,#aeaeae 25%,#aeaeae 34%,#aeaeae 41%,#aeaeae 48%,#aeaeae 52%,#aeaeae 57%,#aeaeae 62%,#aeaeae 70%,#aeaeae 80%,#aeaeae 90%,#aeaeae)"></i><i style="height:15.34px;background:linear-gradient(90deg,#aeaeae,#aeaeae 12%,#aeaeae 25%,#aeaeae 34%,#aeaeae 41%,#aeaeae 48%,#aeaeae 52%,#aeaeae 57%,#aeaeae 62%,#aeaeae 70%,#aeaeae 80%,#aeaeae 90%,#aeaeae)"></i><i style="height:15.34px;background:linear-gradient(90deg,#aeaeae,#aeaeae 12%,#aeaeae 25%,#aeaeae 34%,#aeaeae 41%,#aeaeae 48%,#aeaeae 52%,#aeaeae 57%,#aeaeae 62%,#aeaeae 70%,#aeaeae 80%,#aeaeae 90%,#aeaeae)"></i><i style="height:15.34px;background:linear-gradient(90deg,#afafaf,#afafaf 12%,#afafaf 25%,#afafaf 34%,#afafaf 41%,#afafaf 48%,#afafaf 52%,#afafaf 57%,#afafaf 62%,#afafaf 70%,#afafaf 80%,#afafaf 90%,#afafaf)"></i><i style="height:12px;background:linear-gradient(90deg,#afafaf,#afafaf 12%,#afafaf 25%,#afafaf 34%,#afafaf 41%,#afafaf 48%,#afafaf 52%,#afafaf 57%,#afafaf 62%,#afafaf 70%,#afafaf 80%,#afafaf 90%,#afafaf)"></i></div></div>
<div class="hm" style="left:1811.2px;top:1819.8px;width:85.0px;height:245.4px;"><div class="hi" style="top:-12px;filter:url(#vb2);"><i style="height:12px;background:linear-gradient(90deg,#8c8c8c,#828282 12%,#737373 25%,#676767 34%,#5d5d5d 41%,#575757 48%,#555555 52%,#565656 57%,#595959 62%,#626262 70%,#707070 80%,#7d7d7d 90%,#868686)"></i><i style="height:15.34px;background:linear-gradient(90deg,#909090,#878787 12%,#787878 25%,#6b6b6b 34%,#616161 41%,#5b5b5b 48%,#585858 52%,#595959 57%,#5d5d5d 62%,#666666 70%,#757575 80%,#828282 90%,#8b8b8b)"></i><i style="height:15.34px;background:linear-gradient(90deg,#999999,#909090 12%,#828282 25%,#757575 34%,#696969 41%,#616161 48%,#5e5e5e 52%,#5f5f5f 57%,#646464 62%,#6f6f6f 70%,#7f7f7f 80%,#8b8b8b 90%,#949494)"></i><i style="height:15.34px;background:linear-gradient(90deg,#a1a1a1,#9a9a9a 12%,#8d8d8d 25%,#808080 34%,#727272 41%,#696969 48%,#656565 52%,#676767 57%,#6c6c6c 62%,#797979 70%,#8a8a8a 80%,#969696 90%,#9e9e9e)"></i><i style="height:15.34px;background:linear-gradient(90deg,#aeaeae,#a8a8a8 12%,#9c9c9c 25%,#8e8e8e 34%,#808080 41%,#767676 48%,#727272 52%,#737373 57%,#7a7a7a 62%,#878787 70%,#999999 80%,#a4a4a4 90%,#ababab)"></i><i style="height:15.34px;background:linear-gradient(90deg,#bababa,#b5b5b5 12%,#ababab 25%,#9e9e9e 34%,#8f8f8f 41%,#838383 48%,#7e7e7e 52%,#808080 57%,#878787 62%,#969696 70%,#a8a8a8 80%,#b2b2b2 90%,#b8b8b8)"></i><i style="height:15.34px;background:linear-gradient(90deg,#c6c6c6,#c3c3c3 12%,#bcbcbc 25%,#b3b3b3 34%,#a9a9a9 41%,#a0a0a0 48%,#9c9c9c 52%,#9d9d9d 57%,#a3a3a3 62%,#aeaeae 70%,#bababa 80%,#c1c1c1 90%,#c4c4c4)"></i><i style="height:15.34px;background:linear-gradient(90deg,#d0d0d0,#cfcfcf 12%,#cdcdcd 25%,#cacaca 34%,#c6c6c6 41%,#c2c2c2 48%,#c0c0c0 52%,#c1c1c1 57%,#c3c3c3 62%,#c8c8c8 70%,#cccccc 80%,#cecece 90%,#cfcfcf)"></i><i style="height:15.34px;background:linear-gradient(90deg,#d4d4d4,#d4d4d4 12%,#d3d3d3 25%,#d2d2d2 34%,#d0d0d0 41%,#cecece 48%,#cecece 52%,#cecece 57%,#cfcfcf 62%,#d1d1d1 70%,#d2d2d2 80%,#d3d3d3 90%,#d4d4d4)"></i><i style="height:15.34px;background:linear-gradient(90deg,#d6d6d6,#d6d6d6 12%,#d6d6d6 25%,#d6d6d6 34%,#d5d5d5 41%,#d5d5d5 48%,#d5d5d5 52%,#d5d5d5 57%,#d5d5d5 62%,#d6d6d6 70%,#d6d6d6 80%,#d6d6d6 90%,#d6d6d6)"></i><i style="height:15.34px;background:linear-gradient(90deg,#d7d7d7,#d7d7d7 12%,#d7d7d7 25%,#d7d7d7 34%,#d7d7d7 41%,#d7d7d7 48%,#d7d7d7 52%,#d7d7d7 57%,#d7d7d7 62%,#d7d7d7 70%,#d7d7d7 80%,#d7d7d7 90%,#d7d7d7)"></i><i style="height:15.34px;background:linear-gradient(90deg,#d8d8d8,#d8d8d8 12%,#d8d8d8 25%,#d8d8d8 34%,#d8d8d8 41%,#d8d8d8 48%,#d8d8d8 52%,#d8d8d8 57%,#d8d8d8 62%,#d8d8d8 70%,#d8d8d8 80%,#d8d8d8 90%,#d8d8d8)"></i><i style="height:15.34px;background:linear-gradient(90deg,#d8d8d8,#d8d8d8 12%,#d8d8d8 25%,#d8d8d8 34%,#d8d8d8 41%,#d8d8d8 48%,#d8d8d8 52%,#d8d8d8 57%,#d8d8d8 62%,#d8d8d8 70%,#d8d8d8 80%,#d8d8d8 90%,#d8d8d8)"></i><i style="height:15.34px;background:linear-gradient(90deg,#d9d9d9,#d9d9d9 12%,#d9d9d9 25%,#d9d9d9 34%,#d9d9d9 41%,#d9d9d9 48%,#d9d9d9 52%,#d9d9d9 57%,#d9d9d9 62%,#d9d9d9 70%,#d9d9d9 80%,#d9d9d9 90%,#d9d9d9)"></i><i style="height:15.34px;background:linear-gradient(90deg,#d9d9d9,#d9d9d9 12%,#d9d9d9 25%,#d9d9d9 34%,#d9d9d9 41%,#d9d9d9 48%,#d9d9d9 52%,#d9d9d9 57%,#d9d9d9 62%,#d9d9d9 70%,#d9d9d9 80%,#d9d9d9 90%,#d9d9d9)"></i><i style="height:15.34px;background:linear-gradient(90deg,#d9d9d9,#d9d9d9 12%,#d9d9d9 25%,#d9d9d9 34%,#d9d9d9 41%,#d9d9d9 48%,#d9d9d9 52%,#d9d9d9 57%,#d9d9d9 62%,#d9d9d9 70%,#d9d9d9 80%,#d9d9d9 90%,#d9d9d9)"></i><i style="height:15.34px;background:linear-gradient(90deg,#dadada,#dadada 12%,#dadada 25%,#dadada 34%,#dadada 41%,#dadada 48%,#dadada 52%,#dadada 57%,#dadada 62%,#dadada 70%,#dadada 80%,#dadada 90%,#dadada)"></i><i style="height:12px;background:linear-gradient(90deg,#dadada,#dadada 12%,#dadada 25%,#dadada 34%,#dadada 41%,#dadada 48%,#dadada 52%,#dadada 57%,#dadada 62%,#dadada 70%,#dadada 80%,#dadada 90%,#dadada)"></i></div></div>
<div class="hm" style="left:118.1px;top:2173.6px;width:85.0px;height:246.1px;"><div class="hi" style="top:-12px;filter:url(#vb2);"><i style="height:12px;background:linear-gradient(90deg,#b0b0b0,#b4b4b4 12%,#b8b8b8 25%,#bcbcbc 38%,#bebebe 44%,#bfbfbf 49%,#b5b5b5 50%,#a1a1a1 51%,#939393 52%,#6e6e6e 54%,#878787 55%,#959595 56%,#a3a3a3 61%,#afafaf 69%,#b9b9b9 81%,#bdbdbd 91%,#bebebe)"></i><i style="height:15.38px;background:linear-gradient(90deg,#b2b2b2,#b6b6b6 12%,#bababa 25%,#bdbdbd 38%,#bfbfbf 44%,#c0c0c0 49%,#b6b6b6 50%,#a1a1a1 51%,#949494 52%,#6f6f6f 54%,#888888 55%,#969696 56%,#a4a4a4 61%,#b0b0b0 69%,#bababa 81%,#bebebe 91%,#bfbfbf)"></i><i style="height:15.38px;background:linear-gradient(90deg,#b7b7b7,#bababa 12%,#bdbdbd 25%,#c0c0c0 38%,#c1c1c1 44%,#c1c1c1 49%,#b8b8b8 50%,#a3a3a3 51%,#959595 52%,#717171 54%,#8a8a8a 55%,#999999 56%,#a6a6a6 61%,#b2b2b2 69%,#bcbcbc 81%,#bfbfbf 91%,#c1c1c1)"></i><i style="height:15.38px;background:linear-gradient(90deg,#bcbcbc,#bebebe 12%,#c0c0c0 25%,#c2c2c2 38%,#c3c3c3 44%,#c3c3c3 49%,#bababa 50%,#a4a4a4 51%,#979797 52%,#737373 54%,#8c8c8c 55%,#9b9b9b 56%,#a8a8a8 61%,#b4b4b4 69%,#bebebe 81%,#c1c1c1 91%,#c3c3c3)"></i><i style="height:15.38px;background:linear-gradient(90deg,#c0c0c0,#c2c2c2 12%,#c3c3c3 25%,#c5c5c5 38%,#c5c5c5 44%,#c5c5c5 49%,#bbbbbb 50%,#a6a6a6 51%,#989898 52%,#757575 54%,#8e8e8e 55%,#9d9d9d 56%,#aaaaaa 61%,#b6b6b6 69%,#c0c0c0 81%,#c3c3c3 91%,#c4c4c4)"></i><i style="height:15.38px;background:linear-gradient(90deg,#c5c5c5,#c6c6c6 12%,#c6c6c6 25%,#c7c7c7 38%,#c7c7c7 44%,#c7c7c7 49%,#bdbdbd 50%,#a7a7a7 51%,#999999 52%,#777777 54%,#919191 55%,#9f9f9f 56%,#acacac 61%,#b8b8b8 69%,#c1c1c1 81%,#c5c5c5 91%,#c6c6c6)"></i><i style="height:15.38px;background:linear-gradient(90deg,#c9c9c9,#c9c9c9 12%,#c9c9c9 25%,#cacaca 38%,#cacaca 44%,#c9c9c9 49%,#bfbfbf 50%,#a9a9a9 51%,#9b9b9b 52%,#7a7a7a 54%,#939393 55%,#a2a2a2 56%,#aeaeae 61%,#bababa 69%,#c3c3c3 81%,#c7c7c7 91%,#c8c8c8)"></i><i style="height:15.38px;background:linear-gradient(90deg,#cbcbcb,#cbcbcb 12%,#cbcbcb 25%,#cbcbcb 38%,#cbcbcb 44%,#cbcbcb 49%,#c0c0c0 50%,#ababab 51%,#9c9c9c 52%,#7c7c7c 54%,#959595 55%,#a4a4a4 56%,#b0b0b0 61%,#bcbcbc 69%,#c5c5c5 81%,#c8c8c8 91%,#cacaca)"></i><i style="height:15.38px;background:linear-gradient(90deg,#cdcdcd,#cdcdcd 12%,#cdcdcd 25%,#cdcdcd 38%,#cdcdcd 44%,#cccccc 49%,#c2c2c2 50%,#acacac 51%,#9e9e9e 52%,#7e7e7e 54%,#979797 55%,#a6a6a6 56%,#b2b2b2 61%,#bebebe 69%,#c7c7c7 81%,#cacaca 91%,#cccccc)"></i><i style="height:15.38px;background:linear-gradient(90deg,#cfcfcf,#cfcfcf 12%,#cfcfcf 25%,#cfcfcf 38%,#cfcfcf 44%,#cecece 49%,#c3c3c3 50%,#adadad 51%,#9f9f9f 52%,#808080 54%,#999999 55%,#a8a8a8 56%,#b4b4b4 61%,#bfbfbf 69%,#c8c8c8 81%,#cccccc 91%,#cdcdcd)"></i><i style="height:15.38px;background:linear-gradient(90deg,#d0d0d0,#d0d0d0 12%,#d0d0d0 25%,#d0d0d0 38%,#d0d0d0 44%,#cfcfcf 49%,#c5c5c5 50%,#aeaeae 51%,#a0a0a0 52%,#818181 54%,#9b9b9b 55%,#aaaaaa 56%,#b6b6b6 61%,#c1c1c1 69%,#cacaca 81%,#cdcdcd 91%,#cecece)"></i><i style="height:15.38px;background:linear-gradient(90deg,#d1d1d1,#d1d1d1 12%,#d1d1d1 25%,#d1d1d1 38%,#d1d1d1 44%,#d0d0d0 49%,#c6c6c6 50%,#afafaf 51%,#a1a1a1 52%,#838383 54%,#9d9d9d 55%,#ababab 56%,#b7b7b7 61%,#c2c2c2 69%,#cbcbcb 81%,#cecece 91%,#d0d0d0)"></i><i style="height:15.38px;background:linear-gradient(90deg,#d2d2d2,#d2d2d2 12%,#d2d2d2 25%,#d2d2d2 38%,#d2d2d2 44%,#d1d1d1 49%,#c7c7c7 50%,#b0b0b0 51%,#a2a2a2 52%,#848484 54%,#9e9e9e 55%,#adadad 56%,#b9b9b9 61%,#c4c4c4 69%,#cccccc 81%,#d0d0d0 91%,#d1d1d1)"></i><i style="height:15.38px;background:linear-gradient(90deg,#d4d4d4,#d4d4d4 12%,#d4d4d4 25%,#d4d4d4 38%,#d4d4d4 44%,#d3d3d3 49%,#c8c8c8 50%,#b2b2b2 51%,#a3a3a3 52%,#868686 54%,#a0a0a0 55%,#afafaf 56%,#bbbbbb 61%,#c5c5c5 69%,#cecece 81%,#d1d1d1 91%,#d2d2d2)"></i><i style="height:15.38px;background:linear-gradient(90deg,#d5d5d5,#d5d5d5 12%,#d5d5d5 25%,#d5d5d5 38%,#d5d5d5 44%,#d4d4d4 49%,#c9c9c9 50%,#b3b3b3 51%,#a4a4a4 52%,#888888 54%,#a2a2a2 55%,#b1b1b1 56%,#bcbcbc 61%,#c7c7c7 69%,#cfcfcf 81%,#d2d2d2 91%,#d3d3d3)"></i><i style="height:15.38px;background:linear-gradient(90deg,#d6d6d6,#d6d6d6 12%,#d6d6d6 25%,#d6d6d6 38%,#d6d6d6 44%,#d5d5d5 49%,#cacaca 50%,#b4b4b4 51%,#a5a5a5 52%,#898989 54%,#a3a3a3 55%,#b2b2b2 56%,#bebebe 61%,#c8c8c8 69%,#d0d0d0 81%,#d3d3d3 91%,#d5d5d5)"></i><i style="height:15.38px;background:linear-gradient(90deg,#d7d7d7,#d7d7d7 12%,#d7d7d7 25%,#d7d7d7 38%,#d7d7d7 44%,#d6d6d6 49%,#cccccc 50%,#b5b5b5 51%,#a6a6a6 52%,#8b8b8b 54%,#a5a5a5 55%,#b4b4b4 56%,#bfbfbf 61%,#c9c9c9 69%,#d2d2d2 81%,#d5d5d5 91%,#d6d6d6)"></i><i style="height:12px;background:linear-gradient(90deg,#d8d8d8,#d8d8d8 12%,#d8d8d8 25%,#d8d8d8 38%,#d8d8d8 44%,#d7d7d7 49%,#cccccc 50%,#b5b5b5 51%,#a6a6a6 52%,#8c8c8c 54%,#a6a6a6 55%,#b5b5b5 56%,#c0c0c0 61%,#cacaca 69%,#d2d2d2 81%,#d5d5d5 91%,#d7d7d7)"></i></div></div>
<div class="hm" style="left:212.2px;top:2173.6px;width:85.0px;height:246.1px;"><div class="hi" style="top:-12px;filter:url(#vb2);"><i style="height:12px;background:linear-gradient(90deg,#e1e1e1,#e1e1e1 12%,#e1e1e1 25%,#e1e1e1 38%,#e1e1e1 44%,#e1e1e1 49%,#dfdfdf 51%,#dadada 52%,#d7d7d7 54%,#d5d5d5 55%,#dbdbdb 57%,#dddddd 59%,#dedede 64%,#dfdfdf 69%,#e0e0e0 81%,#e1e1e1 91%,#e1e1e1)"></i><i style="height:15.38px;background:linear-gradient(90deg,#e1e1e1,#e1e1e1 12%,#e1e1e1 25%,#e1e1e1 38%,#e1e1e1 44%,#e1e1e1 49%,#dfdfdf 51%,#dadada 52%,#d7d7d7 54%,#d6d6d6 55%,#dbdbdb 57%,#dddddd 59%,#dfdfdf 64%,#dfdfdf 69%,#e0e0e0 81%,#e1e1e1 91%,#e1e1e1)"></i><i style="height:15.38px;background:linear-gradient(90deg,#e1e1e1,#e1e1e1 12%,#e1e1e1 25%,#e1e1e1 38%,#e1e1e1 44%,#e1e1e1 49%,#dfdfdf 51%,#dadada 52%,#d7d7d7 54%,#d6d6d6 55%,#dbdbdb 57%,#dedede 59%,#dfdfdf 64%,#e0e0e0 69%,#e1e1e1 81%,#e1e1e1 91%,#e1e1e1)"></i><i style="height:15.38px;background:linear-gradient(90deg,#e2e2e2,#e2e2e2 12%,#e2e2e2 25%,#e2e2e2 38%,#e2e2e2 44%,#e2e2e2 49%,#dfdfdf 51%,#dbdbdb 52%,#d8d8d8 54%,#d6d6d6 55%,#dbdbdb 57%,#dedede 59%,#dfdfdf 64%,#e0e0e0 69%,#e1e1e1 81%,#e1e1e1 91%,#e2e2e2)"></i><i style="height:15.38px;background:linear-gradient(90deg,#e2e2e2,#e2e2e2 12%,#e2e2e2 25%,#e2e2e2 38%,#e2e2e2 44%,#e2e2e2 49%,#e0e0e0 51%,#dbdbdb 52%,#d8d8d8 54%,#d7d7d7 55%,#dcdcdc 57%,#dedede 59%,#e0e0e0 64%,#e0e0e0 69%,#e1e1e1 81%,#e2e2e2 91%,#e2e2e2)"></i><i style="height:15.38px;background:linear-gradient(90deg,#e2e2e2,#e2e2e2 12%,#e2e2e2 25%,#e2e2e2 38%,#e2e2e2 44%,#e2e2e2 49%,#e0e0e0 51%,#dbdbdb 52%,#d8d8d8 54%,#d7d7d7 55%,#dcdcdc 57%,#dfdfdf 59%,#e0e0e0 64%,#e1e1e1 69%,#e2e2e2 81%,#e2e2e2 91%,#e2e2e2)"></i><i style="height:15.38px;background:linear-gradient(90deg,#e3e3e3,#e3e3e3 12%,#e3e3e3 25%,#e3e3e3 38%,#e3e3e3 44%,#e3e3e3 49%,#e0e0e0 51%,#dcdcdc 52%,#d9d9d9 54%,#d7d7d7 55%,#dcdcdc 57%,#dfdfdf 59%,#e0e0e0 64%,#e1e1e1 69%,#e2e2e2 81%,#e2e2e2 91%,#e2e2e2)"></i><i style="height:15.38px;background:linear-gradient(90deg,#e3e3e3,#e3e3e3 12%,#e3e3e3 25%,#e3e3e3 38%,#e3e3e3 44%,#e3e3e3 49%,#e1e1e1 51%,#dcdcdc 52%,#d9d9d9 54%,#d8d8d8 55%,#dddddd 57%,#dfdfdf 59%,#e0e0e0 64%,#e1e1e1 69%,#e2e2e2 81%,#e3e3e3 91%,#e3e3e3)"></i><i style="height:15.38px;background:linear-gradient(90deg,#e3e3e3,#e3e3e3 12%,#e3e3e3 25%,#e3e3e3 38%,#e3e3e3 44%,#e3e3e3 49%,#e1e1e1 51%,#dcdcdc 52%,#d9d9d9 54%,#d8d8d8 55%,#dddddd 57%,#e0e0e0 59%,#e1e1e1 64%,#e2e2e2 69%,#e3e3e3 81%,#e3e3e3 91%,#e3e3e3)"></i><i style="height:15.38px;background:linear-gradient(90deg,#e4e4e4,#e4e4e4 12%,#e4e4e4 25%,#e4e4e4 38%,#e4e4e4 44%,#e3e3e3 49%,#e1e1e1 51%,#dddddd 52%,#dadada 54%,#d8d8d8 55%,#dddddd 57%,#e0e0e0 59%,#e1e1e1 64%,#e2e2e2 69%,#e3e3e3 81%,#e3e3e3 91%,#e3e3e3)"></i><i style="height:15.38px;background:linear-gradient(90deg,#e4e4e4,#e4e4e4 12%,#e4e4e4 25%,#e4e4e4 38%,#e4e4e4 44%,#e4e4e4 49%,#e2e2e2 51%,#dddddd 52%,#dadada 54%,#d8d8d8 55%,#dedede 57%,#e0e0e0 59%,#e1e1e1 64%,#e2e2e2 69%,#e3e3e3 81%,#e4e4e4 91%,#e4e4e4)"></i><i style="height:15.38px;background:linear-gradient(90deg,#e4e4e4,#e4e4e4 12%,#e4e4e4 25%,#e4e4e4 38%,#e4e4e4 44%,#e4e4e4 49%,#e2e2e2 51%,#dddddd 52%,#dadada 54%,#d9d9d9 55%,#dedede 57%,#e1e1e1 59%,#e2e2e2 64%,#e2e2e2 69%,#e3e3e3 81%,#e4e4e4 91%,#e4e4e4)"></i><i style="height:15.38px;background:linear-gradient(90deg,#e5e5e5,#e5e5e5 12%,#e5e5e5 25%,#e5e5e5 38%,#e5e5e5 44%,#e4e4e4 49%,#e2e2e2 51%,#dedede 52%,#dbdbdb 54%,#d9d9d9 55%,#dedede 57%,#e1e1e1 59%,#e2e2e2 64%,#e3e3e3 69%,#e4e4e4 81%,#e4e4e4 91%,#e4e4e4)"></i><i style="height:15.38px;background:linear-gradient(90deg,#e5e5e5,#e5e5e5 12%,#e5e5e5 25%,#e5e5e5 38%,#e5e5e5 44%,#e5e5e5 49%,#e3e3e3 51%,#dedede 52%,#dbdbdb 54%,#d9d9d9 55%,#dedede 57%,#e1e1e1 59%,#e2e2e2 64%,#e3e3e3 69%,#e4e4e4 81%,#e4e4e4 91%,#e5e5e5)"></i><i style="height:15.38px;background:linear-gradient(90deg,#e5e5e5,#e5e5e5 12%,#e5e5e5 25%,#e5e5e5 38%,#e5e5e5 44%,#e5e5e5 49%,#e3e3e3 51%,#dedede 52%,#dbdbdb 54%,#dadada 55%,#dfdfdf 57%,#e1e1e1 59%,#e3e3e3 64%,#e3e3e3 69%,#e4e4e4 81%,#e5e5e5 91%,#e5e5e5)"></i><i style="height:15.38px;background:linear-gradient(90deg,#e6e6e6,#e6e6e6 12%,#e6e6e6 25%,#e6e6e6 38%,#e6e6e6 44%,#e5e5e5 49%,#e3e3e3 51%,#dfdfdf 52%,#dcdcdc 54%,#dadada 55%,#dfdfdf 57%,#e2e2e2 59%,#e3e3e3 64%,#e4e4e4 69%,#e5e5e5 81%,#e5e5e5 91%,#e5e5e5)"></i><i style="height:15.38px;background:linear-gradient(90deg,#e6e6e6,#e6e6e6 12%,#e6e6e6 25%,#e6e6e6 38%,#e6e6e6 44%,#e6e6e6 49%,#e3e3e3 51%,#dfdfdf 52%,#dcdcdc 54%,#dadada 55%,#dfdfdf 57%,#e2e2e2 59%,#e3e3e3 64%,#e4e4e4 69%,#e5e5e5 81%,#e5e5e5 91%,#e6e6e6)"></i><i style="height:12px;background:linear-gradient(90deg,#e6e6e6,#e6e6e6 12%,#e6e6e6 25%,#e6e6e6 38%,#e6e6e6 44%,#e6e6e6 49%,#e4e4e4 51%,#dfdfdf 52%,#dcdcdc 54%,#dadada 55%,#e0e0e0 57%,#e2e2e2 59%,#e3e3e3 64%,#e4e4e4 69%,#e5e5e5 81%,#e6e6e6 91%,#e6e6e6)"></i></div></div>
<div class="hm" style="left:306.2px;top:2173.6px;width:85.0px;height:246.1px;"><div class="hi" style="top:-12px;filter:url(#vb2);"><i style="height:12px;background:linear-gradient(90deg,#e0e0e0,#e0e0e0 12%,#e0e0e0 25%,#e0e0e0 38%,#e0e0e0 44%,#e0e0e0 49%,#dcdcdc 51%,#d3d3d3 52%,#cecece 54%,#c9c9c9 55%,#d2d2d2 57%,#d7d7d7 59%,#dadada 64%,#dcdcdc 69%,#dedede 81%,#dfdfdf 91%,#dfdfdf)"></i><i style="height:15.38px;background:linear-gradient(90deg,#e0e0e0,#e0e0e0 12%,#e0e0e0 25%,#e0e0e0 38%,#e0e0e0 44%,#e0e0e0 49%,#dcdcdc 51%,#d4d4d4 52%,#cecece 54%,#c9c9c9 55%,#d2d2d2 57%,#d7d7d7 59%,#dadada 64%,#dcdcdc 69%,#dedede 81%,#dfdfdf 91%,#e0e0e0)"></i><i style="height:15.38px;background:linear-gradient(90deg,#e1e1e1,#e1e1e1 12%,#e1e1e1 25%,#e1e1e1 38%,#e1e1e1 44%,#e0e0e0 49%,#dcdcdc 51%,#d4d4d4 52%,#cfcfcf 54%,#c9c9c9 55%,#d3d3d3 57%,#d8d8d8 59%,#dadada 64%,#dcdcdc 69%,#dfdfdf 81%,#e0e0e0 91%,#e0e0e0)"></i><i style="height:15.38px;background:linear-gradient(90deg,#e1e1e1,#e1e1e1 12%,#e1e1e1 25%,#e1e1e1 38%,#e1e1e1 44%,#e1e1e1 49%,#dddddd 51%,#d5d5d5 52%,#cfcfcf 54%,#cacaca 55%,#d3d3d3 57%,#d8d8d8 59%,#dbdbdb 64%,#dddddd 69%,#dfdfdf 81%,#e0e0e0 91%,#e1e1e1)"></i><i style="height:15.38px;background:linear-gradient(90deg,#e2e2e2,#e2e2e2 12%,#e2e2e2 25%,#e2e2e2 38%,#e2e2e2 44%,#e1e1e1 49%,#dddddd 51%,#d5d5d5 52%,#d0d0d0 54%,#cacaca 55%,#d3d3d3 57%,#d9d9d9 59%,#dbdbdb 64%,#dddddd 69%,#e0e0e0 81%,#e1e1e1 91%,#e1e1e1)"></i><i style="height:15.38px;background:linear-gradient(90deg,#e2e2e2,#e2e2e2 12%,#e2e2e2 25%,#e2e2e2 38%,#e2e2e2 44%,#e2e2e2 49%,#dedede 51%,#d5d5d5 52%,#d0d0d0 54%,#cbcbcb 55%,#d4d4d4 57%,#d9d9d9 59%,#dcdcdc 64%,#dedede 69%,#e0e0e0 81%,#e1e1e1 91%,#e1e1e1)"></i><i style="height:15.38px;background:linear-gradient(90deg,#e2e2e2,#e2e2e2 12%,#e2e2e2 25%,#e2e2e2 38%,#e2e2e2 44%,#e2e2e2 49%,#dedede 51%,#d6d6d6 52%,#d0d0d0 54%,#cbcbcb 55%,#d4d4d4 57%,#d9d9d9 59%,#dcdcdc 64%,#dedede 69%,#e0e0e0 81%,#e1e1e1 91%,#e2e2e2)"></i><i style="height:15.38px;background:linear-gradient(90deg,#e3e3e3,#e3e3e3 12%,#e3e3e3 25%,#e3e3e3 38%,#e3e3e3 44%,#e3e3e3 49%,#dfdfdf 51%,#d6d6d6 52%,#d1d1d1 54%,#cbcbcb 55%,#d5d5d5 57%,#dadada 59%,#dddddd 64%,#dedede 69%,#e1e1e1 81%,#e2e2e2 91%,#e2e2e2)"></i><i style="height:15.38px;background:linear-gradient(90deg,#e3e3e3,#e3e3e3 12%,#e3e3e3 25%,#e3e3e3 38%,#e3e3e3 44%,#e3e3e3 49%,#dfdfdf 51%,#d7d7d7 52%,#d1d1d1 54%,#cccccc 55%,#d5d5d5 57%,#dadada 59%,#dddddd 64%,#dfdfdf 69%,#e1e1e1 81%,#e2e2e2 91%,#e3e3e3)"></i><i style="height:15.38px;background:linear-gradient(90deg,#e4e4e4,#e4e4e4 12%,#e4e4e4 25%,#e4e4e4 38%,#e4e4e4 44%,#e3e3e3 49%,#dfdfdf 51%,#d7d7d7 52%,#d2d2d2 54%,#cccccc 55%,#d6d6d6 57%,#dbdbdb 59%,#dedede 64%,#dfdfdf 69%,#e2e2e2 81%,#e3e3e3 91%,#e3e3e3)"></i><i style="height:15.38px;background:linear-gradient(90deg,#e4e4e4,#e4e4e4 12%,#e4e4e4 25%,#e4e4e4 38%,#e4e4e4 44%,#e4e4e4 49%,#e0e0e0 51%,#d8d8d8 52%,#d2d2d2 54%,#cdcdcd 55%,#d6d6d6 57%,#dbdbdb 59%,#dedede 64%,#e0e0e0 69%,#e2e2e2 81%,#e3e3e3 91%,#e4e4e4)"></i><i style="height:15.38px;background:linear-gradient(90deg,#e5e5e5,#e5e5e5 12%,#e5e5e5 25%,#e5e5e5 38%,#e5e5e5 44%,#e4e4e4 49%,#e0e0e0 51%,#d8d8d8 52%,#d3d3d3 54%,#cdcdcd 55%,#d7d7d7 57%,#dcdcdc 59%,#dedede 64%,#e0e0e0 69%,#e3e3e3 81%,#e4e4e4 91%,#e4e4e4)"></i><i style="height:15.38px;background:linear-gradient(90deg,#e5e5e5,#e5e5e5 12%,#e5e5e5 25%,#e5e5e5 38%,#e5e5e5 44%,#e5e5e5 49%,#e1e1e1 51%,#d8d8d8 52%,#d3d3d3 54%,#cecece 55%,#d7d7d7 57%,#dcdcdc 59%,#dfdfdf 64%,#e1e1e1 69%,#e3e3e3 81%,#e4e4e4 91%,#e4e4e4)"></i><i style="height:15.38px;background:linear-gradient(90deg,#e5e5e5,#e5e5e5 12%,#e5e5e5 25%,#e5e5e5 38%,#e5e5e5 44%,#e5e5e5 49%,#e1e1e1 51%,#d9d9d9 52%,#d3d3d3 54%,#cecece 55%,#d7d7d7 57%,#dddddd 59%,#dfdfdf 64%,#e1e1e1 69%,#e4e4e4 81%,#e4e4e4 91%,#e5e5e5)"></i><i style="height:15.38px;background:linear-gradient(90deg,#e6e6e6,#e6e6e6 12%,#e6e6e6 25%,#e6e6e6 38%,#e6e6e6 44%,#e6e6e6 49%,#e2e2e2 51%,#d9d9d9 52%,#d4d4d4 54%,#cecece 55%,#d8d8d8 57%,#dddddd 59%,#e0e0e0 64%,#e1e1e1 69%,#e4e4e4 81%,#e5e5e5 91%,#e5e5e5)"></i><i style="height:15.38px;background:linear-gradient(90deg,#e6e6e6,#e6e6e6 12%,#e6e6e6 25%,#e6e6e6 38%,#e6e6e6 44%,#e6e6e6 49%,#e2e2e2 51%,#dadada 52%,#d4d4d4 54%,#cfcfcf 55%,#d8d8d8 57%,#dddddd 59%,#e0e0e0 64%,#e2e2e2 69%,#e4e4e4 81%,#e5e5e5 91%,#e6e6e6)"></i><i style="height:15.38px;background:linear-gradient(90deg,#e7e7e7,#e7e7e7 12%,#e7e7e7 25%,#e7e7e7 38%,#e7e7e7 44%,#e6e6e6 49%,#e3e3e3 51%,#dadada 52%,#d5d5d5 54%,#cfcfcf 55%,#d9d9d9 57%,#dedede 59%,#e1e1e1 64%,#e2e2e2 69%,#e5e5e5 81%,#e6e6e6 91%,#e6e6e6)"></i><i style="height:12px;background:linear-gradient(90deg,#e7e7e7,#e7e7e7 12%,#e7e7e7 25%,#e7e7e7 38%,#e7e7e7 44%,#e7e7e7 49%,#e3e3e3 51%,#dadada 52%,#d5d5d5 54%,#d0d0d0 55%,#d9d9d9 57%,#dedede 59%,#e1e1e1 64%,#e3e3e3 69%,#e5e5e5 81%,#e6e6e6 91%,#e6e6e6)"></i></div></div>
<div class="hm" style="left:400.3px;top:2173.6px;width:85.0px;height:246.1px;"><div class="hi" style="top:-12px;filter:url(#vb2);"><i style="height:12px;background:linear-gradient(90deg,#e2e2e2,#e2e2e2 12%,#e2e2e2 25%,#e2e2e2 38%,#e2e2e2 44%,#e2e2e2 49%,#dddddd 51%,#d4d4d4 52%,#cecece 54%,#c9c9c9 55%,#d3d3d3 57%,#d9d9d9 59%,#dcdcdc 64%,#dedede 69%,#e0e0e0 81%,#e1e1e1 91%,#e1e1e1)"></i><i style="height:15.38px;background:linear-gradient(90deg,#e2e2e2,#e2e2e2 12%,#e2e2e2 25%,#e2e2e2 38%,#e2e2e2 44%,#e2e2e2 49%,#dddddd 51%,#d4d4d4 52%,#cecece 54%,#c9c9c9 55%,#d4d4d4 57%,#d9d9d9 59%,#dcdcdc 64%,#dedede 69%,#e0e0e0 81%,#e1e1e1 91%,#e2e2e2)"></i><i style="height:15.38px;background:linear-gradient(90deg,#e2e2e2,#e2e2e2 12%,#e2e2e2 25%,#e2e2e2 38%,#e2e2e2 44%,#e2e2e2 49%,#dedede 51%,#d5d5d5 52%,#cecece 54%,#cacaca 55%,#d4d4d4 57%,#dadada 59%,#dcdcdc 64%,#dedede 69%,#e1e1e1 81%,#e1e1e1 91%,#e2e2e2)"></i><i style="height:15.38px;background:linear-gradient(90deg,#e3e3e3,#e3e3e3 12%,#e3e3e3 25%,#e3e3e3 38%,#e3e3e3 44%,#e2e2e2 49%,#dedede 51%,#d5d5d5 52%,#cfcfcf 54%,#cacaca 55%,#d4d4d4 57%,#dadada 59%,#dddddd 64%,#dedede 69%,#e1e1e1 81%,#e2e2e2 91%,#e2e2e2)"></i><i style="height:15.38px;background:linear-gradient(90deg,#e3e3e3,#e3e3e3 12%,#e3e3e3 25%,#e3e3e3 38%,#e3e3e3 44%,#e3e3e3 49%,#dedede 51%,#d5d5d5 52%,#cfcfcf 54%,#cacaca 55%,#d5d5d5 57%,#dadada 59%,#dddddd 64%,#dfdfdf 69%,#e1e1e1 81%,#e2e2e2 91%,#e3e3e3)"></i><i style="height:15.38px;background:linear-gradient(90deg,#e3e3e3,#e3e3e3 12%,#e3e3e3 25%,#e3e3e3 38%,#e3e3e3 44%,#e3e3e3 49%,#dfdfdf 51%,#d5d5d5 52%,#cfcfcf 54%,#cbcbcb 55%,#d5d5d5 57%,#dadada 59%,#dddddd 64%,#dfdfdf 69%,#e1e1e1 81%,#e2e2e2 91%,#e3e3e3)"></i><i style="height:15.38px;background:linear-gradient(90deg,#e4e4e4,#e4e4e4 12%,#e4e4e4 25%,#e4e4e4 38%,#e4e4e4 44%,#e3e3e3 49%,#dfdfdf 51%,#d6d6d6 52%,#d0d0d0 54%,#cbcbcb 55%,#d5d5d5 57%,#dbdbdb 59%,#dedede 64%,#dfdfdf 69%,#e2e2e2 81%,#e3e3e3 91%,#e3e3e3)"></i><i style="height:15.38px;background:linear-gradient(90deg,#e4e4e4,#e4e4e4 12%,#e4e4e4 25%,#e4e4e4 38%,#e4e4e4 44%,#e4e4e4 49%,#dfdfdf 51%,#d6d6d6 52%,#d0d0d0 54%,#cbcbcb 55%,#d5d5d5 57%,#dbdbdb 59%,#dedede 64%,#e0e0e0 69%,#e2e2e2 81%,#e3e3e3 91%,#e3e3e3)"></i><i style="height:15.38px;background:linear-gradient(90deg,#e4e4e4,#e4e4e4 12%,#e4e4e4 25%,#e4e4e4 38%,#e4e4e4 44%,#e4e4e4 49%,#e0e0e0 51%,#d6d6d6 52%,#d0d0d0 54%,#cccccc 55%,#d6d6d6 57%,#dbdbdb 59%,#dedede 64%,#e0e0e0 69%,#e2e2e2 81%,#e3e3e3 91%,#e4e4e4)"></i><i style="height:15.38px;background:linear-gradient(90deg,#e5e5e5,#e5e5e5 12%,#e5e5e5 25%,#e5e5e5 38%,#e5e5e5 44%,#e4e4e4 49%,#e0e0e0 51%,#d7d7d7 52%,#d1d1d1 54%,#cccccc 55%,#d6d6d6 57%,#dcdcdc 59%,#dedede 64%,#e0e0e0 69%,#e3e3e3 81%,#e4e4e4 91%,#e4e4e4)"></i><i style="height:15.38px;background:linear-gradient(90deg,#e5e5e5,#e5e5e5 12%,#e5e5e5 25%,#e5e5e5 38%,#e5e5e5 44%,#e5e5e5 49%,#e0e0e0 51%,#d7d7d7 52%,#d1d1d1 54%,#cccccc 55%,#d6d6d6 57%,#dcdcdc 59%,#dfdfdf 64%,#e1e1e1 69%,#e3e3e3 81%,#e4e4e4 91%,#e4e4e4)"></i><i style="height:15.38px;background:linear-gradient(90deg,#e5e5e5,#e5e5e5 12%,#e5e5e5 25%,#e5e5e5 38%,#e5e5e5 44%,#e5e5e5 49%,#e1e1e1 51%,#d7d7d7 52%,#d1d1d1 54%,#cccccc 55%,#d7d7d7 57%,#dcdcdc 59%,#dfdfdf 64%,#e1e1e1 69%,#e3e3e3 81%,#e4e4e4 91%,#e5e5e5)"></i><i style="height:15.38px;background:linear-gradient(90deg,#e6e6e6,#e6e6e6 12%,#e6e6e6 25%,#e6e6e6 38%,#e6e6e6 44%,#e5e5e5 49%,#e1e1e1 51%,#d8d8d8 52%,#d2d2d2 54%,#cdcdcd 55%,#d7d7d7 57%,#dddddd 59%,#dfdfdf 64%,#e1e1e1 69%,#e4e4e4 81%,#e5e5e5 91%,#e5e5e5)"></i><i style="height:15.38px;background:linear-gradient(90deg,#e6e6e6,#e6e6e6 12%,#e6e6e6 25%,#e6e6e6 38%,#e6e6e6 44%,#e6e6e6 49%,#e1e1e1 51%,#d8d8d8 52%,#d2d2d2 54%,#cdcdcd 55%,#d7d7d7 57%,#dddddd 59%,#e0e0e0 64%,#e1e1e1 69%,#e4e4e4 81%,#e5e5e5 91%,#e5e5e5)"></i><i style="height:15.38px;background:linear-gradient(90deg,#e6e6e6,#e6e6e6 12%,#e6e6e6 25%,#e6e6e6 38%,#e6e6e6 44%,#e6e6e6 49%,#e1e1e1 51%,#d8d8d8 52%,#d2d2d2 54%,#cdcdcd 55%,#d8d8d8 57%,#dddddd 59%,#e0e0e0 64%,#e2e2e2 69%,#e4e4e4 81%,#e5e5e5 91%,#e6e6e6)"></i><i style="height:15.38px;background:linear-gradient(90deg,#e7e7e7,#e7e7e7 12%,#e7e7e7 25%,#e7e7e7 38%,#e7e7e7 44%,#e6e6e6 49%,#e2e2e2 51%,#d9d9d9 52%,#d3d3d3 54%,#cecece 55%,#d8d8d8 57%,#dedede 59%,#e0e0e0 64%,#e2e2e2 69%,#e5e5e5 81%,#e6e6e6 91%,#e6e6e6)"></i><i style="height:15.38px;background:linear-gradient(90deg,#e7e7e7,#e7e7e7 12%,#e7e7e7 25%,#e7e7e7 38%,#e7e7e7 44%,#e6e6e6 49%,#e2e2e2 51%,#d9d9d9 52%,#d3d3d3 54%,#cecece 55%,#d8d8d8 57%,#dedede 59%,#e1e1e1 64%,#e2e2e2 69%,#e5e5e5 81%,#e6e6e6 91%,#e6e6e6)"></i><i style="height:12px;background:linear-gradient(90deg,#e7e7e7,#e7e7e7 12%,#e7e7e7 25%,#e7e7e7 38%,#e7e7e7 44%,#e7e7e7 49%,#e2e2e2 51%,#d9d9d9 52%,#d3d3d3 54%,#cecece 55%,#d8d8d8 57%,#dedede 59%,#e1e1e1 64%,#e3e3e3 69%,#e5e5e5 81%,#e6e6e6 91%,#e6e6e6)"></i></div></div>
<div class="hm" style="left:494.3px;top:2173.6px;width:85.0px;height:246.1px;"><div class="hi" style="top:-12px;filter:url(#vb2);"><i style="height:12px;background:linear-gradient(90deg,#ebebeb,#ebebeb 12%,#ebebeb 25%,#ebebeb 38%,#ebebeb 44%,#ebebeb 49%,#e9e9e9 51%,#e5e5e5 52%,#e3e3e3 54%,#e3e3e3 55%,#e7e7e7 57%,#e9e9e9 59%,#e9e9e9 64%,#eaeaea 69%,#ebebeb 81%,#ebebeb 91%,#ebebeb)"></i><i style="height:15.38px;background:linear-gradient(90deg,#ebebeb,#ebebeb 12%,#ebebeb 25%,#ebebeb 38%,#ebebeb 44%,#ebebeb 49%,#e9e9e9 51%,#e5e5e5 52%,#e3e3e3 54%,#e3e3e3 55%,#e7e7e7 57%,#e9e9e9 59%,#eaeaea 64%,#eaeaea 69%,#ebebeb 81%,#ebebeb 91%,#ebebeb)"></i><i style="height:15.38px;background:linear-gradient(90deg,#ebebeb,#ebebeb 12%,#ebebeb 25%,#ebebeb 38%,#ebebeb 44%,#ebebeb 49%,#e9e9e9 51%,#e6e6e6 52%,#e3e3e3 54%,#e3e3e3 55%,#e7e7e7 57%,#e9e9e9 59%,#eaeaea 64%,#eaeaea 69%,#ebebeb 81%,#ebebeb 91%,#ebebeb)"></i><i style="height:15.38px;background:linear-gradient(90deg,#ebebeb,#ebebeb 12%,#ebebeb 25%,#ebebeb 38%,#ebebeb 44%,#ebebeb 49%,#e9e9e9 51%,#e6e6e6 52%,#e3e3e3 54%,#e3e3e3 55%,#e7e7e7 57%,#e9e9e9 59%,#eaeaea 64%,#eaeaea 69%,#ebebeb 81%,#ebebeb 91%,#ebebeb)"></i><i style="height:15.38px;background:linear-gradient(90deg,#ebebeb,#ebebeb 12%,#ebebeb 25%,#ebebeb 38%,#ebebeb 44%,#ebebeb 49%,#eaeaea 51%,#e6e6e6 52%,#e3e3e3 54%,#e3e3e3 55%,#e7e7e7 57%,#e9e9e9 59%,#eaeaea 64%,#eaeaea 69%,#ebebeb 81%,#ebebeb 91%,#ebebeb)"></i><i style="height:15.38px;background:linear-gradient(90deg,#ececec,#ececec 12%,#ececec 25%,#ececec 38%,#ececec 44%,#ebebeb 49%,#eaeaea 51%,#e6e6e6 52%,#e4e4e4 54%,#e3e3e3 55%,#e7e7e7 57%,#e9e9e9 59%,#eaeaea 64%,#eaeaea 69%,#ebebeb 81%,#ebebeb 91%,#ebebeb)"></i><i style="height:15.38px;background:linear-gradient(90deg,#ececec,#ececec 12%,#ececec 25%,#ececec 38%,#ececec 44%,#ececec 49%,#eaeaea 51%,#e6e6e6 52%,#e4e4e4 54%,#e3e3e3 55%,#e7e7e7 57%,#e9e9e9 59%,#eaeaea 64%,#ebebeb 69%,#ebebeb 81%,#ebebeb 91%,#ececec)"></i><i style="height:15.38px;background:linear-gradient(90deg,#ececec,#ececec 12%,#ececec 25%,#ececec 38%,#ececec 44%,#ececec 49%,#eaeaea 51%,#e6e6e6 52%,#e4e4e4 54%,#e4e4e4 55%,#e7e7e7 57%,#eaeaea 59%,#eaeaea 64%,#ebebeb 69%,#ebebeb 81%,#ececec 91%,#ececec)"></i><i style="height:15.38px;background:linear-gradient(90deg,#ececec,#ececec 12%,#ececec 25%,#ececec 38%,#ececec 44%,#ececec 49%,#eaeaea 51%,#e6e6e6 52%,#e4e4e4 54%,#e4e4e4 55%,#e8e8e8 57%,#eaeaea 59%,#eaeaea 64%,#ebebeb 69%,#ebebeb 81%,#ececec 91%,#ececec)"></i><i style="height:15.38px;background:linear-gradient(90deg,#ececec,#ececec 12%,#ececec 25%,#ececec 38%,#ececec 44%,#ececec 49%,#eaeaea 51%,#e6e6e6 52%,#e4e4e4 54%,#e4e4e4 55%,#e8e8e8 57%,#eaeaea 59%,#ebebeb 64%,#ebebeb 69%,#ececec 81%,#ececec 91%,#ececec)"></i><i style="height:15.38px;background:linear-gradient(90deg,#ececec,#ececec 12%,#ececec 25%,#ececec 38%,#ececec 44%,#ececec 49%,#eaeaea 51%,#e7e7e7 52%,#e4e4e4 54%,#e4e4e4 55%,#e8e8e8 57%,#eaeaea 59%,#ebebeb 64%,#ebebeb 69%,#ececec 81%,#ececec 91%,#ececec)"></i><i style="height:15.38px;background:linear-gradient(90deg,#ececec,#ececec 12%,#ececec 25%,#ececec 38%,#ececec 44%,#ececec 49%,#eaeaea 51%,#e7e7e7 52%,#e4e4e4 54%,#e4e4e4 55%,#e8e8e8 57%,#eaeaea 59%,#ebebeb 64%,#ebebeb 69%,#ececec 81%,#ececec 91%,#ececec)"></i><i style="height:15.38px;background:linear-gradient(90deg,#ececec,#ececec 12%,#ececec 25%,#ececec 38%,#ececec 44%,#ececec 49%,#ebebeb 51%,#e7e7e7 52%,#e4e4e4 54%,#e4e4e4 55%,#e8e8e8 57%,#eaeaea 59%,#ebebeb 64%,#ebebeb 69%,#ececec 81%,#ececec 91%,#ececec)"></i><i style="height:15.38px;background:linear-gradient(90deg,#ededed,#ededed 12%,#ededed 25%,#ededed 38%,#ededed 44%,#ececec 49%,#ebebeb 51%,#e7e7e7 52%,#e5e5e5 54%,#e4e4e4 55%,#e8e8e8 57%,#eaeaea 59%,#ebebeb 64%,#ebebeb 69%,#ececec 81%,#ececec 91%,#ececec)"></i><i style="height:15.38px;background:linear-gradient(90deg,#ededed,#ededed 12%,#ededed 25%,#ededed 38%,#ededed 44%,#ededed 49%,#ebebeb 51%,#e7e7e7 52%,#e5e5e5 54%,#e4e4e4 55%,#e8e8e8 57%,#eaeaea 59%,#ebebeb 64%,#ececec 69%,#ececec 81%,#ececec 91%,#ededed)"></i><i style="height:15.38px;background:linear-gradient(90deg,#ededed,#ededed 12%,#ededed 25%,#ededed 38%,#ededed 44%,#ededed 49%,#ebebeb 51%,#e7e7e7 52%,#e5e5e5 54%,#e5e5e5 55%,#e8e8e8 57%,#ebebeb 59%,#ebebeb 64%,#ececec 69%,#ececec 81%,#ededed 91%,#ededed)"></i><i style="height:15.38px;background:linear-gradient(90deg,#ededed,#ededed 12%,#ededed 25%,#ededed 38%,#ededed 44%,#ededed 49%,#ebebeb 51%,#e7e7e7 52%,#e5e5e5 54%,#e5e5e5 55%,#e9e9e9 57%,#ebebeb 59%,#ebebeb 64%,#ececec 69%,#ececec 81%,#ededed 91%,#ededed)"></i><i style="height:12px;background:linear-gradient(90deg,#ededed,#ededed 12%,#ededed 25%,#ededed 38%,#ededed 44%,#ededed 49%,#ebebeb 51%,#e7e7e7 52%,#e5e5e5 54%,#e5e5e5 55%,#e9e9e9 57%,#ebebeb 59%,#ebebeb 64%,#ececec 69%,#ededed 81%,#ededed 91%,#ededed)"></i></div></div>
<div class="hm" style="left:588.4px;top:2173.6px;width:85.0px;height:246.1px;"><div class="hi" style="top:-12px;filter:url(#vb2);"><i style="height:12px;background:linear-gradient(90deg,#c6c6c6,#c6c6c6 12%,#c6c6c6 25%,#c6c6c6 38%,#c6c6c6 44%,#c5c5c5 48%,#bdbdbd 50%,#aaaaaa 52%,#9e9e9e 53%,#9d9d9d 55%,#b0b0b0 56%,#bbbbbb 58%,#bebebe 63%,#c1c1c1 69%,#c4c4c4 81%,#c5c5c5 91%,#c5c5c5)"></i><i style="height:15.38px;background:linear-gradient(90deg,#c6c6c6,#c6c6c6 12%,#c6c6c6 25%,#c6c6c6 38%,#c6c6c6 44%,#c5c5c5 48%,#bdbdbd 50%,#aaaaaa 52%,#9e9e9e 53%,#9d9d9d 55%,#b0b0b0 56%,#bbbbbb 58%,#bebebe 63%,#c1c1c1 69%,#c4c4c4 81%,#c5c5c5 91%,#c5c5c5)"></i><i style="height:15.38px;background:linear-gradient(90deg,#c6c6c6,#c6c6c6 12%,#c6c6c6 25%,#c6c6c6 38%,#c6c6c6 44%,#c6c6c6 48%,#bdbdbd 50%,#ababab 52%,#9e9e9e 53%,#9d9d9d 55%,#b1b1b1 56%,#bbbbbb 58%,#bfbfbf 63%,#c1c1c1 69%,#c4c4c4 81%,#c5c5c5 91%,#c6c6c6)"></i><i style="height:15.38px;background:linear-gradient(90deg,#c7c7c7,#c7c7c7 12%,#c7c7c7 25%,#c7c7c7 38%,#c7c7c7 44%,#c6c6c6 48%,#bdbdbd 50%,#ababab 52%,#9f9f9f 53%,#9d9d9d 55%,#b1b1b1 56%,#bbbbbb 58%,#bfbfbf 63%,#c1c1c1 69%,#c4c4c4 81%,#c6c6c6 91%,#c6c6c6)"></i><i style="height:15.38px;background:linear-gradient(90deg,#c7c7c7,#c7c7c7 12%,#c7c7c7 25%,#c7c7c7 38%,#c7c7c7 44%,#c6c6c6 48%,#bebebe 50%,#ababab 52%,#9f9f9f 53%,#9e9e9e 55%,#b1b1b1 56%,#bcbcbc 58%,#bfbfbf 63%,#c2c2c2 69%,#c5c5c5 81%,#c6c6c6 91%,#c6c6c6)"></i><i style="height:15.38px;background:linear-gradient(90deg,#c7c7c7,#c7c7c7 12%,#c7c7c7 25%,#c7c7c7 38%,#c7c7c7 44%,#c7c7c7 48%,#bebebe 50%,#ababab 52%,#9f9f9f 53%,#9e9e9e 55%,#b2b2b2 56%,#bcbcbc 58%,#c0c0c0 63%,#c2c2c2 69%,#c5c5c5 81%,#c6c6c6 91%,#c7c7c7)"></i><i style="height:15.38px;background:linear-gradient(90deg,#c8c8c8,#c8c8c8 12%,#c8c8c8 25%,#c8c8c8 38%,#c8c8c8 44%,#c7c7c7 48%,#bebebe 50%,#acacac 52%,#a0a0a0 53%,#9e9e9e 55%,#b2b2b2 56%,#bcbcbc 58%,#c0c0c0 63%,#c2c2c2 69%,#c5c5c5 81%,#c7c7c7 91%,#c7c7c7)"></i><i style="height:15.38px;background:linear-gradient(90deg,#c8c8c8,#c8c8c8 12%,#c8c8c8 25%,#c8c8c8 38%,#c8c8c8 44%,#c7c7c7 48%,#bfbfbf 50%,#acacac 52%,#a0a0a0 53%,#9f9f9f 55%,#b2b2b2 56%,#bdbdbd 58%,#c0c0c0 63%,#c3c3c3 69%,#c6c6c6 81%,#c7c7c7 91%,#c7c7c7)"></i><i style="height:15.38px;background:linear-gradient(90deg,#c8c8c8,#c8c8c8 12%,#c8c8c8 25%,#c8c8c8 38%,#c8c8c8 44%,#c8c8c8 48%,#bfbfbf 50%,#acacac 52%,#a0a0a0 53%,#9f9f9f 55%,#b3b3b3 56%,#bdbdbd 58%,#c1c1c1 63%,#c3c3c3 69%,#c6c6c6 81%,#c7c7c7 91%,#c8c8c8)"></i><i style="height:15.38px;background:linear-gradient(90deg,#c9c9c9,#c9c9c9 12%,#c9c9c9 25%,#c9c9c9 38%,#c9c9c9 44%,#c8c8c8 48%,#bfbfbf 50%,#adadad 52%,#a1a1a1 53%,#9f9f9f 55%,#b3b3b3 56%,#bdbdbd 58%,#c1c1c1 63%,#c3c3c3 69%,#c6c6c6 81%,#c7c7c7 91%,#c8c8c8)"></i><i style="height:15.38px;background:linear-gradient(90deg,#c9c9c9,#c9c9c9 12%,#c9c9c9 25%,#c9c9c9 38%,#c9c9c9 44%,#c8c8c8 48%,#bfbfbf 50%,#adadad 52%,#a1a1a1 53%,#9f9f9f 55%,#b3b3b3 56%,#bdbdbd 58%,#c1c1c1 63%,#c4c4c4 69%,#c7c7c7 81%,#c8c8c8 91%,#c8c8c8)"></i><i style="height:15.38px;background:linear-gradient(90deg,#c9c9c9,#c9c9c9 12%,#c9c9c9 25%,#c9c9c9 38%,#c9c9c9 44%,#c9c9c9 48%,#c0c0c0 50%,#adadad 52%,#a1a1a1 53%,#a0a0a0 55%,#b4b4b4 56%,#bebebe 58%,#c2c2c2 63%,#c4c4c4 69%,#c7c7c7 81%,#c8c8c8 91%,#c9c9c9)"></i><i style="height:15.38px;background:linear-gradient(90deg,#cacaca,#cacaca 12%,#cacaca 25%,#cacaca 38%,#cacaca 44%,#c9c9c9 48%,#c0c0c0 50%,#aeaeae 52%,#a2a2a2 53%,#a0a0a0 55%,#b4b4b4 56%,#bebebe 58%,#c2c2c2 63%,#c4c4c4 69%,#c7c7c7 81%,#c8c8c8 91%,#c9c9c9)"></i><i style="height:15.38px;background:linear-gradient(90deg,#cacaca,#cacaca 12%,#cacaca 25%,#cacaca 38%,#cacaca 44%,#c9c9c9 48%,#c0c0c0 50%,#aeaeae 52%,#a2a2a2 53%,#a0a0a0 55%,#b4b4b4 56%,#bebebe 58%,#c2c2c2 63%,#c5c5c5 69%,#c8c8c8 81%,#c9c9c9 91%,#c9c9c9)"></i><i style="height:15.38px;background:linear-gradient(90deg,#cacaca,#cacaca 12%,#cacaca 25%,#cacaca 38%,#cacaca 44%,#c9c9c9 48%,#c1c1c1 50%,#aeaeae 52%,#a2a2a2 53%,#a1a1a1 55%,#b4b4b4 56%,#bfbfbf 58%,#c3c3c3 63%,#c5c5c5 69%,#c8c8c8 81%,#c9c9c9 91%,#cacaca)"></i><i style="height:15.38px;background:linear-gradient(90deg,#cbcbcb,#cbcbcb 12%,#cbcbcb 25%,#cbcbcb 38%,#cbcbcb 44%,#cacaca 48%,#c1c1c1 50%,#afafaf 52%,#a3a3a3 53%,#a1a1a1 55%,#b5b5b5 56%,#bfbfbf 58%,#c3c3c3 63%,#c5c5c5 69%,#c8c8c8 81%,#c9c9c9 91%,#cacaca)"></i><i style="height:15.38px;background:linear-gradient(90deg,#cbcbcb,#cbcbcb 12%,#cbcbcb 25%,#cbcbcb 38%,#cbcbcb 44%,#cacaca 48%,#c1c1c1 50%,#afafaf 52%,#a3a3a3 53%,#a1a1a1 55%,#b5b5b5 56%,#bfbfbf 58%,#c3c3c3 63%,#c6c6c6 69%,#c9c9c9 81%,#cacaca 91%,#cacaca)"></i><i style="height:12px;background:linear-gradient(90deg,#cbcbcb,#cbcbcb 12%,#cbcbcb 25%,#cbcbcb 38%,#cbcbcb 44%,#cacaca 48%,#c2c2c2 50%,#afafaf 52%,#a3a3a3 53%,#a2a2a2 55%,#b5b5b5 56%,#c0c0c0 58%,#c3c3c3 63%,#c6c6c6 69%,#c9c9c9 81%,#cacaca 91%,#cacaca)"></i></div></div>
<div class="hm" style="left:682.5px;top:2173.6px;width:85.0px;height:246.1px;"><div class="hi" style="top:-12px;filter:url(#vb2);"><i style="height:12px;background:linear-gradient(90deg,#cbcbcb,#cbcbcb 12%,#cbcbcb 25%,#cbcbcb 38%,#cbcbcb 44%,#cacaca 48%,#bfbfbf 50%,#a8a8a8 52%,#999999 53%,#949494 55%,#adadad 56%,#bababa 58%,#c0c0c0 63%,#c3c3c3 69%,#c8c8c8 81%,#c9c9c9 91%,#cacaca)"></i><i style="height:15.38px;background:linear-gradient(90deg,#cbcbcb,#cbcbcb 12%,#cbcbcb 25%,#cbcbcb 38%,#cbcbcb 44%,#cbcbcb 48%,#c0c0c0 50%,#a9a9a9 52%,#9a9a9a 53%,#959595 55%,#aeaeae 56%,#bbbbbb 58%,#c0c0c0 63%,#c4c4c4 69%,#c8c8c8 81%,#cacaca 91%,#cacaca)"></i><i style="height:15.38px;background:linear-gradient(90deg,#cccccc,#cccccc 12%,#cccccc 25%,#cccccc 38%,#cccccc 44%,#cbcbcb 48%,#c1c1c1 50%,#aaaaaa 52%,#9b9b9b 53%,#979797 55%,#afafaf 56%,#bcbcbc 58%,#c1c1c1 63%,#c5c5c5 69%,#c9c9c9 81%,#cbcbcb 91%,#cbcbcb)"></i><i style="height:15.38px;background:linear-gradient(90deg,#cdcdcd,#cdcdcd 12%,#cdcdcd 25%,#cdcdcd 38%,#cdcdcd 44%,#cccccc 48%,#c2c2c2 50%,#acacac 52%,#9d9d9d 53%,#999999 55%,#b1b1b1 56%,#bdbdbd 58%,#c2c2c2 63%,#c6c6c6 69%,#cacaca 81%,#cccccc 91%,#cccccc)"></i><i style="height:15.38px;background:linear-gradient(90deg,#cecece,#cecece 12%,#cecece 25%,#cecece 38%,#cecece 44%,#cdcdcd 48%,#c3c3c3 50%,#adadad 52%,#9f9f9f 53%,#9a9a9a 55%,#b2b2b2 56%,#bfbfbf 58%,#c4c4c4 63%,#c7c7c7 69%,#cbcbcb 81%,#cccccc 91%,#cdcdcd)"></i><i style="height:15.38px;background:linear-gradient(90deg,#cfcfcf,#cfcfcf 12%,#cfcfcf 25%,#cfcfcf 38%,#cfcfcf 44%,#cecece 48%,#c4c4c4 50%,#aeaeae 52%,#a0a0a0 53%,#9c9c9c 55%,#b3b3b3 56%,#c0c0c0 58%,#c5c5c5 63%,#c8c8c8 69%,#cccccc 81%,#cdcdcd 91%,#cecece)"></i><i style="height:15.38px;background:linear-gradient(90deg,#d0d0d0,#d0d0d0 12%,#d0d0d0 25%,#d0d0d0 38%,#d0d0d0 44%,#cfcfcf 48%,#c5c5c5 50%,#b0b0b0 52%,#a2a2a2 53%,#9e9e9e 55%,#b5b5b5 56%,#c1c1c1 58%,#c6c6c6 63%,#c9c9c9 69%,#cdcdcd 81%,#cecece 91%,#cfcfcf)"></i><i style="height:15.38px;background:linear-gradient(90deg,#d1d1d1,#d1d1d1 12%,#d1d1d1 25%,#d1d1d1 38%,#d1d1d1 44%,#d0d0d0 48%,#c6c6c6 50%,#b1b1b1 52%,#a4a4a4 53%,#a0a0a0 55%,#b6b6b6 56%,#c2c2c2 58%,#c7c7c7 63%,#cacaca 69%,#cecece 81%,#cfcfcf 91%,#d0d0d0)"></i><i style="height:15.38px;background:linear-gradient(90deg,#d2d2d2,#d2d2d2 12%,#d2d2d2 25%,#d2d2d2 38%,#d2d2d2 44%,#d1d1d1 48%,#c7c7c7 50%,#b3b3b3 52%,#a5a5a5 53%,#a2a2a2 55%,#b8b8b8 56%,#c3c3c3 58%,#c8c8c8 63%,#cbcbcb 69%,#cfcfcf 81%,#d0d0d0 91%,#d1d1d1)"></i><i style="height:15.38px;background:linear-gradient(90deg,#d2d2d2,#d2d2d2 12%,#d2d2d2 25%,#d2d2d2 38%,#d2d2d2 44%,#d2d2d2 48%,#c8c8c8 50%,#b4b4b4 52%,#a7a7a7 53%,#a4a4a4 55%,#b9b9b9 56%,#c5c5c5 58%,#c9c9c9 63%,#cccccc 69%,#d0d0d0 81%,#d1d1d1 91%,#d2d2d2)"></i><i style="height:15.38px;background:linear-gradient(90deg,#d4d4d4,#d4d4d4 12%,#d4d4d4 25%,#d4d4d4 38%,#d3d3d3 44%,#d3d3d3 48%,#c9c9c9 50%,#b6b6b6 52%,#a9a9a9 53%,#a5a5a5 55%,#bbbbbb 56%,#c6c6c6 58%,#cacaca 63%,#cdcdcd 69%,#d1d1d1 81%,#d2d2d2 91%,#d3d3d3)"></i><i style="height:15.38px;background:linear-gradient(90deg,#d4d4d4,#d4d4d4 12%,#d4d4d4 25%,#d4d4d4 38%,#d4d4d4 44%,#d4d4d4 48%,#cbcbcb 50%,#b7b7b7 52%,#aaaaaa 53%,#a7a7a7 55%,#bcbcbc 56%,#c7c7c7 58%,#cccccc 63%,#cecece 69%,#d2d2d2 81%,#d3d3d3 91%,#d4d4d4)"></i><i style="height:15.38px;background:linear-gradient(90deg,#d6d6d6,#d6d6d6 12%,#d6d6d6 25%,#d6d6d6 38%,#d5d5d5 44%,#d5d5d5 48%,#cccccc 50%,#b9b9b9 52%,#acacac 53%,#a9a9a9 55%,#bebebe 56%,#c9c9c9 58%,#cdcdcd 63%,#d0d0d0 69%,#d3d3d3 81%,#d4d4d4 91%,#d5d5d5)"></i><i style="height:15.38px;background:linear-gradient(90deg,#d6d6d6,#d6d6d6 12%,#d6d6d6 25%,#d6d6d6 38%,#d6d6d6 44%,#d6d6d6 48%,#cdcdcd 50%,#bababa 52%,#aeaeae 53%,#ababab 55%,#bfbfbf 56%,#cacaca 58%,#cecece 63%,#d1d1d1 69%,#d4d4d4 81%,#d5d5d5 91%,#d6d6d6)"></i><i style="height:15.38px;background:linear-gradient(90deg,#d8d8d8,#d8d8d8 12%,#d8d8d8 25%,#d8d8d8 38%,#d7d7d7 44%,#d7d7d7 48%,#cecece 50%,#bcbcbc 52%,#b0b0b0 53%,#adadad 55%,#c1c1c1 56%,#cbcbcb 58%,#cfcfcf 63%,#d2d2d2 69%,#d5d5d5 81%,#d6d6d6 91%,#d7d7d7)"></i><i style="height:15.38px;background:linear-gradient(90deg,#d8d8d8,#d8d8d8 12%,#d8d8d8 25%,#d8d8d8 38%,#d8d8d8 44%,#d8d8d8 48%,#cfcfcf 50%,#bdbdbd 52%,#b1b1b1 53%,#afafaf 55%,#c2c2c2 56%,#cdcdcd 58%,#d0d0d0 63%,#d3d3d3 69%,#d6d6d6 81%,#d7d7d7 91%,#d8d8d8)"></i><i style="height:15.38px;background:linear-gradient(90deg,#dadada,#dadada 12%,#dadada 25%,#dadada 38%,#d9d9d9 44%,#d9d9d9 48%,#d0d0d0 50%,#bfbfbf 52%,#b3b3b3 53%,#b1b1b1 55%,#c4c4c4 56%,#cecece 58%,#d2d2d2 63%,#d4d4d4 69%,#d7d7d7 81%,#d8d8d8 91%,#d9d9d9)"></i><i style="height:12px;background:linear-gradient(90deg,#dadada,#dadada 12%,#dadada 25%,#dadada 38%,#dadada 44%,#d9d9d9 48%,#d1d1d1 50%,#bfbfbf 52%,#b4b4b4 53%,#b2b2b2 55%,#c5c5c5 56%,#cfcfcf 58%,#d2d2d2 63%,#d5d5d5 69%,#d8d8d8 81%,#d9d9d9 91%,#d9d9d9)"></i></div></div>
<div class="hm" style="left:776.5px;top:2173.6px;width:85.0px;height:246.1px;"><div class="hi" style="top:-12px;filter:url(#vb2);"><i style="height:12px;background:linear-gradient(90deg,#d0d0d0,#d0d0d0 12%,#d0d0d0 25%,#d0d0d0 38%,#d0d0d0 44%,#d0d0d0 46%,#cfcfcf 49%,#cdcdcd 52%,#cbcbcb 54%,#cdcdcd 56%,#cfcfcf 58%,#d0d0d0 61%,#d0d0d0 66%,#d0d0d0 69%,#d0d0d0 81%,#d0d0d0 91%,#d0d0d0)"></i><i style="height:15.38px;background:linear-gradient(90deg,#d0d0d0,#d0d0d0 12%,#d0d0d0 25%,#d0d0d0 38%,#d0d0d0 44%,#d0d0d0 46%,#cfcfcf 49%,#cdcdcd 52%,#cbcbcb 54%,#cdcdcd 56%,#cfcfcf 58%,#d0d0d0 61%,#d0d0d0 66%,#d0d0d0 69%,#d0d0d0 81%,#d0d0d0 91%,#d0d0d0)"></i><i style="height:15.38px;background:linear-gradient(90deg,#d0d0d0,#d0d0d0 12%,#d0d0d0 25%,#d0d0d0 38%,#d0d0d0 44%,#d0d0d0 46%,#cfcfcf 49%,#cdcdcd 52%,#cbcbcb 54%,#cdcdcd 56%,#cfcfcf 58%,#d0d0d0 61%,#d0d0d0 66%,#d0d0d0 69%,#d0d0d0 81%,#d0d0d0 91%,#d0d0d0)"></i><i style="height:15.38px;background:linear-gradient(90deg,#d1d1d1,#d1d1d1 12%,#d1d1d1 25%,#d1d1d1 38%,#d1d1d1 44%,#d1d1d1 46%,#d0d0d0 49%,#cdcdcd 52%,#cccccc 54%,#cdcdcd 56%,#d0d0d0 58%,#d1d1d1 61%,#d1d1d1 66%,#d1d1d1 69%,#d1d1d1 81%,#d1d1d1 91%,#d1d1d1)"></i><i style="height:15.38px;background:linear-gradient(90deg,#d1d1d1,#d1d1d1 12%,#d1d1d1 25%,#d1d1d1 38%,#d1d1d1 44%,#d1d1d1 46%,#d0d0d0 49%,#cecece 52%,#cccccc 54%,#cecece 56%,#d0d0d0 58%,#d1d1d1 61%,#d1d1d1 66%,#d1d1d1 69%,#d1d1d1 81%,#d1d1d1 91%,#d1d1d1)"></i><i style="height:15.38px;background:linear-gradient(90deg,#d1d1d1,#d1d1d1 12%,#d1d1d1 25%,#d1d1d1 38%,#d1d1d1 44%,#d1d1d1 46%,#d0d0d0 49%,#cecece 52%,#cccccc 54%,#cecece 56%,#d0d0d0 58%,#d1d1d1 61%,#d1d1d1 66%,#d1d1d1 69%,#d1d1d1 81%,#d1d1d1 91%,#d1d1d1)"></i><i style="height:15.38px;background:linear-gradient(90deg,#d2d2d2,#d2d2d2 12%,#d2d2d2 25%,#d2d2d2 38%,#d2d2d2 44%,#d2d2d2 46%,#d1d1d1 49%,#cecece 52%,#cdcdcd 54%,#cecece 56%,#d1d1d1 58%,#d2d2d2 61%,#d2d2d2 66%,#d2d2d2 69%,#d2d2d2 81%,#d2d2d2 91%,#d2d2d2)"></i><i style="height:15.38px;background:linear-gradient(90deg,#d2d2d2,#d2d2d2 12%,#d2d2d2 25%,#d2d2d2 38%,#d2d2d2 44%,#d2d2d2 46%,#d1d1d1 49%,#cfcfcf 52%,#cdcdcd 54%,#cfcfcf 56%,#d1d1d1 58%,#d2d2d2 61%,#d2d2d2 66%,#d2d2d2 69%,#d2d2d2 81%,#d2d2d2 91%,#d2d2d2)"></i><i style="height:15.38px;background:linear-gradient(90deg,#d2d2d2,#d2d2d2 12%,#d2d2d2 25%,#d2d2d2 38%,#d2d2d2 44%,#d2d2d2 46%,#d1d1d1 49%,#cfcfcf 52%,#cdcdcd 54%,#cfcfcf 56%,#d1d1d1 58%,#d2d2d2 61%,#d2d2d2 66%,#d2d2d2 69%,#d2d2d2 81%,#d2d2d2 91%,#d2d2d2)"></i><i style="height:15.38px;background:linear-gradient(90deg,#d3d3d3,#d3d3d3 12%,#d3d3d3 25%,#d3d3d3 38%,#d3d3d3 44%,#d3d3d3 46%,#d1d1d1 49%,#cfcfcf 52%,#cecece 54%,#cfcfcf 56%,#d1d1d1 58%,#d3d3d3 61%,#d3d3d3 66%,#d3d3d3 69%,#d3d3d3 81%,#d3d3d3 91%,#d3d3d3)"></i><i style="height:15.38px;background:linear-gradient(90deg,#d3d3d3,#d3d3d3 12%,#d3d3d3 25%,#d3d3d3 38%,#d3d3d3 44%,#d3d3d3 46%,#d2d2d2 49%,#cfcfcf 52%,#cecece 54%,#cfcfcf 56%,#d2d2d2 58%,#d3d3d3 61%,#d3d3d3 66%,#d3d3d3 69%,#d3d3d3 81%,#d3d3d3 91%,#d3d3d3)"></i><i style="height:15.38px;background:linear-gradient(90deg,#d3d3d3,#d3d3d3 12%,#d3d3d3 25%,#d3d3d3 38%,#d3d3d3 44%,#d3d3d3 46%,#d2d2d2 49%,#d0d0d0 52%,#cecece 54%,#d0d0d0 56%,#d2d2d2 58%,#d3d3d3 61%,#d3d3d3 66%,#d3d3d3 69%,#d3d3d3 81%,#d3d3d3 91%,#d3d3d3)"></i><i style="height:15.38px;background:linear-gradient(90deg,#d4d4d4,#d4d4d4 12%,#d4d4d4 25%,#d4d4d4 38%,#d4d4d4 44%,#d4d4d4 46%,#d2d2d2 49%,#d0d0d0 52%,#cfcfcf 54%,#d0d0d0 56%,#d2d2d2 58%,#d4d4d4 61%,#d4d4d4 66%,#d4d4d4 69%,#d4d4d4 81%,#d4d4d4 91%,#d4d4d4)"></i><i style="height:15.38px;background:linear-gradient(90deg,#d4d4d4,#d4d4d4 12%,#d4d4d4 25%,#d4d4d4 38%,#d4d4d4 44%,#d4d4d4 46%,#d3d3d3 49%,#d0d0d0 52%,#cfcfcf 54%,#d0d0d0 56%,#d3d3d3 58%,#d4d4d4 61%,#d4d4d4 66%,#d4d4d4 69%,#d4d4d4 81%,#d4d4d4 91%,#d4d4d4)"></i><i style="height:15.38px;background:linear-gradient(90deg,#d4d4d4,#d4d4d4 12%,#d4d4d4 25%,#d4d4d4 38%,#d4d4d4 44%,#d4d4d4 46%,#d3d3d3 49%,#d1d1d1 52%,#cfcfcf 54%,#d1d1d1 56%,#d3d3d3 58%,#d4d4d4 61%,#d4d4d4 66%,#d4d4d4 69%,#d4d4d4 81%,#d4d4d4 91%,#d4d4d4)"></i><i style="height:15.38px;background:linear-gradient(90deg,#d5d5d5,#d5d5d5 12%,#d5d5d5 25%,#d5d5d5 38%,#d5d5d5 44%,#d4d4d4 46%,#d3d3d3 49%,#d1d1d1 52%,#d0d0d0 54%,#d1d1d1 56%,#d3d3d3 58%,#d4d4d4 61%,#d5d5d5 66%,#d5d5d5 69%,#d5d5d5 81%,#d5d5d5 91%,#d5d5d5)"></i><i style="height:15.38px;background:linear-gradient(90deg,#d5d5d5,#d5d5d5 12%,#d5d5d5 25%,#d5d5d5 38%,#d5d5d5 44%,#d5d5d5 46%,#d4d4d4 49%,#d1d1d1 52%,#d0d0d0 54%,#d1d1d1 56%,#d4d4d4 58%,#d5d5d5 61%,#d5d5d5 66%,#d5d5d5 69%,#d5d5d5 81%,#d5d5d5 91%,#d5d5d5)"></i><i style="height:12px;background:linear-gradient(90deg,#d5d5d5,#d5d5d5 12%,#d5d5d5 25%,#d5d5d5 38%,#d5d5d5 44%,#d5d5d5 46%,#d4d4d4 49%,#d2d2d2 52%,#d0d0d0 54%,#d2d2d2 56%,#d4d4d4 58%,#d5d5d5 61%,#d5d5d5 66%,#d5d5d5 69%,#d5d5d5 81%,#d5d5d5 91%,#d5d5d5)"></i></div></div>
<div class="hm" style="left:870.6px;top:2173.6px;width:85.0px;height:246.1px;"><div class="hi" style="top:-12px;filter:url(#vb2);"><i style="height:12px;background:linear-gradient(90deg,#dadada,#dadada 12%,#dadada 25%,#dadada 38%,#dadada 44%,#dadada 46%,#d9d9d9 49%,#d7d7d7 52%,#d5d5d5 54%,#d7d7d7 56%,#d9d9d9 58%,#dadada 61%,#dadada 66%,#dadada 69%,#dadada 81%,#dadada 91%,#dadada)"></i><i style="height:15.38px;background:linear-gradient(90deg,#dadada,#dadada 12%,#dadada 25%,#dadada 38%,#dadada 44%,#dadada 46%,#d9d9d9 49%,#d7d7d7 52%,#d5d5d5 54%,#d7d7d7 56%,#d9d9d9 58%,#dadada 61%,#dadada 66%,#dadada 69%,#dadada 81%,#dadada 91%,#dadada)"></i><i style="height:15.38px;background:linear-gradient(90deg,#dadada,#dadada 12%,#dadada 25%,#dadada 38%,#dadada 44%,#dadada 46%,#d9d9d9 49%,#d7d7d7 52%,#d5d5d5 54%,#d7d7d7 56%,#d9d9d9 58%,#dadada 61%,#dadada 66%,#dadada 69%,#dadada 81%,#dadada 91%,#dadada)"></i><i style="height:15.38px;background:linear-gradient(90deg,#dadada,#dadada 12%,#dadada 25%,#dadada 38%,#dadada 44%,#dadada 46%,#d9d9d9 49%,#d7d7d7 52%,#d5d5d5 54%,#d7d7d7 56%,#d9d9d9 58%,#dadada 61%,#dadada 66%,#dadada 69%,#dadada 81%,#dadada 91%,#dadada)"></i><i style="height:15.38px;background:linear-gradient(90deg,#dadada,#dadada 12%,#dadada 25%,#dadada 38%,#dadada 44%,#dadada 46%,#d9d9d9 49%,#d7d7d7 52%,#d5d5d5 54%,#d7d7d7 56%,#d9d9d9 58%,#dadada 61%,#dadada 66%,#dadada 69%,#dadada 81%,#dadada 91%,#dadada)"></i><i style="height:15.38px;background:linear-gradient(90deg,#dbdbdb,#dbdbdb 12%,#dbdbdb 25%,#dbdbdb 38%,#dbdbdb 44%,#dadada 46%,#d9d9d9 49%,#d7d7d7 52%,#d6d6d6 54%,#d7d7d7 56%,#d9d9d9 58%,#dadada 61%,#dbdbdb 66%,#dbdbdb 69%,#dbdbdb 81%,#dbdbdb 91%,#dbdbdb)"></i><i style="height:15.38px;background:linear-gradient(90deg,#dbdbdb,#dbdbdb 12%,#dbdbdb 25%,#dbdbdb 38%,#dbdbdb 44%,#dbdbdb 46%,#dadada 49%,#d7d7d7 52%,#d6d6d6 54%,#d7d7d7 56%,#dadada 58%,#dbdbdb 61%,#dbdbdb 66%,#dbdbdb 69%,#dbdbdb 81%,#dbdbdb 91%,#dbdbdb)"></i><i style="height:15.38px;background:linear-gradient(90deg,#dbdbdb,#dbdbdb 12%,#dbdbdb 25%,#dbdbdb 38%,#dbdbdb 44%,#dbdbdb 46%,#dadada 49%,#d7d7d7 52%,#d6d6d6 54%,#d7d7d7 56%,#dadada 58%,#dbdbdb 61%,#dbdbdb 66%,#dbdbdb 69%,#dbdbdb 81%,#dbdbdb 91%,#dbdbdb)"></i><i style="height:15.38px;background:linear-gradient(90deg,#dbdbdb,#dbdbdb 12%,#dbdbdb 25%,#dbdbdb 38%,#dbdbdb 44%,#dbdbdb 46%,#dadada 49%,#d7d7d7 52%,#d6d6d6 54%,#d7d7d7 56%,#dadada 58%,#dbdbdb 61%,#dbdbdb 66%,#dbdbdb 69%,#dbdbdb 81%,#dbdbdb 91%,#dbdbdb)"></i><i style="height:15.38px;background:linear-gradient(90deg,#dbdbdb,#dbdbdb 12%,#dbdbdb 25%,#dbdbdb 38%,#dbdbdb 44%,#dbdbdb 46%,#dadada 49%,#d8d8d8 52%,#d6d6d6 54%,#d8d8d8 56%,#dadada 58%,#dbdbdb 61%,#dbdbdb 66%,#dbdbdb 69%,#dbdbdb 81%,#dbdbdb 91%,#dbdbdb)"></i><i style="height:15.38px;background:linear-gradient(90deg,#dbdbdb,#dbdbdb 12%,#dbdbdb 25%,#dbdbdb 38%,#dbdbdb 44%,#dbdbdb 46%,#dadada 49%,#d8d8d8 52%,#d6d6d6 54%,#d8d8d8 56%,#dadada 58%,#dbdbdb 61%,#dbdbdb 66%,#dbdbdb 69%,#dbdbdb 81%,#dbdbdb 91%,#dbdbdb)"></i><i style="height:15.38px;background:linear-gradient(90deg,#dbdbdb,#dbdbdb 12%,#dbdbdb 25%,#dbdbdb 38%,#dbdbdb 44%,#dbdbdb 46%,#dadada 49%,#d8d8d8 52%,#d6d6d6 54%,#d8d8d8 56%,#dadada 58%,#dbdbdb 61%,#dbdbdb 66%,#dbdbdb 69%,#dbdbdb 81%,#dbdbdb 91%,#dbdbdb)"></i><i style="height:15.38px;background:linear-gradient(90deg,#dbdbdb,#dbdbdb 12%,#dbdbdb 25%,#dbdbdb 38%,#dbdbdb 44%,#dbdbdb 46%,#dadada 49%,#d8d8d8 52%,#d6d6d6 54%,#d8d8d8 56%,#dadada 58%,#dbdbdb 61%,#dbdbdb 66%,#dbdbdb 69%,#dbdbdb 81%,#dbdbdb 91%,#dbdbdb)"></i><i style="height:15.38px;background:linear-gradient(90deg,#dcdcdc,#dcdcdc 12%,#dcdcdc 25%,#dcdcdc 38%,#dcdcdc 44%,#dbdbdb 46%,#dadada 49%,#d8d8d8 52%,#d7d7d7 54%,#d8d8d8 56%,#dadada 58%,#dbdbdb 61%,#dcdcdc 66%,#dcdcdc 69%,#dcdcdc 81%,#dcdcdc 91%,#dcdcdc)"></i><i style="height:15.38px;background:linear-gradient(90deg,#dcdcdc,#dcdcdc 12%,#dcdcdc 25%,#dcdcdc 38%,#dcdcdc 44%,#dcdcdc 46%,#dbdbdb 49%,#d8d8d8 52%,#d7d7d7 54%,#d8d8d8 56%,#dbdbdb 58%,#dcdcdc 61%,#dcdcdc 66%,#dcdcdc 69%,#dcdcdc 81%,#dcdcdc 91%,#dcdcdc)"></i><i style="height:15.38px;background:linear-gradient(90deg,#dcdcdc,#dcdcdc 12%,#dcdcdc 25%,#dcdcdc 38%,#dcdcdc 44%,#dcdcdc 46%,#dbdbdb 49%,#d8d8d8 52%,#d7d7d7 54%,#d8d8d8 56%,#dbdbdb 58%,#dcdcdc 61%,#dcdcdc 66%,#dcdcdc 69%,#dcdcdc 81%,#dcdcdc 91%,#dcdcdc)"></i><i style="height:15.38px;background:linear-gradient(90deg,#dcdcdc,#dcdcdc 12%,#dcdcdc 25%,#dcdcdc 38%,#dcdcdc 44%,#dcdcdc 46%,#dbdbdb 49%,#d8d8d8 52%,#d7d7d7 54%,#d8d8d8 56%,#dbdbdb 58%,#dcdcdc 61%,#dcdcdc 66%,#dcdcdc 69%,#dcdcdc 81%,#dcdcdc 91%,#dcdcdc)"></i><i style="height:12px;background:linear-gradient(90deg,#dcdcdc,#dcdcdc 12%,#dcdcdc 25%,#dcdcdc 38%,#dcdcdc 44%,#dcdcdc 46%,#dbdbdb 49%,#d9d9d9 52%,#d7d7d7 54%,#d9d9d9 56%,#dbdbdb 58%,#dcdcdc 61%,#dcdcdc 66%,#dcdcdc 69%,#dcdcdc 81%,#dcdcdc 91%,#dcdcdc)"></i></div></div>
<div class="hm" style="left:964.6px;top:2173.6px;width:85.0px;height:246.1px;"><div class="hi" style="top:-12px;filter:url(#vb2);"><i style="height:12px;background:linear-gradient(90deg,#dedede,#dedede 12%,#dedede 25%,#dedede 38%,#dedede 44%,#dedede 49%,#dadada 51%,#d1d1d1 52%,#cccccc 54%,#cacaca 55%,#d3d3d3 57%,#d8d8d8 59%,#dadada 64%,#dbdbdb 69%,#dddddd 81%,#dddddd 91%,#dedede)"></i><i style="height:15.38px;background:linear-gradient(90deg,#dedede,#dedede 12%,#dedede 25%,#dedede 38%,#dedede 44%,#dedede 49%,#dadada 51%,#d2d2d2 52%,#cccccc 54%,#cacaca 55%,#d3d3d3 57%,#d8d8d8 59%,#dadada 64%,#dbdbdb 69%,#dddddd 81%,#dddddd 91%,#dedede)"></i><i style="height:15.38px;background:linear-gradient(90deg,#dedede,#dedede 12%,#dedede 25%,#dedede 38%,#dedede 44%,#dedede 49%,#dadada 51%,#d2d2d2 52%,#cccccc 54%,#cbcbcb 55%,#d4d4d4 57%,#d8d8d8 59%,#dadada 64%,#dbdbdb 69%,#dddddd 81%,#dedede 91%,#dedede)"></i><i style="height:15.38px;background:linear-gradient(90deg,#dfdfdf,#dfdfdf 12%,#dfdfdf 25%,#dfdfdf 38%,#dfdfdf 44%,#dedede 49%,#dadada 51%,#d2d2d2 52%,#cdcdcd 54%,#cbcbcb 55%,#d4d4d4 57%,#d9d9d9 59%,#dbdbdb 64%,#dcdcdc 69%,#dddddd 81%,#dedede 91%,#dedede)"></i><i style="height:15.38px;background:linear-gradient(90deg,#dfdfdf,#dfdfdf 12%,#dfdfdf 25%,#dfdfdf 38%,#dfdfdf 44%,#dfdfdf 49%,#dbdbdb 51%,#d2d2d2 52%,#cdcdcd 54%,#cbcbcb 55%,#d4d4d4 57%,#d9d9d9 59%,#dbdbdb 64%,#dcdcdc 69%,#dedede 81%,#dedede 91%,#dfdfdf)"></i><i style="height:15.38px;background:linear-gradient(90deg,#dfdfdf,#dfdfdf 12%,#dfdfdf 25%,#dfdfdf 38%,#dfdfdf 44%,#dfdfdf 49%,#dbdbdb 51%,#d3d3d3 52%,#cdcdcd 54%,#cbcbcb 55%,#d4d4d4 57%,#d9d9d9 59%,#dbdbdb 64%,#dcdcdc 69%,#dedede 81%,#dedede 91%,#dfdfdf)"></i><i style="height:15.38px;background:linear-gradient(90deg,#dfdfdf,#dfdfdf 12%,#dfdfdf 25%,#dfdfdf 38%,#dfdfdf 44%,#dfdfdf 49%,#dbdbdb 51%,#d3d3d3 52%,#cdcdcd 54%,#cccccc 55%,#d5d5d5 57%,#d9d9d9 59%,#dbdbdb 64%,#dcdcdc 69%,#dedede 81%,#dfdfdf 91%,#dfdfdf)"></i><i style="height:15.38px;background:linear-gradient(90deg,#e0e0e0,#e0e0e0 12%,#e0e0e0 25%,#e0e0e0 38%,#e0e0e0 44%,#dfdfdf 49%,#dbdbdb 51%,#d3d3d3 52%,#cecece 54%,#cccccc 55%,#d5d5d5 57%,#dadada 59%,#dcdcdc 64%,#dddddd 69%,#dedede 81%,#dfdfdf 91%,#dfdfdf)"></i><i style="height:15.38px;background:linear-gradient(90deg,#e0e0e0,#e0e0e0 12%,#e0e0e0 25%,#e0e0e0 38%,#e0e0e0 44%,#e0e0e0 49%,#dcdcdc 51%,#d3d3d3 52%,#cecece 54%,#cccccc 55%,#d5d5d5 57%,#dadada 59%,#dcdcdc 64%,#dddddd 69%,#dfdfdf 81%,#dfdfdf 91%,#e0e0e0)"></i><i style="height:15.38px;background:linear-gradient(90deg,#e0e0e0,#e0e0e0 12%,#e0e0e0 25%,#e0e0e0 38%,#e0e0e0 44%,#e0e0e0 49%,#dcdcdc 51%,#d4d4d4 52%,#cecece 54%,#cccccc 55%,#d5d5d5 57%,#dadada 59%,#dcdcdc 64%,#dddddd 69%,#dfdfdf 81%,#dfdfdf 91%,#e0e0e0)"></i><i style="height:15.38px;background:linear-gradient(90deg,#e0e0e0,#e0e0e0 12%,#e0e0e0 25%,#e0e0e0 38%,#e0e0e0 44%,#e0e0e0 49%,#dcdcdc 51%,#d4d4d4 52%,#cecece 54%,#cdcdcd 55%,#d6d6d6 57%,#dadada 59%,#dcdcdc 64%,#dddddd 69%,#dfdfdf 81%,#e0e0e0 91%,#e0e0e0)"></i><i style="height:15.38px;background:linear-gradient(90deg,#e1e1e1,#e1e1e1 12%,#e1e1e1 25%,#e1e1e1 38%,#e1e1e1 44%,#e0e0e0 49%,#dcdcdc 51%,#d4d4d4 52%,#cfcfcf 54%,#cdcdcd 55%,#d6d6d6 57%,#dbdbdb 59%,#dddddd 64%,#dedede 69%,#dfdfdf 81%,#e0e0e0 91%,#e0e0e0)"></i><i style="height:15.38px;background:linear-gradient(90deg,#e1e1e1,#e1e1e1 12%,#e1e1e1 25%,#e1e1e1 38%,#e1e1e1 44%,#e1e1e1 49%,#dddddd 51%,#d4d4d4 52%,#cfcfcf 54%,#cdcdcd 55%,#d6d6d6 57%,#dbdbdb 59%,#dddddd 64%,#dedede 69%,#e0e0e0 81%,#e0e0e0 91%,#e1e1e1)"></i><i style="height:15.38px;background:linear-gradient(90deg,#e1e1e1,#e1e1e1 12%,#e1e1e1 25%,#e1e1e1 38%,#e1e1e1 44%,#e1e1e1 49%,#dddddd 51%,#d5d5d5 52%,#cfcfcf 54%,#cdcdcd 55%,#d6d6d6 57%,#dbdbdb 59%,#dddddd 64%,#dedede 69%,#e0e0e0 81%,#e0e0e0 91%,#e1e1e1)"></i><i style="height:15.38px;background:linear-gradient(90deg,#e1e1e1,#e1e1e1 12%,#e1e1e1 25%,#e1e1e1 38%,#e1e1e1 44%,#e1e1e1 49%,#dddddd 51%,#d5d5d5 52%,#cfcfcf 54%,#cecece 55%,#d7d7d7 57%,#dbdbdb 59%,#dddddd 64%,#dedede 69%,#e0e0e0 81%,#e1e1e1 91%,#e1e1e1)"></i><i style="height:15.38px;background:linear-gradient(90deg,#e2e2e2,#e2e2e2 12%,#e2e2e2 25%,#e2e2e2 38%,#e2e2e2 44%,#e1e1e1 49%,#dddddd 51%,#d5d5d5 52%,#d0d0d0 54%,#cecece 55%,#d7d7d7 57%,#dcdcdc 59%,#dedede 64%,#dfdfdf 69%,#e0e0e0 81%,#e1e1e1 91%,#e1e1e1)"></i><i style="height:15.38px;background:linear-gradient(90deg,#e2e2e2,#e2e2e2 12%,#e2e2e2 25%,#e2e2e2 38%,#e2e2e2 44%,#e2e2e2 49%,#dedede 51%,#d5d5d5 52%,#d0d0d0 54%,#cecece 55%,#d7d7d7 57%,#dcdcdc 59%,#dedede 64%,#dfdfdf 69%,#e1e1e1 81%,#e1e1e1 91%,#e2e2e2)"></i><i style="height:12px;background:linear-gradient(90deg,#e2e2e2,#e2e2e2 12%,#e2e2e2 25%,#e2e2e2 38%,#e2e2e2 44%,#e2e2e2 49%,#dedede 51%,#d5d5d5 52%,#d0d0d0 54%,#cecece 55%,#d7d7d7 57%,#dcdcdc 59%,#dedede 64%,#dfdfdf 69%,#e1e1e1 81%,#e1e1e1 91%,#e2e2e2)"></i></div></div>
<div class="hm" style="left:1058.7px;top:2173.6px;width:85.0px;height:246.1px;"><div class="hi" style="top:-12px;filter:url(#vb2);"><i style="height:12px;background:linear-gradient(90deg,#484848,#404040 12%,#363636 25%,#2d2d2d 34%,#262626 41%,#212121 48%,#1f1f1f 52%,#1e1e1e 57%,#1f1f1f 62%,#242424 70%,#2d2d2d 80%,#373737 90%,#404040)"></i><i style="height:15.38px;background:linear-gradient(90deg,#4b4b4b,#444444 12%,#393939 25%,#2f2f2f 34%,#282828 41%,#222222 48%,#202020 52%,#1f1f1f 57%,#202020 62%,#252525 70%,#2f2f2f 80%,#3a3a3a 90%,#434343)"></i><i style="height:15.38px;background:linear-gradient(90deg,#525252,#4a4a4a 12%,#3e3e3e 25%,#343434 34%,#2b2b2b 41%,#252525 48%,#212121 52%,#212121 57%,#222222 62%,#282828 70%,#343434 80%,#404040 90%,#494949)"></i><i style="height:15.38px;background:linear-gradient(90deg,#595959,#515151 12%,#444444 25%,#393939 34%,#2e2e2e 41%,#272727 48%,#232323 52%,#222222 57%,#242424 62%,#2b2b2b 70%,#393939 80%,#464646 90%,#505050)"></i><i style="height:15.38px;background:linear-gradient(90deg,#606060,#585858 12%,#4b4b4b 25%,#3e3e3e 34%,#323232 41%,#2a2a2a 48%,#252525 52%,#242424 57%,#262626 62%,#2f2f2f 70%,#3e3e3e 80%,#4c4c4c 90%,#575757)"></i><i style="height:15.38px;background:linear-gradient(90deg,#676767,#5f5f5f 12%,#525252 25%,#444444 34%,#373737 41%,#2d2d2d 48%,#272727 52%,#262626 57%,#282828 62%,#333333 70%,#444444 80%,#545454 90%,#5e5e5e)"></i><i style="height:15.38px;background:linear-gradient(90deg,#6e6e6e,#676767 12%,#595959 25%,#4b4b4b 34%,#3b3b3b 41%,#303030 48%,#292929 52%,#272727 57%,#2a2a2a 62%,#363636 70%,#4b4b4b 80%,#5b5b5b 90%,#666666)"></i><i style="height:15.38px;background:linear-gradient(90deg,#757575,#6e6e6e 12%,#606060 25%,#515151 34%,#404040 41%,#333333 48%,#2b2b2b 52%,#292929 57%,#2c2c2c 62%,#3a3a3a 70%,#515151 80%,#626262 90%,#6d6d6d)"></i><i style="height:15.38px;background:linear-gradient(90deg,#7d7d7d,#767676 12%,#686868 25%,#585858 34%,#454545 41%,#363636 48%,#2d2d2d 52%,#2a2a2a 57%,#2f2f2f 62%,#3f3f3f 70%,#585858 80%,#6a6a6a 90%,#757575)"></i><i style="height:15.38px;background:linear-gradient(90deg,#848484,#7d7d7d 12%,#707070 25%,#5f5f5f 34%,#4b4b4b 41%,#393939 48%,#2f2f2f 52%,#2b2b2b 57%,#313131 62%,#444444 70%,#5f5f5f 80%,#727272 90%,#7c7c7c)"></i><i style="height:15.38px;background:linear-gradient(90deg,#8b8b8b,#858585 12%,#787878 25%,#676767 34%,#515151 41%,#3d3d3d 48%,#313131 52%,#2d2d2d 57%,#333333 62%,#494949 70%,#676767 80%,#7a7a7a 90%,#848484)"></i><i style="height:15.38px;background:linear-gradient(90deg,#959595,#909090 12%,#838383 25%,#717171 34%,#5a5a5a 41%,#434343 48%,#343434 52%,#2f2f2f 57%,#373737 62%,#515151 70%,#717171 80%,#858585 90%,#8f8f8f)"></i><i style="height:15.38px;background:linear-gradient(90deg,#9f9f9f,#9a9a9a 12%,#8e8e8e 25%,#7c7c7c 34%,#636363 41%,#494949 48%,#383838 52%,#323232 57%,#3b3b3b 62%,#595959 70%,#7c7c7c 80%,#909090 90%,#9a9a9a)"></i><i style="height:15.38px;background:linear-gradient(90deg,#a9a9a9,#a5a5a5 12%,#9a9a9a 25%,#888888 34%,#6d6d6d 41%,#505050 48%,#3b3b3b 52%,#343434 57%,#404040 62%,#626262 70%,#888888 80%,#9b9b9b 90%,#a4a4a4)"></i><i style="height:15.38px;background:linear-gradient(90deg,#b3b3b3,#b0b0b0 12%,#a6a6a6 25%,#949494 34%,#797979 41%,#585858 48%,#404040 52%,#373737 57%,#454545 62%,#6d6d6d 70%,#949494 80%,#a7a7a7 90%,#afafaf)"></i><i style="height:15.38px;background:linear-gradient(90deg,#bcbcbc,#b9b9b9 12%,#b0b0b0 25%,#9f9f9f 34%,#848484 41%,#616161 48%,#474747 52%,#3d3d3d 57%,#4c4c4c 62%,#777777 70%,#9f9f9f 80%,#b1b1b1 90%,#b8b8b8)"></i><i style="height:15.38px;background:linear-gradient(90deg,#c4c4c4,#c1c1c1 12%,#b9b9b9 25%,#aaaaaa 34%,#8f8f8f 41%,#6b6b6b 48%,#4e4e4e 52%,#434343 57%,#545454 62%,#828282 70%,#aaaaaa 80%,#bbbbbb 90%,#c1c1c1)"></i><i style="height:12px;background:linear-gradient(90deg,#c8c8c8,#c6c6c6 12%,#bebebe 25%,#afafaf 34%,#949494 41%,#707070 48%,#525252 52%,#464646 57%,#585858 62%,#878787 70%,#afafaf 80%,#bfbfbf 90%,#c5c5c5)"></i></div></div>
<div class="hm" style="left:1152.8px;top:2173.6px;width:85.0px;height:246.1px;"><div class="hi" style="top:-12px;filter:url(#vb2);"><i style="height:12px;background:linear-gradient(90deg,#969696,#8c8c8c 12%,#7e7e7e 25%,#737373 34%,#696969 41%,#636363 48%,#606060 52%,#5f5f5f 57%,#616161 62%,#676767 70%,#737373 80%,#808080 90%,#8b8b8b)"></i><i style="height:15.38px;background:linear-gradient(90deg,#989898,#8f8f8f 12%,#818181 25%,#757575 34%,#6b6b6b 41%,#646464 48%,#616161 52%,#606060 57%,#616161 62%,#686868 70%,#757575 80%,#828282 90%,#8d8d8d)"></i><i style="height:15.38px;background:linear-gradient(90deg,#9e9e9e,#949494 12%,#858585 25%,#797979 34%,#6d6d6d 41%,#666666 48%,#626262 52%,#616161 57%,#626262 62%,#6a6a6a 70%,#797979 80%,#878787 90%,#939393)"></i><i style="height:15.38px;background:linear-gradient(90deg,#a3a3a3,#999999 12%,#8a8a8a 25%,#7d7d7d 34%,#707070 41%,#676767 48%,#636363 52%,#626262 57%,#646464 62%,#6c6c6c 70%,#7d7d7d 80%,#8c8c8c 90%,#989898)"></i><i style="height:15.38px;background:linear-gradient(90deg,#a8a8a8,#9f9f9f 12%,#909090 25%,#818181 34%,#747474 41%,#6a6a6a 48%,#646464 52%,#636363 57%,#656565 62%,#6f6f6f 70%,#818181 80%,#929292 90%,#9e9e9e)"></i><i style="height:15.38px;background:linear-gradient(90deg,#adadad,#a5a5a5 12%,#969696 25%,#878787 34%,#777777 41%,#6c6c6c 48%,#666666 52%,#646464 57%,#676767 62%,#727272 70%,#878787 80%,#989898 90%,#a4a4a4)"></i><i style="height:15.38px;background:linear-gradient(90deg,#b2b2b2,#aaaaaa 12%,#9b9b9b 25%,#8b8b8b 34%,#7b7b7b 41%,#6e6e6e 48%,#676767 52%,#656565 57%,#686868 62%,#757575 70%,#8b8b8b 80%,#9d9d9d 90%,#a9a9a9)"></i><i style="height:15.38px;background:linear-gradient(90deg,#b6b6b6,#afafaf 12%,#a0a0a0 25%,#909090 34%,#7f7f7f 41%,#707070 48%,#686868 52%,#666666 57%,#6a6a6a 62%,#797979 70%,#909090 80%,#a2a2a2 90%,#aeaeae)"></i><i style="height:15.38px;background:linear-gradient(90deg,#bababa,#b3b3b3 12%,#a5a5a5 25%,#959595 34%,#828282 41%,#737373 48%,#6a6a6a 52%,#676767 57%,#6b6b6b 62%,#7c7c7c 70%,#959595 80%,#a7a7a7 90%,#b2b2b2)"></i><i style="height:15.38px;background:linear-gradient(90deg,#bfbfbf,#b8b8b8 12%,#ababab 25%,#9a9a9a 34%,#878787 41%,#757575 48%,#6b6b6b 52%,#686868 57%,#6d6d6d 62%,#808080 70%,#9a9a9a 80%,#adadad 90%,#b7b7b7)"></i><i style="height:15.38px;background:linear-gradient(90deg,#c3c3c3,#bdbdbd 12%,#b0b0b0 25%,#a0a0a0 34%,#8c8c8c 41%,#787878 48%,#6d6d6d 52%,#696969 57%,#6f6f6f 62%,#848484 70%,#a0a0a0 80%,#b2b2b2 90%,#bcbcbc)"></i><i style="height:15.38px;background:linear-gradient(90deg,#c8c8c8,#c3c3c3 12%,#b7b7b7 25%,#a7a7a7 34%,#929292 41%,#7e7e7e 48%,#717171 52%,#6c6c6c 57%,#737373 62%,#8a8a8a 70%,#a7a7a7 80%,#b9b9b9 90%,#c2c2c2)"></i><i style="height:15.38px;background:linear-gradient(90deg,#cdcdcd,#c9c9c9 12%,#bebebe 25%,#afafaf 34%,#9a9a9a 41%,#848484 48%,#757575 52%,#707070 57%,#787878 62%,#919191 70%,#afafaf 80%,#c0c0c0 90%,#c8c8c8)"></i><i style="height:15.38px;background:linear-gradient(90deg,#d2d2d2,#cecece 12%,#c5c5c5 25%,#b7b7b7 34%,#a2a2a2 41%,#8a8a8a 48%,#7a7a7a 52%,#747474 57%,#7d7d7d 62%,#999999 70%,#b7b7b7 80%,#c7c7c7 90%,#cecece)"></i><i style="height:15.38px;background:linear-gradient(90deg,#d7d7d7,#d4d4d4 12%,#cccccc 25%,#bfbfbf 34%,#aaaaaa 41%,#919191 48%,#7e7e7e 52%,#787878 57%,#828282 62%,#a1a1a1 70%,#bfbfbf 80%,#cdcdcd 90%,#d4d4d4)"></i><i style="height:15.38px;background:linear-gradient(90deg,#dbdbdb,#d9d9d9 12%,#d2d2d2 25%,#c6c6c6 34%,#b3b3b3 41%,#9a9a9a 48%,#878787 52%,#808080 57%,#8b8b8b 62%,#aaaaaa 70%,#c6c6c6 80%,#d3d3d3 90%,#d8d8d8)"></i><i style="height:15.38px;background:linear-gradient(90deg,#dfdfdf,#dddddd 12%,#d8d8d8 25%,#cdcdcd 34%,#bbbbbb 41%,#a3a3a3 48%,#8f8f8f 52%,#888888 57%,#949494 62%,#b2b2b2 70%,#cdcdcd 80%,#d9d9d9 90%,#dddddd)"></i><i style="height:12px;background:linear-gradient(90deg,#e1e1e1,#e0e0e0 12%,#dbdbdb 25%,#d1d1d1 34%,#bfbfbf 41%,#a7a7a7 48%,#949494 52%,#8c8c8c 57%,#989898 62%,#b7b7b7 70%,#d1d1d1 80%,#dbdbdb 90%,#dfdfdf)"></i></div></div>
<div class="hm" style="left:1246.8px;top:2173.6px;width:85.0px;height:246.1px;"><div class="hi" style="top:-12px;filter:url(#vb2);"><i style="height:12px;background:linear-gradient(90deg,#414141,#3b3b3b 12%,#323232 25%,#2b2b2b 34%,#252525 41%,#212121 48%,#1f1f1f 52%,#1e1e1e 57%,#1f1f1f 62%,#232323 70%,#2b2b2b 80%,#333333 90%,#3a3a3a)"></i><i style="height:15.38px;background:linear-gradient(90deg,#444444,#3d3d3d 12%,#343434 25%,#2d2d2d 34%,#262626 41%,#212121 48%,#1f1f1f 52%,#1f1f1f 57%,#202020 62%,#242424 70%,#2d2d2d 80%,#353535 90%,#3d3d3d)"></i><i style="height:15.38px;background:linear-gradient(90deg,#4a4a4a,#434343 12%,#393939 25%,#303030 34%,#292929 41%,#232323 48%,#212121 52%,#202020 57%,#212121 62%,#262626 70%,#303030 80%,#3a3a3a 90%,#424242)"></i><i style="height:15.38px;background:linear-gradient(90deg,#505050,#494949 12%,#3f3f3f 25%,#353535 34%,#2c2c2c 41%,#252525 48%,#222222 52%,#212121 57%,#232323 62%,#292929 70%,#353535 80%,#404040 90%,#484848)"></i><i style="height:15.38px;background:linear-gradient(90deg,#565656,#505050 12%,#444444 25%,#393939 34%,#2f2f2f 41%,#282828 48%,#242424 52%,#222222 57%,#242424 62%,#2c2c2c 70%,#393939 80%,#464646 90%,#4f4f4f)"></i><i style="height:15.38px;background:linear-gradient(90deg,#5d5d5d,#565656 12%,#4b4b4b 25%,#3f3f3f 34%,#333333 41%,#2a2a2a 48%,#252525 52%,#242424 57%,#262626 62%,#2f2f2f 70%,#3f3f3f 80%,#4c4c4c 90%,#555555)"></i><i style="height:15.38px;background:linear-gradient(90deg,#646464,#5d5d5d 12%,#515151 25%,#444444 34%,#373737 41%,#2c2c2c 48%,#272727 52%,#252525 57%,#282828 62%,#333333 70%,#444444 80%,#535353 90%,#5c5c5c)"></i><i style="height:15.38px;background:linear-gradient(90deg,#6b6b6b,#656565 12%,#585858 25%,#4a4a4a 34%,#3b3b3b 41%,#2f2f2f 48%,#282828 52%,#262626 57%,#2a2a2a 62%,#363636 70%,#4a4a4a 80%,#5a5a5a 90%,#646464)"></i><i style="height:15.38px;background:linear-gradient(90deg,#727272,#6c6c6c 12%,#606060 25%,#515151 34%,#404040 41%,#323232 48%,#2a2a2a 52%,#272727 57%,#2c2c2c 62%,#3a3a3a 70%,#515151 80%,#616161 90%,#6b6b6b)"></i><i style="height:15.38px;background:linear-gradient(90deg,#7a7a7a,#747474 12%,#676767 25%,#585858 34%,#464646 41%,#353535 48%,#2c2c2c 52%,#292929 57%,#2e2e2e 62%,#3f3f3f 70%,#585858 80%,#696969 90%,#737373)"></i><i style="height:15.38px;background:linear-gradient(90deg,#818181,#7c7c7c 12%,#707070 25%,#606060 34%,#4c4c4c 41%,#393939 48%,#2e2e2e 52%,#2a2a2a 57%,#303030 62%,#444444 70%,#606060 80%,#717171 90%,#7b7b7b)"></i><i style="height:15.38px;background:linear-gradient(90deg,#8b8b8b,#868686 12%,#7a7a7a 25%,#6a6a6a 34%,#545454 41%,#3f3f3f 48%,#313131 52%,#2d2d2d 57%,#343434 62%,#4c4c4c 70%,#6a6a6a 80%,#7c7c7c 90%,#858585)"></i><i style="height:15.38px;background:linear-gradient(90deg,#959595,#919191 12%,#858585 25%,#757575 34%,#5e5e5e 41%,#464646 48%,#363636 52%,#303030 57%,#393939 62%,#545454 70%,#757575 80%,#878787 90%,#909090)"></i><i style="height:15.38px;background:linear-gradient(90deg,#9f9f9f,#9b9b9b 12%,#919191 25%,#818181 34%,#686868 41%,#4d4d4d 48%,#3a3a3a 52%,#343434 57%,#3e3e3e 62%,#5e5e5e 70%,#818181 80%,#929292 90%,#9b9b9b)"></i><i style="height:15.38px;background:linear-gradient(90deg,#a9a9a9,#a6a6a6 12%,#9d9d9d 25%,#8d8d8d 34%,#747474 41%,#555555 48%,#3f3f3f 52%,#373737 57%,#444444 62%,#686868 70%,#8d8d8d 80%,#9e9e9e 90%,#a5a5a5)"></i><i style="height:15.38px;background:linear-gradient(90deg,#b2b2b2,#afafaf 12%,#a6a6a6 25%,#979797 34%,#7e7e7e 41%,#5f5f5f 48%,#464646 52%,#3d3d3d 57%,#4b4b4b 62%,#727272 70%,#979797 80%,#a8a8a8 90%,#aeaeae)"></i><i style="height:15.38px;background:linear-gradient(90deg,#bababa,#b8b8b8 12%,#b0b0b0 25%,#a2a2a2 34%,#898989 41%,#686868 48%,#4d4d4d 52%,#434343 57%,#535353 62%,#7d7d7d 70%,#a2a2a2 80%,#b1b1b1 90%,#b7b7b7)"></i><i style="height:12px;background:linear-gradient(90deg,#bebebe,#bcbcbc 12%,#b5b5b5 25%,#a7a7a7 34%,#8e8e8e 41%,#6d6d6d 48%,#515151 52%,#464646 57%,#575757 62%,#828282 70%,#a7a7a7 80%,#b6b6b6 90%,#bcbcbc)"></i></div></div>
<div class="hm" style="left:1340.9px;top:2173.6px;width:85.0px;height:246.1px;"><div class="hi" style="top:-12px;filter:url(#vb2);"><i style="height:12px;background:linear-gradient(90deg,#878787,#7e7e7e 12%,#727272 25%,#676767 34%,#5e5e5e 41%,#595959 48%,#565656 52%,#555555 57%,#565656 62%,#5c5c5c 70%,#676767 80%,#737373 90%,#7d7d7d)"></i><i style="height:15.38px;background:linear-gradient(90deg,#898989,#808080 12%,#737373 25%,#686868 34%,#5f5f5f 41%,#595959 48%,#565656 52%,#555555 57%,#565656 62%,#5c5c5c 70%,#686868 80%,#757575 90%,#7f7f7f)"></i><i style="height:15.38px;background:linear-gradient(90deg,#8d8d8d,#848484 12%,#777777 25%,#6b6b6b 34%,#616161 41%,#5a5a5a 48%,#565656 52%,#555555 57%,#575757 62%,#5e5e5e 70%,#6b6b6b 80%,#787878 90%,#838383)"></i><i style="height:15.38px;background:linear-gradient(90deg,#919191,#888888 12%,#7b7b7b 25%,#6e6e6e 34%,#636363 41%,#5a5a5a 48%,#565656 52%,#555555 57%,#575757 62%,#5f5f5f 70%,#6e6e6e 80%,#7c7c7c 90%,#878787)"></i><i style="height:15.38px;background:linear-gradient(90deg,#959595,#8d8d8d 12%,#7f7f7f 25%,#727272 34%,#656565 41%,#5b5b5b 48%,#565656 52%,#555555 57%,#575757 62%,#616161 70%,#727272 80%,#818181 90%,#8c8c8c)"></i><i style="height:15.38px;background:linear-gradient(90deg,#9a9a9a,#929292 12%,#848484 25%,#767676 34%,#676767 41%,#5d5d5d 48%,#575757 52%,#555555 57%,#585858 62%,#636363 70%,#767676 80%,#858585 90%,#919191)"></i><i style="height:15.38px;background:linear-gradient(90deg,#9e9e9e,#969696 12%,#888888 25%,#7a7a7a 34%,#6a6a6a 41%,#5e5e5e 48%,#575757 52%,#555555 57%,#595959 62%,#656565 70%,#7a7a7a 80%,#8a8a8a 90%,#959595)"></i><i style="height:15.38px;background:linear-gradient(90deg,#a2a2a2,#9b9b9b 12%,#8d8d8d 25%,#7e7e7e 34%,#6d6d6d 41%,#606060 48%,#585858 52%,#565656 57%,#5a5a5a 62%,#686868 70%,#7e7e7e 80%,#8f8f8f 90%,#9a9a9a)"></i><i style="height:15.38px;background:linear-gradient(90deg,#a6a6a6,#a0a0a0 12%,#929292 25%,#838383 34%,#717171 41%,#626262 48%,#595959 52%,#575757 57%,#5b5b5b 62%,#6b6b6b 70%,#838383 80%,#949494 90%,#9f9f9f)"></i><i style="height:15.38px;background:linear-gradient(90deg,#aaaaaa,#a4a4a4 12%,#989898 25%,#888888 34%,#757575 41%,#646464 48%,#5a5a5a 52%,#575757 57%,#5c5c5c 62%,#6e6e6e 70%,#888888 80%,#999999 90%,#a4a4a4)"></i><i style="height:15.38px;background:linear-gradient(90deg,#afafaf,#a9a9a9 12%,#9d9d9d 25%,#8d8d8d 34%,#797979 41%,#676767 48%,#5c5c5c 52%,#585858 57%,#5e5e5e 62%,#727272 70%,#8d8d8d 80%,#9f9f9f 90%,#a8a8a8)"></i><i style="height:15.38px;background:linear-gradient(90deg,#b5b5b5,#b0b0b0 12%,#a5a5a5 25%,#959595 34%,#818181 41%,#6d6d6d 48%,#606060 52%,#5c5c5c 57%,#636363 62%,#797979 70%,#959595 80%,#a6a6a6 90%,#afafaf)"></i><i style="height:15.38px;background:linear-gradient(90deg,#bbbbbb,#b7b7b7 12%,#adadad 25%,#9e9e9e 34%,#898989 41%,#747474 48%,#656565 52%,#606060 57%,#686868 62%,#818181 70%,#9e9e9e 80%,#aeaeae 90%,#b6b6b6)"></i><i style="height:15.38px;background:linear-gradient(90deg,#c1c1c1,#bebebe 12%,#b5b5b5 25%,#a7a7a7 34%,#929292 41%,#7b7b7b 48%,#6a6a6a 52%,#646464 57%,#6d6d6d 62%,#898989 70%,#a7a7a7 80%,#b6b6b6 90%,#bdbdbd)"></i><i style="height:15.38px;background:linear-gradient(90deg,#c7c7c7,#c5c5c5 12%,#bdbdbd 25%,#b0b0b0 34%,#9b9b9b 41%,#828282 48%,#6f6f6f 52%,#696969 57%,#737373 62%,#929292 70%,#b0b0b0 80%,#bebebe 90%,#c4c4c4)"></i><i style="height:15.38px;background:linear-gradient(90deg,#cdcdcd,#cacaca 12%,#c4c4c4 25%,#b8b8b8 34%,#a4a4a4 41%,#8b8b8b 48%,#787878 52%,#717171 57%,#7c7c7c 62%,#9b9b9b 70%,#b8b8b8 80%,#c5c5c5 90%,#cacaca)"></i><i style="height:15.38px;background:linear-gradient(90deg,#d2d2d2,#d0d0d0 12%,#cacaca 25%,#c0c0c0 34%,#adadad 41%,#949494 48%,#808080 52%,#797979 57%,#858585 62%,#a4a4a4 70%,#c0c0c0 80%,#cbcbcb 90%,#d0d0d0)"></i><i style="height:12px;background:linear-gradient(90deg,#d4d4d4,#d3d3d3 12%,#cdcdcd 25%,#c3c3c3 34%,#b1b1b1 41%,#999999 48%,#858585 52%,#7d7d7d 57%,#898989 62%,#a9a9a9 70%,#c3c3c3 80%,#cecece 90%,#d2d2d2)"></i></div></div>
<div class="hm" style="left:1434.9px;top:2173.6px;width:85.0px;height:246.1px;"><div class="hi" style="top:-12px;filter:url(#vb2);"><i style="height:12px;background:linear-gradient(90deg,#646464,#5d5d5d 12%,#535353 25%,#4b4b4b 34%,#444444 41%,#3f3f3f 48%,#3d3d3d 52%,#3c3c3c 57%,#3d3d3d 62%,#424242 70%,#4b4b4b 80%,#545454 90%,#5c5c5c)"></i><i style="height:15.38px;background:linear-gradient(90deg,#686868,#606060 12%,#565656 25%,#4d4d4d 34%,#454545 41%,#404040 48%,#3e3e3e 52%,#3d3d3d 57%,#3e3e3e 62%,#434343 70%,#4d4d4d 80%,#575757 90%,#606060)"></i><i style="height:15.38px;background:linear-gradient(90deg,#707070,#686868 12%,#5c5c5c 25%,#525252 34%,#494949 41%,#434343 48%,#3f3f3f 52%,#3f3f3f 57%,#404040 62%,#464646 70%,#525252 80%,#5e5e5e 90%,#676767)"></i><i style="height:15.38px;background:linear-gradient(90deg,#787878,#707070 12%,#636363 25%,#575757 34%,#4d4d4d 41%,#454545 48%,#414141 52%,#404040 57%,#424242 62%,#494949 70%,#575757 80%,#656565 90%,#6f6f6f)"></i><i style="height:15.38px;background:linear-gradient(90deg,#818181,#787878 12%,#6b6b6b 25%,#5e5e5e 34%,#515151 41%,#484848 48%,#434343 52%,#424242 57%,#444444 62%,#4d4d4d 70%,#5e5e5e 80%,#6c6c6c 90%,#777777)"></i><i style="height:15.38px;background:linear-gradient(90deg,#898989,#818181 12%,#737373 25%,#656565 34%,#565656 41%,#4b4b4b 48%,#454545 52%,#444444 57%,#464646 62%,#515151 70%,#656565 80%,#757575 90%,#808080)"></i><i style="height:15.38px;background:linear-gradient(90deg,#909090,#888888 12%,#7a7a7a 25%,#6b6b6b 34%,#5b5b5b 41%,#4e4e4e 48%,#474747 52%,#454545 57%,#484848 62%,#555555 70%,#6b6b6b 80%,#7c7c7c 90%,#878787)"></i><i style="height:15.38px;background:linear-gradient(90deg,#969696,#8e8e8e 12%,#808080 25%,#707070 34%,#5f5f5f 41%,#515151 48%,#494949 52%,#474747 57%,#4a4a4a 62%,#595959 70%,#707070 80%,#828282 90%,#8d8d8d)"></i><i style="height:15.38px;background:linear-gradient(90deg,#9c9c9c,#959595 12%,#878787 25%,#767676 34%,#646464 41%,#545454 48%,#4b4b4b 52%,#484848 57%,#4d4d4d 62%,#5d5d5d 70%,#767676 80%,#898989 90%,#949494)"></i><i style="height:15.38px;background:linear-gradient(90deg,#a2a2a2,#9b9b9b 12%,#8e8e8e 25%,#7d7d7d 34%,#696969 41%,#575757 48%,#4d4d4d 52%,#494949 57%,#4f4f4f 62%,#626262 70%,#7d7d7d 80%,#8f8f8f 90%,#9a9a9a)"></i><i style="height:15.38px;background:linear-gradient(90deg,#a7a7a7,#a2a2a2 12%,#959595 25%,#848484 34%,#6f6f6f 41%,#5b5b5b 48%,#4f4f4f 52%,#4b4b4b 57%,#515151 62%,#676767 70%,#848484 80%,#979797 90%,#a1a1a1)"></i><i style="height:15.38px;background:linear-gradient(90deg,#aeaeae,#a9a9a9 12%,#9d9d9d 25%,#8c8c8c 34%,#767676 41%,#616161 48%,#535353 52%,#4e4e4e 57%,#565656 62%,#6e6e6e 70%,#8c8c8c 80%,#9f9f9f 90%,#a8a8a8)"></i><i style="height:15.38px;background:linear-gradient(90deg,#b5b5b5,#b1b1b1 12%,#a6a6a6 25%,#959595 34%,#7f7f7f 41%,#676767 48%,#575757 52%,#525252 57%,#5b5b5b 62%,#767676 70%,#959595 80%,#a7a7a7 90%,#b0b0b0)"></i><i style="height:15.38px;background:linear-gradient(90deg,#bcbcbc,#b8b8b8 12%,#aeaeae 25%,#9f9f9f 34%,#888888 41%,#6e6e6e 48%,#5c5c5c 52%,#565656 57%,#606060 62%,#7e7e7e 70%,#9f9f9f 80%,#b0b0b0 90%,#b8b8b8)"></i><i style="height:15.38px;background:linear-gradient(90deg,#c2c2c2,#c0c0c0 12%,#b7b7b7 25%,#a9a9a9 34%,#919191 41%,#767676 48%,#616161 52%,#5a5a5a 57%,#656565 62%,#878787 70%,#a9a9a9 80%,#b8b8b8 90%,#bfbfbf)"></i><i style="height:15.38px;background:linear-gradient(90deg,#c9c9c9,#c6c6c6 12%,#bfbfbf 25%,#b2b2b2 34%,#9b9b9b 41%,#7f7f7f 48%,#6a6a6a 52%,#626262 57%,#6e6e6e 62%,#919191 70%,#b2b2b2 80%,#c0c0c0 90%,#c6c6c6)"></i><i style="height:15.38px;background:linear-gradient(90deg,#cfcfcf,#cdcdcd 12%,#c7c7c7 25%,#bbbbbb 34%,#a5a5a5 41%,#898989 48%,#727272 52%,#6a6a6a 57%,#777777 62%,#9b9b9b 70%,#bbbbbb 80%,#c8c8c8 90%,#cdcdcd)"></i><i style="height:12px;background:linear-gradient(90deg,#d2d2d2,#d0d0d0 12%,#cacaca 25%,#bfbfbf 34%,#aaaaaa 41%,#8e8e8e 48%,#777777 52%,#6e6e6e 57%,#7c7c7c 62%,#a0a0a0 70%,#bfbfbf 80%,#cbcbcb 90%,#d0d0d0)"></i></div></div>
<div class="hm" style="left:1529.0px;top:2173.6px;width:85.0px;height:246.1px;"><div class="hi" style="top:-12px;filter:url(#vb2);"><i style="height:12px;background:linear-gradient(90deg,#828282,#797979 12%,#6d6d6d 25%,#626262 34%,#595959 41%,#545454 48%,#515151 52%,#505050 57%,#515151 62%,#575757 70%,#626262 80%,#6e6e6e 90%,#787878)"></i><i style="height:15.38px;background:linear-gradient(90deg,#848484,#7b7b7b 12%,#6e6e6e 25%,#636363 34%,#5a5a5a 41%,#545454 48%,#515151 52%,#505050 57%,#515151 62%,#575757 70%,#636363 80%,#707070 90%,#7a7a7a)"></i><i style="height:15.38px;background:linear-gradient(90deg,#888888,#7f7f7f 12%,#727272 25%,#666666 34%,#5c5c5c 41%,#555555 48%,#515151 52%,#505050 57%,#525252 62%,#595959 70%,#666666 80%,#737373 90%,#7e7e7e)"></i><i style="height:15.38px;background:linear-gradient(90deg,#8c8c8c,#838383 12%,#767676 25%,#696969 34%,#5e5e5e 41%,#555555 48%,#515151 52%,#505050 57%,#525252 62%,#5a5a5a 70%,#696969 80%,#777777 90%,#828282)"></i><i style="height:15.38px;background:linear-gradient(90deg,#909090,#888888 12%,#7a7a7a 25%,#6d6d6d 34%,#606060 41%,#565656 48%,#515151 52%,#505050 57%,#525252 62%,#5c5c5c 70%,#6d6d6d 80%,#7c7c7c 90%,#878787)"></i><i style="height:15.38px;background:linear-gradient(90deg,#959595,#8d8d8d 12%,#7f7f7f 25%,#717171 34%,#626262 41%,#585858 48%,#525252 52%,#505050 57%,#535353 62%,#5e5e5e 70%,#717171 80%,#808080 90%,#8c8c8c)"></i><i style="height:15.38px;background:linear-gradient(90deg,#999999,#919191 12%,#838383 25%,#747474 34%,#656565 41%,#595959 48%,#525252 52%,#505050 57%,#545454 62%,#606060 70%,#747474 80%,#858585 90%,#909090)"></i><i style="height:15.38px;background:linear-gradient(90deg,#9c9c9c,#959595 12%,#888888 25%,#787878 34%,#686868 41%,#5b5b5b 48%,#535353 52%,#515151 57%,#555555 62%,#626262 70%,#787878 80%,#898989 90%,#949494)"></i><i style="height:15.38px;background:linear-gradient(90deg,#a0a0a0,#9a9a9a 12%,#8c8c8c 25%,#7d7d7d 34%,#6b6b6b 41%,#5c5c5c 48%,#545454 52%,#515151 57%,#555555 62%,#656565 70%,#7d7d7d 80%,#8e8e8e 90%,#999999)"></i><i style="height:15.38px;background:linear-gradient(90deg,#a4a4a4,#9e9e9e 12%,#919191 25%,#828282 34%,#6f6f6f 41%,#5e5e5e 48%,#555555 52%,#525252 57%,#575757 62%,#686868 70%,#828282 80%,#939393 90%,#9d9d9d)"></i><i style="height:15.38px;background:linear-gradient(90deg,#a8a8a8,#a2a2a2 12%,#969696 25%,#878787 34%,#737373 41%,#616161 48%,#565656 52%,#525252 57%,#585858 62%,#6c6c6c 70%,#878787 80%,#989898 90%,#a1a1a1)"></i><i style="height:15.38px;background:linear-gradient(90deg,#aeaeae,#a9a9a9 12%,#9e9e9e 25%,#8e8e8e 34%,#7a7a7a 41%,#666666 48%,#595959 52%,#555555 57%,#5c5c5c 62%,#727272 70%,#8e8e8e 80%,#9f9f9f 90%,#a8a8a8)"></i><i style="height:15.38px;background:linear-gradient(90deg,#b4b4b4,#b0b0b0 12%,#a5a5a5 25%,#969696 34%,#818181 41%,#6c6c6c 48%,#5d5d5d 52%,#585858 57%,#606060 62%,#797979 70%,#969696 80%,#a7a7a7 90%,#afafaf)"></i><i style="height:15.38px;background:linear-gradient(90deg,#bababa,#b6b6b6 12%,#adadad 25%,#9f9f9f 34%,#8a8a8a 41%,#727272 48%,#616161 52%,#5c5c5c 57%,#656565 62%,#808080 70%,#9f9f9f 80%,#afafaf 90%,#b6b6b6)"></i><i style="height:15.38px;background:linear-gradient(90deg,#bfbfbf,#bdbdbd 12%,#b5b5b5 25%,#a8a8a8 34%,#929292 41%,#797979 48%,#666666 52%,#5f5f5f 57%,#6a6a6a 62%,#898989 70%,#a8a8a8 80%,#b6b6b6 90%,#bcbcbc)"></i><i style="height:15.38px;background:linear-gradient(90deg,#c5c5c5,#c3c3c3 12%,#bcbcbc 25%,#b0b0b0 34%,#9b9b9b 41%,#828282 48%,#6e6e6e 52%,#676767 57%,#727272 62%,#929292 70%,#b0b0b0 80%,#bdbdbd 90%,#c2c2c2)"></i><i style="height:15.38px;background:linear-gradient(90deg,#cacaca,#c9c9c9 12%,#c3c3c3 25%,#b8b8b8 34%,#a5a5a5 41%,#8b8b8b 48%,#777777 52%,#6f6f6f 57%,#7b7b7b 62%,#9b9b9b 70%,#b8b8b8 80%,#c4c4c4 90%,#c8c8c8)"></i><i style="height:12px;background:linear-gradient(90deg,#cdcdcd,#cbcbcb 12%,#c6c6c6 25%,#bcbcbc 34%,#a9a9a9 41%,#909090 48%,#7b7b7b 52%,#737373 57%,#808080 62%,#a0a0a0 70%,#bcbcbc 80%,#c7c7c7 90%,#cbcbcb)"></i></div></div>
<div class="hm" style="left:1623.1px;top:2173.6px;width:85.0px;height:246.1px;"><div class="hi" style="top:-12px;filter:url(#vb2);"><i style="height:12px;background:linear-gradient(90deg,#828282,#797979 12%,#6d6d6d 25%,#626262 34%,#595959 41%,#545454 48%,#515151 52%,#505050 57%,#515151 62%,#575757 70%,#626262 80%,#6e6e6e 90%,#787878)"></i><i style="height:15.38px;background:linear-gradient(90deg,#848484,#7b7b7b 12%,#6e6e6e 25%,#636363 34%,#5a5a5a 41%,#545454 48%,#515151 52%,#505050 57%,#515151 62%,#575757 70%,#636363 80%,#707070 90%,#7a7a7a)"></i><i style="height:15.38px;background:linear-gradient(90deg,#888888,#7f7f7f 12%,#727272 25%,#666666 34%,#5c5c5c 41%,#555555 48%,#515151 52%,#505050 57%,#525252 62%,#595959 70%,#666666 80%,#737373 90%,#7e7e7e)"></i><i style="height:15.38px;background:linear-gradient(90deg,#8c8c8c,#838383 12%,#767676 25%,#696969 34%,#5e5e5e 41%,#555555 48%,#515151 52%,#505050 57%,#525252 62%,#5a5a5a 70%,#696969 80%,#777777 90%,#828282)"></i><i style="height:15.38px;background:linear-gradient(90deg,#909090,#888888 12%,#7a7a7a 25%,#6d6d6d 34%,#606060 41%,#565656 48%,#515151 52%,#505050 57%,#525252 62%,#5c5c5c 70%,#6d6d6d 80%,#7c7c7c 90%,#878787)"></i><i style="height:15.38px;background:linear-gradient(90deg,#959595,#8d8d8d 12%,#7f7f7f 25%,#717171 34%,#626262 41%,#585858 48%,#525252 52%,#505050 57%,#535353 62%,#5e5e5e 70%,#717171 80%,#808080 90%,#8c8c8c)"></i><i style="height:15.38px;background:linear-gradient(90deg,#999999,#919191 12%,#838383 25%,#747474 34%,#656565 41%,#595959 48%,#525252 52%,#505050 57%,#545454 62%,#606060 70%,#747474 80%,#858585 90%,#909090)"></i><i style="height:15.38px;background:linear-gradient(90deg,#9c9c9c,#959595 12%,#888888 25%,#787878 34%,#686868 41%,#5b5b5b 48%,#535353 52%,#515151 57%,#555555 62%,#626262 70%,#787878 80%,#898989 90%,#949494)"></i><i style="height:15.38px;background:linear-gradient(90deg,#a0a0a0,#9a9a9a 12%,#8c8c8c 25%,#7d7d7d 34%,#6b6b6b 41%,#5c5c5c 48%,#545454 52%,#515151 57%,#555555 62%,#656565 70%,#7d7d7d 80%,#8e8e8e 90%,#999999)"></i><i style="height:15.38px;background:linear-gradient(90deg,#a4a4a4,#9e9e9e 12%,#919191 25%,#828282 34%,#6f6f6f 41%,#5e5e5e 48%,#555555 52%,#525252 57%,#575757 62%,#686868 70%,#828282 80%,#939393 90%,#9d9d9d)"></i><i style="height:15.38px;background:linear-gradient(90deg,#a8a8a8,#a2a2a2 12%,#969696 25%,#878787 34%,#737373 41%,#616161 48%,#565656 52%,#525252 57%,#585858 62%,#6c6c6c 70%,#878787 80%,#989898 90%,#a1a1a1)"></i><i style="height:15.38px;background:linear-gradient(90deg,#aeaeae,#a9a9a9 12%,#9e9e9e 25%,#8e8e8e 34%,#7a7a7a 41%,#666666 48%,#595959 52%,#555555 57%,#5c5c5c 62%,#727272 70%,#8e8e8e 80%,#9f9f9f 90%,#a8a8a8)"></i><i style="height:15.38px;background:linear-gradient(90deg,#b4b4b4,#b0b0b0 12%,#a5a5a5 25%,#969696 34%,#818181 41%,#6c6c6c 48%,#5d5d5d 52%,#585858 57%,#606060 62%,#797979 70%,#969696 80%,#a7a7a7 90%,#afafaf)"></i><i style="height:15.38px;background:linear-gradient(90deg,#bababa,#b6b6b6 12%,#adadad 25%,#9f9f9f 34%,#8a8a8a 41%,#727272 48%,#616161 52%,#5c5c5c 57%,#656565 62%,#808080 70%,#9f9f9f 80%,#afafaf 90%,#b6b6b6)"></i><i style="height:15.38px;background:linear-gradient(90deg,#bfbfbf,#bdbdbd 12%,#b5b5b5 25%,#a8a8a8 34%,#929292 41%,#797979 48%,#666666 52%,#5f5f5f 57%,#6a6a6a 62%,#898989 70%,#a8a8a8 80%,#b6b6b6 90%,#bcbcbc)"></i><i style="height:15.38px;background:linear-gradient(90deg,#c5c5c5,#c3c3c3 12%,#bcbcbc 25%,#b0b0b0 34%,#9b9b9b 41%,#828282 48%,#6e6e6e 52%,#676767 57%,#727272 62%,#929292 70%,#b0b0b0 80%,#bdbdbd 90%,#c2c2c2)"></i><i style="height:15.38px;background:linear-gradient(90deg,#cacaca,#c9c9c9 12%,#c3c3c3 25%,#b8b8b8 34%,#a5a5a5 41%,#8b8b8b 48%,#777777 52%,#6f6f6f 57%,#7b7b7b 62%,#9b9b9b 70%,#b8b8b8 80%,#c4c4c4 90%,#c8c8c8)"></i><i style="height:12px;background:linear-gradient(90deg,#cdcdcd,#cbcbcb 12%,#c6c6c6 25%,#bcbcbc 34%,#a9a9a9 41%,#909090 48%,#7b7b7b 52%,#737373 57%,#808080 62%,#a0a0a0 70%,#bcbcbc 80%,#c7c7c7 90%,#cbcbcb)"></i></div></div>
<div class="hm" style="left:1717.1px;top:2173.6px;width:85.0px;height:246.1px;"><div class="hi" style="top:-12px;filter:url(#vb2);"><i style="height:12px;background:linear-gradient(90deg,#6e6e6e,#646464 12%,#565656 25%,#4b4b4b 34%,#414141 41%,#3b3b3b 48%,#383838 52%,#373737 57%,#393939 62%,#3f3f3f 70%,#4b4b4b 80%,#585858 90%,#636363)"></i><i style="height:15.38px;background:linear-gradient(90deg,#707070,#676767 12%,#585858 25%,#4c4c4c 34%,#424242 41%,#3b3b3b 48%,#383838 52%,#373737 57%,#393939 62%,#3f3f3f 70%,#4c4c4c 80%,#5a5a5a 90%,#656565)"></i><i style="height:15.38px;background:linear-gradient(90deg,#757575,#6c6c6c 12%,#5d5d5d 25%,#505050 34%,#444444 41%,#3c3c3c 48%,#383838 52%,#373737 57%,#393939 62%,#414141 70%,#505050 80%,#5e5e5e 90%,#6a6a6a)"></i><i style="height:15.38px;background:linear-gradient(90deg,#7b7b7b,#717171 12%,#626262 25%,#535353 34%,#474747 41%,#3e3e3e 48%,#393939 52%,#383838 57%,#3a3a3a 62%,#434343 70%,#535353 80%,#636363 90%,#707070)"></i><i style="height:15.38px;background:linear-gradient(90deg,#808080,#767676 12%,#676767 25%,#585858 34%,#494949 41%,#3f3f3f 48%,#393939 52%,#383838 57%,#3a3a3a 62%,#454545 70%,#585858 80%,#696969 90%,#757575)"></i><i style="height:15.38px;background:linear-gradient(90deg,#858585,#7c7c7c 12%,#6d6d6d 25%,#5d5d5d 34%,#4d4d4d 41%,#404040 48%,#3a3a3a 52%,#383838 57%,#3b3b3b 62%,#474747 70%,#5d5d5d 80%,#6f6f6f 90%,#7b7b7b)"></i><i style="height:15.38px;background:linear-gradient(90deg,#8a8a8a,#828282 12%,#727272 25%,#616161 34%,#505050 41%,#424242 48%,#3b3b3b 52%,#393939 57%,#3c3c3c 62%,#4a4a4a 70%,#616161 80%,#747474 90%,#818181)"></i><i style="height:15.38px;background:linear-gradient(90deg,#8f8f8f,#878787 12%,#787878 25%,#666666 34%,#545454 41%,#454545 48%,#3c3c3c 52%,#393939 57%,#3e3e3e 62%,#4d4d4d 70%,#666666 80%,#7a7a7a 90%,#868686)"></i><i style="height:15.38px;background:linear-gradient(90deg,#949494,#8d8d8d 12%,#7d7d7d 25%,#6c6c6c 34%,#585858 41%,#474747 48%,#3d3d3d 52%,#3a3a3a 57%,#3f3f3f 62%,#515151 70%,#6c6c6c 80%,#7f7f7f 90%,#8b8b8b)"></i><i style="height:15.38px;background:linear-gradient(90deg,#999999,#929292 12%,#848484 25%,#727272 34%,#5d5d5d 41%,#4a4a4a 48%,#3f3f3f 52%,#3b3b3b 57%,#414141 62%,#555555 70%,#727272 80%,#858585 90%,#919191)"></i><i style="height:15.38px;background:linear-gradient(90deg,#9e9e9e,#979797 12%,#8a8a8a 25%,#787878 34%,#626262 41%,#4d4d4d 48%,#404040 52%,#3c3c3c 57%,#434343 62%,#595959 70%,#787878 80%,#8c8c8c 90%,#979797)"></i><i style="height:15.38px;background:linear-gradient(90deg,#a5a5a5,#a0a0a0 12%,#939393 25%,#818181 34%,#6a6a6a 41%,#535353 48%,#444444 52%,#3f3f3f 57%,#474747 62%,#616161 70%,#818181 80%,#959595 90%,#9f9f9f)"></i><i style="height:15.38px;background:linear-gradient(90deg,#acacac,#a8a8a8 12%,#9c9c9c 25%,#8b8b8b 34%,#737373 41%,#5a5a5a 48%,#494949 52%,#434343 57%,#4c4c4c 62%,#696969 70%,#8b8b8b 80%,#9e9e9e 90%,#a7a7a7)"></i><i style="height:15.38px;background:linear-gradient(90deg,#b4b4b4,#b0b0b0 12%,#a6a6a6 25%,#959595 34%,#7c7c7c 41%,#616161 48%,#4e4e4e 52%,#474747 57%,#525252 62%,#727272 70%,#959595 80%,#a7a7a7 90%,#afafaf)"></i><i style="height:15.38px;background:linear-gradient(90deg,#bbbbbb,#b8b8b8 12%,#afafaf 25%,#a0a0a0 34%,#878787 41%,#696969 48%,#535353 52%,#4b4b4b 57%,#575757 62%,#7b7b7b 70%,#a0a0a0 80%,#b1b1b1 90%,#b8b8b8)"></i><i style="height:15.38px;background:linear-gradient(90deg,#c1c1c1,#bfbfbf 12%,#b7b7b7 25%,#a9a9a9 34%,#919191 41%,#737373 48%,#5b5b5b 52%,#535353 57%,#606060 62%,#868686 70%,#a9a9a9 80%,#b8b8b8 90%,#bebebe)"></i><i style="height:15.38px;background:linear-gradient(90deg,#c7c7c7,#c5c5c5 12%,#bebebe 25%,#b1b1b1 34%,#9b9b9b 41%,#7d7d7d 48%,#646464 52%,#5b5b5b 57%,#696969 62%,#909090 70%,#b1b1b1 80%,#bfbfbf 90%,#c5c5c5)"></i><i style="height:12px;background:linear-gradient(90deg,#cacaca,#c8c8c8 12%,#c2c2c2 25%,#b6b6b6 34%,#9f9f9f 41%,#828282 48%,#696969 52%,#5f5f5f 57%,#6e6e6e 62%,#959595 70%,#b6b6b6 80%,#c3c3c3 90%,#c8c8c8)"></i></div></div>
<div class="hm" style="left:1811.2px;top:2173.6px;width:85.0px;height:246.1px;"><div class="hi" style="top:-12px;filter:url(#vb2);"><i style="height:12px;background:linear-gradient(90deg,#878787,#7e7e7e 12%,#727272 25%,#676767 34%,#5e5e5e 41%,#595959 48%,#565656 52%,#555555 57%,#565656 62%,#5c5c5c 70%,#676767 80%,#737373 90%,#7d7d7d)"></i><i style="height:15.38px;background:linear-gradient(90deg,#8a8a8a,#818181 12%,#747474 25%,#696969 34%,#606060 41%,#595959 48%,#565656 52%,#555555 57%,#575757 62%,#5d5d5d 70%,#696969 80%,#757575 90%,#808080)"></i><i style="height:15.38px;background:linear-gradient(90deg,#909090,#878787 12%,#797979 25%,#6d6d6d 34%,#626262 41%,#5b5b5b 48%,#575757 52%,#565656 57%,#585858 62%,#5f5f5f 70%,#6d6d6d 80%,#7a7a7a 90%,#858585)"></i><i style="height:15.38px;background:linear-gradient(90deg,#969696,#8d8d8d 12%,#7e7e7e 25%,#717171 34%,#656565 41%,#5c5c5c 48%,#585858 52%,#575757 57%,#595959 62%,#616161 70%,#717171 80%,#808080 90%,#8c8c8c)"></i><i style="height:15.38px;background:linear-gradient(90deg,#9c9c9c,#939393 12%,#848484 25%,#767676 34%,#686868 41%,#5e5e5e 48%,#595959 52%,#575757 57%,#5a5a5a 62%,#646464 70%,#767676 80%,#868686 90%,#929292)"></i><i style="height:15.38px;background:linear-gradient(90deg,#a3a3a3,#9a9a9a 12%,#8b8b8b 25%,#7b7b7b 34%,#6c6c6c 41%,#606060 48%,#5a5a5a 52%,#585858 57%,#5b5b5b 62%,#676767 70%,#7b7b7b 80%,#8d8d8d 90%,#999999)"></i><i style="height:15.38px;background:linear-gradient(90deg,#a8a8a8,#a0a0a0 12%,#909090 25%,#808080 34%,#6f6f6f 41%,#626262 48%,#5b5b5b 52%,#585858 57%,#5c5c5c 62%,#6a6a6a 70%,#808080 80%,#929292 90%,#9e9e9e)"></i><i style="height:15.38px;background:linear-gradient(90deg,#acacac,#a4a4a4 12%,#959595 25%,#858585 34%,#727272 41%,#646464 48%,#5b5b5b 52%,#595959 57%,#5d5d5d 62%,#6c6c6c 70%,#858585 80%,#979797 90%,#a3a3a3)"></i><i style="height:15.38px;background:linear-gradient(90deg,#b0b0b0,#a9a9a9 12%,#9a9a9a 25%,#898989 34%,#767676 41%,#666666 48%,#5c5c5c 52%,#595959 57%,#5e5e5e 62%,#6f6f6f 70%,#898989 80%,#9c9c9c 90%,#a8a8a8)"></i><i style="height:15.38px;background:linear-gradient(90deg,#b4b4b4,#aeaeae 12%,#a0a0a0 25%,#8f8f8f 34%,#7a7a7a 41%,#686868 48%,#5d5d5d 52%,#5a5a5a 57%,#5f5f5f 62%,#737373 70%,#8f8f8f 80%,#a2a2a2 90%,#adadad)"></i><i style="height:15.38px;background:linear-gradient(90deg,#b9b9b9,#b3b3b3 12%,#a5a5a5 25%,#949494 34%,#7f7f7f 41%,#6a6a6a 48%,#5e5e5e 52%,#5a5a5a 57%,#606060 62%,#767676 70%,#949494 80%,#a7a7a7 90%,#b2b2b2)"></i><i style="height:15.38px;background:linear-gradient(90deg,#bebebe,#b9b9b9 12%,#acacac 25%,#9c9c9c 34%,#868686 41%,#707070 48%,#626262 52%,#5d5d5d 57%,#656565 62%,#7d7d7d 70%,#9c9c9c 80%,#aeaeae 90%,#b8b8b8)"></i><i style="height:15.38px;background:linear-gradient(90deg,#c3c3c3,#bebebe 12%,#b4b4b4 25%,#a4a4a4 34%,#8d8d8d 41%,#767676 48%,#666666 52%,#616161 57%,#6a6a6a 62%,#848484 70%,#a4a4a4 80%,#b5b5b5 90%,#bebebe)"></i><i style="height:15.38px;background:linear-gradient(90deg,#c8c8c8,#c4c4c4 12%,#bbbbbb 25%,#acacac 34%,#959595 41%,#7c7c7c 48%,#6b6b6b 52%,#656565 57%,#6f6f6f 62%,#8c8c8c 70%,#acacac 80%,#bcbcbc 90%,#c4c4c4)"></i><i style="height:15.38px;background:linear-gradient(90deg,#cdcdcd,#cacaca 12%,#c2c2c2 25%,#b4b4b4 34%,#9e9e9e 41%,#848484 48%,#707070 52%,#696969 57%,#747474 62%,#949494 70%,#b4b4b4 80%,#c3c3c3 90%,#c9c9c9)"></i><i style="height:15.38px;background:linear-gradient(90deg,#d1d1d1,#cfcfcf 12%,#c8c8c8 25%,#bbbbbb 34%,#a6a6a6 41%,#8c8c8c 48%,#787878 52%,#717171 57%,#7c7c7c 62%,#9d9d9d 70%,#bbbbbb 80%,#c9c9c9 90%,#cecece)"></i><i style="height:15.38px;background:linear-gradient(90deg,#d5d5d5,#d3d3d3 12%,#cdcdcd 25%,#c2c2c2 34%,#afafaf 41%,#969696 48%,#818181 52%,#797979 57%,#858585 62%,#a6a6a6 70%,#c2c2c2 80%,#cecece 90%,#d3d3d3)"></i><i style="height:12px;background:linear-gradient(90deg,#d7d7d7,#d5d5d5 12%,#d0d0d0 25%,#c6c6c6 34%,#b3b3b3 41%,#9a9a9a 48%,#858585 52%,#7d7d7d 57%,#8a8a8a 62%,#aaaaaa 70%,#c6c6c6 80%,#d1d1d1 90%,#d5d5d5)"></i></div></div>
<svg width="1976" height="2550" style="mix-blend-mode:overlay">
<defs>
<filter id="nzA" x="0" y="0" width="1" height="1" color-interpolation-filters="sRGB"><feTurbulence type="fractalNoise" baseFrequency="0.03 0.37" numOctaves="3" seed="3"/><feColorMatrix type="matrix" values="0.6 0 0 0 0.2 0.6 0 0 0 0.2 0.6 0 0 0 0.2 0 0 0 0 1"/></filter>
<filter id="nzD" x="0" y="0" width="1" height="1" color-interpolation-filters="sRGB"><feTurbulence type="fractalNoise" baseFrequency="0.015 0.55" numOctaves="3" seed="5"/><feColorMatrix type="matrix" values="0.35 0 0 0 0.325 0.35 0 0 0 0.325 0.35 0 0 0 0.325 0 0 0 0 1"/></filter>
<filter id="nzE" x="0" y="0" width="1" height="1" color-interpolation-filters="sRGB"><feTurbulence type="fractalNoise" baseFrequency="0.37 0.53" numOctaves="2" seed="9"/><feColorMatrix type="matrix" values="1.1 0 0 0 -0.05 1.1 0 0 0 -0.05 1.1 0 0 0 -0.05 0 0 0 0 1"/></filter>
<filter id="nzF" x="0" y="0" width="1" height="1" color-interpolation-filters="sRGB"><feTurbulence type="fractalNoise" baseFrequency="0.03 0.55" numOctaves="3" seed="11"/><feColorMatrix type="matrix" values="0.55 0 0 0 0.225 0.55 0 0 0 0.225 0.55 0 0 0 0.225 0 0 0 0 1"/></filter>
</defs>
<rect x="114.0" y="384.7" width="281.6" height="610.4" filter="url(#nzA)"/>
<rect x="114.0" y="997.5" width="281.6" height="73.5" filter="url(#nzA)"/>
<rect x="114.0" y="1073.4" width="281.6" height="66.2" filter="url(#nzA)"/>
<rect x="408.6" y="384.7" width="281.6" height="610.4" filter="url(#nzA)"/>
<rect x="408.6" y="997.5" width="281.6" height="73.5" filter="url(#nzA)"/>
<rect x="408.6" y="1073.4" width="281.6" height="66.2" filter="url(#nzA)"/>
<rect x="701.0" y="384.7" width="281.6" height="610.4" filter="url(#nzA)"/>
<rect x="701.0" y="997.5" width="281.6" height="73.5" filter="url(#nzA)"/>
<rect x="701.0" y="1073.4" width="281.6" height="66.2" filter="url(#nzA)"/>
<rect x="118.1" y="1464.9" width="85.0" height="245.5" filter="url(#nzD)"/>
<rect x="212.2" y="1464.9" width="85.0" height="245.5" filter="url(#nzD)"/>
<rect x="306.2" y="1464.9" width="85.0" height="245.5" filter="url(#nzD)"/>
<rect x="400.3" y="1464.9" width="85.0" height="245.5" filter="url(#nzD)"/>
<rect x="494.3" y="1464.9" width="85.0" height="245.5" filter="url(#nzD)"/>
<rect x="588.4" y="1464.9" width="85.0" height="245.5" filter="url(#nzD)"/>
<rect x="682.5" y="1464.9" width="85.0" height="245.5" filter="url(#nzD)"/>
<rect x="776.5" y="1464.9" width="85.0" height="245.5" filter="url(#nzD)"/>
<rect x="870.6" y="1464.9" width="85.0" height="245.5" filter="url(#nzD)"/>
<rect x="964.6" y="1464.9" width="85.0" height="245.5" filter="url(#nzD)"/>
<rect x="1058.7" y="1464.9" width="85.0" height="245.5" filter="url(#nzD)"/>
<rect x="1152.8" y="1464.9" width="85.0" height="245.5" filter="url(#nzD)"/>
<rect x="1246.8" y="1464.9" width="85.0" height="245.5" filter="url(#nzD)"/>
<rect x="1340.9" y="1464.9" width="85.0" height="245.5" filter="url(#nzD)"/>
<rect x="1434.9" y="1464.9" width="85.0" height="245.5" filter="url(#nzD)"/>
<rect x="1529.0" y="1464.9" width="85.0" height="245.5" filter="url(#nzD)"/>
<rect x="1623.1" y="1464.9" width="85.0" height="245.5" filter="url(#nzD)"/>
<rect x="1717.1" y="1464.9" width="85.0" height="245.5" filter="url(#nzD)"/>
<rect x="1811.2" y="1464.9" width="85.0" height="245.5" filter="url(#nzD)"/>
<rect x="118.1" y="1819.8" width="85.0" height="245.4" filter="url(#nzE)"/>
<rect x="212.2" y="1819.8" width="85.0" height="245.4" filter="url(#nzE)"/>
<rect x="306.2" y="1819.8" width="85.0" height="245.4" filter="url(#nzE)"/>
<rect x="400.3" y="1819.8" width="85.0" height="245.4" filter="url(#nzE)"/>
<rect x="494.3" y="1819.8" width="85.0" height="245.4" filter="url(#nzE)"/>
<rect x="588.4" y="1819.8" width="85.0" height="245.4" filter="url(#nzE)"/>
<rect x="682.5" y="1819.8" width="85.0" height="245.4" filter="url(#nzE)"/>
<rect x="776.5" y="1819.8" width="85.0" height="245.4" filter="url(#nzE)"/>
<rect x="870.6" y="1819.8" width="85.0" height="245.4" filter="url(#nzE)"/>
<rect x="964.6" y="1819.8" width="85.0" height="245.4" filter="url(#nzE)"/>
<rect x="1058.7" y="1819.8" width="85.0" height="245.4" filter="url(#nzE)"/>
<rect x="1152.8" y="1819.8" width="85.0" height="245.4" filter="url(#nzE)"/>
<rect x="1246.8" y="1819.8" width="85.0" height="245.4" filter="url(#nzE)"/>
<rect x="1340.9" y="1819.8" width="85.0" height="245.4" filter="url(#nzE)"/>
<rect x="1434.9" y="1819.8" width="85.0" height="245.4" filter="url(#nzE)"/>
<rect x="1529.0" y="1819.8" width="85.0" height="245.4" filter="url(#nzE)"/>
<rect x="1623.1" y="1819.8" width="85.0" height="245.4" filter="url(#nzE)"/>
<rect x="1717.1" y="1819.8" width="85.0" height="245.4" filter="url(#nzE)"/>
<rect x="1811.2" y="1819.8" width="85.0" height="245.4" filter="url(#nzE)"/>
<rect x="118.1" y="2173.6" width="85.0" height="246.1" filter="url(#nzF)"/>
<rect x="212.2" y="2173.6" width="85.0" height="246.1" filter="url(#nzF)"/>
<rect x="306.2" y="2173.6" width="85.0" height="246.1" filter="url(#nzF)"/>
<rect x="400.3" y="2173.6" width="85.0" height="246.1" filter="url(#nzF)"/>
<rect x="494.3" y="2173.6" width="85.0" height="246.1" filter="url(#nzF)"/>
<rect x="588.4" y="2173.6" width="85.0" height="246.1" filter="url(#nzF)"/>
<rect x="682.5" y="2173.6" width="85.0" height="246.1" filter="url(#nzF)"/>
<rect x="776.5" y="2173.6" width="85.0" height="246.1" filter="url(#nzF)"/>
<rect x="870.6" y="2173.6" width="85.0" height="246.1" filter="url(#nzF)"/>
<rect x="964.6" y="2173.6" width="85.0" height="246.1" filter="url(#nzF)"/>
<rect x="1058.7" y="2173.6" width="85.0" height="246.1" filter="url(#nzF)"/>
<rect x="1152.8" y="2173.6" width="85.0" height="246.1" filter="url(#nzF)"/>
<rect x="1246.8" y="2173.6" width="85.0" height="246.1" filter="url(#nzF)"/>
<rect x="1340.9" y="2173.6" width="85.0" height="246.1" filter="url(#nzF)"/>
<rect x="1434.9" y="2173.6" width="85.0" height="246.1" filter="url(#nzF)"/>
<rect x="1529.0" y="2173.6" width="85.0" height="246.1" filter="url(#nzF)"/>
<rect x="1623.1" y="2173.6" width="85.0" height="246.1" filter="url(#nzF)"/>
<rect x="1717.1" y="2173.6" width="85.0" height="246.1" filter="url(#nzF)"/>
<rect x="1811.2" y="2173.6" width="85.0" height="246.1" filter="url(#nzF)"/>
</svg>
<svg width="1976" height="2550" viewBox="0 0 1976 2550" font-family="Liberation Sans, Arial, sans-serif">
<defs>
<linearGradient id="cbA" x1="0" y1="0" x2="0" y2="1"><stop offset="0" stop-color="#000"/><stop offset="0.03" stop-color="#000"/><stop offset="1" stop-color="#fff"/></linearGradient>
<linearGradient id="cbD" x1="0" y1="0" x2="0" y2="1"><stop offset="0" stop-color="#000"/><stop offset="1" stop-color="#fff"/></linearGradient>
</defs>
<text transform="translate(20.59,64.16) scale(0.928,1)" font-size="54.18" font-weight="bold">a</text>
<text transform="translate(460.25,36.54) scale(1.073,1)" font-size="28.88">786-O sgCtrl</text>
<rect x="112.00" y="57.20" width="869.50" height="3.60" fill="#000"/>
<text transform="translate(194.32,100.09) scale(1.008,1)" font-size="30.70">KDM5C</text>
<text transform="translate(486.94,100.09) scale(0.992,1)" font-size="31.00">KDM5D</text>
<text transform="translate(764.00,100.09) scale(1.016,1)" font-size="30.70">H3K4me1</text>
<rect x="113.00" y="113.90" width="283.60" height="251.80" fill="none" stroke="#000" stroke-width="1.80"/>
<path d="M114 354.9l2 .1 2 .2 2 .9 2-.5 2.1 1 2-.4 2 .5 2 .8 2 .4 2-.2 2-.2 2 .6 2 .2 2.1-.6 2 0 2-.2 2-.6 2 .4 2-.8 2-.6 2-.2 2.1-1.1 2 .4 2-.3 2 .4 2-1.2 2-.8 2 .7 2 .1 2-.4 2.1 .4 2-.4 2-.3 2-.1 2 0 2 0 2-1 2-.5 2-.3 2.1 .5 2-.9 2 .5 2-.4 2-1 2-.2 2 .3 2-.8 2 .8 2.1 .5 2-1.3 2-.1 2-1 2 .1 2 .1 2-1 2-.5 2.1 .3 2-.2 2-.6 2 .1 2 .2 2 2.9 2 2.5 2 .7 2-.6 2.1-2.1 2-.3 2-.8 2-1 2-1.9 2-3.8 2-3.9 2-2.1 2-.4 2.1 .6 2 1.1 2 .9 2 1.5 2 2.3 2 1.7 2 2.2 2 .1 2 .2 2.1 .9 2 0 2 .3 2 0 2 .7 2 .9 2-.6 2 .4 2.1 .3 2 .2 2 .2 2-.2 2 .9 2 .2 2-.8 2 .4 2 .2 2.1-.4 2 .9 2-.5 2 .6 2 0 2 .8 2 .4 2-.6 2-.2 2.1 .1 2 .9 2 .6 2-.4 2-.7 2 .9 2 0 2 .1 2 .3 2.1 .3 2 .6 2 .1 2 .5 2 .6 2-.2 2-.6 2 .6 2.1 .4 2 .1 2 .5 2 .2 2 .3 2-.6 2 .2 2 .5 2 .4 2.1 .5 2-.4 2 .7 2 .2 2 .2" fill="none" stroke="#fb6b4b" stroke-width="2.70" stroke-linejoin="round"/>
<path d="M114 350.5l2-.2 2-.2 2-.1 2-.2 2.1 0 2 0 2-.1 2-.1 2-.1 2-.1 2-.4 2-.2 2-.3 2.1 0 2-.1 2-.1 2-.1 2-.2 2-.2 2-.1 2-.4 2.1-.3 2 .1 2-.1 2-.3 2-.3 2-.3 2-.2 2-.2 2 0 2.1-.2 2-.3 2-.1 2 0 2-.1 2-.3 2-.2 2-.4 2-.2 2.1-.4 2-.3 2-.5 2-.6 2-.4 2-.7 2-.6 2-.5 2-.3 2.1-.4 2-.4 2-.3 2-.2 2 .1 2 .1 2 0 2-.1 2.1-.1 2 .1 2 .1 2-.2 2-.9 2-1.4 2-1.8 2-1.3 2-.7 2.1 2.2 2 4.4 2-5.9 2-25.6 2-28.3 2-23.1 2-4.8 2-2.9 2-4 2.1-5.7 2-4.7 2 .5 2 13.9 2 20.2 2 29.4 2 5.8 2 3.3 2 2.2 2.1 1.9 2 2.2 2 2.3 2 2 2 1.8 2 1.9 2 1.3 2 1.4 2.1 1.2 2 1 2 .9 2 1.1 2 .8 2 .7 2 .9 2 .7 2 .7 2.1 .9 2 .8 2 .7 2 .8 2 .9 2 .7 2 .7 2 .8 2 .7 2.1 .9 2 .6 2 .7 2 .8 2 .5 2 .4 2 .7 2 .4 2 .5 2.1 .1 2 .2 2 .2 2 .1 2 .5 2 .3 2 .1 2 .3 2.1 .1 2 .2 2 .2 2 .2 2-.2 2 .2 2 .1 2 .1 2 .3 2.1-.1 2 .3 2 .2 2 0 2 0" fill="none" stroke="#3d87c3" stroke-width="2.70" stroke-linejoin="round"/>
<path d="M114 342.3l2 0 2-.5 2-.5 2 0 2.1-.1 2-.2 2-.1 2 .1 2 .4 2-.4 2-.8 2 .8 2 .5 2.1-1 2 .2 2-1 2-.5 2 .8 2 .6 2-1 2 .5 2.1 .5 2-.6 2-1 2 0 2 .2 2-.5 2 .2 2-.4 2 .1 2.1 .3 2-.2 2-.4 2-1.2 2 .5 2 .1 2-.8 2-.9 2-.3 2.1-.5 2 .3 2-1.2 2-1.1 2 .1 2-1.2 2 .3 2-.8 2 0 2.1-.1 2-.2 2-.5 2-1.6 2-.6 2 .6 2-.5 2-1 2.1-.5 2 .1 2 0 2 .4 2-.1 2-.4 2 .2 2 .4 2 .8 2.1 3.4 2 7.2 2-4.3 2-14 2-15.8 2-15.2 2-13.3 2-9.3 2-7.9 2.1-8 2-11.3 2-5.2 2 7.5 2 10.5 2 8.4 2 3.2 2 1.4 2 1.7 2.1 .4 2 1 2 2.3 2 2.3 2 1.6 2 2.8 2 2.6 2 .8 2.1 2.6 2 .7 2 1.9 2 .9 2 2.2 2 1.1 2 1.4 2 1.9 2 1.5 2.1 2 2 1.6 2 .5 2 1.9 2 .8 2 .9 2 1.3 2 2.3 2 1.4 2.1 1.2 2 .5 2 .8 2 .9 2 .9 2 2.2 2 .7 2 1.7 2 1.6 2.1 .4 2 1.3 2 1 2 .9 2 .9 2 .1 2 1.1 2 1 2.1 .2 2 0 2 .8 2 .1 2 .8 2 .9 2 .1 2 .3 2 1.3 2.1 1.1 2 .1 2 .9 2 .8 2 .7" fill="none" stroke="#11603a" stroke-width="2.70" stroke-linejoin="round"/>
<rect x="407.60" y="113.90" width="283.60" height="251.80" fill="none" stroke="#000" stroke-width="1.80"/>
<path d="M408.6 339.5l2-.5 2 .3 2 0 2 .8 2.1 .6 2-.5 2-.6 2 .3 2-.5 2-.3 2 1 2 .3 2-.5 2.1 .5 2 .8 2-.1 2 .4 2 .4 2 0 2-1.1 2-.1 2.1 .4 2-.1 2-.7 2 .9 2 .1 2-.2 2 .1 2-.7 2-.1 2.1 .3 2-.5 2 1.1 2 .5 2-.9 2 .1 2-.7 2 0 2 .4 2.1-.9 2 .4 2 .4 2-.4 2 .6 2-.6 2 .3 2-.2 2-.4 2.1-.5 2-.3 2 .3 2 .2 2-1.2 2 0 2-.8 2 .1 2.1 .6 2-.7 2 0 2 .7 2-.7 2 3.9 2 3.5 2 0 2-2 2.1-10.3 2-24.1 2-12.1 2-9.6 2-9.2 2-12.1 2-21.5 2-23.2 2-9.5 2.1 5 2 10.6 2 14.3 2 16.7 2 16 2 19.7 2 19.3 2 15.6 2 6.5 2.1 1.4 2 .8 2 .9 2 1.2 2 .8 2 .7 2-.3 2 .3 2.1 .2 2-1.1 2-.8 2-.1 2 .5 2 .7 2-.5 2 .4 2 .1 2.1 .2 2-.4 2-.3 2-.7 2 .5 2-.7 2 .2 2 .1 2-.3 2.1-.9 2 0 2-.5 2 .4 2-.1 2-.4 2 .3 2-.4 2 .8 2.1-.9 2-.4 2-.6 2 .3 2 .1 2 .2 2-.3 2-.6 2.1-.2 2 .3 2-.1 2 .3 2 .9 2-.9 2 .1 2 .2 2-.4 2.1 .4 2 .9 2 .7 2 1.2 2-.3" fill="none" stroke="#fb6b4b" stroke-width="2.70" stroke-linejoin="round"/>
<path d="M408.6 341.7l2 0 2 0 2 0 2-.1 2.1 .1 2-.1 2 0 2-.1 2-.1 2 0 2 0 2 .1 2-.1 2.1 .1 2 .1 2-.1 2 .1 2 0 2-.1 2-.2 2 0 2.1 0 2-.1 2-.1 2 0 2-.1 2 .1 2 0 2-.1 2 .1 2.1 .1 2-.2 2-.2 2 .1 2 .1 2-.1 2-.1 2-.2 2-.1 2.1-.1 2 0 2-.2 2 .1 2 0 2-.3 2 .1 2-.1 2 0 2.1-.2 2-.1 2-.2 2-.1 2-.2 2-.3 2-.2 2-.2 2.1-.2 2-.1 2-.2 2-.1 2-.3 2-.3 2-.2 2-.1 2-.2 2.1-.4 2-.8 2-1.2 2-1.7 2-3.9 2-5 2-2.8 2-1.8 2-1.5 2.1-1.5 2-.8 2 .1 2 3.7 2 5.4 2 3.3 2 .8 2 .5 2 .4 2.1 .6 2 .8 2 .4 2 .5 2 .6 2 .4 2 .6 2 .5 2.1 .4 2 .3 2 .2 2 .4 2 .4 2 .5 2 .3 2 .2 2 .2 2.1 .3 2 .2 2 .2 2 .3 2 .4 2 .1 2 .4 2 .2 2 .1 2.1 0 2 .1 2 .2 2 .2 2 .2 2-.1 2 .1 2-.1 2 .1 2.1 .1 2 0 2 0 2 .3 2 0 2 .1 2 .1 2 .1 2.1 .1 2 0 2 .1 2-.1 2 .1 2 .2 2 .1 2 0 2 0 2.1 .2 2 .1 2-.2 2 .1 2-.1" fill="none" stroke="#3d87c3" stroke-width="2.70" stroke-linejoin="round"/>
<path d="M408.6 337.2l2-1.1 2-.5 2 .5 2 .4 2.1-.5 2-.2 2 .1 2 .2 2-.1 2-.2 2-.7 2-.7 2 0 2.1 .4 2 .1 2 .1 2 .1 2-.6 2 .1 2-.1 2 .1 2.1-.5 2-.3 2 0 2 .8 2-.3 2-.1 2 1 2-.3 2 .2 2.1 0 2-.7 2 .2 2 .1 2 .1 2-.4 2 .1 2-.8 2 .6 2.1-.9 2 .1 2 .3 2-.2 2 .5 2-1.2 2 .3 2-.3 2-.3 2.1 0 2 .6 2-.9 2 .1 2 .2 2-.2 2 1 2 .4 2.1-.4 2 .3 2 .6 2-.5 2 .1 2 .5 2 .6 2-.7 2-.6 2.1-.4 2-.7 2-1 2-5.1 2-8.5 2-10.6 2-8.7 2-9.5 2-7.3 2.1-3.2 2-2.3 2-1 2 .1 2 .6 2 2.7 2 2.5 2 5.6 2 3.6 2.1 2.8 2 2.9 2 2.8 2 1.1 2 2.3 2 1.7 2 1.6 2 .5 2.1 1.4 2 .3 2 1.7 2 .5 2 .9 2 1.4 2 .7 2 .5 2 .6 2.1 1.2 2 1.6 2 .3 2 1.5 2 1 2 .3 2 .2 2 1.3 2 .6 2.1 1.3 2-.3 2 .6 2 1 2 .7 2 .4 2 .8 2 .8 2 .7 2.1 .4 2-.2 2 .5 2-.1 2 1.2 2 .2 2-.2 2 1.1 2.1 .2 2 .2 2-.4 2 .2 2 .4 2-.6 2-.2 2 .4 2-.5 2.1 .4 2 .9 2 0 2-.1 2-.1" fill="none" stroke="#11603a" stroke-width="2.70" stroke-linejoin="round"/>
<rect x="700.00" y="113.90" width="283.60" height="251.80" fill="none" stroke="#000" stroke-width="1.80"/>
<path d="M701 318.5l2-.3 2-.8 2 .6 2-.1 2.1-.5 2 .6 2 0 2-1.1 2-.8 2-.1 2-.4 2-.3 2 .4 2.1-.5 2 1 2-.3 2-.6 2 .2 2 .2 2-.4 2 .5 2.1-.4 2 .7 2-.8 2-.3 2 .1 2-.4 2-.4 2 .7 2-.8 2.1 .5 2-.7 2-.8 2-.3 2-1.3 2 0 2-1.7 2-.1 2-.4 2.1-1.1 2-1.6 2-1.3 2-.5 2-.6 2-.7 2-.8 2-1.2 2-.2 2.1-1.2 2-1.1 2-1.3 2-1 2-1.3 2-.1 2 .1 2-.7 2.1-.4 2-1.6 2-.3 2-1.4 2-1.8 2-1.8 2-2.2 2-2.2 2-1.1 2.1-1.6 2-1.8 2-.6 2-1.1 2-.9 2-1.7 2-.5 2-1.5 2-.3 2.1-.8 2 .5 2-.6 2 .2 2 1.4 2 1.6 2 .7 2 1.5 2-.1 2.1 1.2 2 1.3 2 1.3 2 1.8 2 3 2 1.9 2 3.4 2 2.3 2.1 1 2 2.2 2 1.5 2 1.1 2 1.1 2 .8 2-.1 2 1.6 2 .3 2.1 .9 2 1 2 .6 2 1.1 2 1.1 2 1 2 .9 2 1 2 .9 2.1 .8 2 .6 2-.2 2 .9 2 1 2 .5 2-.1 2 .2 2 .8 2.1 .9 2 .4 2-.1 2-.6 2 .9 2 .1 2 0 2 .8 2.1-.1 2-.6 2 .5 2 .9 2-.5 2 .5 2 .3 2-.2 2 .7 2.1 .1 2-.6 2 .2 2 .3 2-.2" fill="none" stroke="#fb6b4b" stroke-width="2.70" stroke-linejoin="round"/>
<path d="M701 299.3l2-.3 2-.3 2-.3 2-.6 2.1-.3 2-.4 2-.4 2-.2 2-.4 2-.2 2-.5 2-.3 2-.3 2.1-.3 2-.6 2-.3 2-.5 2-.5 2-.4 2-.4 2-.5 2.1-.4 2-.4 2-.4 2-.4 2-.4 2-.4 2-.4 2-.5 2-.6 2.1-.6 2-.7 2-.8 2-.6 2-1 2-.8 2-1.2 2-1.1 2-1.3 2.1-1.6 2-1.5 2-1.6 2-1.8 2-1.6 2-1.8 2-1.8 2-2 2-1.8 2.1-2.2 2-2.2 2-2.5 2-2.8 2-2.7 2-2.8 2-2.9 2-3 2.1-3.3 2-3.3 2-3.5 2-3.8 2-3.9 2-3.8 2-3.8 2-3.6 2-3.7 2.1-3.7 2-4.2 2-4.6 2-4.4 2-4.3 2-3.5 2-2.8 2-2.1 2-.6 2.1-.3 2-.1 2 .1 2 .2 2 1.2 2 1.6 2 2.2 2 2.5 2 2.4 2.1 2.2 2 2.5 2 2.7 2 2.9 2 3 2 3.1 2 3.2 2 2.8 2.1 3 2 3.2 2 3.1 2 3.5 2 3.3 2 3.5 2 3.2 2 3.2 2 2.9 2.1 2.8 2 2.7 2 2.8 2 2.8 2 2.4 2 2.5 2 2.3 2 1.9 2 1.9 2.1 1.4 2 1.5 2 1.5 2 1.3 2 1.6 2 1.1 2 1.1 2 1.2 2 1.1 2.1 1.1 2 1 2 .9 2 1 2 1 2 .9 2 .7 2 .8 2.1 .8 2 .5 2 .7 2 .7 2 .6 2 .6 2 .7 2 .5 2 .7 2.1 .5 2 .8 2 .6 2 .5 2 .7" fill="none" stroke="#3d87c3" stroke-width="2.70" stroke-linejoin="round"/>
<path d="M701 276.6l2-.3 2-.7 2-.8 2-.2 2.1-1.3 2 .1 2-.9 2-1.5 2-.2 2-1.2 2 .2 2-.6 2-1.5 2.1 0 2-1.3 2-.2 2-1.9 2-1 2-.4 2-1.2 2-.9 2.1-1.2 2-.3 2-.1 2-1.2 2-.4 2-.7 2-.5 2 0 2-.9 2.1-1 2-.6 2-.1 2 .1 2-.1 2-1.4 2-1.4 2 .2 2-1.4 2.1-.4 2-1.6 2-.9 2-.9 2-.9 2-2.3 2-2.1 2-1.6 2-2.3 2.1-3 2-2.4 2-2.5 2-1.7 2-2.3 2-3.5 2-2.8 2-2.6 2.1-2.8 2-3.4 2-3.8 2-3.9 2-3.2 2-4.4 2-4.9 2-4.8 2-4.7 2.1-4.7 2-5.1 2-4.9 2-4.7 2-6.6 2-6.2 2-5.5 2-4.6 2-2.7 2.1-3.3 2-2.8 2-3.2 2-.3 2-.2 2-1 2-.6 2 0 2-.1 2.1 0 2 .9 2 1.7 2 2 2 2.4 2 2.3 2 1.3 2 2.3 2.1 1.5 2 2.3 2 2.1 2 3.1 2 2.2 2 2.3 2 2.2 2 2.7 2 2.8 2.1 2 2 3.7 2 2.6 2 2.4 2 3.5 2 2 2 3.4 2 2.7 2 3.5 2.1 1.9 2 3.6 2 2.9 2 3 2 2.5 2 2.5 2 2.9 2 2.2 2 3.3 2.1 2.2 2 2.4 2 2.2 2 1.1 2 1.8 2 1.1 2 1.3 2 1.4 2.1 2.9 2 1.5 2 1.5 2 1.9 2 1 2 1.1 2 1.1 2 1.4 2 1.6 2.1 1.4 2 1.8 2 1.4 2 2.3 2 1.4" fill="none" stroke="#11603a" stroke-width="2.70" stroke-linejoin="round"/>
<text transform="translate(86.51,174.92) scale(0.977,1)" font-size="27.89">3</text>
<text transform="translate(85.71,243.30) scale(1.057,1)" font-size="28.29">2</text>
<text transform="translate(87.72,310.80)" font-size="30.87">1</text>
<text transform="translate(85.68,373.20) scale(1.027,1)" font-size="29.72">0</text>
<text transform="translate(177.96,139.61) scale(0.974,1)" font-size="28.73">KDM5C</text>
<text transform="translate(177.96,166.42) scale(0.991,1)" font-size="28.29">KDM5D</text>
<text transform="translate(177.98,193.91) scale(0.943,1)" font-size="29.44">KDM5C+KDM5D</text>
<rect x="113.00" y="383.70" width="283.60" height="756.90" fill="none" stroke="#000" stroke-width="1.80"/>
<rect x="407.60" y="383.70" width="283.60" height="756.90" fill="none" stroke="#000" stroke-width="1.80"/>
<rect x="700.00" y="383.70" width="283.60" height="756.90" fill="none" stroke="#000" stroke-width="1.80"/>
<rect x="994.9" y="384" width="22.2" height="757.5" fill="url(#cbA)" stroke="#000" stroke-width="1.8"/>
<text transform="translate(1025.77,1148.40) scale(1.018,1)" font-size="30.14">0.0</text>
<text transform="translate(1025.77,1059.60) scale(1.018,1)" font-size="30.14">0.5</text>
<text transform="translate(1024.64,967.80) scale(1.046,1)" font-size="30.14">1.0</text>
<text transform="translate(1024.64,875.99) scale(1.031,1)" font-size="30.57">1.5</text>
<text transform="translate(1025.45,784.20) scale(1.026,1)" font-size="30.14">2.0</text>
<text transform="translate(1025.45,692.40) scale(1.026,1)" font-size="30.14">2.5</text>
<text transform="translate(1025.77,600.60) scale(1.018,1)" font-size="30.14">3.0</text>
<text transform="translate(1025.77,508.80) scale(1.018,1)" font-size="30.14">3.5</text>
<text transform="translate(1026.24,417.00) scale(1.007,1)" font-size="30.14">4.0</text>
<text transform="translate(-2.58,691.84) scale(0.906,1)" font-size="35.63">KDM5C</text>
<text transform="translate(-1.40,1017.65) scale(0.938,1)" font-size="34.65">KDM5C</text>
<text transform="translate(45.88,1038.58) scale(1.010,1)" font-size="32.04">+</text>
<text transform="translate(-1.39,1061.45) scale(0.920,1)" font-size="35.14">KDM5D</text>
<text transform="translate(-1.39,1120.65) scale(0.935,1)" font-size="34.57">KDM5D</text>
<text transform="translate(99.56,1173.60) scale(1.056,1)" font-size="28.12">-4</text>
<text transform="translate(186.08,1173.59) scale(1.103,1)" font-size="28.13">peak start</text>
<text transform="translate(377.56,1173.60) scale(1.053,1)" font-size="28.12">4</text>
<text transform="translate(399.25,1173.60) scale(1.069,1)" font-size="28.12">-4</text>
<text transform="translate(480.39,1173.59) scale(1.100,1)" font-size="28.13">peak start</text>
<text transform="translate(666.96,1173.60) scale(1.053,1)" font-size="28.12">4</text>
<text transform="translate(691.92,1173.60) scale(1.012,1)" font-size="28.12">-4</text>
<text transform="translate(773.99,1173.59) scale(1.098,1)" font-size="28.13">peak start</text>
<text transform="translate(967.86,1173.60) scale(1.053,1)" font-size="28.12">4</text>
<text transform="translate(465.26,1215.53) scale(1.172,1)" font-size="26.52">distance (kb)</text>
<text transform="translate(1073.07,51.48) scale(1.159,1)" font-size="52.11" font-weight="bold">b</text>
<text transform="translate(1451.07,20.27) scale(1.023,1)" font-size="30.16">all peaks in 786-O sgCtrl</text>
<rect x="1393.20" y="44.80" width="258.05" height="46.70" fill="#2166ac"/>
<rect x="1650.95" y="44.80" width="86.96" height="46.70" fill="#b2182b"/>
<rect x="1737.61" y="44.80" width="144.17" height="46.70" fill="#005a32"/>
<rect x="1881.48" y="44.80" width="67.52" height="46.70" fill="#252525"/>
<rect x="1393.20" y="97.10" width="35.85" height="46.60" fill="#2166ac"/>
<rect x="1428.75" y="97.10" width="25.85" height="46.60" fill="#b2182b"/>
<rect x="1454.31" y="97.10" width="338.04" height="46.60" fill="#005a32"/>
<rect x="1792.05" y="97.10" width="156.95" height="46.60" fill="#252525"/>
<rect x="1393.20" y="149.20" width="20.30" height="46.60" fill="#2166ac"/>
<rect x="1413.20" y="149.20" width="9.19" height="46.60" fill="#b2182b"/>
<rect x="1422.09" y="149.20" width="315.27" height="46.60" fill="#005a32"/>
<rect x="1737.05" y="149.20" width="211.95" height="46.60" fill="#252525"/>
<rect x="1393.20" y="201.30" width="52.52" height="46.30" fill="#2166ac"/>
<rect x="1445.42" y="201.30" width="41.41" height="46.30" fill="#b2182b"/>
<rect x="1486.52" y="201.30" width="343.60" height="46.30" fill="#005a32"/>
<rect x="1829.82" y="201.30" width="119.18" height="46.30" fill="#252525"/>
<text transform="translate(1498.30,73.41) scale(0.947,1)" font-size="29.44" fill="#fff" style="stroke:#fff">46.4</text>
<text transform="translate(1663.59,73.41) scale(0.955,1)" font-size="29.44" fill="#fff" style="stroke:#fff">15.6</text>
<text transform="translate(1780.58,73.41) scale(0.968,1)" font-size="29.44" fill="#fff" style="stroke:#fff">25.9</text>
<text transform="translate(1885.27,73.70) scale(0.905,1)" font-size="29.86" fill="#fff" style="stroke:#fff">12.1</text>
<text transform="translate(1591.57,125.21) scale(0.979,1)" font-size="29.30" fill="#fff" style="stroke:#fff">60.8</text>
<text transform="translate(1843.87,125.21) scale(0.975,1)" font-size="29.30" fill="#fff" style="stroke:#fff">28.2</text>
<text transform="translate(1553.87,178.90) scale(0.938,1)" font-size="30.00" fill="#fff" style="stroke:#fff">56.7</text>
<text transform="translate(1817.63,178.90) scale(0.891,1)" font-size="30.00" fill="#fff" style="stroke:#fff">38.1</text>
<text transform="translate(1396.12,230.30) scale(0.946,1)" font-size="30.00" fill="#fff" style="stroke:#fff">9.4</text>
<text transform="translate(1445.05,230.60) scale(0.875,1)" font-size="30.87" fill="#fff" style="stroke:#fff">7.4</text>
<text transform="translate(1628.27,230.30) scale(0.956,1)" font-size="30.00" fill="#fff" style="stroke:#fff">61.8</text>
<text transform="translate(1859.90,230.60) scale(0.922,1)" font-size="30.43" fill="#fff" style="stroke:#fff">21.4</text>
<clipPath id="cpb"><rect x="1393.2" y="44.8" width="555.5" height="203"/></clipPath>
<g clip-path="url(#cpb)"><text transform="translate(1392.08,116.83) scale(1.037,1)" font-size="27.46" fill="#fff" style="stroke:#fff">6.4</text><text transform="translate(1422.08,136.90) scale(0.978,1)" font-size="29.58" fill="#fff" style="stroke:#fff">4.6</text><text transform="translate(1384.74,166.95) scale(1.246,1)" font-size="25.21" fill="#fff" style="stroke:#fff">3.6</text><text transform="translate(1407.40,189.50) scale(0.932,1)" font-size="30.00" fill="#fff" style="stroke:#fff">1.6</text></g>
<text transform="translate(1289.62,77.81) scale(1.074,1)" font-size="28.84">Neither</text>
<text transform="translate(1280.45,132.69) scale(0.977,1)" font-size="31.41">KDM5C</text>
<text transform="translate(1280.46,184.88) scale(0.958,1)" font-size="31.86">KDM5D</text>
<text transform="translate(1149.05,239.49) scale(0.974,1)" font-size="31.41">KDM5C+KDM5D</text>
<text transform="translate(1386.55,285.92) scale(1.123,1)" font-size="27.75">0</text>
<text transform="translate(1509.06,285.92) scale(1.119,1)" font-size="27.75">0.25</text>
<text transform="translate(1653.52,285.92) scale(1.153,1)" font-size="27.75">0.5</text>
<text transform="translate(1785.34,285.92) scale(1.132,1)" font-size="27.75">0.75</text>
<text transform="translate(1943.78,286.20)" font-size="28.55">1</text>
<rect x="1292.30" y="294.40" width="25.50" height="25.60" fill="#2166ac"/>
<rect x="1484.40" y="294.40" width="25.50" height="25.60" fill="#b2182b"/>
<rect x="1674.00" y="294.40" width="25.50" height="25.60" fill="#005a32"/>
<rect x="1813.90" y="294.40" width="25.50" height="25.60" fill="#252525"/>
<text transform="translate(1319.07,312.42) scale(1.080,1)" font-size="28.95">promoter</text>
<text transform="translate(1512.36,313.53) scale(1.129,1)" font-size="27.48">enhancer</text>
<text transform="translate(1702.35,312.93) scale(1.175,1)" font-size="26.53">gene</text>
<text transform="translate(1841.48,312.91) scale(1.164,1)" font-size="26.63">intergenic</text>
<text transform="translate(1086.24,378.25) scale(1.025,1)" font-size="55.09" font-weight="bold">c</text>
<rect x="1393.20" y="362.30" width="555.50" height="46.00" fill="#bebebe"/>
<rect x="1393.20" y="362.30" width="36.11" height="46.00" fill="#2166ac"/>
<text x="1386.70" y="395.10" font-size="30.4" text-anchor="end">Neither</text>
<rect x="1393.20" y="414.02" width="555.50" height="46.00" fill="#bebebe"/>
<rect x="1393.20" y="414.02" width="527.17" height="46.00" fill="#2166ac"/>
<text x="1386.70" y="450.20" font-size="30.4" text-anchor="end">KDM5C</text>
<rect x="1393.20" y="465.74" width="555.50" height="46.00" fill="#bebebe"/>
<rect x="1393.20" y="465.74" width="335.52" height="46.00" fill="#2166ac"/>
<text x="1386.70" y="498.90" font-size="30.4" text-anchor="end">KDM5D</text>
<rect x="1393.20" y="517.46" width="555.50" height="46.00" fill="#bebebe"/>
<rect x="1393.20" y="517.46" width="555.50" height="46.00" fill="#2166ac"/>
<text x="1386.70" y="550.40" font-size="30.4" text-anchor="end">KDM5C+KDM5D</text>
<rect x="1393.20" y="569.18" width="555.50" height="46.00" fill="#bebebe"/>
<rect x="1393.20" y="569.18" width="40.00" height="46.00" fill="#2166ac"/>
<text x="1389.70" y="604.20" font-size="30.4" text-anchor="end">Neither</text>
<rect x="1393.20" y="620.90" width="555.50" height="46.00" fill="#bebebe"/>
<rect x="1393.20" y="620.90" width="524.95" height="46.00" fill="#2166ac"/>
<text x="1389.70" y="658.30" font-size="30.4" text-anchor="end">KDM5C</text>
<rect x="1393.20" y="672.62" width="555.50" height="46.00" fill="#bebebe"/>
<rect x="1393.20" y="672.62" width="362.74" height="46.00" fill="#2166ac"/>
<text x="1389.70" y="708.30" font-size="30.4" text-anchor="end">KDM5D</text>
<rect x="1393.20" y="724.34" width="555.50" height="46.00" fill="#bebebe"/>
<rect x="1393.20" y="724.34" width="548.83" height="46.00" fill="#2166ac"/>
<text x="1389.70" y="759.70" font-size="30.4" text-anchor="end">KDM5C+KDM5D</text>
<rect x="1393.20" y="776.06" width="555.50" height="46.00" fill="#bebebe"/>
<rect x="1393.20" y="776.06" width="555.50" height="46.00" fill="#2166ac"/>
<text x="1386.70" y="805.60" font-size="30.4" text-anchor="end">Neither</text>
<rect x="1393.20" y="827.78" width="555.50" height="46.00" fill="#bebebe"/>
<rect x="1393.20" y="827.78" width="443.84" height="46.00" fill="#2166ac"/>
<text x="1386.70" y="860.90" font-size="30.4" text-anchor="end">KDM5C</text>
<rect x="1393.20" y="879.50" width="555.50" height="46.00" fill="#bebebe"/>
<rect x="1393.20" y="879.50" width="140.54" height="46.00" fill="#2166ac"/>
<text x="1386.70" y="909.50" font-size="30.4" text-anchor="end">KDM5D</text>
<rect x="1393.20" y="931.22" width="555.50" height="46.00" fill="#bebebe"/>
<rect x="1393.20" y="931.22" width="552.17" height="46.00" fill="#2166ac"/>
<text x="1386.70" y="960.90" font-size="30.4" text-anchor="end">KDM5C+KDM5D</text>
<rect x="1393.20" y="982.94" width="555.50" height="46.00" fill="#bebebe"/>
<rect x="1393.20" y="982.94" width="555.50" height="46.00" fill="#2166ac"/>
<text x="1386.70" y="1014.80" font-size="30.4" text-anchor="end">Neither</text>
<rect x="1393.20" y="1034.66" width="555.50" height="46.00" fill="#bebebe"/>
<rect x="1393.20" y="1034.66" width="406.63" height="46.00" fill="#2166ac"/>
<text x="1386.70" y="1069.80" font-size="30.4" text-anchor="end">KDM5C</text>
<rect x="1393.20" y="1086.38" width="555.50" height="46.00" fill="#bebebe"/>
<rect x="1393.20" y="1086.38" width="135.54" height="46.00" fill="#2166ac"/>
<text x="1386.70" y="1118.90" font-size="30.4" text-anchor="end">KDM5D</text>
<rect x="1393.20" y="1138.10" width="555.50" height="46.00" fill="#bebebe"/>
<rect x="1393.20" y="1138.10" width="541.61" height="46.00" fill="#2166ac"/>
<text x="1386.70" y="1170.80" font-size="30.4" text-anchor="end">KDM5C+KDM5D</text>
<text transform="translate(1128.35,527.33) rotate(-90) scale(1.016,1)" font-size="30.70">promoter</text>
<text transform="translate(1131.11,740.65) rotate(-90) scale(1.070,1)" font-size="29.12">enhancer</text>
<text transform="translate(1127.40,899.83) rotate(-90) scale(1.022,1)" font-size="30.00">gene</text>
<text transform="translate(1127.32,1142.21) rotate(-90) scale(1.049,1)" font-size="29.41">intergenic</text>
<text transform="translate(1386.51,1222.53) scale(1.092,1)" font-size="27.18">0</text>
<text transform="translate(1509.08,1222.53) scale(1.126,1)" font-size="27.18">0.25</text>
<text transform="translate(1653.46,1222.53) scale(1.137,1)" font-size="27.18">0.5</text>
<text transform="translate(1785.55,1222.53) scale(1.146,1)" font-size="27.18">0.75</text>
<text transform="translate(1942.17,1222.80)" font-size="27.97">1</text>
<rect x="1441.60" y="1234.10" width="25.40" height="25.70" fill="#2166ac"/>
<rect x="1671.60" y="1234.10" width="26.10" height="25.70" fill="#bebebe"/>
<text transform="translate(1474.46,1254.21) scale(1.063,1)" font-size="28.73">H3K4me1</text>
<text transform="translate(1703.82,1254.21) scale(1.060,1)" font-size="28.73">no H3K4me1</text>
<text transform="translate(296.44,1323.70) scale(1.017,1)" font-size="30.28">KDM5C</text>
<text transform="translate(771.23,1323.69)" font-size="30.71">KDM5D</text>
<text transform="translate(1420.92,1323.99) scale(0.986,1)" font-size="31.41">H3K4me1</text>
<rect x="118.00" y="1337.30" width="463.50" height="3.10" fill="#000"/>
<rect x="589.10" y="1337.30" width="462.40" height="3.10" fill="#000"/>
<rect x="1059.40" y="1337.30" width="838.10" height="3.10" fill="#000"/>
<rect x="117.50" y="1346.00" width="86.50" height="21.60" fill="#969696"/>
<rect x="211.56" y="1346.00" width="86.50" height="21.60" fill="#3182bd"/>
<rect x="305.62" y="1346.00" width="86.50" height="21.60" fill="#6baed6"/>
<rect x="399.68" y="1346.00" width="86.50" height="21.60" fill="#fb6a4a"/>
<rect x="493.74" y="1346.00" width="86.50" height="21.60" fill="#fcae91"/>
<rect x="587.80" y="1346.00" width="86.50" height="21.60" fill="#969696"/>
<rect x="681.86" y="1346.00" width="86.50" height="21.60" fill="#3182bd"/>
<rect x="775.92" y="1346.00" width="86.50" height="21.60" fill="#6baed6"/>
<rect x="869.98" y="1346.00" width="86.50" height="21.60" fill="#fb6a4a"/>
<rect x="964.04" y="1346.00" width="86.50" height="21.60" fill="#fcae91"/>
<rect x="1058.10" y="1346.00" width="86.50" height="21.60" fill="#969696"/>
<rect x="1152.16" y="1346.00" width="86.50" height="21.60" fill="#3182bd"/>
<rect x="1246.22" y="1346.00" width="86.50" height="21.60" fill="#6baed6"/>
<rect x="1340.28" y="1346.00" width="86.50" height="21.60" fill="#fb6a4a"/>
<rect x="1434.34" y="1346.00" width="86.50" height="21.60" fill="#fcae91"/>
<rect x="1528.40" y="1346.00" width="86.50" height="21.60" fill="#005a32"/>
<rect x="1622.46" y="1346.00" width="86.50" height="21.60" fill="#238b45"/>
<rect x="1716.52" y="1346.00" width="86.50" height="21.60" fill="#74c476"/>
<rect x="1810.58" y="1346.00" width="86.50" height="21.60" fill="#a1d99b"/>
<path d="M118.1 1441.1l.9-.1 1 .1 .9 0 1-.1 .9-.1 1 0 .9-.1 1-.3 .9-.1 .9-.2 1 .2 .9 .1 1-.3 .9-.2 1 .1 .9-.3 1-.2 .9-.1 .9-.1 1 0 .9 .1 1-.3 .9 .1 1-.2 .9 0 1-.1 .9-.4 .9-.1 1-.4 .9-.3 1-.1 .9 0 1-.3 .9-.5 1-.2 .9-.3 .9-.5 1-.4 .9-.2 1 0 .9-.2 1 0 .9 .3 1 1 .9 .3 .9-29.3 1-6.9 .9-3.7 1 3.7 .9 12.3 1 9.8 .9 2 1 .9 .9 .8 .9 1 1 .9 .9 .8 1 .7 .9 .5 1 .7 .9 .7 1 .5 .9 .6 .9 .4 1 .4 .9 .5 1 .3 .9 .6 1 .6 .9 .2 1 .5 .9 .4 .9 .1 1 .1 .9 .4 1 .2 .9 .2 1 .4 .9 .2 1 .3 .9 .2 .9 .1 1 0 .9 .1 1 .2 .9 .3 1 .3 .9 .1 1 .2 .9 .4" fill="none" stroke="#1f1f8a" stroke-width="1.25" stroke-linejoin="round"/>
<rect x="117.50" y="1464.30" width="86.20" height="246.70" fill="none" stroke="#3a3a3a" stroke-width="1.10"/>
<path d="M212.2 1447.8l.9 0 .9 .1 1-.1 .9 .2 1-.1 .9-.1 1 0 .9 0 1-.1 .9 0 .9 .1 1 0 .9 .2 1-.1 .9 .1 1 0 .9-.2 1 .1 .9 .1 .9 0 1 .1 .9-.2 1-.1 .9-.1 1 .1 .9 .2 1 0 .9 .1 .9-.2 1-.1 .9 .2 1 .1 .9 .1 1-.2 .9 0 1-.1 .9 .1 .9 .1 1 0 .9 .1 1 .1 .9-.1 1 .1 .9 .3 1 .4 .9-3.6 .9-3.8 1-2.3 .9 .4 1 2.7 .9 3.1 1 1.9 .9 .6 1 0 .9 0 .9-.2 1 .1 .9 0 1 .1 .9-.2 1 .1 .9-.1 1 0 .9 .3 .9 0 1 0 .9-.1 1-.1 .9-.2 1 .2 .9 .2 1 .1 .9-.2 .9 .2 1-.2 .9-.2 1 .1 .9 0 1-.1 .9 .2 1-.1 .9 0 .9-.1 1-.1 .9 .3 1 .2 .9 0 1-.3 .9-.1 1-.1" fill="none" stroke="#1f1f8a" stroke-width="1.25" stroke-linejoin="round"/>
<rect x="211.56" y="1464.30" width="86.20" height="246.70" fill="none" stroke="#3a3a3a" stroke-width="1.10"/>
<path d="M306.2 1452l1-.1 .9-.2 1 0 .9 .2 .9 0 1 0 .9-.2 1 0 .9 0 1-.1 .9 0 1-.1 .9 .2 .9 0 1 0 .9 .1 1 0 .9-.1 1 .1 .9-.1 1 .1 .9-.2 .9-.1 1-.2 .9 .1 1 .1 .9 0 1-.1 .9 .1 1-.1 .9 0 .9-.3 1 0 .9 .1 1-.1 .9-.2 1-.1 .9-.2 1-.2 .9 .1 .9-.1 1 0 .9-.4 1-.4 .9-.6 1-2 .9-3.5 1-4.1 .9 .6 .9 3 1 2.7 .9 1.6 1 1 .9 .6 1 0 .9 .4 1 0 .9 .1 .9 0 1 0 .9 .3 1 0 .9 .2 1 .3 .9 .2 1-.2 .9 0 .9 .3 1 0 .9 .2 1-.1 .9 .1 1-.1 .9-.1 1 .1 .9 .1 .9 0 1 .2 .9 .1 1-.2 .9-.2 1 0 .9-.1 1 0 .9 0 .9 .3 1 0 .9 0 1 0 .9 0" fill="none" stroke="#1f1f8a" stroke-width="1.25" stroke-linejoin="round"/>
<rect x="305.62" y="1464.30" width="86.20" height="246.70" fill="none" stroke="#3a3a3a" stroke-width="1.10"/>
<path d="M400.3 1454.4l.9-.1 1 .2 .9 0 1 0 .9-.1 .9 .2 1 0 .9-.1 1 .1 .9-.2 1-.2 .9 .1 1 .2 .9-.1 .9 0 1-.3 .9-.1 1 .1 .9-.2 1-.1 .9-.1 1 .3 .9-.2 .9-.2 1 0 .9 .2 1 0 .9 0 1 0 .9 0 1 0 .9-.2 .9-.3 1-.3 .9 .2 1-.1 .9 0 1-.1 .9 0 1-.3 .9-.1 .9-.1 1-.1 .9-.6 1-1 .9-2 1-4.2 .9-5.1 1 .9 .9 3.4 .9 3.2 1 1.7 .9 1 1 .6 .9 .3 1 .2 .9 .1 1 .3 .9 .3 .9 0 1 .3 .9 0 1 .1 .9 .3 1 .2 .9-.2 1 .1 .9 .1 .9 .1 1 .2 .9 .1 1-.1 .9 .1 1 0 .9 0 1 0 .9 .1 .9 .1 1 .2 .9-.2 1 0 .9 .1 1-.1 .9-.2 1 .2 .9-.1 .9 .1 1-.1 .9-.1 1 0" fill="none" stroke="#1f1f8a" stroke-width="1.25" stroke-linejoin="round"/>
<rect x="399.68" y="1464.30" width="86.20" height="246.70" fill="none" stroke="#3a3a3a" stroke-width="1.10"/>
<path d="M494.3 1452.6l1 .1 .9 0 1-.2 .9 .1 1-.1 .9 .1 1-.1 .9 0 .9 .1 1-.2 .9-.1 1 .1 .9-.1 1 .2 .9-.2 1 .1 .9-.1 .9-.1 1 0 .9 .2 1 0 .9 .2 1-.1 .9-.1 1-.1 .9-.1 .9-.1 1 .2 .9 .2 1 .2 .9 0 1 0 .9-.1 1-.1 .9 .2 .9-.1 1-.2 .9 0 1 .2 .9 0 1-.1 .9 .1 1-.2 .9 .8 .9 .9 1-3.4 .9-3 1-1.7 .9 .3 1 1.9 .9 2.3 1 1.3 .9 .3 .9 .3 1 .1 .9-.1 1-.1 .9-.1 1 .2 .9-.1 1 .2 .9-.1 .9 0 1-.1 .9-.2 1-.1 .9 0 1 .1 .9-.1 1 .1 .9 0 .9 0 1 .1 .9-.1 1 .1 .9 .1 1 0 .9-.2 1 0 .9-.1 .9 .1 1 .1 .9 0 1 0 .9-.1 1 0 .9 .1 1 .2 .9-.1 .9 .1" fill="none" stroke="#1f1f8a" stroke-width="1.25" stroke-linejoin="round"/>
<rect x="493.74" y="1464.30" width="86.20" height="246.70" fill="none" stroke="#3a3a3a" stroke-width="1.10"/>
<path d="M588.4 1437.7l.9-.2 1 0 .9 .2 1 0 .9-.1 1-.1 .9 .1 1 0 .9 0 .9-.3 1 .2 .9 0 1-.1 .9-.1 1-.2 .9 0 1-.1 .9 .1 .9 .2 1 .1 .9-.2 1 .2 .9-.1 1 .1 .9-.1 1 .1 .9-.2 .9 0 1-.2 .9 .1 1 0 .9 0 1 0 .9 0 1 .1 .9 0 .9-.3 1-.2 .9 .2 1-.1 .9 0 1-.2 .9-.1 1-.1 .9-.8 .9-1.5 1-2.6 .9-3 1 .5 .9 2.1 1 1.8 .9 1.2 1 .8 .9 .1 .9 .3 1 .1 .9 0 1 .2 .9 0 1 .3 .9 .3 1 0 .9 0 .9-.1 1 .1 .9 0 1 .2 .9-.1 1-.1 .9 .3 1 .1 .9 0 .9 .2 1 .1 .9-.2 1-.1 .9 .2 1 .1 .9 .2 1 0 .9-.2 .9 .2 1-.1 .9-.2 1-.1 .9 .2 1 .1 .9 .1 1 0 .9-.1" fill="none" stroke="#1f1f8a" stroke-width="1.25" stroke-linejoin="round"/>
<rect x="587.80" y="1464.30" width="86.20" height="246.70" fill="none" stroke="#3a3a3a" stroke-width="1.10"/>
<path d="M682.5 1450.7l.9-.1 .9 .1 1 .1 .9 0 1-.1 .9-.3 1 .2 .9-.2 1-.1 .9-.1 .9 0 1 .2 .9-.1 1 0 .9 0 1-.2 .9-.1 1-.1 .9-.2 .9 .1 1-.3 .9 .1 1 .1 .9 0 1-.2 .9-.2 1-.1 .9-.1 .9-.1 1-.3 .9 0 1-.1 .9-.3 1-.2 .9-.3 1-.1 .9-.2 .9-.4 1-.4 .9-.2 1-.3 .9-.3 1-.4 .9-.7 1-.7 .9-1.6 .9-4.9 1-6.9 .9 1.9 1 4.3 .9 3.3 1 2 .9 1.2 1 1.1 .9 .9 .9 .4 1 .5 .9 .4 1 .4 .9 .5 1 .2 .9 .3 1 .2 .9 .3 .9 0 1 .1 .9 0 1 .4 .9 .2 1 .2 .9-.2 1 .3 .9 0 .9 .2 1 .1 .9-.1 1 .3 .9-.1 1 0 .9 0 1 .1 .9-.1 .9 0 1 .1 .9 .2 1 .2 .9-.2 1 .2 .9-.1 1 .1" fill="none" stroke="#1f1f8a" stroke-width="1.25" stroke-linejoin="round"/>
<rect x="681.86" y="1464.30" width="86.20" height="246.70" fill="none" stroke="#3a3a3a" stroke-width="1.10"/>
<path d="M776.5 1439.9l1 .1 .9-.3 1 0 .9 .1 .9-.1 1-.2 .9 0 1 0 .9 .3 1 0 .9 .1 1-.1 .9-.2 .9 0 1 .2 .9-.2 1-.1 .9 .1 1 .1 .9-.2 1-.1 .9 .1 .9 .2 1-.1 .9 0 1-.1 .9 .1 1 0 .9 0 1 0 .9 .1 .9 0 1-.1 .9-.2 1 .1 .9 0 1 .1 .9 .1 1-.1 .9 0 .9-.2 1 .1 .9 .1 1 1.2 .9 4.2 1-2.9 .9-3.7 1-.6 .9 0 .9 1.2 1 2.9 .9 1.4 1-2 .9-1.3 1-.4 .9-.1 1 .2 .9-.3 .9 .2 1-.1 .9 0 1 .2 .9-.2 1 .1 .9-.2 1 0 .9-.1 .9 .1 1-.1 .9-.1 1 .2 .9-.1 1 0 .9-.1 1 0 .9-.1 .9 0 1 .2 .9-.1 1 .1 .9-.1 1 0 .9 0 1 .3 .9-.3 .9-.1 1 .2 .9 .2 1-.1 .9-.1" fill="none" stroke="#1f1f8a" stroke-width="1.25" stroke-linejoin="round"/>
<rect x="775.92" y="1464.30" width="86.20" height="246.70" fill="none" stroke="#3a3a3a" stroke-width="1.10"/>
<path d="M870.6 1445.4l.9-.2 1 .1 .9 0 1 .1 .9 0 .9-.3 1 0 .9 .1 1 0 .9 .2 1 0 .9-.1 1 0 .9-.1 .9-.1 1 .1 .9-.1 1 0 .9 .1 1-.1 .9-.1 1 0 .9 0 .9 .2 1 0 .9-.1 1 .1 .9 .2 1-.3 .9 0 1-.1 .9 0 .9-.1 1 .2 .9-.1 1 .1 .9 .2 1-.1 .9 0 1-.1 .9-.1 .9 .2 1 0 .9 .8 1 2.1 .9-2.4 1-3 .9-1.3 1 .1 .9 1.5 .9 2.3 1 1.4 .9-.6 1-.5 .9-.3 1-.2 .9 0 1 .1 .9-.1 .9 .2 1-.1 .9-.1 1-.1 .9-.1 1 .3 .9-.1 1 0 .9 .2 .9 0 1 0 .9 0 1-.2 .9 .1 1 0 .9-.1 1 0 .9-.1 .9 .2 1 0 .9 .1 1 .1 .9 0 1-.2 .9-.2 1 0 .9 0 .9 .1 1 .3 .9-.1 1 0" fill="none" stroke="#1f1f8a" stroke-width="1.25" stroke-linejoin="round"/>
<rect x="869.98" y="1464.30" width="86.20" height="246.70" fill="none" stroke="#3a3a3a" stroke-width="1.10"/>
<path d="M964.6 1453.2l1 0 .9-.2 1-.1 .9 .1 1 0 .9 .2 1-.2 .9 0 .9 0 1 0 .9-.2 1 .1 .9-.1 1 0 .9-.1 1 .3 .9-.1 .9 0 1 0 .9-.1 1 .2 .9-.3 1 .1 .9 0 1 0 .9 .1 .9 .1 1-.3 .9 0 1-.3 .9-.1 1-.2 .9 0 1-.1 .9 .2 .9-.2 1 .1 .9-.1 1-.2 .9-.2 1-.1 .9 0 1-.3 .9-.2 .9-.7 1-1.9 .9-3.8 1-3.8 .9 .7 1 3 .9 3 1 2.1 .9 .6 .9 .3 1 .4 .9 0 1 .2 .9 .3 1 .3 .9 0 1-.1 .9 .3 .9 .1 1 0 .9 0 1 0 .9 0 1 .2 .9 0 1-.1 .9 .3 .9 .1 1 .1 .9 .1 1-.2 .9 .2 1 0 .9-.1 1-.1 .9 .1 .9 0 1-.1 .9 0 1 .2 .9 0 1-.1 .9 .2 1 .1 .9 .1 .9-.3" fill="none" stroke="#1f1f8a" stroke-width="1.25" stroke-linejoin="round"/>
<rect x="964.04" y="1464.30" width="86.20" height="246.70" fill="none" stroke="#3a3a3a" stroke-width="1.10"/>
<path d="M1058.7 1420.3l.9-.2 1-.3 .9-.1 1-.1 .9-.3 1-.1 .9-.4 1-.3 .9-.1 .9-.3 1-.2 .9-.3 1-.4 .9-.4 1-.5 .9-.5 1-.3 .9-.6 .9-.5 1-.5 .9-.8 1-.8 .9-.8 1-.7 .9-.8 1-1.1 .9-1 .9-1.1 1-1.2 .9-1.5 1-1.6 .9-1.4 1-1.6 .9-1.7 1-1.7 .9-2 .9-1.7 1-2.1 .9-1.9 1-2.1 .9-2 1-1.9 .9-1.5 1-1.5 .9-1.4 .9-.9 1-.8 .9-.6 1 .1 .9 .1 1 .6 .9 1 1 1.1 .9 1.6 .9 1.6 1 1.7 .9 1.9 1 1.8 .9 1.9 1 1.9 .9 2 1 1.7 .9 1.8 .9 1.8 1 1.6 .9 1.4 1 1.5 .9 1.1 1 1.2 .9 1 1 1 .9 .9 .9 1 1 .8 .9 .8 1 .5 .9 .7 1 .6 .9 .4 1 .6 .9 .3 .9 .6 1 .3 .9 .5 1 .2 .9 .3 1 .2 .9 .2 1 .1 .9 .1" fill="none" stroke="#1f1f8a" stroke-width="1.25" stroke-linejoin="round"/>
<rect x="1058.10" y="1464.30" width="86.20" height="246.70" fill="none" stroke="#3a3a3a" stroke-width="1.10"/>
<path d="M1152.8 1441.5l.9-.1 .9-.3 1 0 .9-.1 1-.3 .9-.2 1 0 .9-.1 1-.2 .9-.4 .9-.3 1-.1 .9-.3 1-.3 .9-.3 1-.2 .9-.6 1-.3 .9-.5 .9-.6 1-.3 .9-.7 1-.5 .9-.6 1-.6 .9-.9 1-.9 .9-.9 .9-.8 1-1.2 .9-1 1-1.1 .9-1.3 1-1.1 .9-1.5 1-1.4 .9-1.4 .9-1.7 1-1.4 .9-1.7 1-1.5 .9-1.4 1-1.3 .9-1.1 1-1 .9-1 .9-.7 1-.3 .9 0 1 .2 .9 .5 1 .6 .9 .9 1 1.2 .9 1.1 .9 1.2 1 1.5 .9 1.5 1 1.6 .9 1.4 1 1.4 .9 1.5 1 1.3 .9 1.4 .9 1.3 1 1.2 .9 1.2 1 .8 .9 .8 1 1.1 .9 .8 1 .8 .9 .5 .9 .7 1 .7 .9 .6 1 .5 .9 .2 1 .5 .9 .2 1 .4 .9 .5 .9 .3 1 .2 .9 0 1 .3 .9 0 1 .3 .9 .1 1 .2" fill="none" stroke="#1f1f8a" stroke-width="1.25" stroke-linejoin="round"/>
<rect x="1152.16" y="1464.30" width="86.20" height="246.70" fill="none" stroke="#3a3a3a" stroke-width="1.10"/>
<path d="M1246.8 1417.2l1-.2 .9 0 1-.3 .9-.2 .9-.2 1-.1 .9-.1 1-.2 .9-.3 1-.1 .9-.3 1-.3 .9-.4 .9-.2 1-.5 .9-.2 1-.4 .9-.6 1-.5 .9-.5 1-.6 .9-.6 .9-.5 1-.9 .9-.8 1-.7 .9-1.1 1-.8 .9-1.1 1-1.1 .9-1.2 .9-1.4 1-1.4 .9-1.5 1-1.6 .9-1.8 1-1.8 .9-1.7 1-1.8 .9-1.7 .9-1.7 1-1.6 .9-1.5 1-1.7 .9-1.3 1-1.2 .9-.7 1-.4 .9-.3 .9 .1 1 .2 .9 .8 1 .9 .9 1.1 1 1.5 .9 1.6 1 1.7 .9 1.7 .9 1.5 1 1.9 .9 1.8 1 1.5 .9 1.8 1 1.5 .9 1.3 1 1.3 .9 1.3 .9 1.2 1 1.1 .9 1.2 1 .9 .9 1 1 .9 .9 .7 1 .6 .9 .8 .9 .5 1 .5 .9 .4 1 .6 .9 .5 1 .2 .9 .3 1 .3 .9 .2 .9 .4 1 .2 .9 .1 1 .3 .9 .1" fill="none" stroke="#1f1f8a" stroke-width="1.25" stroke-linejoin="round"/>
<rect x="1246.22" y="1464.30" width="86.20" height="246.70" fill="none" stroke="#3a3a3a" stroke-width="1.10"/>
<path d="M1340.9 1421.1l.9 0 1 0 .9 0 1-.2 .9-.1 .9 0 1-.2 .9-.2 1-.1 .9-.3 1-.1 .9-.3 1-.1 .9-.3 .9-.3 1-.3 .9-.2 1-.1 .9-.5 1-.3 .9-.3 1-.4 .9-.5 .9-.4 1-.7 .9-.6 1-.5 .9-.7 1-.6 .9-.8 1-.8 .9-1.1 .9-.9 1-1 .9-1 1-1.2 .9-1.2 1-1.1 .9-1.2 1-1.1 .9-1.2 .9-1.1 1-1.2 .9-.9 1-.9 .9-.7 1-.5 .9-.4 1-.2 .9 0 .9 .2 1 .5 .9 .6 1 .8 .9 .8 1 1.1 .9 1.1 1 1 .9 1 .9 1.1 1 1.3 .9 1.1 1 1 .9 1 1 1.1 .9 .9 1 1 .9 .8 .9 .8 1 .5 .9 .7 1 .7 .9 .6 1 .5 .9 .4 1 .5 .9 .2 .9 .5 1 .3 .9 .2 1 .3 .9 .2 1 .3 .9 .3 1 .2 .9 .1 .9 .2 1 .1 .9 .1 1 0" fill="none" stroke="#1f1f8a" stroke-width="1.25" stroke-linejoin="round"/>
<rect x="1340.28" y="1464.30" width="86.20" height="246.70" fill="none" stroke="#3a3a3a" stroke-width="1.10"/>
<path d="M1434.9 1423.2l1 0 .9-.2 1-.1 .9-.1 1 0 .9-.1 1-.2 .9-.2 .9-.2 1-.3 .9-.4 1-.3 .9-.3 1-.3 .9-.3 1-.3 .9-.2 .9-.4 1-.6 .9-.4 1-.6 .9-.5 1-.7 .9-.6 1-.8 .9-.8 .9-1 1-.9 .9-1 1-1 .9-1.1 1-1.2 .9-1.3 1-1.3 .9-1.5 .9-1.4 1-1.7 .9-1.7 1-1.5 .9-1.5 1-1.6 .9-1.7 1-1.5 .9-1.5 .9-1 1-1 .9-.9 1-.3 .9-.2 1-.1 .9 .5 1 .7 .9 .9 .9 1.1 1 1.3 .9 1.4 1 1.3 .9 1.5 1 1.6 .9 1.6 1 1.6 .9 1.6 .9 1.4 1 1.5 .9 1.4 1 1.2 .9 1.2 1 1 .9 1 1 .9 .9 .9 .9 .9 1 .9 .9 .7 1 .5 .9 .6 1 .5 .9 .6 1 .4 .9 .5 .9 .3 1 .3 .9 .4 1 .2 .9 .3 1 .1 .9 .3 1 .2 .9 .1 .9 0" fill="none" stroke="#1f1f8a" stroke-width="1.25" stroke-linejoin="round"/>
<rect x="1434.34" y="1464.30" width="86.20" height="246.70" fill="none" stroke="#3a3a3a" stroke-width="1.10"/>
<path d="M1529 1420.5l.9 0 1-.1 .9 0 1-.1 .9-.1 1-.2 .9-.2 1-.3 .9-.1 .9-.2 1-.1 .9-.3 1-.3 .9-.1 1-.3 .9-.2 1-.4 .9-.2 .9-.3 1-.4 .9-.6 1-.6 .9-.5 1-.5 .9-.6 1-.8 .9-.6 .9-.6 1-.8 .9-.9 1-1 .9-1.1 1-1 .9-1.2 1-1 .9-1.2 .9-1.2 1-1.5 .9-1.1 1-1.2 .9-1.1 1-1.2 .9-1.1 1-1 .9-.8 .9-.4 1-.5 .9-.1 1-.1 .9 .3 1 .6 .9 .7 1 .8 .9 .8 .9 1.1 1 1.2 .9 1.2 1 1.1 .9 1.2 1 1.2 .9 1.1 1 1.3 .9 1 .9 1 1 .9 .9 .9 1 .9 .9 .7 1 .7 .9 .9 1 .7 .9 .6 .9 .4 1 .5 .9 .5 1 .5 .9 .3 1 .3 .9 .2 1 .3 .9 .3 .9 .1 1 .4 .9 .1 1 .2 .9 .1 1 .1 .9 .1 1 0 .9 .1" fill="none" stroke="#1f1f8a" stroke-width="1.25" stroke-linejoin="round"/>
<rect x="1528.40" y="1464.30" width="86.20" height="246.70" fill="none" stroke="#3a3a3a" stroke-width="1.10"/>
<path d="M1623.1 1422.6l.9-.1 .9 0 1-.3 .9-.1 1 0 .9-.2 1-.1 .9-.1 1-.3 .9-.2 .9-.2 1-.2 .9-.1 1-.5 .9-.3 1-.4 .9-.3 1-.4 .9-.3 .9-.6 1-.5 .9-.4 1-.7 .9-.7 1-.7 .9-.7 1-.7 .9-.9 .9-.8 1-.8 .9-1.1 1-1 .9-1.3 1-1.4 .9-1.2 1-1.5 .9-1.4 .9-1.2 1-1.5 .9-1.6 1-1.4 .9-1.3 1-1.1 .9-1.2 1-.9 .9-.7 .9-.5 1-.1 .9-.1 1 .1 .9 .4 1 .7 .9 1 1 1.1 .9 1.1 .9 1.4 1 1.4 .9 1.2 1 1.4 .9 1.3 1 1.5 .9 1.4 1 1.2 .9 1.1 .9 1.1 1 1.1 .9 1.1 1 .9 .9 .7 1 .8 .9 .9 1 .8 .9 .6 .9 .4 1 .4 .9 .6 1 .4 .9 .4 1 .3 .9 .4 1 .3 .9 .3 .9 .3 1 .1 .9 .3 1 .3 .9 .1 1 .3 .9 .1 1 .1" fill="none" stroke="#1f1f8a" stroke-width="1.25" stroke-linejoin="round"/>
<rect x="1622.46" y="1464.30" width="86.20" height="246.70" fill="none" stroke="#3a3a3a" stroke-width="1.10"/>
<path d="M1717.1 1417.1l1-.2 .9-.2 1 0 .9 0 .9-.2 1-.3 .9-.2 1-.1 .9-.2 1-.2 .9-.4 1-.4 .9-.2 .9-.1 1-.3 .9-.6 1-.2 .9-.6 1-.5 .9-.4 1-.8 .9-.7 .9-.5 1-.6 .9-.9 1-.9 .9-.8 1-.8 .9-1.1 1-1.1 .9-1.1 .9-1.3 1-1.5 .9-1.4 1-1.5 .9-1.6 1-1.5 .9-1.5 1-1.7 .9-1.6 .9-1.5 1-1.4 .9-1.4 1-1.1 .9-.9 1-.9 .9-.4 1-.2 .9-.1 .9 .3 1 .6 .9 .8 1 1.1 .9 1.1 1 1.4 .9 1.5 1 1.5 .9 1.4 .9 1.6 1 1.6 .9 1.3 1 1.6 .9 1.4 1 1.2 .9 1.2 1 1.2 .9 1.1 .9 1.1 1 .9 .9 .7 1 .9 .9 .8 1 .7 .9 .6 1 .6 .9 .6 .9 .3 1 .4 .9 .5 1 .3 .9 .4 1 .3 .9 .3 1 .3 .9 .1 .9 .3 1 .2 .9 0 1 .2 .9 .1" fill="none" stroke="#1f1f8a" stroke-width="1.25" stroke-linejoin="round"/>
<rect x="1716.52" y="1464.30" width="86.20" height="246.70" fill="none" stroke="#3a3a3a" stroke-width="1.10"/>
<path d="M1811.2 1433.5l.9-.2 1-.1 .9 0 1-.1 .9-.1 .9-.1 1-.1 .9-.4 1-.3 .9-.3 1-.1 .9-.4 1-.3 .9-.2 .9-.4 1-.2 .9-.4 1-.4 .9-.5 1-.6 .9-.6 1-.5 .9-.8 .9-.9 1-.7 .9-.7 1-.9 .9-1 1-1 .9-1 1-1.3 .9-1.4 .9-1.3 1-1.6 .9-1.7 1-1.5 .9-1.6 1-1.7 .9-1.7 1-1.7 .9-1.7 .9-1.7 1-1.7 .9-1.3 1-1.3 .9-1.2 1-.7 .9-.5 1-.3 .9 0 .9 .6 1 .6 .9 1.1 1 1.2 .9 1.4 1 1.3 .9 1.7 1 1.7 .9 1.7 .9 1.7 1 1.5 .9 1.6 1 1.7 .9 1.6 1 1.3 .9 1.3 1 1.3 .9 1.3 .9 1.1 1 .9 .9 .9 1 .8 .9 .8 1 .6 .9 .7 1 .6 .9 .7 .9 .5 1 .6 .9 .5 1 .2 .9 .3 1 .4 .9 .4 1 .2 .9 .4 .9 .2 1 .2 .9 .1 1 0" fill="none" stroke="#1f1f8a" stroke-width="1.25" stroke-linejoin="round"/>
<rect x="1810.58" y="1464.30" width="86.20" height="246.70" fill="none" stroke="#3a3a3a" stroke-width="1.10"/>
<path d="M118.1 1792.4l.9-.3 1 .5 .9 .3 1-.3 .9 0 1-.5 .9-.3 1-.1 .9 .3 .9-.3 1 .6 .9-.6 1-.3 .9-.3 1 .5 .9-.1 1 0 .9-.2 .9 .1 1-.1 .9-.4 1 0 .9-.2 1-.3 .9 .4 1 .1 .9 0 .9 .2 1-.5 .9-.3 1-.3 .9-.2 1 .1 .9-.7 1 0 .9 0 .9-.2 1-.5 .9 .3 1-.6 .9 .2 1-.3 .9-.4 1-.1 .9-.2 .9-.5 1-1 .9-1.4 1 .2 .9 2.1 1 1.2 .9 .4 1 .5 .9-.2 .9 .4 1 .2 .9 .1 1-.5 .9-.2 1-.1 .9 .3 1 .9 .9 .5 .9 .4 1-.5 .9 .3 1 .4 .9 .3 1 .2 .9-.5 1-.2 .9 .6 .9 .3 1 .4 .9-.2 1 .4 .9-.5 1 .6 .9 .3 1-.4 .9-.4 .9 .2 1 .3 .9-.1 1-.4 .9 .1 1 .6 .9-.4 1 .7 .9-.3" fill="none" stroke="#1f1f8a" stroke-width="1.25" stroke-linejoin="round"/>
<rect x="117.50" y="1819.20" width="86.20" height="246.60" fill="none" stroke="#3a3a3a" stroke-width="1.10"/>
<path d="M212.2 1796.7l.9 0 .9-.3 1 .1 .9 .5 1 .3 .9-.1 1 .3 .9-.2 1 .4 .9-.1 .9-.5 1 .1 .9 0 1 0 .9-.3 1 .3 .9-.3 1-.1 .9-.1 .9 0 1-.2 .9 .6 1 .2 .9-.5 1 .2 .9-.3 1 .3 .9 0 .9 .1 1 .3 .9 .2 1 0 .9-.3 1-.5 .9 .3 1 0 .9 .5 .9 .2 1-.6 .9-.1 1 .3 .9-.2 1 .5 .9-.9 1-.6 .9-.8 .9-1.7 1-1.7 .9-.2 1 1.9 .9 1.7 1 1.4 .9 .2 1-.2 .9 .3 .9 .3 1-.1 .9 .1 1 0 .9-.1 1-.5 .9 0 1 .6 .9-.1 .9 .3 1 .3 .9-.8 1 .3 .9-.1 1-.6 .9-.1 1 .3 .9 .1 .9 .4 1-.2 .9 .3 1-.2 .9 .4 1 .3 .9-.7 1 .3 .9-.6 .9-.1 1 .5 .9-.1 1-.6 .9-.3 1 .8 .9 .4 1 .3" fill="none" stroke="#1f1f8a" stroke-width="1.25" stroke-linejoin="round"/>
<rect x="211.56" y="1819.20" width="86.20" height="246.60" fill="none" stroke="#3a3a3a" stroke-width="1.10"/>
<path d="M306.2 1804.7l1 .3 .9-.1 1-.1 .9-.2 .9 .2 1-.2 .9 .5 1-.4 .9 .5 1-.6 .9 .1 1 .1 .9 .4 .9 .2 1-.4 .9 0 1 .3 .9-.5 1 .3 .9 .2 1 .3 .9-.6 .9 .2 1-.2 .9 .4 1 0 .9-.7 1 .5 .9 .2 1-.5 .9 .5 .9-.6 1 .4 .9 0 1-.7 .9 .5 1-.3 .9-.4 1-.1 .9-.2 .9 .3 1 0 .9 .6 1-.2 .9-.6 1-1.5 .9-2.1 1-2.8 .9 1.1 .9 3 1 2.2 .9 .9 1-.2 .9 .5 1-.4 .9-.4 1 .3 .9 .4 .9 .4 1-.4 .9-.4 1 0 .9-.4 1 .3 .9-.2 1-.1 .9 .5 .9 .5 1-.1 .9-.4 1 .5 .9-.1 1-.1 .9-.2 1 .3 .9-.4 .9-.3 1 0 .9-.1 1-.2 .9-.1 1 .5 .9-.2 1 .5 .9 .1 .9 .3 1 0 .9-.7 1 .4 .9-.6" fill="none" stroke="#1f1f8a" stroke-width="1.25" stroke-linejoin="round"/>
<rect x="305.62" y="1819.20" width="86.20" height="246.60" fill="none" stroke="#3a3a3a" stroke-width="1.10"/>
<path d="M400.3 1808l.9-.1 1 .4 .9 .2 1 .1 .9-.3 .9 .4 1-.6 .9 .3 1 0 .9-.4 1 .5 .9 0 1-.6 .9 .3 .9 .2 1-.1 .9-.6 1 .3 .9 .6 1 .2 .9-.5 1 .1 .9-.4 .9 .1 1-.3 .9 .2 1-.3 .9 .2 1 0 .9-.2 1 .6 .9 .4 .9-.1 1 .1 .9-.1 1 .1 .9-.4 1-.3 .9-.1 1 .1 .9 .1 .9 .5 1 .2 .9-.4 1-.5 .9-1 1-2.7 .9-3.3 1 .5 .9 2.6 .9 3 1 1.5 .9-.3 1 .1 .9 .5 1-.4 .9-.5 1 .3 .9 .1 .9 .2 1 .3 .9-.3 1 .1 .9 .3 1-.5 .9-.5 1 .3 .9-.3 .9 .5 1 .4 .9 0 1 0 .9 0 1-.6 .9-.4 1-.2 .9 .5 .9 .5 1-.3 .9-.2 1 .1 .9 .4 1 .1 .9-.6 1-.2 .9-.2 .9 .8 1 .5 .9-.7 1 .4" fill="none" stroke="#1f1f8a" stroke-width="1.25" stroke-linejoin="round"/>
<rect x="399.68" y="1819.20" width="86.20" height="246.60" fill="none" stroke="#3a3a3a" stroke-width="1.10"/>
<path d="M494.3 1805.2l1 .1 .9-.3 1 .4 .9-.3 1-.1 .9 .3 1-.2 .9 .5 .9-.2 1-.2 .9-.5 1 .4 .9-.2 1 .1 .9 .2 1 0 .9 .5 .9-.3 1-.2 .9-.4 1-.3 .9-.1 1 .4 .9-.2 1 .3 .9-.2 .9 .5 1-.4 .9 .5 1 .4 .9 .3 1-.3 .9 .2 1-.6 .9 .5 .9 .3 1-.1 .9 .3 1-.3 .9 .3 1-.5 .9-.6 1-.3 .9 .5 .9-.2 1-1.4 .9-1.5 1-1 .9-.2 1 1.2 .9 2.2 1 .6 .9 .8 .9-.4 1 .5 .9-.7 1-.1 .9 .1 1-.4 .9 .6 1 .4 .9-.2 .9 .1 1-.3 .9-.2 1 .3 .9 0 1-.4 .9 .6 1 .4 .9-.1 .9 .2 1-.4 .9-.2 1 .1 .9-.5 1-.4 .9 .3 1-.1 .9 .5 .9 .1 1-.1 .9 0 1 .2 .9-.4 1 .4 .9 .3 1-.5 .9-.3 .9 .4" fill="none" stroke="#1f1f8a" stroke-width="1.25" stroke-linejoin="round"/>
<rect x="493.74" y="1819.20" width="86.20" height="246.60" fill="none" stroke="#3a3a3a" stroke-width="1.10"/>
<path d="M588.4 1784.7l.9 .2 1 .3 .9-.5 1 .3 .9 0 1 .4 .9 .1 1-.4 .9 .1 .9 0 1-.1 .9 .1 1 .1 .9-.5 1-.1 .9 .1 1-.1 .9 .3 .9-.4 1-.1 .9 0 1-.3 .9 .5 1-.2 .9-.4 1 .5 .9-.1 .9 .2 1-.3 .9 .3 1 0 .9-.4 1 .4 .9-.4 1 .4 .9 .2 .9-.1 1-.2 .9 .6 1 .4 .9 0 1 .2 .9-.3 1 1.7 .9-1.4 .9-17.7 1-31.1 .9 1.8 1 32.2 .9 13.9 1 .8 .9-.5 1-.3 .9 .3 .9-.1 1 .2 .9 .1 1-.3 .9-.6 1-.3 .9-.1 1 .2 .9 0 .9 .1 1-.5 .9 .3 1-.2 .9-.1 1 .2 .9 .1 1 .4 .9 .1 .9 .4 1-.2 .9-.4 1 .2 .9-.5 1-.2 .9 0 1 .2 .9 .4 .9 .2 1-.1 .9-.5 1 .2 .9 0 1-.3 .9-.4 1 .4 .9 .5" fill="none" stroke="#1f1f8a" stroke-width="1.25" stroke-linejoin="round"/>
<rect x="587.80" y="1819.20" width="86.20" height="246.60" fill="none" stroke="#3a3a3a" stroke-width="1.10"/>
<path d="M682.5 1805l.9-.1 .9-.4 1 .1 .9-.2 1 .2 .9 .6 1-.2 .9-.5 1-.3 .9 .7 .9-.5 1 0 .9-.3 1 .1 .9 0 1 .7 .9 .4 1-.7 .9 .3 .9-.3 1 0 .9 .1 1 0 .9 0 1-.1 .9-.1 1-.1 .9-.3 .9-.1 1-.3 .9 .5 1 .5 .9 .4 1-.1 .9-.1 1 0 .9 0 .9-.6 1-.1 .9-.1 1-.5 .9 .5 1 0 .9-.1 1-.6 .9-1.8 .9-1 1-1.8 .9 1 1 1.3 .9 1.7 1 1.6 .9 .2 1 .5 .9 .4 .9-.5 1 .4 .9 .3 1 .1 .9-.4 1-.4 .9 .2 1-.6 .9-.2 .9-.2 1 .7 .9-.4 1-.3 .9 .3 1-.1 .9 .5 1 .4 .9-.4 .9 0 1 .3 .9-.6 1 .1 .9-.4 1 .5 .9 .4 1-.3 .9-.5 .9 .2 1 .4 .9-.6 1 .3 .9 .2 1-.4 .9 .4 1 .5" fill="none" stroke="#1f1f8a" stroke-width="1.25" stroke-linejoin="round"/>
<rect x="681.86" y="1819.20" width="86.20" height="246.60" fill="none" stroke="#3a3a3a" stroke-width="1.10"/>
<path d="M776.5 1786.3l1 0 .9 .5 1-.1 .9 0 .9 .3 1-.5 .9-.1 1-.2 .9 .6 1-.1 .9 .2 1-.3 .9 .1 .9-.4 1 .6 .9-.2 1-.3 .9 .6 1-.1 .9 0 1 .2 .9-.2 .9 .4 1-.4 .9-.2 1 0 .9-.1 1-.2 .9 .3 1 .3 .9 .4 .9 .1 1-.3 .9 0 1-.6 .9-.3 1 .4 .9 .4 1-.3 .9 .4 .9 .3 1 .1 .9 .1 1 .4 .9 2.3 1-3.1 .9-3.5 1-1.1 .9 .1 .9 1.7 1 2.2 .9 1.7 1-.9 .9-1.1 1 0 .9 .6 1 .1 .9-.4 .9-.2 1 .3 .9-.1 1-.5 .9 .6 1 0 .9-.5 1 .5 .9-.5 .9 .5 1-.1 .9-.1 1-.1 .9 .4 1 .2 .9-.6 1-.2 .9 .6 .9-.2 1 .4 .9 .3 1 .2 .9-.7 1-.2 .9 .2 1 0 .9-.5 .9 .1 1 .3 .9-.3 1-.2 .9 .3" fill="none" stroke="#1f1f8a" stroke-width="1.25" stroke-linejoin="round"/>
<rect x="775.92" y="1819.20" width="86.20" height="246.60" fill="none" stroke="#3a3a3a" stroke-width="1.10"/>
<path d="M870.6 1793.7l.9-.2 1 .2 .9-.1 1 .4 .9-.4 .9 .3 1 .4 .9-.4 1 .1 .9-.2 1-.1 .9 .1 1 .1 .9 .1 .9-.1 1-.5 .9 0 1-.3 .9 .1 1-.2 .9-.2 1 .7 .9 .1 .9 .1 1-.3 .9 .3 1-.1 .9 .5 1-.3 .9 .3 1-.7 .9 .2 .9 .1 1 .1 .9-.5 1 .4 .9 .4 1 .1 .9-.3 1-.3 .9 .2 .9-.2 1 .5 .9 .2 1 1.7 .9-1.7 1-2.4 .9-1.3 1 .1 .9 1.5 .9 2.1 1 .9 .9-.6 1-1.1 .9-.4 1 0 .9-.3 1 .3 .9-.3 .9 .3 1 .4 .9 .3 1-.4 .9-.5 1 .7 .9-.3 1 .2 .9-.5 .9 .6 1-.2 .9 .2 1 0 .9 .2 1 .3 .9-.2 1-.1 .9-.2 .9-.2 1 .2 .9 0 1-.4 .9 0 1 .3 .9 .4 1-.2 .9 .2 .9-.2 1-.2 .9-.6 1-.2" fill="none" stroke="#1f1f8a" stroke-width="1.25" stroke-linejoin="round"/>
<rect x="869.98" y="1819.20" width="86.20" height="246.60" fill="none" stroke="#3a3a3a" stroke-width="1.10"/>
<path d="M964.6 1806.4l1-.6 .9 .4 1 .3 .9-.6 1 .5 .9 .2 1-.3 .9-.2 .9 .2 1-.2 .9 .1 1 .1 .9-.5 1 .4 .9 .2 1 .3 .9 0 .9-.1 1 .1 .9-.6 1 .1 .9 .4 1 .2 .9-.7 1 .4 .9 0 .9-.2 1-.5 .9 .6 1-.4 .9 .2 1-.5 .9 .3 1-.1 .9-.1 .9-.2 1-.2 .9 .7 1 .1 .9-.5 1 .3 .9 .3 1-.4 .9 .4 .9-.5 1-1.7 .9-2.1 1-2.4 .9-.2 1 2.1 .9 2.2 1 2 .9 0 .9 .2 1 .5 .9-.6 1-.2 .9 .3 1 0 .9-.4 1 .5 .9 .4 .9-.5 1-.2 .9-.2 1 .3 .9 .3 1-.2 .9 .5 1-.5 .9 .6 .9-.4 1-.3 .9-.1 1 .3 .9 .5 1-.5 .9 .2 1 .1 .9 0 .9 .3 1-.4 .9 .4 1-.3 .9-.1 1 0 .9 .1 1 .2 .9 .3 .9 .2" fill="none" stroke="#1f1f8a" stroke-width="1.25" stroke-linejoin="round"/>
<rect x="964.04" y="1819.20" width="86.20" height="246.60" fill="none" stroke="#3a3a3a" stroke-width="1.10"/>
<path d="M1058.7 1774.5l.9 .4 1-.4 .9-.3 1 .3 .9-.1 1-.5 .9 .2 1 0 .9-.1 .9-.5 1-.5 .9 .1 1-.4 .9-.1 1-.2 .9 0 1-.6 .9-.4 .9-.4 1 .1 .9-.3 1-.6 .9-.8 1 .1 .9-.3 1-.8 .9-.8 .9-.7 1-.1 .9-.4 1-.9 .9-.3 1-1 .9-.6 1-.6 .9-.8 .9-.6 1-.8 .9-.7 1-.8 .9-.8 1-.7 .9-.1 1-.4 .9-.4 .9-.2 1-.3 .9-.1 1 .1 .9 .4 1 .2 .9 .3 1 .2 .9 .3 .9 .9 1 .9 .9 .5 1 .6 .9 .6 1 .4 .9 .7 1 .6 .9 .7 .9 .9 1 .6 .9 .6 1 1 .9 .9 1 .2 .9 .7 1 .4 .9 .4 .9 .5 1 .5 .9 .5 1 0 .9 .1 1 .1 .9 .7 1 .3 .9 0 .9 .7 1 .5 .9 .2 1 0 .9 .4 1-.2 .9 .2 1 .3 .9 .1" fill="none" stroke="#1f1f8a" stroke-width="1.25" stroke-linejoin="round"/>
<rect x="1058.10" y="1819.20" width="86.20" height="246.60" fill="none" stroke="#3a3a3a" stroke-width="1.10"/>
<path d="M1152.8 1798l.9-.1 .9 0 1-.4 .9 .4 1-.4 .9 .4 1-.4 .9 .2 1-.1 .9-.1 .9-.5 1-.3 .9 .2 1-.3 .9-.1 1 .1 .9-.6 1-.2 .9-.6 .9-.4 1 0 .9-.5 1-.4 .9-.2 1-.1 .9-.1 1-.6 .9-.5 .9-.2 1-.3 .9-.4 1-1 .9-.6 1-.4 .9-.2 1-.6 .9-.9 .9-.3 1-.4 .9-.7 1-.5 .9-.6 1-.5 .9-.3 1-.2 .9 .1 .9-.4 1 .2 .9 .2 1-.2 .9-.2 1 .5 .9-.1 1 .6 .9 .6 .9 .1 1 .8 .9 .5 1 .2 .9 .3 1 .7 .9 .3 1 .8 .9 .5 .9 .7 1 .5 .9 .7 1 .4 .9 .6 1 .1 .9 .8 1 .4 .9 .4 .9 .5 1-.2 .9 .6 1-.2 .9 .6 1 .1 .9 .2 1 .1 .9 .3 .9-.1 1 .1 .9 .4 1 0 .9 .1 1 .4 .9 0 1 0" fill="none" stroke="#1f1f8a" stroke-width="1.25" stroke-linejoin="round"/>
<rect x="1152.16" y="1819.20" width="86.20" height="246.60" fill="none" stroke="#3a3a3a" stroke-width="1.10"/>
<path d="M1246.8 1768.8l1-.1 .9-.3 1-.4 .9 .3 .9-.3 1-.1 .9-.1 1 .3 .9 0 1-.3 .9-.5 1-.4 .9-.1 .9-.1 1-.5 .9-.1 1-.3 .9 .2 1-.5 .9-.5 1-.5 .9-.3 .9-.3 1-.6 .9 0 1-.1 .9-.8 1-.4 .9-.1 1-.6 .9-.4 .9-.8 1-.3 .9-.8 1-.9 .9-.7 1-.3 .9-1 1-.2 .9-.6 .9-.6 1-.2 .9-.7 1-.3 .9-.5 1-.3 .9-.4 1-.2 .9-.2 .9 .1 1 .5 .9 .2 1 .8 .9 .7 1 .3 .9 .1 1 1 .9 .4 .9 .3 1 .7 .9 .4 1 .9 .9 .9 1 .2 .9 .8 1 .3 .9 .6 .9 .8 1 .2 .9 .9 1 .6 .9-.1 1 .1 .9 .4 1 .6 .9 0 .9 .6 1 .5 .9 .3 1 .1 .9 .5 1-.1 .9 0 1 .2 .9 .2 .9 .3 1 .2 .9 .2 1 .5 .9 0" fill="none" stroke="#1f1f8a" stroke-width="1.25" stroke-linejoin="round"/>
<rect x="1246.22" y="1819.20" width="86.20" height="246.60" fill="none" stroke="#3a3a3a" stroke-width="1.10"/>
<path d="M1340.9 1769.2l.9-.2 1-.4 .9-.1 1 0 .9 .1 .9-.2 1-.1 .9 0 1 .3 .9-.2 1-.3 .9 .2 1 .1 .9-.5 .9-.3 1 .2 .9-.2 1-.1 .9-.2 1 0 .9-.6 1-.2 .9-.5 .9 .1 1-.5 .9-.2 1-.1 .9-.3 1-.3 .9-.5 1-.3 .9-.3 .9 0 1-.2 .9-.8 1 0 .9-.7 1-.5 .9-.2 1-.2 .9-.4 .9-.2 1 .1 .9-.7 1 0 .9 .2 1-.4 .9-.4 1 .2 .9 .3 .9 .4 1-.1 .9 .1 1 .5 .9-.2 1 .4 .9 .1 1 .8 .9 .1 .9 .4 1 .7 .9 .6 1 .2 .9 .4 1 .5 .9-.1 1 .6 .9-.1 .9 .7 1-.1 .9 .1 1 .5 .9 .1 1 .6 .9 0 1 .4 .9 0 .9 .6 1 .4 .9-.2 1 .4 .9-.2 1-.1 .9-.1 1 .4 .9 .5 .9-.2 1 0 .9 .6 1 .3" fill="none" stroke="#1f1f8a" stroke-width="1.25" stroke-linejoin="round"/>
<rect x="1340.28" y="1819.20" width="86.20" height="246.60" fill="none" stroke="#3a3a3a" stroke-width="1.10"/>
<path d="M1434.9 1780.7l1-.2 .9-.4 1 .2 .9 .2 1 0 .9 0 1-.4 .9-.1 .9-.4 1-.4 .9-.2 1-.1 .9-.2 1 0 .9-.4 1 .3 .9-.3 .9 .1 1-.1 .9-.5 1-.4 .9-.6 1 0 .9-.6 1-.4 .9-.2 .9-.7 1-.5 .9-.6 1-.7 .9-.3 1 0 .9-.6 1-.2 .9-1 .9-.7 1-.2 .9-.6 1-.5 .9-.4 1-.8 .9-.2 1-.7 .9-.6 .9 0 1-.4 .9-.1 1 0 .9 .3 1 .1 .9 .1 1 .1 .9 .5 .9 .4 1 .4 .9 .1 1 .9 .9 .3 1 .3 .9 .7 1 .3 .9 .9 .9 .5 1 .8 .9 0 1 .9 .9 .6 1 .1 .9 .2 1 .4 .9 .4 .9 .5 1 .6 .9 .5 1 .2 .9 .6 1 .3 .9 .3 1-.4 .9 0 .9 .2 1 .5 .9 .1 1 0 .9 .1 1-.1 .9 .1 1 .1 .9 .7 .9 0" fill="none" stroke="#1f1f8a" stroke-width="1.25" stroke-linejoin="round"/>
<rect x="1434.34" y="1819.20" width="86.20" height="246.60" fill="none" stroke="#3a3a3a" stroke-width="1.10"/>
<path d="M1529 1769.1l.9 .2 1 .1 .9 0 1 0 .9 0 1 0 .9-.5 1 .1 .9-.4 .9 .1 1-.2 .9-.1 1 .1 .9-.4 1-.4 .9-.3 1 0 .9-.3 .9-.2 1-.5 .9 .2 1-.6 .9-.5 1-.2 .9-.2 1-.5 .9-.2 .9-.3 1-.3 .9-.3 1-.1 .9-.3 1-.5 .9-.2 1-.4 .9-.8 .9-.6 1 0 .9-.3 1-.2 .9-.9 1-.3 .9-.3 1-.7 .9 .2 .9-.4 1 .2 .9-.2 1 0 .9 .3 1-.3 .9 .6 1-.1 .9 .3 .9 .2 1 .5 .9 .4 1 .8 .9 .1 1 .7 .9 .6 1 0 .9 .6 .9 .5 1 .7 .9 .3 1-.1 .9 .8 1 .2 .9 0 1 .8 .9 .2 .9 .6 1 .2 .9-.2 1 .1 .9 .2 1 .2 .9 .2 1 .1 .9 .8 .9 .3 1 .1 .9 .4 1 .2 .9 .2 1 .2 .9-.1 1 0 .9-.1" fill="none" stroke="#1f1f8a" stroke-width="1.25" stroke-linejoin="round"/>
<rect x="1528.40" y="1819.20" width="86.20" height="246.60" fill="none" stroke="#3a3a3a" stroke-width="1.10"/>
<path d="M1623.1 1773.9l.9-.1 .9 0 1-.3 .9-.3 1 .3 .9-.3 1 .2 .9 .2 1 0 .9-.4 .9-.6 1-.3 .9 .1 1-.3 .9 .2 1-.5 .9-.4 1 .1 .9 0 .9-.6 1-.3 .9-.1 1-.5 .9 .1 1-.7 .9-.2 1-.6 .9-.5 .9-.1 1-.7 .9 0 1-.4 .9-.7 1-.7 .9-.6 1-.6 .9-.2 .9-.5 1-.4 .9-.9 1-.3 .9-.1 1-.5 .9-.5 1-.1 .9 .2 .9-.3 1-.1 .9 .1 1-.2 .9 .5 1-.1 .9 .2 1 .1 .9 .6 .9 .6 1 .1 .9 .3 1 .6 .9 1 1 .7 .9 .5 1 .5 .9 .7 .9 .3 1 .5 .9 .5 1 0 .9 .7 1 .1 .9 .4 1 .1 .9 .2 .9 0 1 .7 .9 .2 1 .3 .9 .1 1 .6 .9-.1 1 .1 .9 .3 .9 .5 1 .4 .9 0 1 .2 .9 .1 1 .2 .9-.1 1 .3" fill="none" stroke="#1f1f8a" stroke-width="1.25" stroke-linejoin="round"/>
<rect x="1622.46" y="1819.20" width="86.20" height="246.60" fill="none" stroke="#3a3a3a" stroke-width="1.10"/>
<path d="M1717.1 1768.1l1-.2 .9-.1 1-.2 .9 .1 .9-.1 1 .3 .9-.4 1-.3 .9 .2 1-.5 .9 .3 1-.4 .9 0 .9 0 1-.3 .9-.2 1-.1 .9-.2 1-.8 .9-.4 1-.1 .9-.1 .9-.5 1-.7 .9-.7 1 .1 .9-.1 1-.9 .9-.4 1-.7 .9-.6 .9-.7 1-.3 .9-.8 1-.2 .9-.6 1-.9 .9-.8 1-.5 .9-.6 .9-.1 1-.6 .9-.3 1-.6 .9-.4 1 .3 .9-.3 1-.2 .9 0 .9 .1 1 .3 .9 .5 1 .6 .9 .3 1-.1 .9 .8 1 .6 .9 .3 .9 .2 1 .7 .9 1 1 .7 .9 .7 1 .6 .9 .1 1 .7 .9 .2 .9 .5 1 .5 .9 .2 1 .7 .9 .1 1 .7 .9 .4 1-.1 .9 .3 .9 .3 1 .4 .9 .4 1 .6 .9-.2 1 0 .9 .3 1 .3 .9 .3 .9 .3 1 .3 .9-.2 1-.1 .9 0" fill="none" stroke="#1f1f8a" stroke-width="1.25" stroke-linejoin="round"/>
<rect x="1716.52" y="1819.20" width="86.20" height="246.60" fill="none" stroke="#3a3a3a" stroke-width="1.10"/>
<path d="M1811.2 1788.7l.9-.4 1-.1 .9 .1 1 .1 .9 0 .9-.2 1-.1 .9-.1 1-.3 .9 .2 1-.3 .9-.5 1 .1 .9-.2 .9-.4 1-.4 .9-.5 1-.1 .9 .2 1 0 .9-.3 1-.2 .9-.5 .9-.6 1-.1 .9-.9 1-.5 .9-.6 1-.6 .9-.3 1-.4 .9-.7 .9-.4 1-.6 .9-.5 1-.2 .9-.3 1-.5 .9-.9 1-.8 .9-.2 .9-.5 1-.5 .9 0 1-.4 .9-.6 1-.4 .9 .1 1 .1 .9 .3 .9-.2 1 .4 .9 .5 1 .6 .9 .5 1 0 .9 .6 1 .4 .9 .8 .9 .5 1 .5 .9 .7 1 .4 .9 .5 1 .5 .9 .4 1 .9 .9 .3 .9 .3 1 .7 .9 .3 1 .6 .9 .6 1 .2 .9 .6 1 .3 .9 .1 .9 0 1 .3 .9 .4 1-.2 .9 .4 1-.1 .9 .7 1-.1 .9 .3 .9-.1 1 .4 .9 .1 1-.1" fill="none" stroke="#1f1f8a" stroke-width="1.25" stroke-linejoin="round"/>
<rect x="1810.58" y="1819.20" width="86.20" height="246.60" fill="none" stroke="#3a3a3a" stroke-width="1.10"/>
<path d="M118.1 2148.2l.9 0 1-.2 .9 .1 1-.1 .9-.1 1 0 .9-.1 1-.3 .9 0 .9 0 1 0 .9 0 1 0 .9-.2 1-.2 .9-.2 1 .1 .9 0 .9-.1 1-.1 .9-.1 1-.2 .9 0 1-.2 .9 0 1 0 .9 0 .9-.3 1-.2 .9-.1 1 .1 .9-.1 1 0 .9-.2 1-.2 .9 0 .9-.4 1-.3 .9-.1 1-.1 .9-.2 1-.1 .9 .1 1 1.5 .9-2.1 .9-9.6 1-11.2 .9-4.2 1 1 .9 3.4 1 1 .9 .7 1 .5 .9 .4 .9 .7 1 .7 .9 .8 1 .7 .9 .6 1 .9 .9 .6 1 .5 .9 .9 .9 .7 1 .4 .9 .5 1 .8 .9 .8 1 .5 .9 .5 1 .7 .9 .7 .9 .3 1 .5 .9 .6 1 .3 .9 .5 1 .3 .9 .5 1 .4 .9 .3 .9 .4 1 .4 .9 .3 1 .3 .9 .4 1 .4 .9 .5 1 .3 .9 .3" fill="none" stroke="#1f1f8a" stroke-width="1.25" stroke-linejoin="round"/>
<rect x="117.50" y="2173.00" width="86.20" height="247.30" fill="none" stroke="#3a3a3a" stroke-width="1.10"/>
<path d="M212.2 2155l.9 0 .9-.1 1-.1 .9 .1 1 .2 .9-.1 1 .1 .9-.2 1 0 .9-.1 .9 .1 1 .1 .9 .1 1 0 .9 .1 1-.1 .9-.2 1 0 .9 .2 .9 0 1-.2 .9 0 1 0 .9 0 1 .2 .9-.1 1-.1 .9 .2 .9 .2 1 0 .9-.3 1 0 .9-.1 1 .3 .9-.2 1-.1 .9 0 .9 .2 1-.1 .9 .3 1-.1 .9 0 1-.1 .9 1.1 1 1.9 .9-3.2 .9-4 1-3.1 .9-.1 1 1.6 .9 1.8 1 1.2 .9 .5 1 .2 .9 .1 .9 .2 1 .1 .9 .1 1 .3 .9 .1 1-.1 .9 .3 1 .2 .9-.1 .9 .3 1-.2 .9 .2 1-.1 .9 .2 1 .1 .9 .2 1-.2 .9 .1 .9 .2 1-.2 .9-.1 1 .1 .9-.1 1 0 .9-.1 1 .1 .9 .2 .9 .1 1 .1 .9-.2 1 0 .9 .1 1 0 .9-.1 1 0" fill="none" stroke="#1f1f8a" stroke-width="1.25" stroke-linejoin="round"/>
<rect x="211.56" y="2173.00" width="86.20" height="247.30" fill="none" stroke="#3a3a3a" stroke-width="1.10"/>
<path d="M306.2 2159l1-.1 .9-.1 1 0 .9-.2 .9-.2 1 .1 .9 0 1 .2 .9-.1 1 .2 .9-.3 1 .1 .9-.2 .9-.1 1-.1 .9 .3 1 0 .9 0 1 .1 .9 0 1-.2 .9 .1 .9-.2 1 0 .9 .1 1-.2 .9 0 1 0 .9-.2 1 0 .9-.2 .9-.1 1-.1 .9 0 1 .1 .9-.1 1 .1 .9-.3 1-.2 .9-.2 .9 0 1 .1 .9-.1 1-.1 .9-.4 1-1.2 .9-4.4 1-6.5 .9 .6 .9 3.4 1 2.2 .9 .8 1 .5 .9 .5 1 .3 .9 .4 1 .4 .9 .2 .9 .5 1 0 .9 .4 1 0 .9 .5 1 .1 .9 0 1 .2 .9 .3 .9 0 1 .1 .9 .2 1 0 .9 .1 1 .2 .9 0 1 .2 .9 0 .9 .2 1 0 .9-.1 1 0 .9 .1 1 .1 .9 .1 1 .1 .9 .1 .9-.2 1 .2 .9 .1 1-.1 .9 .2" fill="none" stroke="#1f1f8a" stroke-width="1.25" stroke-linejoin="round"/>
<rect x="305.62" y="2173.00" width="86.20" height="247.30" fill="none" stroke="#3a3a3a" stroke-width="1.10"/>
<path d="M400.3 2160.6l.9-.2 1 0 .9 0 1 0 .9-.1 .9 0 1 .1 .9 .1 1-.3 .9 .1 1 0 .9-.1 1 .1 .9 0 .9 0 1-.1 .9 0 1 0 .9-.1 1-.2 .9-.1 1-.1 .9 0 .9 .2 1-.2 .9 .1 1-.1 .9-.1 1 0 .9-.1 1-.1 .9 0 .9 0 1 0 .9-.1 1-.1 .9 0 1 0 .9-.3 1-.1 .9-.2 .9-.3 1-.1 .9 0 1-.2 .9-1.2 1-4.7 .9-7.4 1 .6 .9 3.3 .9 2.2 1 1 .9 .7 1 .7 .9 .6 1 .4 .9 .4 1 .3 .9 .1 .9 .1 1 .2 .9 .2 1 .4 .9 .2 1 .3 .9 .1 1 .3 .9 .1 .9 .2 1 .1 .9 .1 1-.1 .9 .3 1 0 .9 0 1 .2 .9 0 .9 0 1 0 .9-.1 1 .2 .9 .1 1 .1 .9 .1 1 .2 .9-.1 .9-.1 1 .2 .9 0 1 .1" fill="none" stroke="#1f1f8a" stroke-width="1.25" stroke-linejoin="round"/>
<rect x="399.68" y="2173.00" width="86.20" height="247.30" fill="none" stroke="#3a3a3a" stroke-width="1.10"/>
<path d="M494.3 2160l1-.1 .9 0 1 .1 .9 .1 1-.2 .9 .2 1 .1 .9-.3 .9 .1 1 0 .9-.2 1 0 .9 .1 1-.1 .9 0 1 .2 .9-.1 .9 .2 1 0 .9 0 1-.2 .9-.1 1 .1 .9-.1 1 .1 .9 .2 .9 0 1-.1 .9-.1 1-.1 .9 0 1 .2 .9 .1 1-.2 .9-.1 .9 .3 1 .1 .9-.1 1-.1 .9 0 1 .2 .9-.2 1 .2 .9 1 .9 1.7 1-3.4 .9-4.1 1-2.6 .9 0 1 1.8 .9 2.1 1 1 .9 .8 .9 .1 1 .2 .9 0 1-.1 .9 .1 1 0 .9 .1 1-.1 .9 .2 .9 .1 1 .2 .9 0 1 .2 .9 .2 1-.1 .9 0 1 .1 .9-.1 .9 .1 1 .1 .9 .1 1 0 .9-.1 1 0 .9-.1 1 .1 .9 .2 .9-.3 1 .1 .9 .1 1 0 .9-.2 1 0 .9 .2 1 .1 .9 0 .9 .2" fill="none" stroke="#1f1f8a" stroke-width="1.25" stroke-linejoin="round"/>
<rect x="493.74" y="2173.00" width="86.20" height="247.30" fill="none" stroke="#3a3a3a" stroke-width="1.10"/>
<path d="M588.4 2146.8l.9 0 1 .1 .9-.1 1 .1 .9-.1 1 .1 .9-.1 1 .2 .9-.2 .9-.1 1 0 .9 0 1-.1 .9-.1 1-.1 .9-.1 1-.1 .9 0 .9 0 1 .2 .9-.2 1 .2 .9-.2 1 0 .9-.1 1 .2 .9-.2 .9 .1 1 0 .9-.2 1-.1 .9 .2 1 0 .9-.2 1 .1 .9 .1 .9-.2 1-.3 .9 .1 1 0 .9 0 1-.4 .9 0 1-.1 .9-.2 .9-1.5 1-5.3 .9-8.3 1 .7 .9 4.1 1 2.7 .9 1.1 1 .7 .9 .4 .9 .4 1 .5 .9 .3 1 .2 .9 0 1 .2 .9 .5 1 .2 .9 .4 .9 .2 1 .1 .9 .2 1 .1 .9 .1 1 .3 .9 .1 1 .1 .9 0 .9 .2 1 0 .9 .3 1 .2 .9 .1 1-.2 .9 0 1 .2 .9 .1 .9 .1 1-.2 .9 0 1 .2 .9-.1 1 .2 .9 .1 1-.1 .9-.1" fill="none" stroke="#1f1f8a" stroke-width="1.25" stroke-linejoin="round"/>
<rect x="587.80" y="2173.00" width="86.20" height="247.30" fill="none" stroke="#3a3a3a" stroke-width="1.10"/>
<path d="M682.5 2156.8l.9 .1 .9-.3 1 .1 .9 0 1 0 .9 0 1 0 .9-.1 1 0 .9-.2 .9-.4 1 .2 .9 0 1 0 .9-.1 1 0 .9-.1 1-.4 .9 0 .9-.2 1 .1 .9-.4 1 0 .9-.2 1-.2 .9 0 1 0 .9-.3 .9-.1 1-.1 .9-.1 1 0 .9-.4 1-.2 .9-.3 1-.1 .9-.1 .9-.2 1-.4 .9-.3 1-.2 .9-.4 1-.3 .9-.5 1-.3 .9-1.3 .9-5.1 1-8.4 .9 1.2 1 3.9 .9 2.7 1 1.6 .9 .9 1 .7 .9 .7 .9 .7 1 .5 .9 .4 1 .4 .9 .2 1 .1 .9 .3 1 .3 .9 .4 .9 .2 1 .1 .9 .3 1 .1 .9 .2 1 .2 .9-.1 1-.1 .9 .2 .9 .2 1 .1 .9 .3 1-.1 .9 0 1 .1 .9 0 1 .2 .9 0 .9 .1 1 .1 .9 0 1-.1 .9-.2 1 .2 .9-.1 1-.1" fill="none" stroke="#1f1f8a" stroke-width="1.25" stroke-linejoin="round"/>
<rect x="681.86" y="2173.00" width="86.20" height="247.30" fill="none" stroke="#3a3a3a" stroke-width="1.10"/>
<path d="M776.5 2148.9l1 0 .9 0 1-.1 .9 0 .9 .2 1 .1 .9 0 1 .2 .9-.1 1 .1 .9-.1 1 .1 .9 0 .9 .1 1 0 .9 .1 1-.1 .9-.2 1 0 .9-.2 1 .3 .9-.1 .9 0 1 .2 .9 0 1 .1 .9-.3 1 .1 .9-.2 1 0 .9 .1 .9 0 1 .1 .9-.1 1 .2 .9-.2 1 .1 .9 0 1 .1 .9 .2 .9-.1 1 .1 .9 .3 1 2.6 .9 5.1 1-5.4 .9-3.2 1-.7 .9-.2 .9 .5 1 1.6 .9 2.1 1-.3 .9-1.7 1-.4 .9 .1 1-.1 .9 0 .9 .1 1-.1 .9-.1 1-.1 .9 .3 1-.2 .9 .2 1 0 .9 0 .9 .2 1 0 .9 0 1 .1 .9-.2 1 0 .9 .1 1-.2 .9 .1 .9 .1 1-.1 .9 0 1-.1 .9-.1 1 .2 .9-.1 1 .1 .9 .1 .9-.1 1 .2 .9-.1 1-.1 .9 .1" fill="none" stroke="#1f1f8a" stroke-width="1.25" stroke-linejoin="round"/>
<rect x="775.92" y="2173.00" width="86.20" height="247.30" fill="none" stroke="#3a3a3a" stroke-width="1.10"/>
<path d="M870.6 2153.4l.9 0 1-.1 .9-.2 1 .3 .9 0 .9 0 1-.2 .9 .1 1 0 .9 .2 1 0 .9 0 1 0 .9 .1 .9 0 1-.2 .9 0 1 .1 .9 .1 1-.1 .9-.1 1 .2 .9-.1 .9 .2 1-.1 .9-.1 1 0 .9 0 1 .1 .9 .1 1-.1 .9 .1 .9 0 1-.1 .9-.1 1 .1 .9-.1 1 .2 .9 .2 1-.1 .9-.2 .9 .3 1 0 .9 1.8 1 2.7 .9-3.9 1-3.1 .9-1 1 .1 .9 1.4 .9 2.2 1 1.2 .9-.9 1-.3 .9 0 1 .1 .9-.2 1 .1 .9-.1 .9 0 1 .2 .9 .2 1-.1 .9 0 1-.2 .9 .1 1 .1 .9-.2 .9 .3 1 0 .9 .2 1 .1 .9-.2 1-.2 .9-.1 1 .2 .9-.1 .9-.1 1 0 .9 .1 1-.2 .9 .3 1 .1 .9 0 1-.2 .9-.1 .9 .2 1-.1 .9 .3 1-.2" fill="none" stroke="#1f1f8a" stroke-width="1.25" stroke-linejoin="round"/>
<rect x="869.98" y="2173.00" width="86.20" height="247.30" fill="none" stroke="#3a3a3a" stroke-width="1.10"/>
<path d="M964.6 2159.1l1 0 .9-.2 1-.1 .9 .1 1 .1 .9 .1 1 .1 .9-.1 .9-.2 1-.1 .9 .2 1 0 .9 0 1 .1 .9 0 1-.2 .9 0 .9 .1 1 .2 .9-.2 1 .1 .9 .1 1-.1 .9-.1 1 .1 .9-.1 .9-.1 1 .1 .9-.3 1 .1 .9 .1 1-.1 .9 .1 1 0 .9-.3 .9 0 1 .2 .9-.3 1 .1 .9 0 1 0 .9 .1 1-.4 .9-.1 .9-.1 1-1 .9-4.3 1-7.1 .9 .2 1 3.4 .9 2.3 1 1.1 .9 .2 .9 .6 1 .2 .9 .5 1 .2 .9 .5 1 .3 .9 .1 1 .1 .9 .4 .9 .2 1 .3 .9-.1 1 .2 .9 0 1 .2 .9 .4 1 0 .9 0 .9 .1 1 .3 .9 .1 1 .2 .9-.1 1 .1 .9 0 1 .1 .9 .1 .9-.1 1 .3 .9 .1 1 .1 .9-.1 1-.2 .9 .2 1 .2 .9 .2 .9 0" fill="none" stroke="#1f1f8a" stroke-width="1.25" stroke-linejoin="round"/>
<rect x="964.04" y="2173.00" width="86.20" height="247.30" fill="none" stroke="#3a3a3a" stroke-width="1.10"/>
<path d="M1058.7 2127.4l.9-.4 1-.1 .9-.1 1-.2 .9-.3 1-.4 .9-.2 1-.3 .9-.3 .9-.4 1-.2 .9-.4 1-.4 .9-.4 1-.3 .9-.4 1-.4 .9-.6 .9-.7 1-.4 .9-.5 1-.8 .9-.8 1-.8 .9-.7 1-.8 .9-.8 .9-1.1 1-.9 .9-1.1 1-1 .9-1.2 1-1.4 .9-1.3 1-1.4 .9-1.6 .9-1.6 1-1.5 .9-1.7 1-1.6 .9-1.7 1-1.7 .9-1.6 1-1.6 .9-1.3 .9-1.3 1-1.3 .9-1.2 1-.7 .9-.6 1-.2 .9-.1 1 .1 .9 .4 .9 .6 1 .7 .9 1 1 1.1 .9 1.3 1 1.4 .9 1.4 1 1.6 .9 1.4 .9 1.4 1 1.4 .9 1.4 1 1.2 .9 1.5 1 1.1 .9 1.2 1 1 .9 1 .9 1.1 1 .8 .9 .8 1 .9 .9 .7 1 .6 .9 .5 1 .4 .9 .6 .9 .4 1 .5 .9 .3 1 .2 .9 .4 1 .2 .9 .3 1 .3 .9 .3" fill="none" stroke="#1f1f8a" stroke-width="1.25" stroke-linejoin="round"/>
<rect x="1058.10" y="2173.00" width="86.20" height="247.30" fill="none" stroke="#3a3a3a" stroke-width="1.10"/>
<path d="M1152.8 2145.4l.9-.1 .9-.1 1-.1 .9-.1 1-.4 .9-.2 1-.1 .9-.3 1-.2 .9-.3 .9-.3 1-.2 .9-.3 1-.2 .9-.4 1-.4 .9-.5 1-.4 .9-.3 .9-.3 1-.6 .9-.4 1-.7 .9-.5 1-.5 .9-.5 1-.8 .9-.8 .9-.8 1-.9 .9-.8 1-.8 .9-1 1-1 .9-1.2 1-1 .9-1.4 .9-1.3 1-1.1 .9-1.4 1-1.3 .9-1.3 1-1.1 .9-1.3 1-1.1 .9-1.2 .9-.9 1-.8 .9-.8 1-.6 .9-.2 1-.1 .9 .2 1 .1 .9 .5 .9 .5 1 .8 .9 .9 1 .8 .9 1.1 1 1.2 .9 1 1 1.2 .9 1.2 .9 1 1 1.2 .9 1.1 1 1.1 .9 1 1 .7 .9 .7 1 1 .9 .8 .9 .6 1 .7 .9 .5 1 .5 .9 .5 1 .3 .9 .6 1 .5 .9 .4 .9 .2 1 .2 .9 .4 1 .2 .9 .2 1 0 .9 .3 1 .1" fill="none" stroke="#1f1f8a" stroke-width="1.25" stroke-linejoin="round"/>
<rect x="1152.16" y="2173.00" width="86.20" height="247.30" fill="none" stroke="#3a3a3a" stroke-width="1.10"/>
<path d="M1246.8 2126l1-.3 .9-.2 1-.2 .9-.1 .9-.3 1-.2 .9-.3 1-.2 .9-.2 1-.4 .9-.3 1-.3 .9-.3 .9-.4 1-.3 .9-.6 1-.4 .9-.5 1-.5 .9-.6 1-.4 .9-.7 .9-.5 1-.6 .9-.9 1-.8 .9-.9 1-.8 .9-.9 1-.9 .9-1.1 .9-1.3 1-1.1 .9-1.3 1-1.3 .9-1.4 1-1.5 .9-1.4 1-1.6 .9-1.6 .9-1.6 1-1.4 .9-1.5 1-1.5 .9-1.4 1-1.2 .9-1 1-.8 .9-.7 .9-.6 1-.2 .9 0 1 .2 .9 .4 1 .5 .9 1 1 1.1 .9 1 .9 1.3 1 1.3 .9 1.2 1 1.5 .9 1.3 1 1.3 .9 1.2 1 1.5 .9 1.2 .9 1.3 1 1.1 .9 1 1 .9 .9 1 1 .9 .9 .7 1 .7 .9 .6 .9 .6 1 .6 .9 .7 1 .4 .9 .4 1 .3 .9 .3 1 .5 .9 .3 .9 .3 1 .2 .9 .3 1 .3 .9 .3" fill="none" stroke="#1f1f8a" stroke-width="1.25" stroke-linejoin="round"/>
<rect x="1246.22" y="2173.00" width="86.20" height="247.30" fill="none" stroke="#3a3a3a" stroke-width="1.10"/>
<path d="M1340.9 2130.5l.9-.2 1-.2 .9-.1 1 0 .9 0 .9-.2 1-.3 .9-.1 1-.1 .9-.3 1-.2 .9-.3 1 0 .9-.1 .9-.3 1-.2 .9-.3 1-.4 .9-.4 1-.4 .9-.3 1-.3 .9-.5 .9-.4 1-.6 .9-.5 1-.6 .9-.6 1-.7 .9-.6 1-.8 .9-.8 .9-.7 1-.7 .9-.8 1-1 .9-1.1 1-.9 .9-1.1 1-1 .9-.9 .9-1.2 1-1.1 .9-.9 1-.8 .9-.8 1-.7 .9-.6 1-.4 .9-.3 .9-.2 1 0 .9 .1 1 .3 .9 .4 1 .8 .9 .6 1 .9 .9 .7 .9 .9 1 .9 .9 .9 1 .9 .9 1 1 .9 .9 .8 1 1.1 .9 1 .9 .8 1 .7 .9 .8 1 .4 .9 .7 1 .6 .9 .5 1 .3 .9 .6 .9 .5 1 .3 .9 .3 1 .4 .9 .3 1 .3 .9 .3 1 .2 .9 .3 .9 .2 1 .1 .9 0 1 .2" fill="none" stroke="#1f1f8a" stroke-width="1.25" stroke-linejoin="round"/>
<rect x="1340.28" y="2173.00" width="86.20" height="247.30" fill="none" stroke="#3a3a3a" stroke-width="1.10"/>
<path d="M1434.9 2131.1l1-.1 .9-.2 1-.2 .9 0 1-.2 .9-.2 1-.1 .9-.4 .9-.2 1-.2 .9-.4 1-.3 .9-.2 1-.4 .9-.4 1-.2 .9-.5 .9-.4 1-.3 .9-.5 1-.6 .9-.6 1-.5 .9-.6 1-.6 .9-.7 .9-.8 1-.7 .9-.8 1-.9 .9-1 1-1 .9-1.1 1-1 .9-1.2 .9-1.2 1-1.2 .9-1.4 1-1.3 .9-1.3 1-1.5 .9-1.5 1-1.4 .9-1.1 .9-1.2 1-1 .9-1 1-.7 .9-.7 1-.3 .9-.2 1-.1 .9 .1 .9 .3 1 .8 .9 .6 1 1 .9 1.1 1 .9 .9 1.3 1 1.1 .9 1.3 .9 1.1 1 1.3 .9 1.3 1 1.1 .9 1.1 1 1.2 .9 1 1 1 .9 .9 .9 1 1 .8 .9 .7 1 .6 .9 .7 1 .6 .9 .4 1 .3 .9 .4 .9 .5 1 .5 .9 .3 1 .3 .9 .2 1 .3 .9 .1 1 .2 .9 .2 .9 .2" fill="none" stroke="#1f1f8a" stroke-width="1.25" stroke-linejoin="round"/>
<rect x="1434.34" y="2173.00" width="86.20" height="247.30" fill="none" stroke="#3a3a3a" stroke-width="1.10"/>
<path d="M1529 2130.5l.9-.2 1-.1 .9-.3 1-.1 .9-.1 1-.1 .9-.2 1-.2 .9-.2 .9-.3 1-.2 .9-.1 1-.3 .9-.3 1-.3 .9-.3 1-.2 .9-.4 .9-.3 1-.3 .9-.5 1-.4 .9-.5 1-.5 .9-.4 1-.7 .9-.6 .9-.5 1-.7 .9-.6 1-.8 .9-.7 1-.9 .9-.9 1-1.1 .9-.9 .9-.8 1-1 .9-.9 1-1.3 .9-1.1 1-.9 .9-1.2 1-1 .9-.9 .9-.7 1-.9 .9-.6 1-.5 .9-.3 1-.3 .9 0 1 .3 .9 .4 .9 .3 1 .6 .9 .7 1 .7 .9 .9 1 1 .9 .9 1 .9 .9 .9 .9 .9 1 1 .9 .8 1 .8 .9 .9 1 .7 .9 .6 1 .6 .9 .7 .9 .7 1 .5 .9 .4 1 .5 .9 .4 1 .5 .9 .3 1 .5 .9 .2 .9 .2 1 .2 .9 .3 1 .3 .9 .2 1 .2 .9-.1 1 .1 .9 .3" fill="none" stroke="#1f1f8a" stroke-width="1.25" stroke-linejoin="round"/>
<rect x="1528.40" y="2173.00" width="86.20" height="247.30" fill="none" stroke="#3a3a3a" stroke-width="1.10"/>
<path d="M1623.1 2131.6l.9-.2 .9 0 1-.3 .9-.2 1 0 .9-.1 1-.2 .9-.3 1-.3 .9-.1 .9-.3 1-.4 .9-.3 1-.3 .9-.3 1-.2 .9-.2 1-.5 .9-.4 .9-.4 1-.4 .9-.4 1-.6 .9-.6 1-.7 .9-.7 1-.7 .9-.8 .9-.8 1-.8 .9-.9 1-.8 .9-1 1-1 .9-1.1 1-1 .9-1.2 .9-1.2 1-1.2 .9-1.2 1-1.2 .9-1.4 1-1.2 .9-1.2 1-1 .9-1.1 .9-.8 1-.7 .9-.6 1-.5 .9-.1 1-.1 .9 .2 1 .5 .9 .4 .9 .7 1 1 .9 1 1 1 .9 .9 1 1.1 .9 1.2 1 1 .9 1.1 .9 1.2 1 .9 .9 1.1 1 .9 .9 .9 1 .9 .9 .9 1 .6 .9 .8 .9 .6 1 .7 .9 .3 1 .7 .9 .4 1 .4 .9 .4 1 .4 .9 .5 .9 .1 1 .2 .9 .4 1 .2 .9 .1 1 .1 .9 .2 1 .2" fill="none" stroke="#1f1f8a" stroke-width="1.25" stroke-linejoin="round"/>
<rect x="1622.46" y="2173.00" width="86.20" height="247.30" fill="none" stroke="#3a3a3a" stroke-width="1.10"/>
<path d="M1717.1 2126.7l1-.1 .9-.1 1-.2 .9-.3 .9-.2 1-.1 .9-.3 1-.2 .9-.3 1-.3 .9-.3 1-.4 .9-.1 .9-.3 1-.4 .9-.2 1-.3 .9-.3 1-.5 .9-.5 1-.7 .9-.6 .9-.4 1-.6 .9-.8 1-.6 .9-.8 1-.7 .9-.8 1-1 .9-1 .9-1 1-1 .9-1 1-1.1 .9-1.3 1-1.3 .9-1.3 1-1.4 .9-1.2 .9-1.3 1-1.3 .9-1.5 1-1.1 .9-1.1 1-1.1 .9-1.1 1-.7 .9-.6 .9-.3 1-.3 .9 .1 1 .2 .9 .4 1 .4 .9 .7 1 .8 .9 .9 .9 1.3 1 1 .9 1.4 1 1.1 .9 1.2 1 1.4 .9 1.2 1 1.2 .9 .9 .9 1.1 1 .9 .9 1 1 .8 .9 .9 1 .9 .9 .7 1 .4 .9 .5 .9 .6 1 .5 .9 .6 1 .3 .9 .6 1 .3 .9 .4 1 .4 .9 .2 .9 .3 1 .2 .9 .2 1 .2 .9 .1" fill="none" stroke="#1f1f8a" stroke-width="1.25" stroke-linejoin="round"/>
<rect x="1716.52" y="2173.00" width="86.20" height="247.30" fill="none" stroke="#3a3a3a" stroke-width="1.10"/>
<path d="M1811.2 2140l.9-.2 1 0 .9-.3 1-.3 .9-.1 .9-.2 1-.3 .9-.2 1-.2 .9-.4 1-.3 .9-.2 1-.4 .9-.3 .9-.4 1-.4 .9-.4 1-.5 .9-.4 1-.5 .9-.7 1-.6 .9-.5 .9-.7 1-.8 .9-.6 1-.7 .9-1.1 1-.8 .9-1.1 1-.9 .9-1 .9-1.1 1-1.4 .9-1.4 1-1.3 .9-1.3 1-1.5 .9-1.5 1-1.5 .9-1.5 .9-1.3 1-1.4 .9-1.5 1-1.3 .9-1.1 1-1.2 .9-.8 1-.7 .9-.3 .9-.4 1 .1 .9 .2 1 .4 .9 .6 1 .8 .9 1 1 1.1 .9 1.1 .9 1.3 1 1.3 .9 1.4 1 1.2 .9 1.2 1 1.3 .9 1.3 1 1.2 .9 1.2 .9 1 1 1.1 .9 .8 1 1 .9 .7 1 .6 .9 .7 1 .8 .9 .7 .9 .5 1 .4 .9 .5 1 .6 .9 .4 1 .4 .9 .3 1 .3 .9 .3 .9 .1 1 .2 .9 .2 1 .1" fill="none" stroke="#1f1f8a" stroke-width="1.25" stroke-linejoin="round"/>
<rect x="1810.58" y="2173.00" width="86.20" height="247.30" fill="none" stroke="#3a3a3a" stroke-width="1.10"/>
<rect x="1905.6" y="1464.10" width="7.4" height="247.20" fill="url(#cbD)" stroke="#555" stroke-width="0.9"/>
<text transform="translate(1916.00,1499.11) scale(1.034,1)" font-size="29.01">3</text>
<text transform="translate(1915.65,1582.70) scale(1.023,1)" font-size="30.29">2</text>
<text transform="translate(1918.12,1653.80)" font-size="29.71">1</text>
<text transform="translate(1916.01,1716.40) scale(0.994,1)" font-size="29.86">0</text>
<rect x="1905.6" y="1817.80" width="7.4" height="248.10" fill="url(#cbD)" stroke="#555" stroke-width="0.9"/>
<text transform="translate(1916.00,1850.90)" font-size="29.86">3</text>
<text transform="translate(1915.65,1924.90) scale(1.023,1)" font-size="30.29">2</text>
<text transform="translate(1918.12,1997.30)" font-size="29.71">1</text>
<text transform="translate(1916.01,2071.40) scale(0.994,1)" font-size="29.86">0</text>
<rect x="1905.6" y="2172.80" width="7.4" height="248.10" fill="url(#cbD)" stroke="#555" stroke-width="0.9"/>
<text transform="translate(1920.07,2195.30) scale(0.950,1)" font-size="30.72">4</text>
<text transform="translate(1920.10,2253.90)" font-size="29.86">3</text>
<text transform="translate(1919.75,2310.60) scale(1.028,1)" font-size="30.14">2</text>
<text transform="translate(1921.88,2367.00)" font-size="30.58">1</text>
<text transform="translate(1919.57,2425.69)" font-size="30.70">0</text>
<text transform="translate(94.41,1394.50) scale(1.042,1)" font-size="30.57">2</text>
<text transform="translate(98.62,1426.70)" font-size="31.45">1</text>
<text transform="translate(96.70,1461.69) scale(0.963,1)" font-size="31.27">0</text>
<text transform="translate(96.33,1746.70) scale(1.014,1)" font-size="31.00">2</text>
<text transform="translate(100.57,1779.70)" font-size="31.45">1</text>
<text transform="translate(98.69,1810.39) scale(0.992,1)" font-size="30.56">0</text>
<text transform="translate(97.43,2101.75) scale(1.250,1)" font-size="25.35">3</text>
<text transform="translate(97.06,2130.00) scale(1.206,1)" font-size="27.14">2</text>
<text transform="translate(101.12,2152.50)" font-size="25.36">1</text>
<text transform="translate(97.45,2176.75) scale(1.237,1)" font-size="25.35">0</text>
<text transform="translate(105.50,1673.00) rotate(-90) scale(1.280,1)" font-size="30.28">KDM5C</text>
<text transform="translate(105.49,1998.95) rotate(-90)" font-size="30.71">KDM5D</text>
<text transform="translate(108.29,2413.72) rotate(-90) scale(0.968,1)" font-size="31.27">KDM5C+KDM5D</text>
<text transform="translate(37.18,1400.17) scale(1.093,1)" font-size="53.06" font-weight="bold">d</text>
<text transform="translate(36.75,1757.51) scale(1.146,1)" font-size="49.09" font-weight="bold">e</text>
<text transform="translate(38.11,2116.00) scale(1.148,1)" font-size="51.72" font-weight="bold">f</text>
<rect x="277.00" y="2491.80" width="26.00" height="25.70" fill="#969696"/>
<text transform="translate(310.07,2515.62) scale(1.021,1)" font-size="30.37">sgCtrl</text>
<rect x="439.00" y="2462.00" width="25.50" height="25.30" fill="#3182bd"/>
<text x="472.30" y="2485.30" font-size="30.6">sgKDM5C #4</text>
<rect x="439.00" y="2522.40" width="25.50" height="25.30" fill="#6baed6"/>
<text x="472.30" y="2545.70" font-size="30.6">sgKDM5C #5</text>
<rect x="684.60" y="2462.00" width="25.50" height="25.30" fill="#fb6a4a"/>
<text x="717.90" y="2485.30" font-size="30.6">sgKDM5D #2</text>
<rect x="684.60" y="2522.40" width="25.50" height="25.30" fill="#fcae91"/>
<text x="717.90" y="2545.70" font-size="30.6">sgKDM5D #4</text>
<rect x="930.30" y="2462.00" width="25.50" height="25.30" fill="#005a32"/>
<text x="963.60" y="2485.30" font-size="30.6">sgKDM5C #4 / sgKDM5D #2</text>
<rect x="930.30" y="2522.40" width="25.50" height="25.30" fill="#238b45"/>
<text x="963.60" y="2545.70" font-size="30.6">sgKDM5C #4 / sgKDM5D #4</text>
<rect x="1383.40" y="2462.00" width="25.50" height="25.30" fill="#74c476"/>
<text x="1416.70" y="2485.30" font-size="30.6">sgKDM5C #5 / sgKDM5D #2</text>
<rect x="1383.40" y="2522.40" width="25.50" height="25.30" fill="#a1d99b"/>
<text x="1416.70" y="2545.70" font-size="30.6">sgKDM5C #5 / sgKDM5D #4</text>
<path d="M106.5 301.5H113M106.5 234.1H113M106.5 166.8H113M113 365.7V373.2M254.8 365.7V373.2M396.6 365.7V373.2M401.1 301.5H407.6M401.1 234.1H407.6M401.1 166.8H407.6M407.6 365.7V373.2M549.4 365.7V373.2M691.2 365.7V373.2M693.5 301.5H700M693.5 234.1H700M693.5 166.8H700M700 365.7V373.2M841.8 365.7V373.2M983.6 365.7V373.2M113 1140.6V1148.6M254.8 1140.6V1148.6M396.6 1140.6V1148.6M407.6 1140.6V1148.6M549.4 1140.6V1148.6M691.2 1140.6V1148.6M700 1140.6V1148.6M841.8 1140.6V1148.6M983.6 1140.6V1148.6M1017.5 1142H1024.5M1017.5 1050.2H1024.5M1017.5 958.4H1024.5M1017.5 866.6H1024.5M1017.5 774.8H1024.5M1017.5 683H1024.5M1017.5 591.2H1024.5M1017.5 499.4H1024.5M1017.5 407.6H1024.5M1393.2 247.6V257.4M1532.1 247.6V257.4M1671 247.6V257.4M1809.8 247.6V257.4M1948.7 247.6V257.4M1393.2 1183.4V1194M1532.1 1183.4V1194M1671 1183.4V1194M1809.8 1183.4V1194M1948.7 1183.4V1194" stroke="#000" stroke-width="1.6" fill="none"/>
<path d="M129.5 133.1H167.4" stroke="#3d87c3" stroke-width="3.2" fill="none"/>
<path d="M129.5 158.7H167.4" stroke="#fb6b4b" stroke-width="3.2" fill="none"/>
<path d="M129.5 184.2H167.4" stroke="#11603a" stroke-width="3.0" fill="none"/>
<path d="M114 996.3H395.6M114 1072.2H395.6M408.6 996.3H690.2M408.6 1072.2H690.2M701 996.3H982.6M701 1072.2H982.6" stroke="#fff" stroke-width="2.4" fill="none"/>
<path d="M1144.7 373.7V558.4M1144.7 580.6V765.3M1144.7 787.5V972.2M1144.7 994.3V1179" stroke="#000" stroke-width="2.2" fill="none"/>
<path d="M117.5 1373.3H203.7M211.6 1373.3H297.8M305.6 1373.3H391.8M399.7 1373.3H485.9M493.7 1373.3H579.9M587.8 1373.3H674M681.9 1373.3H768.1M775.9 1373.3H862.1M870 1373.3H956.2M964 1373.3H1050.2M1058.1 1373.3H1144.3M1152.2 1373.3H1238.4M1246.2 1373.3H1332.4M1340.3 1373.3H1426.5M1434.3 1373.3H1520.5M1528.4 1373.3H1614.6M1622.5 1373.3H1708.7M1716.5 1373.3H1802.7M1810.6 1373.3H1896.8M117.5 1728.3H203.7M211.6 1728.3H297.8M305.6 1728.3H391.8M399.7 1728.3H485.9M493.7 1728.3H579.9M587.8 1728.3H674M681.9 1728.3H768.1M775.9 1728.3H862.1M870 1728.3H956.2M964 1728.3H1050.2M1058.1 1728.3H1144.3M1152.2 1728.3H1238.4M1246.2 1728.3H1332.4M1340.3 1728.3H1426.5M1434.3 1728.3H1520.5M1528.4 1728.3H1614.6M1622.5 1728.3H1708.7M1716.5 1728.3H1802.7M1810.6 1728.3H1896.8M117.5 2082.5H203.7M211.6 2082.5H297.8M305.6 2082.5H391.8M399.7 2082.5H485.9M493.7 2082.5H579.9M587.8 2082.5H674M681.9 2082.5H768.1M775.9 2082.5H862.1M870 2082.5H956.2M964 2082.5H1050.2M1058.1 2082.5H1144.3M1152.2 2082.5H1238.4M1246.2 2082.5H1332.4M1340.3 2082.5H1426.5M1434.3 2082.5H1520.5M1528.4 2082.5H1614.6M1622.5 2082.5H1708.7M1716.5 2082.5H1802.7M1810.6 2082.5H1896.8" stroke="#333" stroke-width="1.3" fill="none"/>
<path d="M117.5 1373.3V1458.7M211.6 1373.3V1458.7M305.6 1373.3V1458.7M399.7 1373.3V1458.7M493.7 1373.3V1458.7M587.8 1373.3V1458.7M681.9 1373.3V1458.7M775.9 1373.3V1458.7M870 1373.3V1458.7M964 1373.3V1458.7M1058.1 1373.3V1458.7M1152.2 1373.3V1458.7M1246.2 1373.3V1458.7M1340.3 1373.3V1458.7M1434.3 1373.3V1458.7M1528.4 1373.3V1458.7M1622.5 1373.3V1458.7M1716.5 1373.3V1458.7M1810.6 1373.3V1458.7M117.5 1728.3V1813.6M211.6 1728.3V1813.6M305.6 1728.3V1813.6M399.7 1728.3V1813.6M493.7 1728.3V1813.6M587.8 1728.3V1813.6M681.9 1728.3V1813.6M775.9 1728.3V1813.6M870 1728.3V1813.6M964 1728.3V1813.6M1058.1 1728.3V1813.6M1152.2 1728.3V1813.6M1246.2 1728.3V1813.6M1340.3 1728.3V1813.6M1434.3 1728.3V1813.6M1528.4 1728.3V1813.6M1622.5 1728.3V1813.6M1716.5 1728.3V1813.6M1810.6 1728.3V1813.6M117.5 2082.5V2167.8M211.6 2082.5V2167.8M305.6 2082.5V2167.8M399.7 2082.5V2167.8M493.7 2082.5V2167.8M587.8 2082.5V2167.8M681.9 2082.5V2167.8M775.9 2082.5V2167.8M870 2082.5V2167.8M964 2082.5V2167.8M1058.1 2082.5V2167.8M1152.2 2082.5V2167.8M1246.2 2082.5V2167.8M1340.3 2082.5V2167.8M1434.3 2082.5V2167.8M1528.4 2082.5V2167.8M1622.5 2082.5V2167.8M1716.5 2082.5V2167.8M1810.6 2082.5V2167.8" stroke="#444" stroke-width="1.2" fill="none"/>
<path d="M203.7 1373.3V1458.7M297.8 1373.3V1458.7M391.8 1373.3V1458.7M485.9 1373.3V1458.7M579.9 1373.3V1458.7M674 1373.3V1458.7M768.1 1373.3V1458.7M862.1 1373.3V1458.7M956.2 1373.3V1458.7M1050.2 1373.3V1458.7M1144.3 1373.3V1458.7M1238.4 1373.3V1458.7M1332.4 1373.3V1458.7M1426.5 1373.3V1458.7M1520.5 1373.3V1458.7M1614.6 1373.3V1458.7M1708.7 1373.3V1458.7M1802.7 1373.3V1458.7M1896.8 1373.3V1458.7M203.7 1728.3V1813.6M297.8 1728.3V1813.6M391.8 1728.3V1813.6M485.9 1728.3V1813.6M579.9 1728.3V1813.6M674 1728.3V1813.6M768.1 1728.3V1813.6M862.1 1728.3V1813.6M956.2 1728.3V1813.6M1050.2 1728.3V1813.6M1144.3 1728.3V1813.6M1238.4 1728.3V1813.6M1332.4 1728.3V1813.6M1426.5 1728.3V1813.6M1520.5 1728.3V1813.6M1614.6 1728.3V1813.6M1708.7 1728.3V1813.6M1802.7 1728.3V1813.6M1896.8 1728.3V1813.6M203.7 2082.5V2167.8M297.8 2082.5V2167.8M391.8 2082.5V2167.8M485.9 2082.5V2167.8M579.9 2082.5V2167.8M674 2082.5V2167.8M768.1 2082.5V2167.8M862.1 2082.5V2167.8M956.2 2082.5V2167.8M1050.2 2082.5V2167.8M1144.3 2082.5V2167.8M1238.4 2082.5V2167.8M1332.4 2082.5V2167.8M1426.5 2082.5V2167.8M1520.5 2082.5V2167.8M1614.6 2082.5V2167.8M1708.7 2082.5V2167.8M1802.7 2082.5V2167.8M1896.8 2082.5V2167.8" stroke="#666" stroke-width="1.1" fill="none"/>
<path d="M117.5 1455.4H203.7M211.6 1455.4H297.8M305.6 1455.4H391.8M399.7 1455.4H485.9M493.7 1455.4H579.9M587.8 1455.4H674M681.9 1455.4H768.1M775.9 1455.4H862.1M870 1455.4H956.2M964 1455.4H1050.2M1058.1 1455.4H1144.3M1152.2 1455.4H1238.4M1246.2 1455.4H1332.4M1340.3 1455.4H1426.5M1434.3 1455.4H1520.5M1528.4 1455.4H1614.6M1622.5 1455.4H1708.7M1716.5 1455.4H1802.7M1810.6 1455.4H1896.8M117.5 1810.3H203.7M211.6 1810.3H297.8M305.6 1810.3H391.8M399.7 1810.3H485.9M493.7 1810.3H579.9M587.8 1810.3H674M681.9 1810.3H768.1M775.9 1810.3H862.1M870 1810.3H956.2M964 1810.3H1050.2M1058.1 1810.3H1144.3M1152.2 1810.3H1238.4M1246.2 1810.3H1332.4M1340.3 1810.3H1426.5M1434.3 1810.3H1520.5M1528.4 1810.3H1614.6M1622.5 1810.3H1708.7M1716.5 1810.3H1802.7M1810.6 1810.3H1896.8M117.5 2164.5H203.7M211.6 2164.5H297.8M305.6 2164.5H391.8M399.7 2164.5H485.9M493.7 2164.5H579.9M587.8 2164.5H674M681.9 2164.5H768.1M775.9 2164.5H862.1M870 2164.5H956.2M964 2164.5H1050.2M1058.1 2164.5H1144.3M1152.2 2164.5H1238.4M1246.2 2164.5H1332.4M1340.3 2164.5H1426.5M1434.3 2164.5H1520.5M1528.4 2164.5H1614.6M1622.5 2164.5H1708.7M1716.5 2164.5H1802.7M1810.6 2164.5H1896.8" stroke="#9a9a9a" stroke-width="1.1" fill="none"/>
<path d="M160.6 1455.4V1458.7M254.7 1455.4V1458.7M348.7 1455.4V1458.7M442.8 1455.4V1458.7M536.8 1455.4V1458.7M630.9 1455.4V1458.7M725 1455.4V1458.7M819 1455.4V1458.7M913.1 1455.4V1458.7M1007.1 1455.4V1458.7M1101.2 1455.4V1458.7M1195.3 1455.4V1458.7M1289.3 1455.4V1458.7M1383.4 1455.4V1458.7M1477.4 1455.4V1458.7M1571.5 1455.4V1458.7M1665.6 1455.4V1458.7M1759.6 1455.4V1458.7M1853.7 1455.4V1458.7M160.6 1810.3V1813.6M254.7 1810.3V1813.6M348.7 1810.3V1813.6M442.8 1810.3V1813.6M536.8 1810.3V1813.6M630.9 1810.3V1813.6M725 1810.3V1813.6M819 1810.3V1813.6M913.1 1810.3V1813.6M1007.1 1810.3V1813.6M1101.2 1810.3V1813.6M1195.3 1810.3V1813.6M1289.3 1810.3V1813.6M1383.4 1810.3V1813.6M1477.4 1810.3V1813.6M1571.5 1810.3V1813.6M1665.6 1810.3V1813.6M1759.6 1810.3V1813.6M1853.7 1810.3V1813.6M160.6 2164.5V2167.8M254.7 2164.5V2167.8M348.7 2164.5V2167.8M442.8 2164.5V2167.8M536.8 2164.5V2167.8M630.9 2164.5V2167.8M725 2164.5V2167.8M819 2164.5V2167.8M913.1 2164.5V2167.8M1007.1 2164.5V2167.8M1101.2 2164.5V2167.8M1195.3 2164.5V2167.8M1289.3 2164.5V2167.8M1383.4 2164.5V2167.8M1477.4 2164.5V2167.8M1571.5 2164.5V2167.8M1665.6 2164.5V2167.8M1759.6 2164.5V2167.8M1853.7 2164.5V2167.8" stroke="#444" stroke-width="1.1" fill="none"/>
<path d="M115.3 1383.3H117.5M115.3 1397.3H117.5M115.3 1409.5H117.5M115.3 1422.5H117.5M115.3 1435.5H117.5M115.3 1448.3H117.5M160.6 1711V1714M117.5 1711V1714M203.7 1711V1714M209.4 1383.3H211.6M209.4 1397.3H211.6M209.4 1409.5H211.6M209.4 1422.5H211.6M209.4 1435.5H211.6M209.4 1448.3H211.6M254.7 1711V1714M211.6 1711V1714M297.8 1711V1714M303.4 1383.3H305.6M303.4 1397.3H305.6M303.4 1409.5H305.6M303.4 1422.5H305.6M303.4 1435.5H305.6M303.4 1448.3H305.6M348.7 1711V1714M305.6 1711V1714M391.8 1711V1714M397.5 1383.3H399.7M397.5 1397.3H399.7M397.5 1409.5H399.7M397.5 1422.5H399.7M397.5 1435.5H399.7M397.5 1448.3H399.7M442.8 1711V1714M399.7 1711V1714M485.9 1711V1714M491.5 1383.3H493.7M491.5 1397.3H493.7M491.5 1409.5H493.7M491.5 1422.5H493.7M491.5 1435.5H493.7M491.5 1448.3H493.7M536.8 1711V1714M493.7 1711V1714M579.9 1711V1714M585.6 1383.3H587.8M585.6 1397.3H587.8M585.6 1409.5H587.8M585.6 1422.5H587.8M585.6 1435.5H587.8M585.6 1448.3H587.8M630.9 1711V1714M587.8 1711V1714M674 1711V1714M679.7 1383.3H681.9M679.7 1397.3H681.9M679.7 1409.5H681.9M679.7 1422.5H681.9M679.7 1435.5H681.9M679.7 1448.3H681.9M725 1711V1714M681.9 1711V1714M768.1 1711V1714M773.7 1383.3H775.9M773.7 1397.3H775.9M773.7 1409.5H775.9M773.7 1422.5H775.9M773.7 1435.5H775.9M773.7 1448.3H775.9M819 1711V1714M775.9 1711V1714M862.1 1711V1714M867.8 1383.3H870M867.8 1397.3H870M867.8 1409.5H870M867.8 1422.5H870M867.8 1435.5H870M867.8 1448.3H870M913.1 1711V1714M870 1711V1714M956.2 1711V1714M961.8 1383.3H964M961.8 1397.3H964M961.8 1409.5H964M961.8 1422.5H964M961.8 1435.5H964M961.8 1448.3H964M1007.1 1711V1714M964 1711V1714M1050.2 1711V1714M1055.9 1383.3H1058.1M1055.9 1397.3H1058.1M1055.9 1409.5H1058.1M1055.9 1422.5H1058.1M1055.9 1435.5H1058.1M1055.9 1448.3H1058.1M1101.2 1711V1714M1058.1 1711V1714M1144.3 1711V1714M1150 1383.3H1152.2M1150 1397.3H1152.2M1150 1409.5H1152.2M1150 1422.5H1152.2M1150 1435.5H1152.2M1150 1448.3H1152.2M1195.3 1711V1714M1152.2 1711V1714M1238.4 1711V1714M1244 1383.3H1246.2M1244 1397.3H1246.2M1244 1409.5H1246.2M1244 1422.5H1246.2M1244 1435.5H1246.2M1244 1448.3H1246.2M1289.3 1711V1714M1246.2 1711V1714M1332.4 1711V1714M1338.1 1383.3H1340.3M1338.1 1397.3H1340.3M1338.1 1409.5H1340.3M1338.1 1422.5H1340.3M1338.1 1435.5H1340.3M1338.1 1448.3H1340.3M1383.4 1711V1714M1340.3 1711V1714M1426.5 1711V1714M1432.1 1383.3H1434.3M1432.1 1397.3H1434.3M1432.1 1409.5H1434.3M1432.1 1422.5H1434.3M1432.1 1435.5H1434.3M1432.1 1448.3H1434.3M1477.4 1711V1714M1434.3 1711V1714M1520.5 1711V1714M1526.2 1383.3H1528.4M1526.2 1397.3H1528.4M1526.2 1409.5H1528.4M1526.2 1422.5H1528.4M1526.2 1435.5H1528.4M1526.2 1448.3H1528.4M1571.5 1711V1714M1528.4 1711V1714M1614.6 1711V1714M1620.3 1383.3H1622.5M1620.3 1397.3H1622.5M1620.3 1409.5H1622.5M1620.3 1422.5H1622.5M1620.3 1435.5H1622.5M1620.3 1448.3H1622.5M1665.6 1711V1714M1622.5 1711V1714M1708.7 1711V1714M1714.3 1383.3H1716.5M1714.3 1397.3H1716.5M1714.3 1409.5H1716.5M1714.3 1422.5H1716.5M1714.3 1435.5H1716.5M1714.3 1448.3H1716.5M1759.6 1711V1714M1716.5 1711V1714M1802.7 1711V1714M1808.4 1383.3H1810.6M1808.4 1397.3H1810.6M1808.4 1409.5H1810.6M1808.4 1422.5H1810.6M1808.4 1435.5H1810.6M1808.4 1448.3H1810.6M1853.7 1711V1714M1810.6 1711V1714M1896.8 1711V1714M115.3 1740.4H117.5M115.3 1754.8H117.5M115.3 1769.4H117.5M115.3 1783.5H117.5M115.3 1798.4H117.5M160.6 2065.8V2068.8M117.5 2065.8V2068.8M203.7 2065.8V2068.8M209.4 1740.4H211.6M209.4 1754.8H211.6M209.4 1769.4H211.6M209.4 1783.5H211.6M209.4 1798.4H211.6M254.7 2065.8V2068.8M211.6 2065.8V2068.8M297.8 2065.8V2068.8M303.4 1740.4H305.6M303.4 1754.8H305.6M303.4 1769.4H305.6M303.4 1783.5H305.6M303.4 1798.4H305.6M348.7 2065.8V2068.8M305.6 2065.8V2068.8M391.8 2065.8V2068.8M397.5 1740.4H399.7M397.5 1754.8H399.7M397.5 1769.4H399.7M397.5 1783.5H399.7M397.5 1798.4H399.7M442.8 2065.8V2068.8M399.7 2065.8V2068.8M485.9 2065.8V2068.8M491.5 1740.4H493.7M491.5 1754.8H493.7M491.5 1769.4H493.7M491.5 1783.5H493.7M491.5 1798.4H493.7M536.8 2065.8V2068.8M493.7 2065.8V2068.8M579.9 2065.8V2068.8M585.6 1740.4H587.8M585.6 1754.8H587.8M585.6 1769.4H587.8M585.6 1783.5H587.8M585.6 1798.4H587.8M630.9 2065.8V2068.8M587.8 2065.8V2068.8M674 2065.8V2068.8M679.7 1740.4H681.9M679.7 1754.8H681.9M679.7 1769.4H681.9M679.7 1783.5H681.9M679.7 1798.4H681.9M725 2065.8V2068.8M681.9 2065.8V2068.8M768.1 2065.8V2068.8M773.7 1740.4H775.9M773.7 1754.8H775.9M773.7 1769.4H775.9M773.7 1783.5H775.9M773.7 1798.4H775.9M819 2065.8V2068.8M775.9 2065.8V2068.8M862.1 2065.8V2068.8M867.8 1740.4H870M867.8 1754.8H870M867.8 1769.4H870M867.8 1783.5H870M867.8 1798.4H870M913.1 2065.8V2068.8M870 2065.8V2068.8M956.2 2065.8V2068.8M961.8 1740.4H964M961.8 1754.8H964M961.8 1769.4H964M961.8 1783.5H964M961.8 1798.4H964M1007.1 2065.8V2068.8M964 2065.8V2068.8M1050.2 2065.8V2068.8M1055.9 1740.4H1058.1M1055.9 1754.8H1058.1M1055.9 1769.4H1058.1M1055.9 1783.5H1058.1M1055.9 1798.4H1058.1M1101.2 2065.8V2068.8M1058.1 2065.8V2068.8M1144.3 2065.8V2068.8M1150 1740.4H1152.2M1150 1754.8H1152.2M1150 1769.4H1152.2M1150 1783.5H1152.2M1150 1798.4H1152.2M1195.3 2065.8V2068.8M1152.2 2065.8V2068.8M1238.4 2065.8V2068.8M1244 1740.4H1246.2M1244 1754.8H1246.2M1244 1769.4H1246.2M1244 1783.5H1246.2M1244 1798.4H1246.2M1289.3 2065.8V2068.8M1246.2 2065.8V2068.8M1332.4 2065.8V2068.8M1338.1 1740.4H1340.3M1338.1 1754.8H1340.3M1338.1 1769.4H1340.3M1338.1 1783.5H1340.3M1338.1 1798.4H1340.3M1383.4 2065.8V2068.8M1340.3 2065.8V2068.8M1426.5 2065.8V2068.8M1432.1 1740.4H1434.3M1432.1 1754.8H1434.3M1432.1 1769.4H1434.3M1432.1 1783.5H1434.3M1432.1 1798.4H1434.3M1477.4 2065.8V2068.8M1434.3 2065.8V2068.8M1520.5 2065.8V2068.8M1526.2 1740.4H1528.4M1526.2 1754.8H1528.4M1526.2 1769.4H1528.4M1526.2 1783.5H1528.4M1526.2 1798.4H1528.4M1571.5 2065.8V2068.8M1528.4 2065.8V2068.8M1614.6 2065.8V2068.8M1620.3 1740.4H1622.5M1620.3 1754.8H1622.5M1620.3 1769.4H1622.5M1620.3 1783.5H1622.5M1620.3 1798.4H1622.5M1665.6 2065.8V2068.8M1622.5 2065.8V2068.8M1708.7 2065.8V2068.8M1714.3 1740.4H1716.5M1714.3 1754.8H1716.5M1714.3 1769.4H1716.5M1714.3 1783.5H1716.5M1714.3 1798.4H1716.5M1759.6 2065.8V2068.8M1716.5 2065.8V2068.8M1802.7 2065.8V2068.8M1808.4 1740.4H1810.6M1808.4 1754.8H1810.6M1808.4 1769.4H1810.6M1808.4 1783.5H1810.6M1808.4 1798.4H1810.6M1853.7 2065.8V2068.8M1810.6 2065.8V2068.8M1896.8 2065.8V2068.8M115.3 2097.3H117.5M115.3 2117H117.5M115.3 2136.9H117.5M115.3 2156.1H117.5M160.6 2420.3V2423.3M117.5 2420.3V2423.3M203.7 2420.3V2423.3M209.4 2097.3H211.6M209.4 2117H211.6M209.4 2136.9H211.6M209.4 2156.1H211.6M254.7 2420.3V2423.3M211.6 2420.3V2423.3M297.8 2420.3V2423.3M303.4 2097.3H305.6M303.4 2117H305.6M303.4 2136.9H305.6M303.4 2156.1H305.6M348.7 2420.3V2423.3M305.6 2420.3V2423.3M391.8 2420.3V2423.3M397.5 2097.3H399.7M397.5 2117H399.7M397.5 2136.9H399.7M397.5 2156.1H399.7M442.8 2420.3V2423.3M399.7 2420.3V2423.3M485.9 2420.3V2423.3M491.5 2097.3H493.7M491.5 2117H493.7M491.5 2136.9H493.7M491.5 2156.1H493.7M536.8 2420.3V2423.3M493.7 2420.3V2423.3M579.9 2420.3V2423.3M585.6 2097.3H587.8M585.6 2117H587.8M585.6 2136.9H587.8M585.6 2156.1H587.8M630.9 2420.3V2423.3M587.8 2420.3V2423.3M674 2420.3V2423.3M679.7 2097.3H681.9M679.7 2117H681.9M679.7 2136.9H681.9M679.7 2156.1H681.9M725 2420.3V2423.3M681.9 2420.3V2423.3M768.1 2420.3V2423.3M773.7 2097.3H775.9M773.7 2117H775.9M773.7 2136.9H775.9M773.7 2156.1H775.9M819 2420.3V2423.3M775.9 2420.3V2423.3M862.1 2420.3V2423.3M867.8 2097.3H870M867.8 2117H870M867.8 2136.9H870M867.8 2156.1H870M913.1 2420.3V2423.3M870 2420.3V2423.3M956.2 2420.3V2423.3M961.8 2097.3H964M961.8 2117H964M961.8 2136.9H964M961.8 2156.1H964M1007.1 2420.3V2423.3M964 2420.3V2423.3M1050.2 2420.3V2423.3M1055.9 2097.3H1058.1M1055.9 2117H1058.1M1055.9 2136.9H1058.1M1055.9 2156.1H1058.1M1101.2 2420.3V2423.3M1058.1 2420.3V2423.3M1144.3 2420.3V2423.3M1150 2097.3H1152.2M1150 2117H1152.2M1150 2136.9H1152.2M1150 2156.1H1152.2M1195.3 2420.3V2423.3M1152.2 2420.3V2423.3M1238.4 2420.3V2423.3M1244 2097.3H1246.2M1244 2117H1246.2M1244 2136.9H1246.2M1244 2156.1H1246.2M1289.3 2420.3V2423.3M1246.2 2420.3V2423.3M1332.4 2420.3V2423.3M1338.1 2097.3H1340.3M1338.1 2117H1340.3M1338.1 2136.9H1340.3M1338.1 2156.1H1340.3M1383.4 2420.3V2423.3M1340.3 2420.3V2423.3M1426.5 2420.3V2423.3M1432.1 2097.3H1434.3M1432.1 2117H1434.3M1432.1 2136.9H1434.3M1432.1 2156.1H1434.3M1477.4 2420.3V2423.3M1434.3 2420.3V2423.3M1520.5 2420.3V2423.3M1526.2 2097.3H1528.4M1526.2 2117H1528.4M1526.2 2136.9H1528.4M1526.2 2156.1H1528.4M1571.5 2420.3V2423.3M1528.4 2420.3V2423.3M1614.6 2420.3V2423.3M1620.3 2097.3H1622.5M1620.3 2117H1622.5M1620.3 2136.9H1622.5M1620.3 2156.1H1622.5M1665.6 2420.3V2423.3M1622.5 2420.3V2423.3M1708.7 2420.3V2423.3M1714.3 2097.3H1716.5M1714.3 2117H1716.5M1714.3 2136.9H1716.5M1714.3 2156.1H1716.5M1759.6 2420.3V2423.3M1716.5 2420.3V2423.3M1802.7 2420.3V2423.3M1808.4 2097.3H1810.6M1808.4 2117H1810.6M1808.4 2136.9H1810.6M1808.4 2156.1H1810.6M1853.7 2420.3V2423.3M1810.6 2420.3V2423.3M1896.8 2420.3V2423.3" stroke="#555" stroke-width="1.0" fill="none"/>
<path d="M1913 1488.1H1915.8M1913 1519.9H1915.8M1913 1551.8H1915.8M1913 1583.6H1915.8M1913 1615.4H1915.8M1913 1647.2H1915.8M1913 1679.1H1915.8M1913 1710.9H1915.8M1913 1845.4H1915.8M1913 1882.2H1915.8M1913 1918.9H1915.8M1913 1955.7H1915.8M1913 1992.4H1915.8M1913 2029.2H1915.8M1913 2065.9H1915.8M1913 2187.2H1915.8M1913 2216.4H1915.8M1913 2245.6H1915.8M1913 2274.8H1915.8M1913 2304H1915.8M1913 2333.2H1915.8M1913 2362.5H1915.8M1913 2391.7H1915.8M1913 2420.9H1915.8" stroke="#555" stroke-width="0.9" fill="none"/>
</svg>
</body></html>
